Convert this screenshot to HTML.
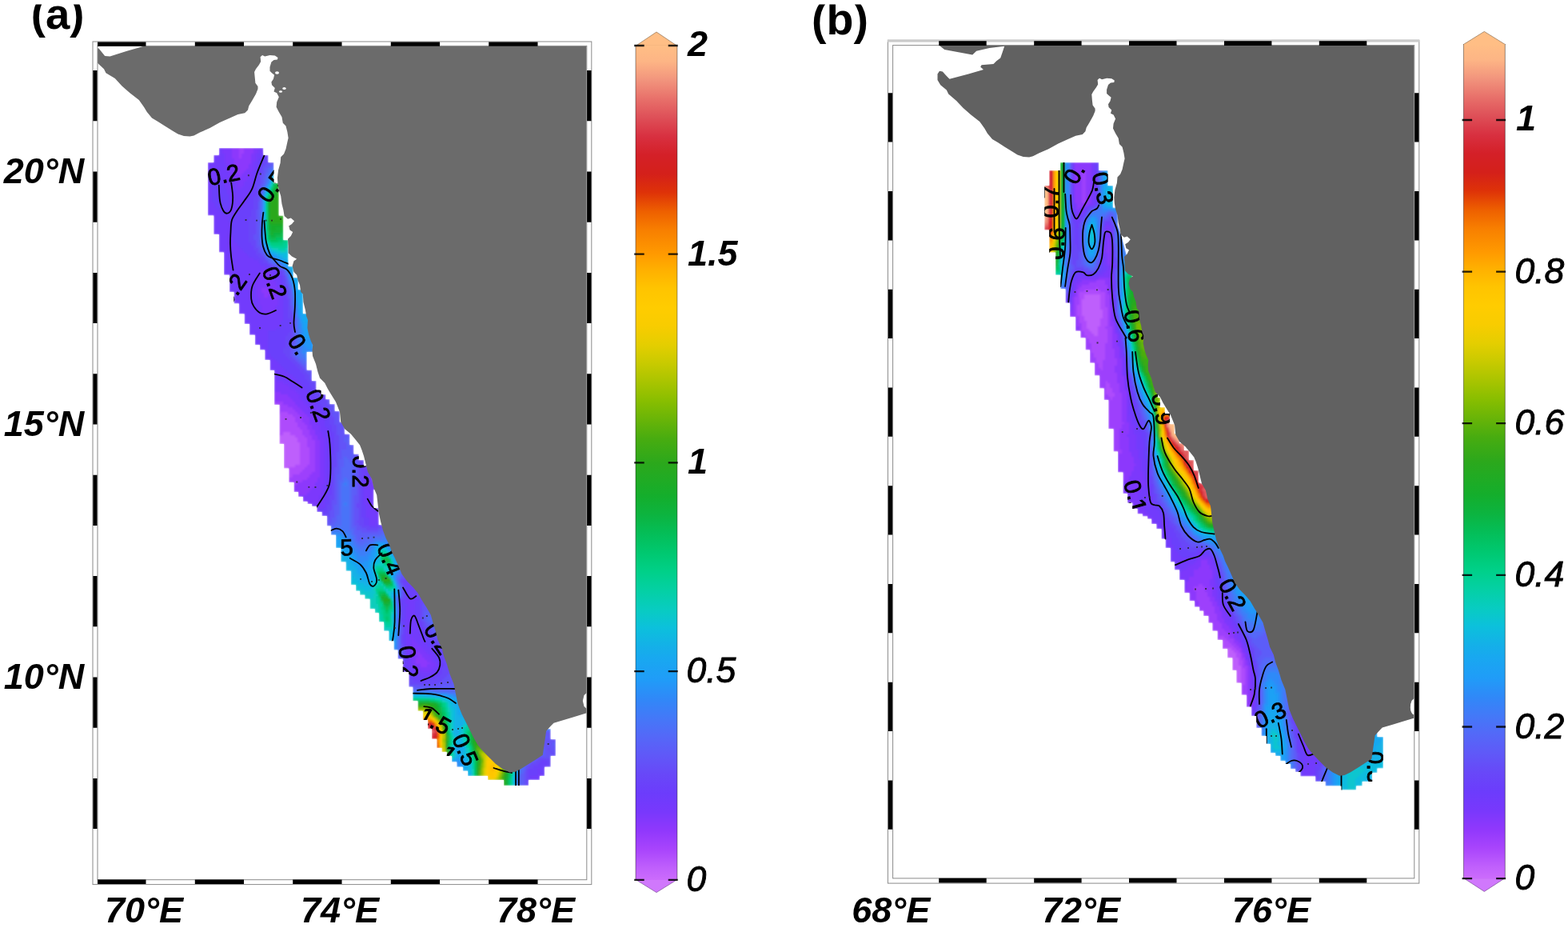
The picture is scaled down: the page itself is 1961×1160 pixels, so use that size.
<!DOCTYPE html>
<html lang="en"><head><meta charset="utf-8"><title>Figure: coastal maps (a) and (b)</title>
<style>
html,body{margin:0;padding:0;background:#fff;}
body{width:1961px;height:1160px;overflow:hidden;}
svg{display:block;}
text{font-family:"Liberation Sans", Arial, Helvetica, sans-serif;fill:#000;}
.bi{font-weight:bold;font-style:italic;font-size:45px;}
.b{font-weight:bold;font-size:55.5px;}
.ba{font-size:54.5px;}
.ci{font-style:italic;font-size:44.5px;stroke:#000;stroke-width:0.9px;}
.cl{font-size:29px;}
</style></head><body>
<svg width="1961" height="1160" viewBox="0 0 1961 1160">
<defs>
<linearGradient id="cbA" gradientUnits="userSpaceOnUse" x1="0" y1="56.9" x2="0" y2="1100"><stop offset="0.0000" stop-color="#FFBE85"/><stop offset="0.0190" stop-color="#FDB585"/><stop offset="0.0410" stop-color="#F2957D"/><stop offset="0.0640" stop-color="#E8706A"/><stop offset="0.0860" stop-color="#DE5058"/><stop offset="0.1090" stop-color="#D83040"/><stop offset="0.1310" stop-color="#D42028"/><stop offset="0.1540" stop-color="#D4201A"/><stop offset="0.1760" stop-color="#DE3208"/><stop offset="0.1990" stop-color="#EE6000"/><stop offset="0.2220" stop-color="#F88000"/><stop offset="0.2500" stop-color="#FF9A00"/><stop offset="0.2690" stop-color="#FFB000"/><stop offset="0.2910" stop-color="#FFC400"/><stop offset="0.3140" stop-color="#FFCC00"/><stop offset="0.3360" stop-color="#F8CC00"/><stop offset="0.3590" stop-color="#E4CE00"/><stop offset="0.3810" stop-color="#C8CA00"/><stop offset="0.4040" stop-color="#A8C400"/><stop offset="0.4260" stop-color="#88BE00"/><stop offset="0.4490" stop-color="#68B408"/><stop offset="0.4710" stop-color="#48AC10"/><stop offset="0.5000" stop-color="#2CA81C"/><stop offset="0.5400" stop-color="#14AE2C"/><stop offset="0.5630" stop-color="#0CB440"/><stop offset="0.5850" stop-color="#04BE58"/><stop offset="0.6080" stop-color="#00C870"/><stop offset="0.6300" stop-color="#00D088"/><stop offset="0.6530" stop-color="#04D0A4"/><stop offset="0.6750" stop-color="#08CCC0"/><stop offset="0.6980" stop-color="#0CC0DC"/><stop offset="0.7200" stop-color="#14B0E8"/><stop offset="0.7340" stop-color="#18A8F0"/><stop offset="0.7600" stop-color="#209CF8"/><stop offset="0.7830" stop-color="#3088F8"/><stop offset="0.8060" stop-color="#4478F8"/><stop offset="0.8280" stop-color="#5468F8"/><stop offset="0.8510" stop-color="#6058F8"/><stop offset="0.8730" stop-color="#6848F8"/><stop offset="0.8960" stop-color="#6C3CFC"/><stop offset="0.9180" stop-color="#7838FC"/><stop offset="0.9410" stop-color="#9038FC"/><stop offset="0.9630" stop-color="#A844FC"/><stop offset="0.9860" stop-color="#C060FC"/><stop offset="1.0000" stop-color="#CC6CFC"/></linearGradient>
<linearGradient id="cbB" gradientUnits="userSpaceOnUse" x1="0" y1="55" x2="0" y2="1098.1"><stop offset="0.0000" stop-color="#FFBE85"/><stop offset="0.0190" stop-color="#FDB585"/><stop offset="0.0410" stop-color="#F2957D"/><stop offset="0.0640" stop-color="#E8706A"/><stop offset="0.0860" stop-color="#DE5058"/><stop offset="0.1090" stop-color="#D83040"/><stop offset="0.1310" stop-color="#D42028"/><stop offset="0.1540" stop-color="#D4201A"/><stop offset="0.1760" stop-color="#DE3208"/><stop offset="0.1990" stop-color="#EE6000"/><stop offset="0.2220" stop-color="#F88000"/><stop offset="0.2500" stop-color="#FF9A00"/><stop offset="0.2690" stop-color="#FFB000"/><stop offset="0.2910" stop-color="#FFC400"/><stop offset="0.3140" stop-color="#FFCC00"/><stop offset="0.3360" stop-color="#F8CC00"/><stop offset="0.3590" stop-color="#E4CE00"/><stop offset="0.3810" stop-color="#C8CA00"/><stop offset="0.4040" stop-color="#A8C400"/><stop offset="0.4260" stop-color="#88BE00"/><stop offset="0.4490" stop-color="#68B408"/><stop offset="0.4710" stop-color="#48AC10"/><stop offset="0.5000" stop-color="#2CA81C"/><stop offset="0.5400" stop-color="#14AE2C"/><stop offset="0.5630" stop-color="#0CB440"/><stop offset="0.5850" stop-color="#04BE58"/><stop offset="0.6080" stop-color="#00C870"/><stop offset="0.6300" stop-color="#00D088"/><stop offset="0.6530" stop-color="#04D0A4"/><stop offset="0.6750" stop-color="#08CCC0"/><stop offset="0.6980" stop-color="#0CC0DC"/><stop offset="0.7200" stop-color="#14B0E8"/><stop offset="0.7340" stop-color="#18A8F0"/><stop offset="0.7600" stop-color="#209CF8"/><stop offset="0.7830" stop-color="#3088F8"/><stop offset="0.8060" stop-color="#4478F8"/><stop offset="0.8280" stop-color="#5468F8"/><stop offset="0.8510" stop-color="#6058F8"/><stop offset="0.8730" stop-color="#6848F8"/><stop offset="0.8960" stop-color="#6C3CFC"/><stop offset="0.9180" stop-color="#7838FC"/><stop offset="0.9410" stop-color="#9038FC"/><stop offset="0.9630" stop-color="#A844FC"/><stop offset="0.9860" stop-color="#C060FC"/><stop offset="1.0000" stop-color="#CC6CFC"/></linearGradient>
<clipPath id="mA"><path d="M273.8 185 L273.8 193.8 L267.2 193.8 L267.2 203 L259.8 203 L259.8 269.4 L267.2 269.4 L267.2 293.1 L273.8 293.1 L273.8 315.6 L280 315.6 L280 343.8 L286.9 343.8 L286.9 365 L292.5 365 L292.5 379.4 L298.8 379.4 L298.8 392.5 L305.6 392.5 L305.6 405 L311.9 405 L311.9 418.8 L318.8 418.8 L318.8 431.2 L325 431.2 L325 437.5 L331.2 437.5 L331.2 450 L337.5 450 L337.5 463 L343 463 L343 506 L349.4 506 L349.4 555 L355 555 L355 585.6 L361.2 585.6 L361.2 603 L367.5 603 L367.5 615 L373 615 L373 621 L378.8 621 L378.8 627 L384.5 627 L384.5 630 L390 630 L390 633 L396.2 633 L396.2 640 L402.5 640 L402.5 645 L408.8 645 L408.8 657.5 L413.8 657.5 L413.8 668.8 L420 668.8 L420 685 L426.2 685 L426.2 702.5 L432.5 702.5 L432.5 713.8 L438.8 713.8 L438.8 731.2 L445 731.2 L445 738.8 L450 738.8 L450 743.8 L456.2 743.8 L456.2 748.8 L462.5 748.8 L462.5 761.2 L468.8 761.2 L468.8 766.2 L473.8 766.2 L473.8 777.5 L480 777.5 L480 788.8 L486.2 788.8 L486.2 801.2 L492.5 801.2 L492.5 812.5 L497.5 812.5 L497.5 823.8 L503.8 823.8 L503.8 840 L511.2 840 L511.2 858.8 L516.2 858.8 L516.2 876.2 L522.5 876.2 L522.5 888.8 L528.8 888.8 L528.8 900 L535 900 L535 911.2 L540 911.2 L540 923.8 L546.2 923.8 L546.2 935 L552.5 935 L552.5 940 L558.8 940 L558.8 945 L565 945 L565 952.5 L571.2 952.5 L571.2 958.8 L578.8 958.8 L578.8 963.8 L585 963.8 L585 970 L610 970 L610 975 L630 975 L630 982 L661.2 982 L661.2 975 L675 975 L675 970 L681.2 970 L681.2 958.8 L688.8 958.8 L688.8 945 L695 945 L695 924 L688.8 924 L688.8 911 L680 911 L650 935 L610 910 L590 870 L575 830 L565 800 L555 775 L540 745 L520 715 L505 690 L492 668 L477.5 656 L473.8 656 L473.8 635 L467.5 635 L467.5 612 L470 612 L465 595 L460 582.5 L455 582.5 L455 575 L448.8 575 L448.8 567.5 L442.5 567.5 L442.5 556 L437.5 556 L437.5 542.5 L431.2 542.5 L431.2 527.5 L425 527.5 L425 513.8 L418.8 513.8 L418.8 505 L412.5 505 L412.5 499 L407.5 499 L407.5 493 L401.5 493 L401.5 487.5 L395.6 487.5 L395.6 476 L390 476 L390 462.5 L383.8 462.5 L383.8 440 L392 440 L392 420 L388 400 L385 392 L379 392 L379 362 L373 362 L373 347 L366.9 347 L366.9 333 L360.6 333 L360.6 300 L354.4 300 L354.4 269.4 L348.8 269.4 L348.8 228.8 L342.5 228.8 L342.5 203 L335.6 203 L335.6 193.8 L329.4 193.8 L329.4 185Z"/></clipPath>
<clipPath id="mB"><path d="M1326 203 L1326 213 L1312.2 213 L1312.2 232 L1306.2 232 L1306.2 287.5 L1312.2 287.5 L1312.2 315.6 L1320 315.6 L1320 343.8 L1326.2 343.8 L1326.2 361.2 L1332.5 361.2 L1332.5 378.8 L1338 378.8 L1338 396.2 L1345 396.2 L1345 413.8 L1351.2 413.8 L1351.2 422.5 L1357.5 422.5 L1357.5 437.5 L1363 437.5 L1363 453.8 L1368.8 453.8 L1368.8 469.4 L1375 469.4 L1375 485.6 L1380.6 485.6 L1380.6 500 L1386.2 500 L1386.2 536.2 L1392.5 536.2 L1392.5 564.4 L1398 564.4 L1398 590.6 L1404.4 590.6 L1404.4 617 L1410 617 L1410 628.8 L1416.2 628.8 L1416.2 636 L1422.5 636 L1422.5 642.5 L1428.8 642.5 L1428.8 645.5 L1435 645.5 L1435 648.8 L1440 648.8 L1440 655 L1446.2 655 L1446.2 661.2 L1452.5 661.2 L1452.5 673.8 L1457.5 673.8 L1457.5 685 L1463.8 685 L1463.8 702.5 L1468.8 702.5 L1468.8 712.5 L1475 712.5 L1475 725 L1481.2 725 L1481.2 741.2 L1487.5 741.2 L1487.5 751.2 L1493.8 751.2 L1493.8 758.8 L1500 758.8 L1500 763.8 L1505 763.8 L1505 770 L1511.2 770 L1511.2 778.8 L1516.2 778.8 L1516.2 788.8 L1522.5 788.8 L1522.5 800 L1528.8 800 L1528.8 811.2 L1535 811.2 L1535 822.5 L1541.2 822.5 L1541.2 838 L1546.2 838 L1546.2 853.8 L1552.5 853.8 L1552.5 868.8 L1558.8 868.8 L1558.8 883.8 L1565 883.8 L1565 895 L1571.2 895 L1571.2 910 L1577.5 910 L1577.5 920 L1583.8 920 L1583.8 930 L1588.8 930 L1588.8 941.2 L1595 941.2 L1595 945 L1601.2 945 L1601.2 951.2 L1607.5 951.2 L1607.5 955 L1613.8 955 L1613.8 961.2 L1620 961.2 L1620 965 L1626.2 965 L1626.2 970.6 L1645 970.6 L1645 977 L1657.5 977 L1657.5 982.5 L1677.5 982.5 L1677.5 987.5 L1696.2 987.5 L1696.2 982.5 L1703.8 982.5 L1703.8 977 L1716.2 977 L1716.2 966 L1722.5 966 L1722.5 960.5 L1730 960.5 L1730 921 L1722.5 921 L1722.5 914 L1718 914 L1690 940 L1650 915 L1630 880 L1618 840 L1605 805 L1590 770 L1570 740 L1550 715 L1535 690 L1528 665 L1522 640 L1518 620 L1508 606 L1499 603 L1499 588 L1493 588 L1493 575 L1487 575 L1487 563 L1481 563 L1481 554 L1475 554 L1475 542 L1469 542 L1469 530 L1463 530 L1463 517 L1457 517 L1457 509 L1451 509 L1451 497 L1448 497 L1448 480 L1440 440 L1430 400 L1420 360 L1412 330 L1404 300 L1398 280 L1398 259.4 L1392 259.4 L1392 232 L1385.6 232 L1385.6 213 L1374.4 213 L1374.4 203Z"/></clipPath>
<clipPath id="fA"><rect x="122" y="57.4" width="611.8" height="1042.3"/></clipPath>
<clipPath id="fB"><rect x="1116.6" y="56.6" width="652.2" height="1041.3"/></clipPath>
<clipPath id="tA"><rect x="0" y="5.4" width="300" height="60"/></clipPath>
<clipPath id="tB"><rect x="1000" y="5.4" width="300" height="60"/></clipPath>
<filter id="bl" x="-5%" y="-5%" width="110%" height="110%"><feGaussianBlur stdDeviation="0.8"/></filter>
</defs>
<rect width="1961" height="1160" fill="#fff"/>
<g id="panel-a">
<g clip-path="url(#mA)"><g filter="url(#bl)"><g clip-path="url(#mA)" shape-rendering="crispEdges">
<path fill="#be5efc" d="M353.7 539.7h9.8v3.8h-9.8zM347.6 542.8h22v3.8h-22zM347.6 546h25.1v3.8h-25.1zM347.6 549.2h25.1v3.8h-25.1zM347.6 552.3h28.2v3.8h-28.2zM353.7 555.5h22v3.8h-22zM353.7 558.6h22v3.8h-22zM353.7 561.8h22v3.8h-22zM353.7 565h22v3.8h-22zM353.7 568.1h22v3.8h-22zM353.7 571.3h22v3.8h-22zM353.7 574.4h22v3.8h-22zM353.7 577.6h22v3.8h-22zM353.7 580.8h15.9v3.8h-15.9zM353.7 583.9h6.7v3.8h-6.7z"/>
<path fill="#ae4bfc" d="M350.6 514.4h9.8v3.8h-9.8zM347.6 517.6h19v3.8h-19zM347.6 520.7h22v3.8h-22zM347.6 523.9h22v3.8h-22zM347.6 527h25.1v3.8h-25.1zM347.6 530.2h25.1v3.8h-25.1zM347.6 533.4h28.2v3.8h-28.2zM347.6 536.5h31.2v3.8h-31.2zM347.6 539.7h6.7v3.8h-6.7zM362.9 539.7h15.9v3.8h-15.9zM369 542.8h12.8v3.8h-12.8zM372.1 546h12.8v3.8h-12.8zM372.1 549.2h12.8v3.8h-12.8zM375.1 552.3h9.8v3.8h-9.8zM375.1 555.5h9.8v3.8h-9.8zM375.1 558.6h12.8v3.8h-12.8zM375.1 561.8h12.8v3.8h-12.8zM375.1 565h12.8v3.8h-12.8zM375.1 568.1h12.8v3.8h-12.8zM375.1 571.3h12.8v3.8h-12.8zM375.1 574.4h12.8v3.8h-12.8zM375.1 577.6h12.8v3.8h-12.8zM369 580.8h15.9v3.8h-15.9zM359.8 583.9h22v3.8h-22zM359.8 587.1h19v3.8h-19zM359.8 590.2h15.9v3.8h-15.9zM359.8 593.4h6.7v3.8h-6.7z"/>
<path fill="#9d3ffc" d="M298.6 182.6h6.7v3.8h-6.7zM298.6 185.8h6.7v3.8h-6.7zM298.6 188.9h6.7v3.8h-6.7zM298.6 192.1h3.7v3.8h-3.7zM298.6 195.2h3.7v3.8h-3.7zM341.4 501.8h12.8v3.8h-12.8zM341.4 504.9h19v3.8h-19zM347.6 508.1h19v3.8h-19zM347.6 511.2h22v3.8h-22zM347.6 514.4h3.7v3.8h-3.7zM359.8 514.4h12.8v3.8h-12.8zM365.9 517.6h9.8v3.8h-9.8zM369 520.7h9.8v3.8h-9.8zM369 523.9h9.8v3.8h-9.8zM372.1 527h9.8v3.8h-9.8zM372.1 530.2h12.8v3.8h-12.8zM375.1 533.4h9.8v3.8h-9.8zM378.2 536.5h9.8v3.8h-9.8zM378.2 539.7h9.8v3.8h-9.8zM381.3 542.8h9.8v3.8h-9.8zM384.3 546h6.7v3.8h-6.7zM384.3 549.2h9.8v3.8h-9.8zM384.3 552.3h9.8v3.8h-9.8zM384.3 555.5h9.8v3.8h-9.8zM387.4 558.6h6.7v3.8h-6.7zM387.4 561.8h6.7v3.8h-6.7zM387.4 565h6.7v3.8h-6.7zM387.4 568.1h6.7v3.8h-6.7zM387.4 571.3h6.7v3.8h-6.7zM387.4 574.4h6.7v3.8h-6.7zM387.4 577.6h6.7v3.8h-6.7zM384.3 580.8h9.8v3.8h-9.8zM381.3 583.9h12.8v3.8h-12.8zM378.2 587.1h15.9v3.8h-15.9zM375.1 590.2h15.9v3.8h-15.9zM365.9 593.4h22v3.8h-22zM359.8 596.6h25.1v3.8h-25.1zM359.8 599.7h19v3.8h-19zM365.9 602.9h6.7v3.8h-6.7z"/>
<path fill="#8c38fc" d="M289.4 182.6h9.8v3.8h-9.8zM304.7 182.6h12.8v3.8h-12.8zM289.4 185.8h9.8v3.8h-9.8zM304.7 185.8h12.8v3.8h-12.8zM289.4 188.9h9.8v3.8h-9.8zM304.7 188.9h12.8v3.8h-12.8zM289.4 192.1h9.8v3.8h-9.8zM301.6 192.1h12.8v3.8h-12.8zM289.4 195.2h9.8v3.8h-9.8zM301.6 195.2h12.8v3.8h-12.8zM292.4 198.4h22v3.8h-22zM292.4 201.6h22v3.8h-22zM292.4 204.7h19v3.8h-19zM292.4 207.9h19v3.8h-19zM295.5 211h12.8v3.8h-12.8zM295.5 214.2h9.8v3.8h-9.8zM298.6 217.4h3.7v3.8h-3.7zM326.1 359.6h9.8v3.8h-9.8zM326.1 362.7h15.9v3.8h-15.9zM329.2 365.9h9.8v3.8h-9.8zM329.2 369h6.7v3.8h-6.7zM341.4 489.1h9.8v3.8h-9.8zM341.4 492.3h19v3.8h-19zM341.4 495.4h22v3.8h-22zM341.4 498.6h25.1v3.8h-25.1zM353.7 501.8h15.9v3.8h-15.9zM359.8 504.9h12.8v3.8h-12.8zM365.9 508.1h9.8v3.8h-9.8zM369 511.2h9.8v3.8h-9.8zM372.1 514.4h9.8v3.8h-9.8zM375.1 517.6h9.8v3.8h-9.8zM378.2 520.7h9.8v3.8h-9.8zM378.2 523.9h9.8v3.8h-9.8zM381.3 527h6.7v3.8h-6.7zM384.3 530.2h6.7v3.8h-6.7zM384.3 533.4h6.7v3.8h-6.7zM387.4 536.5h6.7v3.8h-6.7zM387.4 539.7h6.7v3.8h-6.7zM390.4 542.8h6.7v3.8h-6.7zM390.4 546h6.7v3.8h-6.7zM393.5 549.2h6.7v3.8h-6.7zM393.5 552.3h6.7v3.8h-6.7zM393.5 555.5h6.7v3.8h-6.7zM393.5 558.6h6.7v3.8h-6.7zM393.5 561.8h6.7v3.8h-6.7zM393.5 565h6.7v3.8h-6.7zM393.5 568.1h6.7v3.8h-6.7zM393.5 571.3h6.7v3.8h-6.7zM393.5 574.4h6.7v3.8h-6.7zM393.5 577.6h6.7v3.8h-6.7zM393.5 580.8h6.7v3.8h-6.7zM393.5 583.9h6.7v3.8h-6.7zM393.5 587.1h6.7v3.8h-6.7zM390.4 590.2h9.8v3.8h-9.8zM387.4 593.4h12.8v3.8h-12.8zM384.3 596.6h12.8v3.8h-12.8zM378.2 599.7h19v3.8h-19zM372.1 602.9h22v3.8h-22zM365.9 606h28.2v3.8h-28.2zM365.9 609.2h25.1v3.8h-25.1zM365.9 612.4h22v3.8h-22zM372.1 615.5h12.8v3.8h-12.8zM372.1 618.7h3.7v3.8h-3.7zM519.1 814.6h6.7v3.8h-6.7zM522.1 817.8h6.7v3.8h-6.7zM519.1 820.9h12.8v3.8h-12.8zM519.1 824.1h15.9v3.8h-15.9zM519.1 827.2h19v3.8h-19zM525.2 830.4h9.8v3.8h-9.8z"/>
<path fill="#7c38fc" d="M277.1 182.6h12.8v3.8h-12.8zM316.9 182.6h6.7v3.8h-6.7zM277.1 185.8h12.8v3.8h-12.8zM316.9 185.8h6.7v3.8h-6.7zM277.1 188.9h12.8v3.8h-12.8zM316.9 188.9h6.7v3.8h-6.7zM280.2 192.1h9.8v3.8h-9.8zM313.9 192.1h6.7v3.8h-6.7zM280.2 195.2h9.8v3.8h-9.8zM313.9 195.2h6.7v3.8h-6.7zM280.2 198.4h12.8v3.8h-12.8zM313.9 198.4h6.7v3.8h-6.7zM280.2 201.6h12.8v3.8h-12.8zM313.9 201.6h3.7v3.8h-3.7zM283.3 204.7h9.8v3.8h-9.8zM310.8 204.7h6.7v3.8h-6.7zM283.3 207.9h9.8v3.8h-9.8zM310.8 207.9h6.7v3.8h-6.7zM283.3 211h12.8v3.8h-12.8zM307.8 211h9.8v3.8h-9.8zM286.3 214.2h9.8v3.8h-9.8zM304.7 214.2h9.8v3.8h-9.8zM286.3 217.4h12.8v3.8h-12.8zM301.6 217.4h12.8v3.8h-12.8zM289.4 220.5h22v3.8h-22zM292.4 223.7h15.9v3.8h-15.9zM295.5 226.8h9.8v3.8h-9.8zM295.5 230h9.8v3.8h-9.8zM295.5 233.2h6.7v3.8h-6.7zM326.1 337.4h12.8v3.8h-12.8zM323.1 340.6h15.9v3.8h-15.9zM320 343.8h22v3.8h-22zM320 346.9h22v3.8h-22zM320 350.1h25.1v3.8h-25.1zM316.9 353.2h28.2v3.8h-28.2zM320 356.4h28.2v3.8h-28.2zM320 359.6h6.7v3.8h-6.7zM335.3 359.6h12.8v3.8h-12.8zM320 362.7h6.7v3.8h-6.7zM341.4 362.7h6.7v3.8h-6.7zM320 365.9h9.8v3.8h-9.8zM338.4 365.9h9.8v3.8h-9.8zM320 369h9.8v3.8h-9.8zM335.3 369h12.8v3.8h-12.8zM323.1 372.2h25.1v3.8h-25.1zM323.1 375.4h25.1v3.8h-25.1zM323.1 378.5h25.1v3.8h-25.1zM326.1 381.7h19v3.8h-19zM326.1 384.8h19v3.8h-19zM326.1 388h19v3.8h-19zM332.3 391.2h9.8v3.8h-9.8zM341.4 473.3h3.7v3.8h-3.7zM341.4 476.5h12.8v3.8h-12.8zM341.4 479.6h19v3.8h-19zM341.4 482.8h22v3.8h-22zM341.4 486h28.2v3.8h-28.2zM350.6 489.1h22v3.8h-22zM359.8 492.3h15.9v3.8h-15.9zM362.9 495.4h12.8v3.8h-12.8zM365.9 498.6h12.8v3.8h-12.8zM369 501.8h12.8v3.8h-12.8zM372.1 504.9h12.8v3.8h-12.8zM375.1 508.1h12.8v3.8h-12.8zM378.2 511.2h9.8v3.8h-9.8zM381.3 514.4h9.8v3.8h-9.8zM384.3 517.6h9.8v3.8h-9.8zM387.4 520.7h6.7v3.8h-6.7zM387.4 523.9h9.8v3.8h-9.8zM387.4 527h9.8v3.8h-9.8zM390.4 530.2h9.8v3.8h-9.8zM390.4 533.4h9.8v3.8h-9.8zM393.5 536.5h6.7v3.8h-6.7zM393.5 539.7h9.8v3.8h-9.8zM396.6 542.8h6.7v3.8h-6.7zM396.6 546h9.8v3.8h-9.8zM399.6 549.2h6.7v3.8h-6.7zM399.6 552.3h6.7v3.8h-6.7zM399.6 555.5h6.7v3.8h-6.7zM399.6 558.6h6.7v3.8h-6.7zM399.6 561.8h6.7v3.8h-6.7zM399.6 565h6.7v3.8h-6.7zM399.6 568.1h6.7v3.8h-6.7zM399.6 571.3h6.7v3.8h-6.7zM399.6 574.4h6.7v3.8h-6.7zM399.6 577.6h6.7v3.8h-6.7zM399.6 580.8h6.7v3.8h-6.7zM399.6 583.9h6.7v3.8h-6.7zM399.6 587.1h6.7v3.8h-6.7zM399.6 590.2h6.7v3.8h-6.7zM399.6 593.4h6.7v3.8h-6.7zM396.6 596.6h9.8v3.8h-9.8zM396.6 599.7h9.8v3.8h-9.8zM393.5 602.9h12.8v3.8h-12.8zM393.5 606h9.8v3.8h-9.8zM390.4 609.2h12.8v3.8h-12.8zM387.4 612.4h15.9v3.8h-15.9zM384.3 615.5h19v3.8h-19zM375.1 618.7h25.1v3.8h-25.1zM378.2 621.8h22v3.8h-22zM378.2 625h22v3.8h-22zM381.3 628.2h15.9v3.8h-15.9zM513 795.6h3.7v3.8h-3.7zM513 798.8h6.7v3.8h-6.7zM513 802h9.8v3.8h-9.8zM513 805.1h12.8v3.8h-12.8zM513 808.3h15.9v3.8h-15.9zM513 811.4h19v3.8h-19zM513 814.6h6.7v3.8h-6.7zM525.2 814.6h9.8v3.8h-9.8zM513 817.8h9.8v3.8h-9.8zM528.3 817.8h9.8v3.8h-9.8zM513 820.9h6.7v3.8h-6.7zM531.3 820.9h9.8v3.8h-9.8zM513 824.1h6.7v3.8h-6.7zM534.4 824.1h6.7v3.8h-6.7zM513 827.2h6.7v3.8h-6.7zM537.5 827.2h6.7v3.8h-6.7zM516 830.4h9.8v3.8h-9.8zM534.4 830.4h9.8v3.8h-9.8zM519.1 833.6h22v3.8h-22zM525.2 836.7h12.8v3.8h-12.8z"/>
<path fill="#723afc" d="M271 182.6h6.7v3.8h-6.7zM323.1 182.6h9.8v3.8h-9.8zM271 185.8h6.7v3.8h-6.7zM323.1 185.8h9.8v3.8h-9.8zM271 188.9h6.7v3.8h-6.7zM323.1 188.9h6.7v3.8h-6.7zM264.9 192.1h15.9v3.8h-15.9zM320 192.1h6.7v3.8h-6.7zM264.9 195.2h15.9v3.8h-15.9zM320 195.2h6.7v3.8h-6.7zM264.9 198.4h15.9v3.8h-15.9zM320 198.4h3.7v3.8h-3.7zM258.8 201.6h22v3.8h-22zM316.9 201.6h6.7v3.8h-6.7zM258.8 204.7h25.1v3.8h-25.1zM316.9 204.7h6.7v3.8h-6.7zM258.8 207.9h25.1v3.8h-25.1zM316.9 207.9h6.7v3.8h-6.7zM258.8 211h25.1v3.8h-25.1zM316.9 211h3.7v3.8h-3.7zM258.8 214.2h28.2v3.8h-28.2zM313.9 214.2h6.7v3.8h-6.7zM258.8 217.4h28.2v3.8h-28.2zM313.9 217.4h6.7v3.8h-6.7zM258.8 220.5h31.2v3.8h-31.2zM310.8 220.5h6.7v3.8h-6.7zM258.8 223.7h12.8v3.8h-12.8zM277.1 223.7h15.9v3.8h-15.9zM307.8 223.7h9.8v3.8h-9.8zM258.8 226.8h9.8v3.8h-9.8zM277.1 226.8h19v3.8h-19zM304.7 226.8h12.8v3.8h-12.8zM258.8 230h6.7v3.8h-6.7zM280.2 230h15.9v3.8h-15.9zM304.7 230h9.8v3.8h-9.8zM258.8 233.2h6.7v3.8h-6.7zM280.2 233.2h15.9v3.8h-15.9zM301.6 233.2h12.8v3.8h-12.8zM258.8 236.3h6.7v3.8h-6.7zM283.3 236.3h31.2v3.8h-31.2zM258.8 239.5h6.7v3.8h-6.7zM283.3 239.5h28.2v3.8h-28.2zM258.8 242.6h6.7v3.8h-6.7zM286.3 242.6h25.1v3.8h-25.1zM258.8 245.8h6.7v3.8h-6.7zM286.3 245.8h25.1v3.8h-25.1zM258.8 249h6.7v3.8h-6.7zM286.3 249h22v3.8h-22zM258.8 252.1h9.8v3.8h-9.8zM286.3 252.1h22v3.8h-22zM258.8 255.3h9.8v3.8h-9.8zM286.3 255.3h19v3.8h-19zM258.8 258.4h12.8v3.8h-12.8zM286.3 258.4h15.9v3.8h-15.9zM258.8 261.6h15.9v3.8h-15.9zM283.3 261.6h15.9v3.8h-15.9zM258.8 264.8h19v3.8h-19zM283.3 264.8h12.8v3.8h-12.8zM258.8 267.9h31.2v3.8h-31.2zM264.9 271.1h22v3.8h-22zM264.9 274.2h22v3.8h-22zM264.9 277.4h25.1v3.8h-25.1zM264.9 280.6h25.1v3.8h-25.1zM264.9 283.7h25.1v3.8h-25.1zM264.9 286.9h25.1v3.8h-25.1zM264.9 290h25.1v3.8h-25.1zM271 293.2h22v3.8h-22zM271 296.4h22v3.8h-22zM271 299.5h22v3.8h-22zM271 302.7h25.1v3.8h-25.1zM271 305.8h28.2v3.8h-28.2zM271 309h31.2v3.8h-31.2zM271 312.2h34.3v3.8h-34.3zM271 315.3h37.4v3.8h-37.4zM277.1 318.5h34.3v3.8h-34.3zM277.1 321.6h40.4v3.8h-40.4zM277.1 324.8h46.5v3.8h-46.5zM277.1 328h49.6v3.8h-49.6zM277.1 331.1h55.7v3.8h-55.7zM277.1 334.3h61.9v3.8h-61.9zM277.1 337.4h49.6v3.8h-49.6zM338.4 337.4h6.7v3.8h-6.7zM277.1 340.6h46.5v3.8h-46.5zM338.4 340.6h9.8v3.8h-9.8zM286.3 343.8h34.3v3.8h-34.3zM341.4 343.8h9.8v3.8h-9.8zM286.3 346.9h34.3v3.8h-34.3zM341.4 346.9h9.8v3.8h-9.8zM286.3 350.1h34.3v3.8h-34.3zM344.5 350.1h6.7v3.8h-6.7zM286.3 353.2h31.2v3.8h-31.2zM344.5 353.2h9.8v3.8h-9.8zM286.3 356.4h34.3v3.8h-34.3zM347.6 356.4h6.7v3.8h-6.7zM286.3 359.6h34.3v3.8h-34.3zM347.6 359.6h6.7v3.8h-6.7zM286.3 362.7h34.3v3.8h-34.3zM347.6 362.7h6.7v3.8h-6.7zM289.4 365.9h31.2v3.8h-31.2zM347.6 365.9h6.7v3.8h-6.7zM289.4 369h31.2v3.8h-31.2zM347.6 369h6.7v3.8h-6.7zM289.4 372.2h34.3v3.8h-34.3zM347.6 372.2h6.7v3.8h-6.7zM289.4 375.4h34.3v3.8h-34.3zM347.6 375.4h6.7v3.8h-6.7zM289.4 378.5h34.3v3.8h-34.3zM347.6 378.5h6.7v3.8h-6.7zM295.5 381.7h31.2v3.8h-31.2zM344.5 381.7h9.8v3.8h-9.8zM295.5 384.8h31.2v3.8h-31.2zM344.5 384.8h9.8v3.8h-9.8zM295.5 388h31.2v3.8h-31.2zM344.5 388h9.8v3.8h-9.8zM295.5 391.2h37.4v3.8h-37.4zM341.4 391.2h12.8v3.8h-12.8zM304.7 394.3h49.6v3.8h-49.6zM304.7 397.5h49.6v3.8h-49.6zM304.7 400.6h46.5v3.8h-46.5zM304.7 403.8h46.5v3.8h-46.5zM310.8 407h40.4v3.8h-40.4zM310.8 410.1h34.3v3.8h-34.3zM310.8 413.3h25.1v3.8h-25.1zM310.8 416.4h25.1v3.8h-25.1zM316.9 419.6h19v3.8h-19zM316.9 422.8h19v3.8h-19zM316.9 425.9h19v3.8h-19zM316.9 429.1h19v3.8h-19zM323.1 432.2h12.8v3.8h-12.8zM323.1 435.4h12.8v3.8h-12.8zM329.2 438.6h6.7v3.8h-6.7zM329.2 441.7h9.8v3.8h-9.8zM329.2 444.9h12.8v3.8h-12.8zM329.2 448h15.9v3.8h-15.9zM335.3 451.2h12.8v3.8h-12.8zM335.3 454.4h15.9v3.8h-15.9zM335.3 457.5h19v3.8h-19zM335.3 460.7h22v3.8h-22zM341.4 463.8h19v3.8h-19zM341.4 467h25.1v3.8h-25.1zM341.4 470.2h28.2v3.8h-28.2zM344.5 473.3h28.2v3.8h-28.2zM353.7 476.5h22v3.8h-22zM359.8 479.6h19v3.8h-19zM362.9 482.8h19v3.8h-19zM369 486h15.9v3.8h-15.9zM372.1 489.1h12.8v3.8h-12.8zM375.1 492.3h12.8v3.8h-12.8zM375.1 495.4h15.9v3.8h-15.9zM378.2 498.6h12.8v3.8h-12.8zM381.3 501.8h12.8v3.8h-12.8zM384.3 504.9h12.8v3.8h-12.8zM387.4 508.1h12.8v3.8h-12.8zM387.4 511.2h12.8v3.8h-12.8zM390.4 514.4h12.8v3.8h-12.8zM393.5 517.6h12.8v3.8h-12.8zM393.5 520.7h12.8v3.8h-12.8zM396.6 523.9h9.8v3.8h-9.8zM396.6 527h9.8v3.8h-9.8zM399.6 530.2h6.7v3.8h-6.7zM399.6 533.4h9.8v3.8h-9.8zM399.6 536.5h9.8v3.8h-9.8zM402.7 539.7h6.7v3.8h-6.7zM402.7 542.8h9.8v3.8h-9.8zM405.8 546h6.7v3.8h-6.7zM405.8 549.2h6.7v3.8h-6.7zM405.8 552.3h6.7v3.8h-6.7zM405.8 555.5h6.7v3.8h-6.7zM405.8 558.6h6.7v3.8h-6.7zM405.8 561.8h6.7v3.8h-6.7zM405.8 565h6.7v3.8h-6.7zM405.8 568.1h6.7v3.8h-6.7zM405.8 571.3h6.7v3.8h-6.7zM405.8 574.4h6.7v3.8h-6.7zM405.8 577.6h6.7v3.8h-6.7zM405.8 580.8h6.7v3.8h-6.7zM405.8 583.9h6.7v3.8h-6.7zM405.8 587.1h6.7v3.8h-6.7zM405.8 590.2h6.7v3.8h-6.7zM405.8 593.4h6.7v3.8h-6.7zM405.8 596.6h6.7v3.8h-6.7zM457.8 596.6h9.8v3.8h-9.8zM405.8 599.7h6.7v3.8h-6.7zM454.8 599.7h15.9v3.8h-15.9zM405.8 602.9h6.7v3.8h-6.7zM454.8 602.9h15.9v3.8h-15.9zM402.7 606h9.8v3.8h-9.8zM454.8 606h15.9v3.8h-15.9zM402.7 609.2h6.7v3.8h-6.7zM454.8 609.2h15.9v3.8h-15.9zM402.7 612.4h6.7v3.8h-6.7zM454.8 612.4h15.9v3.8h-15.9zM402.7 615.5h6.7v3.8h-6.7zM454.8 615.5h15.9v3.8h-15.9zM399.6 618.7h9.8v3.8h-9.8zM454.8 618.7h15.9v3.8h-15.9zM399.6 621.8h6.7v3.8h-6.7zM454.8 621.8h15.9v3.8h-15.9zM399.6 625h6.7v3.8h-6.7zM454.8 625h15.9v3.8h-15.9zM396.6 628.2h9.8v3.8h-9.8zM454.8 628.2h15.9v3.8h-15.9zM387.4 631.3h19v3.8h-19zM457.8 631.3h12.8v3.8h-12.8zM393.5 634.5h6.7v3.8h-6.7zM457.8 634.5h19v3.8h-19zM457.8 637.6h19v3.8h-19zM457.8 640.8h19v3.8h-19zM457.8 644h19v3.8h-19zM460.9 647.1h15.9v3.8h-15.9zM460.9 650.3h15.9v3.8h-15.9zM460.9 653.4h9.8v3.8h-9.8zM509.9 745.1h9.8v3.8h-9.8zM506.8 748.2h15.9v3.8h-15.9zM506.8 751.4h12.8v3.8h-12.8zM509.9 754.6h9.8v3.8h-9.8zM506.8 757.7h12.8v3.8h-12.8zM506.8 760.9h12.8v3.8h-12.8zM506.8 764h12.8v3.8h-12.8zM506.8 767.2h12.8v3.8h-12.8zM506.8 770.4h12.8v3.8h-12.8zM506.8 773.5h12.8v3.8h-12.8zM506.8 776.7h15.9v3.8h-15.9zM506.8 779.8h15.9v3.8h-15.9zM506.8 783h19v3.8h-19zM506.8 786.2h19v3.8h-19zM506.8 789.3h19v3.8h-19zM506.8 792.5h22v3.8h-22zM506.8 795.6h6.7v3.8h-6.7zM516 795.6h12.8v3.8h-12.8zM506.8 798.8h6.7v3.8h-6.7zM519.1 798.8h12.8v3.8h-12.8zM506.8 802h6.7v3.8h-6.7zM522.1 802h12.8v3.8h-12.8zM506.8 805.1h6.7v3.8h-6.7zM525.2 805.1h9.8v3.8h-9.8zM506.8 808.3h6.7v3.8h-6.7zM528.3 808.3h9.8v3.8h-9.8zM506.8 811.4h6.7v3.8h-6.7zM531.3 811.4h9.8v3.8h-9.8zM506.8 814.6h6.7v3.8h-6.7zM534.4 814.6h6.7v3.8h-6.7zM509.9 817.8h3.7v3.8h-3.7zM537.5 817.8h6.7v3.8h-6.7zM509.9 820.9h3.7v3.8h-3.7zM540.5 820.9h3.7v3.8h-3.7zM509.9 824.1h3.7v3.8h-3.7zM540.5 824.1h6.7v3.8h-6.7zM506.8 827.2h6.7v3.8h-6.7zM543.6 827.2h6.7v3.8h-6.7zM509.9 830.4h6.7v3.8h-6.7zM543.6 830.4h6.7v3.8h-6.7zM509.9 833.6h9.8v3.8h-9.8zM540.5 833.6h6.7v3.8h-6.7zM513 836.7h12.8v3.8h-12.8zM537.5 836.7h9.8v3.8h-9.8zM519.1 839.9h25.1v3.8h-25.1zM525.2 843h12.8v3.8h-12.8zM672.2 960h3.7v3.8h-3.7zM672.2 963.1h3.7v3.8h-3.7zM672.2 966.3h6.7v3.8h-6.7zM663 969.4h19v3.8h-19z"/>
<path fill="#6b3ffb" d="M329.2 188.9h3.7v3.8h-3.7zM326.1 192.1h12.8v3.8h-12.8zM326.1 195.2h6.7v3.8h-6.7zM323.1 198.4h6.7v3.8h-6.7zM323.1 201.6h6.7v3.8h-6.7zM323.1 204.7h3.7v3.8h-3.7zM323.1 207.9h3.7v3.8h-3.7zM320 211h6.7v3.8h-6.7zM320 214.2h6.7v3.8h-6.7zM320 217.4h3.7v3.8h-3.7zM316.9 220.5h6.7v3.8h-6.7zM271 223.7h6.7v3.8h-6.7zM316.9 223.7h6.7v3.8h-6.7zM267.9 226.8h9.8v3.8h-9.8zM316.9 226.8h3.7v3.8h-3.7zM264.9 230h15.9v3.8h-15.9zM313.9 230h6.7v3.8h-6.7zM264.9 233.2h15.9v3.8h-15.9zM313.9 233.2h6.7v3.8h-6.7zM264.9 236.3h19v3.8h-19zM313.9 236.3h6.7v3.8h-6.7zM264.9 239.5h19v3.8h-19zM310.8 239.5h9.8v3.8h-9.8zM264.9 242.6h22v3.8h-22zM310.8 242.6h9.8v3.8h-9.8zM264.9 245.8h22v3.8h-22zM310.8 245.8h6.7v3.8h-6.7zM264.9 249h22v3.8h-22zM307.8 249h9.8v3.8h-9.8zM267.9 252.1h19v3.8h-19zM307.8 252.1h9.8v3.8h-9.8zM267.9 255.3h19v3.8h-19zM304.7 255.3h12.8v3.8h-12.8zM271 258.4h15.9v3.8h-15.9zM301.6 258.4h15.9v3.8h-15.9zM274.1 261.6h9.8v3.8h-9.8zM298.6 261.6h15.9v3.8h-15.9zM277.1 264.8h6.7v3.8h-6.7zM295.5 264.8h19v3.8h-19zM289.4 267.9h25.1v3.8h-25.1zM286.3 271.1h25.1v3.8h-25.1zM286.3 274.2h25.1v3.8h-25.1zM289.4 277.4h22v3.8h-22zM289.4 280.6h22v3.8h-22zM289.4 283.7h22v3.8h-22zM289.4 286.9h22v3.8h-22zM289.4 290h22v3.8h-22zM292.4 293.2h19v3.8h-19zM292.4 296.4h19v3.8h-19zM292.4 299.5h19v3.8h-19zM295.5 302.7h19v3.8h-19zM298.6 305.8h19v3.8h-19zM301.6 309h15.9v3.8h-15.9zM304.7 312.2h15.9v3.8h-15.9zM307.8 315.3h12.8v3.8h-12.8zM310.8 318.5h12.8v3.8h-12.8zM316.9 321.6h9.8v3.8h-9.8zM323.1 324.8h6.7v3.8h-6.7zM326.1 328h9.8v3.8h-9.8zM332.3 331.1h6.7v3.8h-6.7zM338.4 334.3h6.7v3.8h-6.7zM344.5 337.4h6.7v3.8h-6.7zM347.6 340.6h3.7v3.8h-3.7zM350.6 343.8h3.7v3.8h-3.7zM350.6 346.9h3.7v3.8h-3.7zM350.6 350.1h3.7v3.8h-3.7zM353.7 356.4h3.7v3.8h-3.7zM353.7 359.6h3.7v3.8h-3.7zM353.7 362.7h3.7v3.8h-3.7zM353.7 365.9h3.7v3.8h-3.7zM353.7 369h6.7v3.8h-6.7zM353.7 372.2h6.7v3.8h-6.7zM353.7 375.4h6.7v3.8h-6.7zM353.7 378.5h6.7v3.8h-6.7zM353.7 381.7h6.7v3.8h-6.7zM353.7 384.8h6.7v3.8h-6.7zM353.7 388h6.7v3.8h-6.7zM353.7 391.2h6.7v3.8h-6.7zM353.7 394.3h6.7v3.8h-6.7zM353.7 397.5h9.8v3.8h-9.8zM350.6 400.6h12.8v3.8h-12.8zM350.6 403.8h12.8v3.8h-12.8zM350.6 407h12.8v3.8h-12.8zM344.5 410.1h19v3.8h-19zM335.3 413.3h28.2v3.8h-28.2zM335.3 416.4h25.1v3.8h-25.1zM335.3 419.6h22v3.8h-22zM335.3 422.8h22v3.8h-22zM335.3 425.9h22v3.8h-22zM335.3 429.1h22v3.8h-22zM335.3 432.2h22v3.8h-22zM335.3 435.4h19v3.8h-19zM335.3 438.6h19v3.8h-19zM338.4 441.7h19v3.8h-19zM341.4 444.9h19v3.8h-19zM344.5 448h19v3.8h-19zM347.6 451.2h19v3.8h-19zM350.6 454.4h19v3.8h-19zM353.7 457.5h19v3.8h-19zM356.8 460.7h19v3.8h-19zM359.8 463.8h19v3.8h-19zM365.9 467h15.9v3.8h-15.9zM369 470.2h12.8v3.8h-12.8zM372.1 473.3h12.8v3.8h-12.8zM375.1 476.5h12.8v3.8h-12.8zM378.2 479.6h9.8v3.8h-9.8zM381.3 482.8h9.8v3.8h-9.8zM384.3 486h6.7v3.8h-6.7zM384.3 489.1h9.8v3.8h-9.8zM387.4 492.3h6.7v3.8h-6.7zM390.4 495.4h6.7v3.8h-6.7zM390.4 498.6h9.8v3.8h-9.8zM393.5 501.8h6.7v3.8h-6.7zM396.6 504.9h6.7v3.8h-6.7zM399.6 508.1h6.7v3.8h-6.7zM399.6 511.2h6.7v3.8h-6.7zM402.7 514.4h6.7v3.8h-6.7zM405.8 517.6h3.7v3.8h-3.7zM405.8 520.7h6.7v3.8h-6.7zM405.8 523.9h6.7v3.8h-6.7zM405.8 527h6.7v3.8h-6.7zM405.8 530.2h9.8v3.8h-9.8zM408.8 533.4h6.7v3.8h-6.7zM408.8 536.5h6.7v3.8h-6.7zM408.8 539.7h9.8v3.8h-9.8zM411.9 542.8h6.7v3.8h-6.7zM411.9 546h6.7v3.8h-6.7zM411.9 549.2h6.7v3.8h-6.7zM411.9 552.3h6.7v3.8h-6.7zM411.9 555.5h6.7v3.8h-6.7zM411.9 558.6h6.7v3.8h-6.7zM411.9 561.8h6.7v3.8h-6.7zM411.9 565h6.7v3.8h-6.7zM411.9 568.1h3.7v3.8h-3.7zM411.9 571.3h3.7v3.8h-3.7zM411.9 574.4h3.7v3.8h-3.7zM411.9 577.6h3.7v3.8h-3.7zM411.9 580.8h3.7v3.8h-3.7zM454.8 580.8h6.7v3.8h-6.7zM411.9 583.9h3.7v3.8h-3.7zM451.7 583.9h12.8v3.8h-12.8zM411.9 587.1h3.7v3.8h-3.7zM451.7 587.1h12.8v3.8h-12.8zM411.9 590.2h3.7v3.8h-3.7zM451.7 590.2h15.9v3.8h-15.9zM411.9 593.4h3.7v3.8h-3.7zM451.7 593.4h15.9v3.8h-15.9zM411.9 596.6h3.7v3.8h-3.7zM451.7 596.6h6.7v3.8h-6.7zM411.9 599.7h3.7v3.8h-3.7zM451.7 599.7h3.7v3.8h-3.7zM411.9 602.9h3.7v3.8h-3.7zM451.7 602.9h3.7v3.8h-3.7zM411.9 606h3.7v3.8h-3.7zM451.7 606h3.7v3.8h-3.7zM408.8 609.2h6.7v3.8h-6.7zM451.7 609.2h3.7v3.8h-3.7zM408.8 612.4h6.7v3.8h-6.7zM451.7 612.4h3.7v3.8h-3.7zM408.8 615.5h6.7v3.8h-6.7zM451.7 615.5h3.7v3.8h-3.7zM408.8 618.7h3.7v3.8h-3.7zM451.7 618.7h3.7v3.8h-3.7zM405.8 621.8h6.7v3.8h-6.7zM451.7 621.8h3.7v3.8h-3.7zM405.8 625h6.7v3.8h-6.7zM451.7 625h3.7v3.8h-3.7zM405.8 628.2h6.7v3.8h-6.7zM451.7 628.2h3.7v3.8h-3.7zM405.8 631.3h3.7v3.8h-3.7zM451.7 631.3h6.7v3.8h-6.7zM399.6 634.5h9.8v3.8h-9.8zM451.7 634.5h6.7v3.8h-6.7zM393.5 637.6h15.9v3.8h-15.9zM451.7 637.6h6.7v3.8h-6.7zM399.6 640.8h6.7v3.8h-6.7zM451.7 640.8h6.7v3.8h-6.7zM451.7 644h6.7v3.8h-6.7zM454.8 647.1h6.7v3.8h-6.7zM454.8 650.3h6.7v3.8h-6.7zM454.8 653.4h6.7v3.8h-6.7zM470.1 653.4h9.8v3.8h-9.8zM460.9 656.6h12.8v3.8h-12.8zM503.8 723h25.1v3.8h-25.1zM503.8 726.1h28.2v3.8h-28.2zM503.8 729.3h31.2v3.8h-31.2zM506.8 732.4h28.2v3.8h-28.2zM506.8 735.6h31.2v3.8h-31.2zM506.8 738.8h34.3v3.8h-34.3zM506.8 741.9h15.9v3.8h-15.9zM506.8 745.1h3.7v3.8h-3.7zM519.1 745.1h6.7v3.8h-6.7zM500.7 748.2h6.7v3.8h-6.7zM522.1 748.2h3.7v3.8h-3.7zM500.7 751.4h6.7v3.8h-6.7zM519.1 751.4h6.7v3.8h-6.7zM500.7 754.6h9.8v3.8h-9.8zM519.1 754.6h6.7v3.8h-6.7zM503.8 757.7h3.7v3.8h-3.7zM519.1 757.7h6.7v3.8h-6.7zM503.8 760.9h3.7v3.8h-3.7zM519.1 760.9h6.7v3.8h-6.7zM503.8 764h3.7v3.8h-3.7zM519.1 764h6.7v3.8h-6.7zM503.8 767.2h3.7v3.8h-3.7zM519.1 767.2h6.7v3.8h-6.7zM503.8 770.4h3.7v3.8h-3.7zM519.1 770.4h6.7v3.8h-6.7zM500.7 773.5h6.7v3.8h-6.7zM519.1 773.5h6.7v3.8h-6.7zM503.8 776.7h3.7v3.8h-3.7zM522.1 776.7h6.7v3.8h-6.7zM503.8 779.8h3.7v3.8h-3.7zM522.1 779.8h6.7v3.8h-6.7zM503.8 783h3.7v3.8h-3.7zM525.2 783h6.7v3.8h-6.7zM503.8 786.2h3.7v3.8h-3.7zM525.2 786.2h6.7v3.8h-6.7zM503.8 789.3h3.7v3.8h-3.7zM525.2 789.3h9.8v3.8h-9.8zM503.8 792.5h3.7v3.8h-3.7zM528.3 792.5h6.7v3.8h-6.7zM503.8 795.6h3.7v3.8h-3.7zM528.3 795.6h9.8v3.8h-9.8zM503.8 798.8h3.7v3.8h-3.7zM531.3 798.8h6.7v3.8h-6.7zM503.8 802h3.7v3.8h-3.7zM534.4 802h6.7v3.8h-6.7zM503.8 805.1h3.7v3.8h-3.7zM534.4 805.1h9.8v3.8h-9.8zM503.8 808.3h3.7v3.8h-3.7zM537.5 808.3h6.7v3.8h-6.7zM540.5 811.4h6.7v3.8h-6.7zM540.5 814.6h6.7v3.8h-6.7zM506.8 817.8h3.7v3.8h-3.7zM543.6 817.8h6.7v3.8h-6.7zM506.8 820.9h3.7v3.8h-3.7zM543.6 820.9h9.8v3.8h-9.8zM503.8 824.1h6.7v3.8h-6.7zM546.6 824.1h6.7v3.8h-6.7zM503.8 827.2h3.7v3.8h-3.7zM549.7 827.2h6.7v3.8h-6.7zM500.7 830.4h9.8v3.8h-9.8zM549.7 830.4h6.7v3.8h-6.7zM503.8 833.6h6.7v3.8h-6.7zM546.6 833.6h6.7v3.8h-6.7zM503.8 836.7h9.8v3.8h-9.8zM546.6 836.7h6.7v3.8h-6.7zM509.9 839.9h9.8v3.8h-9.8zM543.6 839.9h9.8v3.8h-9.8zM509.9 843h15.9v3.8h-15.9zM537.5 843h12.8v3.8h-12.8zM509.9 846.2h34.3v3.8h-34.3zM516 849.4h19v3.8h-19zM678.3 947.3h3.7v3.8h-3.7zM675.3 950.5h9.8v3.8h-9.8zM672.2 953.6h12.8v3.8h-12.8zM666.1 956.8h19v3.8h-19zM660 960h12.8v3.8h-12.8zM675.3 960h6.7v3.8h-6.7zM660 963.1h12.8v3.8h-12.8zM675.3 963.1h6.7v3.8h-6.7zM660 966.3h12.8v3.8h-12.8zM678.3 966.3h3.7v3.8h-3.7zM660 969.4h3.7v3.8h-3.7zM660 972.6h15.9v3.8h-15.9zM660 975.8h3.7v3.8h-3.7z"/>
<path fill="#6847f8" d="M332.3 195.2h6.7v3.8h-6.7zM329.2 198.4h9.8v3.8h-9.8zM329.2 201.6h6.7v3.8h-6.7zM326.1 204.7h6.7v3.8h-6.7zM326.1 207.9h3.7v3.8h-3.7zM326.1 211h3.7v3.8h-3.7zM326.1 214.2h3.7v3.8h-3.7zM323.1 217.4h3.7v3.8h-3.7zM323.1 220.5h3.7v3.8h-3.7zM323.1 223.7h3.7v3.8h-3.7zM320 226.8h6.7v3.8h-6.7zM320 230h6.7v3.8h-6.7zM320 233.2h3.7v3.8h-3.7zM320 236.3h3.7v3.8h-3.7zM320 239.5h3.7v3.8h-3.7zM320 242.6h3.7v3.8h-3.7zM316.9 245.8h6.7v3.8h-6.7zM316.9 249h6.7v3.8h-6.7zM316.9 252.1h6.7v3.8h-6.7zM316.9 255.3h6.7v3.8h-6.7zM316.9 258.4h6.7v3.8h-6.7zM313.9 261.6h6.7v3.8h-6.7zM313.9 264.8h6.7v3.8h-6.7zM313.9 267.9h6.7v3.8h-6.7zM310.8 271.1h9.8v3.8h-9.8zM310.8 274.2h9.8v3.8h-9.8zM310.8 277.4h9.8v3.8h-9.8zM310.8 280.6h9.8v3.8h-9.8zM310.8 283.7h9.8v3.8h-9.8zM310.8 286.9h9.8v3.8h-9.8zM310.8 290h9.8v3.8h-9.8zM310.8 293.2h6.7v3.8h-6.7zM310.8 296.4h6.7v3.8h-6.7zM310.8 299.5h9.8v3.8h-9.8zM313.9 302.7h6.7v3.8h-6.7zM316.9 305.8h3.7v3.8h-3.7zM316.9 309h6.7v3.8h-6.7zM320 312.2h3.7v3.8h-3.7zM320 315.3h6.7v3.8h-6.7zM323.1 318.5h6.7v3.8h-6.7zM326.1 321.6h6.7v3.8h-6.7zM329.2 324.8h6.7v3.8h-6.7zM335.3 328h3.7v3.8h-3.7zM338.4 331.1h3.7v3.8h-3.7zM344.5 334.3h3.7v3.8h-3.7zM350.6 337.4h3.7v3.8h-3.7zM350.6 340.6h3.7v3.8h-3.7zM353.7 343.8h3.7v3.8h-3.7zM353.7 346.9h3.7v3.8h-3.7zM353.7 350.1h3.7v3.8h-3.7zM353.7 353.2h3.7v3.8h-3.7zM356.8 356.4h3.7v3.8h-3.7zM356.8 359.6h3.7v3.8h-3.7zM356.8 362.7h3.7v3.8h-3.7zM356.8 365.9h3.7v3.8h-3.7zM359.8 372.2h3.7v3.8h-3.7zM359.8 375.4h3.7v3.8h-3.7zM359.8 378.5h3.7v3.8h-3.7zM359.8 381.7h3.7v3.8h-3.7zM359.8 384.8h3.7v3.8h-3.7zM359.8 388h6.7v3.8h-6.7zM359.8 391.2h6.7v3.8h-6.7zM359.8 394.3h6.7v3.8h-6.7zM362.9 397.5h3.7v3.8h-3.7zM362.9 400.6h3.7v3.8h-3.7zM362.9 403.8h3.7v3.8h-3.7zM362.9 407h3.7v3.8h-3.7zM362.9 410.1h3.7v3.8h-3.7zM362.9 413.3h3.7v3.8h-3.7zM359.8 416.4h6.7v3.8h-6.7zM356.8 419.6h9.8v3.8h-9.8zM356.8 422.8h9.8v3.8h-9.8zM356.8 425.9h6.7v3.8h-6.7zM356.8 429.1h6.7v3.8h-6.7zM356.8 432.2h6.7v3.8h-6.7zM353.7 435.4h9.8v3.8h-9.8zM353.7 438.6h9.8v3.8h-9.8zM356.8 441.7h6.7v3.8h-6.7zM359.8 444.9h6.7v3.8h-6.7zM362.9 448h6.7v3.8h-6.7zM365.9 451.2h6.7v3.8h-6.7zM369 454.4h6.7v3.8h-6.7zM372.1 457.5h6.7v3.8h-6.7zM375.1 460.7h6.7v3.8h-6.7zM378.2 463.8h6.7v3.8h-6.7zM381.3 467h6.7v3.8h-6.7zM381.3 470.2h6.7v3.8h-6.7zM384.3 473.3h6.7v3.8h-6.7zM387.4 476.5h6.7v3.8h-6.7zM387.4 479.6h9.8v3.8h-9.8zM390.4 482.8h6.7v3.8h-6.7zM390.4 486h12.8v3.8h-12.8zM393.5 489.1h9.8v3.8h-9.8zM393.5 492.3h15.9v3.8h-15.9zM396.6 495.4h19v3.8h-19zM399.6 498.6h9.8v3.8h-9.8zM399.6 501.8h9.8v3.8h-9.8zM402.7 504.9h9.8v3.8h-9.8zM405.8 508.1h6.7v3.8h-6.7zM405.8 511.2h6.7v3.8h-6.7zM408.8 514.4h6.7v3.8h-6.7zM408.8 517.6h6.7v3.8h-6.7zM411.9 520.7h6.7v3.8h-6.7zM411.9 523.9h6.7v3.8h-6.7zM411.9 527h6.7v3.8h-6.7zM414.9 530.2h6.7v3.8h-6.7zM414.9 533.4h6.7v3.8h-6.7zM414.9 536.5h6.7v3.8h-6.7zM418 539.7h3.7v3.8h-3.7zM418 542.8h6.7v3.8h-6.7zM418 546h6.7v3.8h-6.7zM418 549.2h6.7v3.8h-6.7zM418 552.3h6.7v3.8h-6.7zM418 555.5h6.7v3.8h-6.7zM418 558.6h6.7v3.8h-6.7zM418 561.8h6.7v3.8h-6.7zM418 565h3.7v3.8h-3.7zM414.9 568.1h6.7v3.8h-6.7zM414.9 571.3h6.7v3.8h-6.7zM414.9 574.4h6.7v3.8h-6.7zM448.6 574.4h9.8v3.8h-9.8zM414.9 577.6h6.7v3.8h-6.7zM448.6 577.6h9.8v3.8h-9.8zM414.9 580.8h6.7v3.8h-6.7zM448.6 580.8h6.7v3.8h-6.7zM414.9 583.9h3.7v3.8h-3.7zM448.6 583.9h3.7v3.8h-3.7zM414.9 587.1h3.7v3.8h-3.7zM448.6 587.1h3.7v3.8h-3.7zM414.9 590.2h3.7v3.8h-3.7zM448.6 590.2h3.7v3.8h-3.7zM414.9 593.4h3.7v3.8h-3.7zM448.6 593.4h3.7v3.8h-3.7zM414.9 596.6h3.7v3.8h-3.7zM448.6 596.6h3.7v3.8h-3.7zM414.9 599.7h3.7v3.8h-3.7zM448.6 599.7h3.7v3.8h-3.7zM414.9 602.9h3.7v3.8h-3.7zM448.6 602.9h3.7v3.8h-3.7zM414.9 606h3.7v3.8h-3.7zM448.6 606h3.7v3.8h-3.7zM414.9 609.2h3.7v3.8h-3.7zM448.6 609.2h3.7v3.8h-3.7zM414.9 612.4h3.7v3.8h-3.7zM448.6 612.4h3.7v3.8h-3.7zM414.9 615.5h3.7v3.8h-3.7zM448.6 615.5h3.7v3.8h-3.7zM411.9 618.7h6.7v3.8h-6.7zM448.6 618.7h3.7v3.8h-3.7zM411.9 621.8h6.7v3.8h-6.7zM448.6 621.8h3.7v3.8h-3.7zM411.9 625h3.7v3.8h-3.7zM448.6 625h3.7v3.8h-3.7zM411.9 628.2h3.7v3.8h-3.7zM445.6 628.2h6.7v3.8h-6.7zM408.8 631.3h6.7v3.8h-6.7zM445.6 631.3h6.7v3.8h-6.7zM408.8 634.5h6.7v3.8h-6.7zM448.6 634.5h3.7v3.8h-3.7zM408.8 637.6h3.7v3.8h-3.7zM448.6 637.6h3.7v3.8h-3.7zM405.8 640.8h6.7v3.8h-6.7zM448.6 640.8h3.7v3.8h-3.7zM399.6 644h12.8v3.8h-12.8zM448.6 644h3.7v3.8h-3.7zM405.8 647.1h3.7v3.8h-3.7zM448.6 647.1h6.7v3.8h-6.7zM445.6 650.3h9.8v3.8h-9.8zM448.6 653.4h6.7v3.8h-6.7zM451.7 656.6h9.8v3.8h-9.8zM473.1 656.6h12.8v3.8h-12.8zM457.8 659.8h15.9v3.8h-15.9zM506.8 719.8h22v3.8h-22zM500.7 723h3.7v3.8h-3.7zM500.7 726.1h3.7v3.8h-3.7zM503.8 732.4h3.7v3.8h-3.7zM503.8 735.6h3.7v3.8h-3.7zM503.8 738.8h3.7v3.8h-3.7zM503.8 741.9h3.7v3.8h-3.7zM522.1 741.9h19v3.8h-19zM503.8 745.1h3.7v3.8h-3.7zM525.2 745.1h19v3.8h-19zM497.6 748.2h3.7v3.8h-3.7zM525.2 748.2h19v3.8h-19zM525.2 751.4h22v3.8h-22zM525.2 754.6h3.7v3.8h-3.7zM500.7 757.7h3.7v3.8h-3.7zM525.2 757.7h3.7v3.8h-3.7zM500.7 760.9h3.7v3.8h-3.7zM525.2 760.9h3.7v3.8h-3.7zM500.7 764h3.7v3.8h-3.7zM525.2 764h3.7v3.8h-3.7zM500.7 767.2h3.7v3.8h-3.7zM525.2 767.2h3.7v3.8h-3.7zM500.7 770.4h3.7v3.8h-3.7zM525.2 770.4h3.7v3.8h-3.7zM525.2 773.5h3.7v3.8h-3.7zM500.7 776.7h3.7v3.8h-3.7zM528.3 776.7h3.7v3.8h-3.7zM500.7 779.8h3.7v3.8h-3.7zM528.3 779.8h3.7v3.8h-3.7zM531.3 783h3.7v3.8h-3.7zM531.3 786.2h6.7v3.8h-6.7zM534.4 789.3h3.7v3.8h-3.7zM500.7 792.5h3.7v3.8h-3.7zM534.4 792.5h6.7v3.8h-6.7zM500.7 795.6h3.7v3.8h-3.7zM537.5 795.6h6.7v3.8h-6.7zM500.7 798.8h3.7v3.8h-3.7zM537.5 798.8h31.2v3.8h-31.2zM500.7 802h3.7v3.8h-3.7zM540.5 802h28.2v3.8h-28.2zM543.6 805.1h25.1v3.8h-25.1zM543.6 808.3h28.2v3.8h-28.2zM503.8 811.4h3.7v3.8h-3.7zM546.6 811.4h25.1v3.8h-25.1zM503.8 814.6h3.7v3.8h-3.7zM546.6 814.6h25.1v3.8h-25.1zM503.8 817.8h3.7v3.8h-3.7zM549.7 817.8h25.1v3.8h-25.1zM503.8 820.9h3.7v3.8h-3.7zM552.8 820.9h22v3.8h-22zM500.7 824.1h3.7v3.8h-3.7zM552.8 824.1h22v3.8h-22zM500.7 827.2h3.7v3.8h-3.7zM555.8 827.2h22v3.8h-22zM555.8 830.4h22v3.8h-22zM500.7 833.6h3.7v3.8h-3.7zM552.8 833.6h28.2v3.8h-28.2zM500.7 836.7h3.7v3.8h-3.7zM552.8 836.7h28.2v3.8h-28.2zM552.8 839.9h9.8v3.8h-9.8zM549.7 843h9.8v3.8h-9.8zM543.6 846.2h12.8v3.8h-12.8zM509.9 849.4h6.7v3.8h-6.7zM534.4 849.4h19v3.8h-19zM509.9 852.5h37.4v3.8h-37.4zM684.5 934.7h3.7v3.8h-3.7zM687.5 937.8h3.7v3.8h-3.7zM690.6 941h3.7v3.8h-3.7zM693.6 944.2h3.7v3.8h-3.7zM672.2 947.3h6.7v3.8h-6.7zM681.4 947.3h9.8v3.8h-9.8zM669.1 950.5h6.7v3.8h-6.7zM684.5 950.5h6.7v3.8h-6.7zM663 953.6h9.8v3.8h-9.8zM684.5 953.6h6.7v3.8h-6.7zM660 956.8h6.7v3.8h-6.7zM684.5 956.8h6.7v3.8h-6.7zM656.9 960h3.7v3.8h-3.7zM656.9 963.1h3.7v3.8h-3.7zM656.9 966.3h3.7v3.8h-3.7zM656.9 969.4h3.7v3.8h-3.7zM656.9 972.6h3.7v3.8h-3.7zM656.9 975.8h3.7v3.8h-3.7zM656.9 978.9h6.7v3.8h-6.7z"/>
<path fill="#6352f8" d="M335.3 201.6h6.7v3.8h-6.7zM332.3 204.7h6.7v3.8h-6.7zM329.2 207.9h6.7v3.8h-6.7zM329.2 211h3.7v3.8h-3.7zM329.2 214.2h3.7v3.8h-3.7zM326.1 217.4h6.7v3.8h-6.7zM326.1 220.5h3.7v3.8h-3.7zM326.1 223.7h3.7v3.8h-3.7zM326.1 226.8h3.7v3.8h-3.7zM323.1 233.2h3.7v3.8h-3.7zM323.1 236.3h3.7v3.8h-3.7zM323.1 239.5h3.7v3.8h-3.7zM323.1 242.6h3.7v3.8h-3.7zM323.1 245.8h3.7v3.8h-3.7zM323.1 249h3.7v3.8h-3.7zM320 261.6h3.7v3.8h-3.7zM320 264.8h3.7v3.8h-3.7zM320 267.9h3.7v3.8h-3.7zM320 271.1h3.7v3.8h-3.7zM320 274.2h3.7v3.8h-3.7zM320 277.4h3.7v3.8h-3.7zM320 280.6h3.7v3.8h-3.7zM320 283.7h3.7v3.8h-3.7zM320 286.9h3.7v3.8h-3.7zM320 290h3.7v3.8h-3.7zM316.9 293.2h6.7v3.8h-6.7zM316.9 296.4h6.7v3.8h-6.7zM320 299.5h3.7v3.8h-3.7zM320 302.7h3.7v3.8h-3.7zM320 305.8h6.7v3.8h-6.7zM323.1 309h3.7v3.8h-3.7zM323.1 312.2h3.7v3.8h-3.7zM326.1 315.3h3.7v3.8h-3.7zM329.2 318.5h3.7v3.8h-3.7zM338.4 328h3.7v3.8h-3.7zM341.4 331.1h6.7v3.8h-6.7zM347.6 334.3h3.7v3.8h-3.7zM353.7 337.4h3.7v3.8h-3.7zM353.7 340.6h3.7v3.8h-3.7zM356.8 346.9h3.7v3.8h-3.7zM356.8 350.1h3.7v3.8h-3.7zM356.8 353.2h3.7v3.8h-3.7zM359.8 359.6h3.7v3.8h-3.7zM359.8 362.7h3.7v3.8h-3.7zM359.8 365.9h3.7v3.8h-3.7zM359.8 369h3.7v3.8h-3.7zM362.9 381.7h3.7v3.8h-3.7zM362.9 384.8h3.7v3.8h-3.7zM365.9 394.3h3.7v3.8h-3.7zM365.9 397.5h3.7v3.8h-3.7zM365.9 400.6h3.7v3.8h-3.7zM365.9 403.8h3.7v3.8h-3.7zM365.9 407h3.7v3.8h-3.7zM365.9 410.1h3.7v3.8h-3.7zM365.9 413.3h3.7v3.8h-3.7zM365.9 416.4h3.7v3.8h-3.7zM365.9 419.6h3.7v3.8h-3.7zM365.9 422.8h3.7v3.8h-3.7zM362.9 425.9h6.7v3.8h-6.7zM362.9 429.1h3.7v3.8h-3.7zM362.9 432.2h3.7v3.8h-3.7zM362.9 435.4h3.7v3.8h-3.7zM362.9 438.6h3.7v3.8h-3.7zM362.9 441.7h3.7v3.8h-3.7zM365.9 444.9h3.7v3.8h-3.7zM369 448h3.7v3.8h-3.7zM372.1 451.2h3.7v3.8h-3.7zM375.1 454.4h3.7v3.8h-3.7zM378.2 457.5h3.7v3.8h-3.7zM381.3 460.7h9.8v3.8h-9.8zM384.3 463.8h6.7v3.8h-6.7zM387.4 467h3.7v3.8h-3.7zM387.4 470.2h3.7v3.8h-3.7zM390.4 473.3h6.7v3.8h-6.7zM393.5 476.5h3.7v3.8h-3.7zM408.8 498.6h6.7v3.8h-6.7zM408.8 501.8h12.8v3.8h-12.8zM411.9 504.9h9.8v3.8h-9.8zM411.9 508.1h9.8v3.8h-9.8zM411.9 511.2h15.9v3.8h-15.9zM414.9 514.4h12.8v3.8h-12.8zM414.9 517.6h12.8v3.8h-12.8zM418 520.7h9.8v3.8h-9.8zM418 523.9h9.8v3.8h-9.8zM418 527h15.9v3.8h-15.9zM421.1 530.2h12.8v3.8h-12.8zM421.1 533.4h12.8v3.8h-12.8zM421.1 536.5h12.8v3.8h-12.8zM421.1 539.7h19v3.8h-19zM424.1 542.8h15.9v3.8h-15.9zM424.1 546h6.7v3.8h-6.7zM424.1 549.2h6.7v3.8h-6.7zM424.1 552.3h9.8v3.8h-9.8zM436.4 552.3h3.7v3.8h-3.7zM424.1 555.5h9.8v3.8h-9.8zM439.4 555.5h3.7v3.8h-3.7zM424.1 558.6h9.8v3.8h-9.8zM439.4 558.6h3.7v3.8h-3.7zM424.1 561.8h3.7v3.8h-3.7zM439.4 561.8h3.7v3.8h-3.7zM421.1 565h6.7v3.8h-6.7zM442.5 565h6.7v3.8h-6.7zM421.1 568.1h6.7v3.8h-6.7zM442.5 568.1h6.7v3.8h-6.7zM421.1 571.3h6.7v3.8h-6.7zM442.5 571.3h6.7v3.8h-6.7zM421.1 574.4h3.7v3.8h-3.7zM442.5 574.4h6.7v3.8h-6.7zM421.1 577.6h3.7v3.8h-3.7zM445.6 577.6h3.7v3.8h-3.7zM421.1 580.8h3.7v3.8h-3.7zM445.6 580.8h3.7v3.8h-3.7zM418 583.9h6.7v3.8h-6.7zM445.6 583.9h3.7v3.8h-3.7zM418 587.1h6.7v3.8h-6.7zM445.6 587.1h3.7v3.8h-3.7zM418 590.2h6.7v3.8h-6.7zM445.6 590.2h3.7v3.8h-3.7zM418 593.4h3.7v3.8h-3.7zM445.6 593.4h3.7v3.8h-3.7zM418 596.6h3.7v3.8h-3.7zM445.6 596.6h3.7v3.8h-3.7zM418 599.7h3.7v3.8h-3.7zM445.6 599.7h3.7v3.8h-3.7zM418 602.9h3.7v3.8h-3.7zM445.6 602.9h3.7v3.8h-3.7zM418 606h3.7v3.8h-3.7zM445.6 606h3.7v3.8h-3.7zM418 609.2h3.7v3.8h-3.7zM445.6 609.2h3.7v3.8h-3.7zM418 612.4h3.7v3.8h-3.7zM445.6 612.4h3.7v3.8h-3.7zM418 615.5h3.7v3.8h-3.7zM445.6 615.5h3.7v3.8h-3.7zM418 618.7h3.7v3.8h-3.7zM442.5 618.7h6.7v3.8h-6.7zM418 621.8h3.7v3.8h-3.7zM442.5 621.8h6.7v3.8h-6.7zM414.9 625h6.7v3.8h-6.7zM442.5 625h6.7v3.8h-6.7zM414.9 628.2h6.7v3.8h-6.7zM442.5 628.2h3.7v3.8h-3.7zM414.9 631.3h3.7v3.8h-3.7zM442.5 631.3h3.7v3.8h-3.7zM414.9 634.5h3.7v3.8h-3.7zM442.5 634.5h6.7v3.8h-6.7zM411.9 637.6h6.7v3.8h-6.7zM442.5 637.6h6.7v3.8h-6.7zM411.9 640.8h6.7v3.8h-6.7zM442.5 640.8h6.7v3.8h-6.7zM411.9 644h6.7v3.8h-6.7zM442.5 644h6.7v3.8h-6.7zM408.8 647.1h6.7v3.8h-6.7zM442.5 647.1h6.7v3.8h-6.7zM405.8 650.3h9.8v3.8h-9.8zM442.5 650.3h3.7v3.8h-3.7zM405.8 653.4h6.7v3.8h-6.7zM442.5 653.4h6.7v3.8h-6.7zM445.6 656.6h6.7v3.8h-6.7zM445.6 659.8h12.8v3.8h-12.8zM473.1 659.8h15.9v3.8h-15.9zM451.7 662.9h22v3.8h-22zM500.7 719.8h6.7v3.8h-6.7zM497.6 723h3.7v3.8h-3.7zM500.7 729.3h3.7v3.8h-3.7zM500.7 745.1h3.7v3.8h-3.7zM497.6 751.4h3.7v3.8h-3.7zM528.3 754.6h19v3.8h-19zM528.3 757.7h22v3.8h-22zM528.3 760.9h6.7v3.8h-6.7zM528.3 764h3.7v3.8h-3.7zM528.3 767.2h3.7v3.8h-3.7zM528.3 770.4h3.7v3.8h-3.7zM528.3 773.5h3.7v3.8h-3.7zM531.3 776.7h3.7v3.8h-3.7zM531.3 779.8h6.7v3.8h-6.7zM500.7 783h3.7v3.8h-3.7zM534.4 783h3.7v3.8h-3.7zM500.7 786.2h3.7v3.8h-3.7zM537.5 786.2h3.7v3.8h-3.7zM500.7 789.3h3.7v3.8h-3.7zM537.5 789.3h28.2v3.8h-28.2zM540.5 792.5h25.1v3.8h-25.1zM543.6 795.6h22v3.8h-22zM500.7 805.1h3.7v3.8h-3.7zM500.7 808.3h3.7v3.8h-3.7zM500.7 817.8h3.7v3.8h-3.7zM500.7 820.9h3.7v3.8h-3.7zM562 839.9h19v3.8h-19zM558.9 843h25.1v3.8h-25.1zM555.8 846.2h28.2v3.8h-28.2zM552.8 849.4h34.3v3.8h-34.3zM546.6 852.5h19v3.8h-19zM509.9 855.7h43.5v3.8h-43.5zM681.4 915.7h9.8v3.8h-9.8zM684.5 918.9h6.7v3.8h-6.7zM678.3 922h19v3.8h-19zM678.3 925.2h19v3.8h-19zM678.3 928.4h12.8v3.8h-12.8zM693.6 928.4h3.7v3.8h-3.7zM678.3 931.5h15.9v3.8h-15.9zM681.4 934.7h3.7v3.8h-3.7zM687.5 934.7h9.8v3.8h-9.8zM681.4 937.8h6.7v3.8h-6.7zM690.6 937.8h6.7v3.8h-6.7zM681.4 941h9.8v3.8h-9.8zM693.6 941h3.7v3.8h-3.7zM672.2 944.2h22v3.8h-22zM669.1 947.3h3.7v3.8h-3.7zM663 950.5h6.7v3.8h-6.7zM660 953.6h3.7v3.8h-3.7zM656.9 956.8h3.7v3.8h-3.7zM653.8 963.1h3.7v3.8h-3.7zM653.8 966.3h3.7v3.8h-3.7zM653.8 969.4h3.7v3.8h-3.7zM653.8 972.6h3.7v3.8h-3.7zM653.8 975.8h3.7v3.8h-3.7zM653.8 978.9h3.7v3.8h-3.7z"/>
<path fill="#5c5df8" d="M341.4 201.6h3.7v3.8h-3.7zM338.4 204.7h6.7v3.8h-6.7zM335.3 207.9h3.7v3.8h-3.7zM332.3 211h3.7v3.8h-3.7zM332.3 214.2h3.7v3.8h-3.7zM329.2 220.5h3.7v3.8h-3.7zM329.2 223.7h3.7v3.8h-3.7zM329.2 226.8h3.7v3.8h-3.7zM326.1 230h3.7v3.8h-3.7zM326.1 233.2h3.7v3.8h-3.7zM326.1 236.3h3.7v3.8h-3.7zM323.1 252.1h3.7v3.8h-3.7zM323.1 255.3h3.7v3.8h-3.7zM323.1 258.4h3.7v3.8h-3.7zM323.1 261.6h3.7v3.8h-3.7zM323.1 264.8h3.7v3.8h-3.7zM323.1 267.9h3.7v3.8h-3.7zM323.1 271.1h3.7v3.8h-3.7zM323.1 274.2h3.7v3.8h-3.7zM323.1 277.4h3.7v3.8h-3.7zM323.1 280.6h3.7v3.8h-3.7zM323.1 283.7h3.7v3.8h-3.7zM323.1 286.9h3.7v3.8h-3.7zM323.1 290h3.7v3.8h-3.7zM323.1 293.2h3.7v3.8h-3.7zM323.1 296.4h3.7v3.8h-3.7zM323.1 299.5h3.7v3.8h-3.7zM323.1 302.7h3.7v3.8h-3.7zM326.1 309h3.7v3.8h-3.7zM326.1 312.2h3.7v3.8h-3.7zM329.2 315.3h3.7v3.8h-3.7zM332.3 321.6h3.7v3.8h-3.7zM335.3 324.8h3.7v3.8h-3.7zM341.4 328h3.7v3.8h-3.7zM350.6 334.3h3.7v3.8h-3.7zM356.8 343.8h3.7v3.8h-3.7zM359.8 353.2h3.7v3.8h-3.7zM359.8 356.4h3.7v3.8h-3.7zM362.9 362.7h3.7v3.8h-3.7zM362.9 365.9h3.7v3.8h-3.7zM362.9 369h3.7v3.8h-3.7zM362.9 372.2h3.7v3.8h-3.7zM362.9 375.4h3.7v3.8h-3.7zM362.9 378.5h3.7v3.8h-3.7zM365.9 391.2h3.7v3.8h-3.7zM365.9 429.1h3.7v3.8h-3.7zM365.9 432.2h3.7v3.8h-3.7zM365.9 435.4h3.7v3.8h-3.7zM365.9 438.6h3.7v3.8h-3.7zM365.9 441.7h3.7v3.8h-3.7zM369 444.9h3.7v3.8h-3.7zM372.1 448h3.7v3.8h-3.7zM375.1 451.2h3.7v3.8h-3.7zM378.2 454.4h6.7v3.8h-6.7zM381.3 457.5h3.7v3.8h-3.7zM430.3 546h9.8v3.8h-9.8zM430.3 549.2h9.8v3.8h-9.8zM433.3 552.3h3.7v3.8h-3.7zM433.3 555.5h6.7v3.8h-6.7zM433.3 558.6h6.7v3.8h-6.7zM427.2 561.8h12.8v3.8h-12.8zM427.2 565h15.9v3.8h-15.9zM427.2 568.1h15.9v3.8h-15.9zM427.2 571.3h3.7v3.8h-3.7zM433.3 571.3h9.8v3.8h-9.8zM424.1 574.4h6.7v3.8h-6.7zM436.4 574.4h6.7v3.8h-6.7zM424.1 577.6h6.7v3.8h-6.7zM439.4 577.6h6.7v3.8h-6.7zM424.1 580.8h6.7v3.8h-6.7zM439.4 580.8h6.7v3.8h-6.7zM424.1 583.9h3.7v3.8h-3.7zM439.4 583.9h6.7v3.8h-6.7zM424.1 587.1h3.7v3.8h-3.7zM439.4 587.1h6.7v3.8h-6.7zM424.1 590.2h3.7v3.8h-3.7zM439.4 590.2h6.7v3.8h-6.7zM421.1 593.4h6.7v3.8h-6.7zM439.4 593.4h6.7v3.8h-6.7zM421.1 596.6h6.7v3.8h-6.7zM442.5 596.6h3.7v3.8h-3.7zM421.1 599.7h3.7v3.8h-3.7zM442.5 599.7h3.7v3.8h-3.7zM421.1 602.9h3.7v3.8h-3.7zM442.5 602.9h3.7v3.8h-3.7zM421.1 606h3.7v3.8h-3.7zM442.5 606h3.7v3.8h-3.7zM421.1 609.2h3.7v3.8h-3.7zM439.4 609.2h6.7v3.8h-6.7zM421.1 612.4h3.7v3.8h-3.7zM439.4 612.4h6.7v3.8h-6.7zM421.1 615.5h3.7v3.8h-3.7zM439.4 615.5h6.7v3.8h-6.7zM421.1 618.7h3.7v3.8h-3.7zM439.4 618.7h3.7v3.8h-3.7zM421.1 621.8h3.7v3.8h-3.7zM439.4 621.8h3.7v3.8h-3.7zM421.1 625h3.7v3.8h-3.7zM439.4 625h3.7v3.8h-3.7zM421.1 628.2h3.7v3.8h-3.7zM439.4 628.2h3.7v3.8h-3.7zM418 631.3h6.7v3.8h-6.7zM439.4 631.3h3.7v3.8h-3.7zM418 634.5h6.7v3.8h-6.7zM439.4 634.5h3.7v3.8h-3.7zM418 637.6h6.7v3.8h-6.7zM439.4 637.6h3.7v3.8h-3.7zM418 640.8h6.7v3.8h-6.7zM439.4 640.8h3.7v3.8h-3.7zM418 644h3.7v3.8h-3.7zM439.4 644h3.7v3.8h-3.7zM414.9 647.1h6.7v3.8h-6.7zM439.4 647.1h3.7v3.8h-3.7zM414.9 650.3h6.7v3.8h-6.7zM439.4 650.3h3.7v3.8h-3.7zM411.9 653.4h6.7v3.8h-6.7zM439.4 653.4h3.7v3.8h-3.7zM405.8 656.6h6.7v3.8h-6.7zM439.4 656.6h6.7v3.8h-6.7zM442.5 659.8h3.7v3.8h-3.7zM442.5 662.9h9.8v3.8h-9.8zM473.1 662.9h19v3.8h-19zM442.5 666.1h34.3v3.8h-34.3zM445.6 669.2h15.9v3.8h-15.9zM445.6 672.4h9.8v3.8h-9.8zM500.7 716.6h25.1v3.8h-25.1zM497.6 726.1h3.7v3.8h-3.7zM500.7 732.4h3.7v3.8h-3.7zM500.7 735.6h3.7v3.8h-3.7zM500.7 738.8h3.7v3.8h-3.7zM500.7 741.9h3.7v3.8h-3.7zM497.6 745.1h3.7v3.8h-3.7zM497.6 754.6h3.7v3.8h-3.7zM497.6 757.7h3.7v3.8h-3.7zM497.6 760.9h3.7v3.8h-3.7zM534.4 760.9h15.9v3.8h-15.9zM497.6 764h3.7v3.8h-3.7zM531.3 764h22v3.8h-22zM497.6 767.2h3.7v3.8h-3.7zM531.3 767.2h6.7v3.8h-6.7zM497.6 770.4h3.7v3.8h-3.7zM531.3 770.4h3.7v3.8h-3.7zM497.6 773.5h3.7v3.8h-3.7zM531.3 773.5h3.7v3.8h-3.7zM497.6 776.7h3.7v3.8h-3.7zM534.4 776.7h3.7v3.8h-3.7zM537.5 779.8h3.7v3.8h-3.7zM537.5 783h25.1v3.8h-25.1zM540.5 786.2h22v3.8h-22zM497.6 789.3h3.7v3.8h-3.7zM500.7 811.4h3.7v3.8h-3.7zM500.7 814.6h3.7v3.8h-3.7zM497.6 817.8h3.7v3.8h-3.7zM494.6 820.9h6.7v3.8h-6.7zM565 852.5h22v3.8h-22zM552.8 855.7h34.3v3.8h-34.3zM513 858.8h77.2v3.8h-77.2zM675.3 912.6h15.9v3.8h-15.9zM669.1 915.7h12.8v3.8h-12.8zM669.1 918.9h15.9v3.8h-15.9zM669.1 922h9.8v3.8h-9.8zM672.2 925.2h6.7v3.8h-6.7zM672.2 928.4h6.7v3.8h-6.7zM690.6 928.4h3.7v3.8h-3.7zM675.3 931.5h3.7v3.8h-3.7zM693.6 931.5h3.7v3.8h-3.7zM675.3 934.7h6.7v3.8h-6.7zM675.3 937.8h6.7v3.8h-6.7zM669.1 941h12.8v3.8h-12.8zM666.1 944.2h6.7v3.8h-6.7zM663 947.3h6.7v3.8h-6.7zM656.9 950.5h6.7v3.8h-6.7zM656.9 953.6h3.7v3.8h-3.7zM653.8 956.8h3.7v3.8h-3.7zM653.8 960h3.7v3.8h-3.7zM650.8 966.3h3.7v3.8h-3.7zM650.8 969.4h3.7v3.8h-3.7zM650.8 972.6h3.7v3.8h-3.7zM650.8 975.8h3.7v3.8h-3.7zM650.8 978.9h3.7v3.8h-3.7z"/>
<path fill="#5468f8" d="M338.4 207.9h6.7v3.8h-6.7zM335.3 211h3.7v3.8h-3.7zM335.3 214.2h3.7v3.8h-3.7zM332.3 217.4h3.7v3.8h-3.7zM332.3 220.5h3.7v3.8h-3.7zM329.2 230h3.7v3.8h-3.7zM326.1 239.5h3.7v3.8h-3.7zM326.1 242.6h3.7v3.8h-3.7zM326.1 245.8h3.7v3.8h-3.7zM326.1 302.7h3.7v3.8h-3.7zM326.1 305.8h3.7v3.8h-3.7zM329.2 312.2h3.7v3.8h-3.7zM332.3 318.5h3.7v3.8h-3.7zM335.3 321.6h3.7v3.8h-3.7zM338.4 324.8h3.7v3.8h-3.7zM344.5 328h3.7v3.8h-3.7zM347.6 331.1h3.7v3.8h-3.7zM353.7 334.3h3.7v3.8h-3.7zM356.8 340.6h3.7v3.8h-3.7zM359.8 350.1h3.7v3.8h-3.7zM362.9 359.6h3.7v3.8h-3.7zM365.9 381.7h3.7v3.8h-3.7zM365.9 384.8h3.7v3.8h-3.7zM365.9 388h3.7v3.8h-3.7zM369 397.5h3.7v3.8h-3.7zM369 400.6h3.7v3.8h-3.7zM369 403.8h3.7v3.8h-3.7zM369 407h3.7v3.8h-3.7zM369 410.1h3.7v3.8h-3.7zM369 413.3h3.7v3.8h-3.7zM369 416.4h3.7v3.8h-3.7zM369 419.6h3.7v3.8h-3.7zM369 422.8h3.7v3.8h-3.7zM369 425.9h3.7v3.8h-3.7zM369 429.1h3.7v3.8h-3.7zM369 432.2h3.7v3.8h-3.7zM369 435.4h3.7v3.8h-3.7zM369 438.6h3.7v3.8h-3.7zM369 441.7h3.7v3.8h-3.7zM372.1 444.9h3.7v3.8h-3.7zM375.1 448h6.7v3.8h-6.7zM378.2 451.2h6.7v3.8h-6.7zM430.3 571.3h3.7v3.8h-3.7zM430.3 574.4h6.7v3.8h-6.7zM430.3 577.6h9.8v3.8h-9.8zM430.3 580.8h9.8v3.8h-9.8zM427.2 583.9h12.8v3.8h-12.8zM427.2 587.1h12.8v3.8h-12.8zM427.2 590.2h12.8v3.8h-12.8zM427.2 593.4h12.8v3.8h-12.8zM427.2 596.6h3.7v3.8h-3.7zM433.3 596.6h9.8v3.8h-9.8zM424.1 599.7h6.7v3.8h-6.7zM436.4 599.7h6.7v3.8h-6.7zM424.1 602.9h3.7v3.8h-3.7zM436.4 602.9h6.7v3.8h-6.7zM424.1 606h3.7v3.8h-3.7zM436.4 606h6.7v3.8h-6.7zM424.1 609.2h3.7v3.8h-3.7zM436.4 609.2h3.7v3.8h-3.7zM424.1 612.4h3.7v3.8h-3.7zM436.4 612.4h3.7v3.8h-3.7zM424.1 615.5h3.7v3.8h-3.7zM436.4 615.5h3.7v3.8h-3.7zM424.1 618.7h3.7v3.8h-3.7zM436.4 618.7h3.7v3.8h-3.7zM424.1 621.8h3.7v3.8h-3.7zM436.4 621.8h3.7v3.8h-3.7zM424.1 625h3.7v3.8h-3.7zM436.4 625h3.7v3.8h-3.7zM424.1 628.2h3.7v3.8h-3.7zM436.4 628.2h3.7v3.8h-3.7zM424.1 631.3h3.7v3.8h-3.7zM436.4 631.3h3.7v3.8h-3.7zM424.1 634.5h3.7v3.8h-3.7zM436.4 634.5h3.7v3.8h-3.7zM424.1 637.6h3.7v3.8h-3.7zM436.4 637.6h3.7v3.8h-3.7zM424.1 640.8h3.7v3.8h-3.7zM436.4 640.8h3.7v3.8h-3.7zM421.1 644h6.7v3.8h-6.7zM436.4 644h3.7v3.8h-3.7zM421.1 647.1h6.7v3.8h-6.7zM436.4 647.1h3.7v3.8h-3.7zM421.1 650.3h6.7v3.8h-6.7zM436.4 650.3h3.7v3.8h-3.7zM418 653.4h9.8v3.8h-9.8zM436.4 653.4h3.7v3.8h-3.7zM411.9 656.6h9.8v3.8h-9.8zM436.4 656.6h3.7v3.8h-3.7zM411.9 659.8h3.7v3.8h-3.7zM436.4 659.8h6.7v3.8h-6.7zM439.4 662.9h3.7v3.8h-3.7zM439.4 666.1h3.7v3.8h-3.7zM476.2 666.1h19v3.8h-19zM442.5 669.2h3.7v3.8h-3.7zM460.9 669.2h15.9v3.8h-15.9zM442.5 672.4h3.7v3.8h-3.7zM454.8 672.4h12.8v3.8h-12.8zM445.6 675.6h15.9v3.8h-15.9zM448.6 678.7h6.7v3.8h-6.7zM500.7 713.5h22v3.8h-22zM497.6 719.8h3.7v3.8h-3.7zM497.6 729.3h3.7v3.8h-3.7zM537.5 767.2h15.9v3.8h-15.9zM534.4 770.4h22v3.8h-22zM534.4 773.5h22v3.8h-22zM537.5 776.7h22v3.8h-22zM497.6 779.8h3.7v3.8h-3.7zM540.5 779.8h19v3.8h-19zM497.6 783h3.7v3.8h-3.7zM497.6 786.2h3.7v3.8h-3.7zM497.6 792.5h3.7v3.8h-3.7zM497.6 795.6h3.7v3.8h-3.7zM497.6 798.8h3.7v3.8h-3.7zM497.6 802h3.7v3.8h-3.7zM497.6 805.1h3.7v3.8h-3.7zM497.6 808.3h3.7v3.8h-3.7zM497.6 811.4h3.7v3.8h-3.7zM497.6 814.6h3.7v3.8h-3.7zM494.6 817.8h3.7v3.8h-3.7zM540.5 862h49.6v3.8h-49.6zM672.2 912.6h3.7v3.8h-3.7zM666.1 915.7h3.7v3.8h-3.7zM663 918.9h6.7v3.8h-6.7zM663 922h6.7v3.8h-6.7zM666.1 925.2h6.7v3.8h-6.7zM669.1 928.4h3.7v3.8h-3.7zM669.1 931.5h6.7v3.8h-6.7zM672.2 934.7h3.7v3.8h-3.7zM669.1 937.8h6.7v3.8h-6.7zM666.1 941h3.7v3.8h-3.7zM663 944.2h3.7v3.8h-3.7zM656.9 947.3h6.7v3.8h-6.7zM653.8 950.5h3.7v3.8h-3.7zM653.8 953.6h3.7v3.8h-3.7zM650.8 960h3.7v3.8h-3.7zM650.8 963.1h3.7v3.8h-3.7zM647.7 969.4h3.7v3.8h-3.7zM647.7 972.6h3.7v3.8h-3.7zM647.7 975.8h3.7v3.8h-3.7zM647.7 978.9h3.7v3.8h-3.7z"/>
<path fill="#4973f8" d="M338.4 211h3.7v3.8h-3.7zM335.3 217.4h3.7v3.8h-3.7zM332.3 223.7h3.7v3.8h-3.7zM332.3 226.8h3.7v3.8h-3.7zM329.2 233.2h3.7v3.8h-3.7zM326.1 249h3.7v3.8h-3.7zM326.1 252.1h3.7v3.8h-3.7zM326.1 255.3h3.7v3.8h-3.7zM326.1 258.4h3.7v3.8h-3.7zM326.1 261.6h3.7v3.8h-3.7zM326.1 264.8h3.7v3.8h-3.7zM326.1 267.9h3.7v3.8h-3.7zM326.1 271.1h3.7v3.8h-3.7zM326.1 274.2h3.7v3.8h-3.7zM326.1 277.4h3.7v3.8h-3.7zM326.1 280.6h3.7v3.8h-3.7zM329.2 309h3.7v3.8h-3.7zM332.3 315.3h3.7v3.8h-3.7zM335.3 318.5h3.7v3.8h-3.7zM338.4 321.6h3.7v3.8h-3.7zM341.4 324.8h3.7v3.8h-3.7zM347.6 328h3.7v3.8h-3.7zM350.6 331.1h3.7v3.8h-3.7zM356.8 337.4h3.7v3.8h-3.7zM359.8 346.9h3.7v3.8h-3.7zM362.9 356.4h3.7v3.8h-3.7zM365.9 369h3.7v3.8h-3.7zM365.9 372.2h3.7v3.8h-3.7zM365.9 375.4h3.7v3.8h-3.7zM365.9 378.5h3.7v3.8h-3.7zM369 391.2h3.7v3.8h-3.7zM369 394.3h3.7v3.8h-3.7zM372.1 410.1h3.7v3.8h-3.7zM372.1 413.3h3.7v3.8h-3.7zM372.1 416.4h3.7v3.8h-3.7zM372.1 419.6h3.7v3.8h-3.7zM372.1 422.8h3.7v3.8h-3.7zM372.1 425.9h3.7v3.8h-3.7zM372.1 429.1h3.7v3.8h-3.7zM372.1 432.2h3.7v3.8h-3.7zM372.1 435.4h3.7v3.8h-3.7zM372.1 438.6h3.7v3.8h-3.7zM372.1 441.7h6.7v3.8h-6.7zM375.1 444.9h6.7v3.8h-6.7zM381.3 448h3.7v3.8h-3.7zM430.3 596.6h3.7v3.8h-3.7zM430.3 599.7h6.7v3.8h-6.7zM427.2 602.9h3.7v3.8h-3.7zM433.3 602.9h3.7v3.8h-3.7zM427.2 606h9.8v3.8h-9.8zM427.2 609.2h9.8v3.8h-9.8zM427.2 612.4h9.8v3.8h-9.8zM427.2 615.5h9.8v3.8h-9.8zM427.2 618.7h9.8v3.8h-9.8zM427.2 621.8h9.8v3.8h-9.8zM427.2 625h9.8v3.8h-9.8zM427.2 628.2h3.7v3.8h-3.7zM433.3 628.2h3.7v3.8h-3.7zM427.2 631.3h9.8v3.8h-9.8zM427.2 634.5h9.8v3.8h-9.8zM427.2 637.6h9.8v3.8h-9.8zM427.2 640.8h9.8v3.8h-9.8zM427.2 644h9.8v3.8h-9.8zM427.2 647.1h9.8v3.8h-9.8zM427.2 650.3h9.8v3.8h-9.8zM427.2 653.4h9.8v3.8h-9.8zM421.1 656.6h15.9v3.8h-15.9zM414.9 659.8h22v3.8h-22zM411.9 662.9h3.7v3.8h-3.7zM433.3 662.9h6.7v3.8h-6.7zM436.4 666.1h3.7v3.8h-3.7zM439.4 669.2h3.7v3.8h-3.7zM476.2 669.2h22v3.8h-22zM439.4 672.4h3.7v3.8h-3.7zM467 672.4h12.8v3.8h-12.8zM442.5 675.6h3.7v3.8h-3.7zM460.9 675.6h6.7v3.8h-6.7zM442.5 678.7h6.7v3.8h-6.7zM454.8 678.7h9.8v3.8h-9.8zM445.6 681.9h15.9v3.8h-15.9zM448.6 685h6.7v3.8h-6.7zM500.7 710.3h22v3.8h-22zM497.6 716.6h3.7v3.8h-3.7zM494.6 719.8h3.7v3.8h-3.7zM494.6 723h3.7v3.8h-3.7zM497.6 732.4h3.7v3.8h-3.7zM494.6 745.1h3.7v3.8h-3.7zM494.6 748.2h3.7v3.8h-3.7zM494.6 751.4h3.7v3.8h-3.7zM494.6 754.6h3.7v3.8h-3.7zM494.6 773.5h3.7v3.8h-3.7zM494.6 814.6h3.7v3.8h-3.7zM513 862h28.2v3.8h-28.2zM558.9 865.2h31.2v3.8h-31.2zM660 922h3.7v3.8h-3.7zM660 925.2h6.7v3.8h-6.7zM663 928.4h6.7v3.8h-6.7zM666.1 931.5h3.7v3.8h-3.7zM666.1 934.7h6.7v3.8h-6.7zM663 937.8h6.7v3.8h-6.7zM660 941h6.7v3.8h-6.7zM656.9 944.2h6.7v3.8h-6.7zM653.8 947.3h3.7v3.8h-3.7zM650.8 950.5h3.7v3.8h-3.7zM650.8 953.6h3.7v3.8h-3.7zM650.8 956.8h3.7v3.8h-3.7zM647.7 966.3h3.7v3.8h-3.7z"/>
<path fill="#3c7ef8" d="M341.4 211h3.7v3.8h-3.7zM338.4 214.2h3.7v3.8h-3.7zM335.3 220.5h3.7v3.8h-3.7zM335.3 223.7h3.7v3.8h-3.7zM332.3 230h3.7v3.8h-3.7zM329.2 236.3h3.7v3.8h-3.7zM326.1 283.7h3.7v3.8h-3.7zM326.1 286.9h3.7v3.8h-3.7zM326.1 290h3.7v3.8h-3.7zM326.1 293.2h3.7v3.8h-3.7zM326.1 296.4h3.7v3.8h-3.7zM326.1 299.5h3.7v3.8h-3.7zM329.2 305.8h3.7v3.8h-3.7zM332.3 312.2h3.7v3.8h-3.7zM341.4 321.6h3.7v3.8h-3.7zM344.5 324.8h3.7v3.8h-3.7zM350.6 328h3.7v3.8h-3.7zM353.7 331.1h3.7v3.8h-3.7zM356.8 334.3h3.7v3.8h-3.7zM359.8 340.6h3.7v3.8h-3.7zM359.8 343.8h3.7v3.8h-3.7zM362.9 353.2h3.7v3.8h-3.7zM365.9 365.9h3.7v3.8h-3.7zM369 381.7h3.7v3.8h-3.7zM369 384.8h3.7v3.8h-3.7zM369 388h3.7v3.8h-3.7zM372.1 397.5h3.7v3.8h-3.7zM372.1 400.6h3.7v3.8h-3.7zM372.1 403.8h3.7v3.8h-3.7zM372.1 407h3.7v3.8h-3.7zM375.1 419.6h3.7v3.8h-3.7zM375.1 422.8h3.7v3.8h-3.7zM375.1 425.9h3.7v3.8h-3.7zM375.1 429.1h3.7v3.8h-3.7zM375.1 432.2h3.7v3.8h-3.7zM375.1 435.4h3.7v3.8h-3.7zM375.1 438.6h3.7v3.8h-3.7zM378.2 441.7h6.7v3.8h-6.7zM381.3 444.9h3.7v3.8h-3.7zM430.3 602.9h3.7v3.8h-3.7zM430.3 628.2h3.7v3.8h-3.7zM414.9 662.9h19v3.8h-19zM411.9 666.1h6.7v3.8h-6.7zM427.2 666.1h9.8v3.8h-9.8zM433.3 669.2h6.7v3.8h-6.7zM436.4 672.4h3.7v3.8h-3.7zM479.3 672.4h19v3.8h-19zM439.4 675.6h3.7v3.8h-3.7zM467 675.6h3.7v3.8h-3.7zM482.3 675.6h19v3.8h-19zM439.4 678.7h3.7v3.8h-3.7zM463.9 678.7h3.7v3.8h-3.7zM442.5 681.9h3.7v3.8h-3.7zM460.9 681.9h3.7v3.8h-3.7zM442.5 685h6.7v3.8h-6.7zM454.8 685h9.8v3.8h-9.8zM445.6 688.2h15.9v3.8h-15.9zM448.6 691.4h9.8v3.8h-9.8zM497.6 710.3h3.7v3.8h-3.7zM497.6 713.5h3.7v3.8h-3.7zM494.6 716.6h3.7v3.8h-3.7zM494.6 726.1h3.7v3.8h-3.7zM497.6 735.6h3.7v3.8h-3.7zM497.6 738.8h3.7v3.8h-3.7zM497.6 741.9h3.7v3.8h-3.7zM494.6 757.7h3.7v3.8h-3.7zM494.6 760.9h3.7v3.8h-3.7zM494.6 764h3.7v3.8h-3.7zM494.6 770.4h3.7v3.8h-3.7zM494.6 776.7h3.7v3.8h-3.7zM494.6 779.8h3.7v3.8h-3.7zM494.6 783h3.7v3.8h-3.7zM494.6 798.8h3.7v3.8h-3.7zM494.6 802h3.7v3.8h-3.7zM494.6 805.1h3.7v3.8h-3.7zM494.6 808.3h3.7v3.8h-3.7zM494.6 811.4h3.7v3.8h-3.7zM543.6 865.2h15.9v3.8h-15.9zM675.3 909.4h15.9v3.8h-15.9zM656.9 925.2h3.7v3.8h-3.7zM660 928.4h3.7v3.8h-3.7zM663 931.5h3.7v3.8h-3.7zM663 934.7h3.7v3.8h-3.7zM660 937.8h3.7v3.8h-3.7zM656.9 941h3.7v3.8h-3.7zM650.8 944.2h6.7v3.8h-6.7zM647.7 947.3h6.7v3.8h-6.7zM647.7 950.5h3.7v3.8h-3.7zM647.7 953.6h3.7v3.8h-3.7zM647.7 956.8h3.7v3.8h-3.7zM647.7 960h3.7v3.8h-3.7zM647.7 963.1h3.7v3.8h-3.7z"/>
<path fill="#2f8af8" d="M335.3 226.8h3.7v3.8h-3.7zM329.2 239.5h3.7v3.8h-3.7zM335.3 315.3h3.7v3.8h-3.7zM338.4 318.5h3.7v3.8h-3.7zM347.6 324.8h3.7v3.8h-3.7zM359.8 337.4h3.7v3.8h-3.7zM362.9 350.1h3.7v3.8h-3.7zM365.9 362.7h3.7v3.8h-3.7zM369 375.4h3.7v3.8h-3.7zM369 378.5h3.7v3.8h-3.7zM372.1 394.3h3.7v3.8h-3.7zM375.1 403.8h3.7v3.8h-3.7zM375.1 407h3.7v3.8h-3.7zM375.1 410.1h3.7v3.8h-3.7zM375.1 413.3h3.7v3.8h-3.7zM375.1 416.4h3.7v3.8h-3.7zM378.2 422.8h3.7v3.8h-3.7zM378.2 425.9h3.7v3.8h-3.7zM378.2 429.1h3.7v3.8h-3.7zM378.2 432.2h6.7v3.8h-6.7zM378.2 435.4h15.9v3.8h-15.9zM378.2 438.6h15.9v3.8h-15.9zM418 666.1h9.8v3.8h-9.8zM427.2 669.2h6.7v3.8h-6.7zM430.3 672.4h6.7v3.8h-6.7zM433.3 675.6h6.7v3.8h-6.7zM470.1 675.6h12.8v3.8h-12.8zM436.4 678.7h3.7v3.8h-3.7zM467 678.7h3.7v3.8h-3.7zM482.3 678.7h19v3.8h-19zM436.4 681.9h6.7v3.8h-6.7zM463.9 681.9h3.7v3.8h-3.7zM485.4 681.9h19v3.8h-19zM439.4 685h3.7v3.8h-3.7zM463.9 685h3.7v3.8h-3.7zM442.5 688.2h3.7v3.8h-3.7zM460.9 688.2h3.7v3.8h-3.7zM442.5 691.4h6.7v3.8h-6.7zM457.8 691.4h6.7v3.8h-6.7zM445.6 694.5h15.9v3.8h-15.9zM445.6 697.7h15.9v3.8h-15.9zM448.6 700.8h6.7v3.8h-6.7zM497.6 707.2h22v3.8h-22zM494.6 729.3h3.7v3.8h-3.7zM494.6 741.9h3.7v3.8h-3.7zM494.6 767.2h3.7v3.8h-3.7zM494.6 786.2h3.7v3.8h-3.7zM494.6 789.3h3.7v3.8h-3.7zM494.6 792.5h3.7v3.8h-3.7zM494.6 795.6h3.7v3.8h-3.7zM491.5 808.3h3.7v3.8h-3.7zM491.5 811.4h3.7v3.8h-3.7zM513 865.2h31.2v3.8h-31.2zM565 868.3h28.2v3.8h-28.2zM653.8 928.4h6.7v3.8h-6.7zM656.9 931.5h6.7v3.8h-6.7zM656.9 934.7h6.7v3.8h-6.7zM653.8 937.8h6.7v3.8h-6.7zM650.8 941h6.7v3.8h-6.7zM647.7 944.2h3.7v3.8h-3.7zM571.1 950.5h3.7v3.8h-3.7zM568.1 953.6h6.7v3.8h-6.7zM568.1 956.8h6.7v3.8h-6.7zM644.6 972.6h3.7v3.8h-3.7zM644.6 975.8h3.7v3.8h-3.7zM644.6 978.9h3.7v3.8h-3.7z"/>
<path fill="#2497f8" d="M341.4 214.2h3.7v3.8h-3.7zM338.4 217.4h3.7v3.8h-3.7zM332.3 233.2h3.7v3.8h-3.7zM329.2 242.6h3.7v3.8h-3.7zM329.2 245.8h3.7v3.8h-3.7zM329.2 302.7h3.7v3.8h-3.7zM332.3 309h3.7v3.8h-3.7zM341.4 318.5h3.7v3.8h-3.7zM344.5 321.6h3.7v3.8h-3.7zM350.6 324.8h3.7v3.8h-3.7zM353.7 328h3.7v3.8h-3.7zM356.8 331.1h3.7v3.8h-3.7zM362.9 343.8h3.7v3.8h-3.7zM362.9 346.9h3.7v3.8h-3.7zM365.9 356.4h3.7v3.8h-3.7zM365.9 359.6h3.7v3.8h-3.7zM369 369h3.7v3.8h-3.7zM369 372.2h3.7v3.8h-3.7zM372.1 384.8h3.7v3.8h-3.7zM372.1 388h3.7v3.8h-3.7zM372.1 391.2h3.7v3.8h-3.7zM375.1 397.5h3.7v3.8h-3.7zM375.1 400.6h3.7v3.8h-3.7zM378.2 410.1h3.7v3.8h-3.7zM378.2 413.3h3.7v3.8h-3.7zM378.2 416.4h3.7v3.8h-3.7zM378.2 419.6h3.7v3.8h-3.7zM381.3 422.8h12.8v3.8h-12.8zM381.3 425.9h12.8v3.8h-12.8zM381.3 429.1h12.8v3.8h-12.8zM384.3 432.2h9.8v3.8h-9.8zM418 669.2h9.8v3.8h-9.8zM418 672.4h3.7v3.8h-3.7zM427.2 672.4h3.7v3.8h-3.7zM430.3 675.6h3.7v3.8h-3.7zM430.3 678.7h6.7v3.8h-6.7zM470.1 678.7h3.7v3.8h-3.7zM479.3 678.7h3.7v3.8h-3.7zM433.3 681.9h3.7v3.8h-3.7zM467 681.9h3.7v3.8h-3.7zM482.3 681.9h3.7v3.8h-3.7zM436.4 685h3.7v3.8h-3.7zM467 685h3.7v3.8h-3.7zM485.4 685h22v3.8h-22zM436.4 688.2h6.7v3.8h-6.7zM463.9 688.2h6.7v3.8h-6.7zM439.4 691.4h3.7v3.8h-3.7zM463.9 691.4h3.7v3.8h-3.7zM442.5 694.5h3.7v3.8h-3.7zM460.9 694.5h6.7v3.8h-6.7zM442.5 697.7h3.7v3.8h-3.7zM460.9 697.7h3.7v3.8h-3.7zM445.6 700.8h3.7v3.8h-3.7zM454.8 700.8h6.7v3.8h-6.7zM448.6 704h12.8v3.8h-12.8zM494.6 704h22v3.8h-22zM451.7 707.2h9.8v3.8h-9.8zM494.6 713.5h3.7v3.8h-3.7zM491.5 716.6h3.7v3.8h-3.7zM491.5 719.8h3.7v3.8h-3.7zM491.5 723h3.7v3.8h-3.7zM491.5 745.1h3.7v3.8h-3.7zM491.5 748.2h3.7v3.8h-3.7zM491.5 802h3.7v3.8h-3.7zM491.5 805.1h3.7v3.8h-3.7zM558.9 868.3h6.7v3.8h-6.7zM650.8 928.4h3.7v3.8h-3.7zM653.8 931.5h3.7v3.8h-3.7zM653.8 934.7h3.7v3.8h-3.7zM650.8 937.8h3.7v3.8h-3.7zM647.7 941h3.7v3.8h-3.7zM644.6 944.2h3.7v3.8h-3.7zM571.1 947.3h3.7v3.8h-3.7zM565 950.5h6.7v3.8h-6.7zM574.2 950.5h3.7v3.8h-3.7zM574.2 953.6h3.7v3.8h-3.7zM574.2 956.8h3.7v3.8h-3.7zM644.6 966.3h3.7v3.8h-3.7zM644.6 969.4h3.7v3.8h-3.7z"/>
<path fill="#1da1f5" d="M338.4 220.5h3.7v3.8h-3.7zM335.3 230h3.7v3.8h-3.7zM329.2 249h3.7v3.8h-3.7zM329.2 252.1h3.7v3.8h-3.7zM329.2 255.3h3.7v3.8h-3.7zM329.2 299.5h3.7v3.8h-3.7zM332.3 305.8h3.7v3.8h-3.7zM335.3 312.2h3.7v3.8h-3.7zM338.4 315.3h3.7v3.8h-3.7zM344.5 318.5h3.7v3.8h-3.7zM347.6 321.6h3.7v3.8h-3.7zM353.7 324.8h3.7v3.8h-3.7zM356.8 328h3.7v3.8h-3.7zM359.8 334.3h3.7v3.8h-3.7zM362.9 340.6h3.7v3.8h-3.7zM365.9 350.1h3.7v3.8h-3.7zM365.9 353.2h3.7v3.8h-3.7zM369 359.6h3.7v3.8h-3.7zM369 362.7h3.7v3.8h-3.7zM369 365.9h3.7v3.8h-3.7zM372.1 378.5h3.7v3.8h-3.7zM372.1 381.7h3.7v3.8h-3.7zM375.1 391.2h3.7v3.8h-3.7zM375.1 394.3h3.7v3.8h-3.7zM378.2 400.6h3.7v3.8h-3.7zM378.2 403.8h12.8v3.8h-12.8zM378.2 407h12.8v3.8h-12.8zM381.3 410.1h12.8v3.8h-12.8zM381.3 413.3h12.8v3.8h-12.8zM381.3 416.4h12.8v3.8h-12.8zM381.3 419.6h12.8v3.8h-12.8zM421.1 672.4h6.7v3.8h-6.7zM418 675.6h12.8v3.8h-12.8zM418 678.7h12.8v3.8h-12.8zM473.1 678.7h6.7v3.8h-6.7zM418 681.9h3.7v3.8h-3.7zM430.3 681.9h3.7v3.8h-3.7zM430.3 685h6.7v3.8h-6.7zM433.3 688.2h3.7v3.8h-3.7zM488.4 688.2h19v3.8h-19zM436.4 691.4h3.7v3.8h-3.7zM467 691.4h3.7v3.8h-3.7zM488.4 691.4h22v3.8h-22zM439.4 694.5h3.7v3.8h-3.7zM467 694.5h3.7v3.8h-3.7zM439.4 697.7h3.7v3.8h-3.7zM463.9 697.7h6.7v3.8h-6.7zM442.5 700.8h3.7v3.8h-3.7zM460.9 700.8h3.7v3.8h-3.7zM494.6 700.8h22v3.8h-22zM445.6 704h3.7v3.8h-3.7zM460.9 704h3.7v3.8h-3.7zM445.6 707.2h6.7v3.8h-6.7zM460.9 707.2h3.7v3.8h-3.7zM494.6 707.2h3.7v3.8h-3.7zM448.6 710.3h15.9v3.8h-15.9zM494.6 710.3h3.7v3.8h-3.7zM451.7 713.5h12.8v3.8h-12.8zM491.5 713.5h3.7v3.8h-3.7zM454.8 716.6h6.7v3.8h-6.7zM494.6 732.4h3.7v3.8h-3.7zM491.5 741.9h3.7v3.8h-3.7zM491.5 751.4h3.7v3.8h-3.7zM491.5 773.5h3.7v3.8h-3.7zM491.5 792.5h3.7v3.8h-3.7zM491.5 795.6h3.7v3.8h-3.7zM491.5 798.8h3.7v3.8h-3.7zM552.8 868.3h6.7v3.8h-6.7zM568.1 871.5h25.1v3.8h-25.1zM644.6 928.4h3.7v3.8h-3.7zM647.7 931.5h6.7v3.8h-6.7zM571.1 934.7h3.7v3.8h-3.7zM650.8 934.7h3.7v3.8h-3.7zM644.6 937.8h6.7v3.8h-6.7zM644.6 941h3.7v3.8h-3.7zM568.1 947.3h3.7v3.8h-3.7zM574.2 947.3h6.7v3.8h-6.7zM644.6 947.3h3.7v3.8h-3.7zM562 950.5h3.7v3.8h-3.7zM577.3 950.5h3.7v3.8h-3.7zM644.6 950.5h3.7v3.8h-3.7zM577.3 953.6h3.7v3.8h-3.7zM577.3 956.8h3.7v3.8h-3.7zM577.3 960h3.7v3.8h-3.7zM577.3 963.1h3.7v3.8h-3.7zM644.6 963.1h3.7v3.8h-3.7z"/>
<path fill="#18a8f0" d="M332.3 236.3h3.7v3.8h-3.7zM329.2 258.4h3.7v3.8h-3.7zM329.2 261.6h3.7v3.8h-3.7zM329.2 264.8h3.7v3.8h-3.7zM329.2 267.9h3.7v3.8h-3.7zM329.2 271.1h3.7v3.8h-3.7zM329.2 274.2h3.7v3.8h-3.7zM329.2 277.4h3.7v3.8h-3.7zM329.2 280.6h3.7v3.8h-3.7zM329.2 283.7h3.7v3.8h-3.7zM329.2 286.9h3.7v3.8h-3.7zM329.2 290h3.7v3.8h-3.7zM329.2 293.2h3.7v3.8h-3.7zM329.2 296.4h3.7v3.8h-3.7zM341.4 315.3h3.7v3.8h-3.7zM347.6 318.5h3.7v3.8h-3.7zM350.6 321.6h3.7v3.8h-3.7zM356.8 324.8h3.7v3.8h-3.7zM359.8 331.1h3.7v3.8h-3.7zM362.9 337.4h6.7v3.8h-6.7zM365.9 340.6h3.7v3.8h-3.7zM365.9 343.8h9.8v3.8h-9.8zM365.9 346.9h9.8v3.8h-9.8zM369 350.1h6.7v3.8h-6.7zM369 353.2h6.7v3.8h-6.7zM369 356.4h6.7v3.8h-6.7zM372.1 359.6h9.8v3.8h-9.8zM372.1 362.7h9.8v3.8h-9.8zM372.1 365.9h9.8v3.8h-9.8zM372.1 369h9.8v3.8h-9.8zM372.1 372.2h9.8v3.8h-9.8zM372.1 375.4h9.8v3.8h-9.8zM375.1 378.5h6.7v3.8h-6.7zM375.1 381.7h6.7v3.8h-6.7zM375.1 384.8h6.7v3.8h-6.7zM375.1 388h6.7v3.8h-6.7zM378.2 391.2h9.8v3.8h-9.8zM378.2 394.3h9.8v3.8h-9.8zM378.2 397.5h12.8v3.8h-12.8zM381.3 400.6h9.8v3.8h-9.8zM421.1 681.9h9.8v3.8h-9.8zM470.1 681.9h3.7v3.8h-3.7zM479.3 681.9h3.7v3.8h-3.7zM424.1 685h6.7v3.8h-6.7zM482.3 685h3.7v3.8h-3.7zM424.1 688.2h9.8v3.8h-9.8zM470.1 688.2h3.7v3.8h-3.7zM485.4 688.2h3.7v3.8h-3.7zM427.2 691.4h9.8v3.8h-9.8zM470.1 691.4h3.7v3.8h-3.7zM433.3 694.5h6.7v3.8h-6.7zM470.1 694.5h3.7v3.8h-3.7zM491.5 694.5h19v3.8h-19zM436.4 697.7h3.7v3.8h-3.7zM491.5 697.7h22v3.8h-22zM436.4 700.8h6.7v3.8h-6.7zM463.9 700.8h3.7v3.8h-3.7zM439.4 704h6.7v3.8h-6.7zM442.5 707.2h3.7v3.8h-3.7zM445.6 710.3h3.7v3.8h-3.7zM445.6 713.5h6.7v3.8h-6.7zM463.9 713.5h3.7v3.8h-3.7zM448.6 716.6h6.7v3.8h-6.7zM460.9 716.6h6.7v3.8h-6.7zM488.4 716.6h3.7v3.8h-3.7zM451.7 719.8h15.9v3.8h-15.9zM488.4 719.8h3.7v3.8h-3.7zM451.7 723h15.9v3.8h-15.9zM494.6 735.6h3.7v3.8h-3.7zM491.5 738.8h6.7v3.8h-6.7zM491.5 754.6h3.7v3.8h-3.7zM491.5 767.2h3.7v3.8h-3.7zM491.5 770.4h3.7v3.8h-3.7zM491.5 776.7h3.7v3.8h-3.7zM491.5 779.8h3.7v3.8h-3.7zM491.5 786.2h3.7v3.8h-3.7zM491.5 789.3h3.7v3.8h-3.7zM488.4 798.8h3.7v3.8h-3.7zM543.6 868.3h9.8v3.8h-9.8zM562 871.5h6.7v3.8h-6.7zM565 874.6h31.2v3.8h-31.2zM568.1 877.8h28.2v3.8h-28.2zM571.1 881h28.2v3.8h-28.2zM571.1 884.1h31.2v3.8h-31.2zM571.1 887.3h31.2v3.8h-31.2zM571.1 890.4h34.3v3.8h-34.3zM574.2 893.6h31.2v3.8h-31.2zM574.2 903.1h3.7v3.8h-3.7zM571.1 912.6h3.7v3.8h-3.7zM629.3 918.9h3.7v3.8h-3.7zM571.1 922h3.7v3.8h-3.7zM638.5 925.2h3.7v3.8h-3.7zM574.2 928.4h3.7v3.8h-3.7zM641.6 928.4h3.7v3.8h-3.7zM568.1 931.5h12.8v3.8h-12.8zM644.6 931.5h3.7v3.8h-3.7zM568.1 934.7h3.7v3.8h-3.7zM574.2 934.7h6.7v3.8h-6.7zM644.6 934.7h6.7v3.8h-6.7zM571.1 937.8h6.7v3.8h-6.7zM641.6 937.8h3.7v3.8h-3.7zM571.1 941h6.7v3.8h-6.7zM641.6 941h3.7v3.8h-3.7zM571.1 944.2h9.8v3.8h-9.8zM641.6 944.2h3.7v3.8h-3.7zM565 947.3h3.7v3.8h-3.7zM580.3 947.3h3.7v3.8h-3.7zM580.3 950.5h3.7v3.8h-3.7zM580.3 953.6h3.7v3.8h-3.7zM644.6 953.6h3.7v3.8h-3.7zM580.3 956.8h3.7v3.8h-3.7zM644.6 956.8h3.7v3.8h-3.7zM580.3 960h3.7v3.8h-3.7zM644.6 960h3.7v3.8h-3.7zM580.3 963.1h3.7v3.8h-3.7zM583.4 966.3h3.7v3.8h-3.7zM583.4 969.4h3.7v3.8h-3.7z"/>
<path fill="#14b1e7" d="M341.4 217.4h3.7v3.8h-3.7zM338.4 223.7h3.7v3.8h-3.7zM335.3 233.2h3.7v3.8h-3.7zM335.3 309h3.7v3.8h-3.7zM338.4 312.2h3.7v3.8h-3.7zM344.5 315.3h3.7v3.8h-3.7zM350.6 318.5h3.7v3.8h-3.7zM353.7 321.6h6.7v3.8h-6.7zM359.8 324.8h3.7v3.8h-3.7zM359.8 328h3.7v3.8h-3.7zM362.9 331.1h6.7v3.8h-6.7zM362.9 334.3h6.7v3.8h-6.7zM473.1 681.9h6.7v3.8h-6.7zM470.1 685h3.7v3.8h-3.7zM424.1 691.4h3.7v3.8h-3.7zM424.1 694.5h9.8v3.8h-9.8zM488.4 694.5h3.7v3.8h-3.7zM427.2 697.7h9.8v3.8h-9.8zM470.1 697.7h3.7v3.8h-3.7zM430.3 700.8h6.7v3.8h-6.7zM467 700.8h3.7v3.8h-3.7zM491.5 700.8h3.7v3.8h-3.7zM433.3 704h6.7v3.8h-6.7zM463.9 704h3.7v3.8h-3.7zM491.5 704h3.7v3.8h-3.7zM433.3 707.2h9.8v3.8h-9.8zM463.9 707.2h3.7v3.8h-3.7zM436.4 710.3h9.8v3.8h-9.8zM463.9 710.3h3.7v3.8h-3.7zM439.4 713.5h6.7v3.8h-6.7zM485.4 713.5h6.7v3.8h-6.7zM439.4 716.6h9.8v3.8h-9.8zM442.5 719.8h9.8v3.8h-9.8zM467 719.8h3.7v3.8h-3.7zM445.6 723h6.7v3.8h-6.7zM467 723h3.7v3.8h-3.7zM448.6 726.1h15.9v3.8h-15.9zM491.5 726.1h3.7v3.8h-3.7zM454.8 729.3h9.8v3.8h-9.8zM488.4 741.9h3.7v3.8h-3.7zM488.4 745.1h3.7v3.8h-3.7zM491.5 757.7h3.7v3.8h-3.7zM491.5 783h3.7v3.8h-3.7zM488.4 792.5h3.7v3.8h-3.7zM488.4 795.6h3.7v3.8h-3.7zM531.3 868.3h12.8v3.8h-12.8zM558.9 871.5h3.7v3.8h-3.7zM562 874.6h3.7v3.8h-3.7zM565 877.8h3.7v3.8h-3.7zM565 881h6.7v3.8h-6.7zM568.1 884.1h3.7v3.8h-3.7zM568.1 887.3h3.7v3.8h-3.7zM568.1 890.4h3.7v3.8h-3.7zM568.1 893.6h6.7v3.8h-6.7zM568.1 896.8h40.4v3.8h-40.4zM568.1 899.9h12.8v3.8h-12.8zM568.1 903.1h6.7v3.8h-6.7zM577.3 903.1h3.7v3.8h-3.7zM568.1 906.2h9.8v3.8h-9.8zM568.1 909.4h6.7v3.8h-6.7zM565 912.6h6.7v3.8h-6.7zM568.1 915.7h6.7v3.8h-6.7zM623.2 915.7h3.7v3.8h-3.7zM568.1 918.9h9.8v3.8h-9.8zM626.3 918.9h3.7v3.8h-3.7zM574.2 922h3.7v3.8h-3.7zM632.4 922h3.7v3.8h-3.7zM571.1 925.2h6.7v3.8h-6.7zM635.5 925.2h3.7v3.8h-3.7zM568.1 928.4h6.7v3.8h-6.7zM577.3 928.4h3.7v3.8h-3.7zM638.5 928.4h3.7v3.8h-3.7zM641.6 931.5h3.7v3.8h-3.7zM565 934.7h3.7v3.8h-3.7zM580.3 934.7h3.7v3.8h-3.7zM641.6 934.7h3.7v3.8h-3.7zM568.1 937.8h3.7v3.8h-3.7zM577.3 937.8h3.7v3.8h-3.7zM638.5 937.8h3.7v3.8h-3.7zM568.1 941h3.7v3.8h-3.7zM577.3 941h3.7v3.8h-3.7zM568.1 944.2h3.7v3.8h-3.7zM580.3 944.2h3.7v3.8h-3.7zM562 947.3h3.7v3.8h-3.7zM641.6 947.3h3.7v3.8h-3.7zM583.4 950.5h3.7v3.8h-3.7zM583.4 953.6h3.7v3.8h-3.7zM583.4 956.8h3.7v3.8h-3.7zM583.4 960h3.7v3.8h-3.7zM583.4 963.1h3.7v3.8h-3.7zM586.5 966.3h3.7v3.8h-3.7zM586.5 969.4h3.7v3.8h-3.7zM641.6 969.4h3.7v3.8h-3.7zM641.6 972.6h3.7v3.8h-3.7zM641.6 975.8h3.7v3.8h-3.7zM641.6 978.9h3.7v3.8h-3.7z"/>
<path fill="#0ebcdf" d="M338.4 226.8h3.7v3.8h-3.7zM332.3 239.5h3.7v3.8h-3.7zM332.3 302.7h3.7v3.8h-3.7zM341.4 312.2h3.7v3.8h-3.7zM347.6 315.3h15.9v3.8h-15.9zM353.7 318.5h9.8v3.8h-9.8zM359.8 321.6h3.7v3.8h-3.7zM473.1 685h3.7v3.8h-3.7zM485.4 691.4h3.7v3.8h-3.7zM424.1 697.7h3.7v3.8h-3.7zM473.1 697.7h3.7v3.8h-3.7zM424.1 700.8h6.7v3.8h-6.7zM470.1 700.8h6.7v3.8h-6.7zM430.3 704h3.7v3.8h-3.7zM467 704h3.7v3.8h-3.7zM430.3 707.2h3.7v3.8h-3.7zM491.5 707.2h3.7v3.8h-3.7zM430.3 710.3h6.7v3.8h-6.7zM482.3 710.3h3.7v3.8h-3.7zM488.4 710.3h6.7v3.8h-6.7zM430.3 713.5h9.8v3.8h-9.8zM467 713.5h3.7v3.8h-3.7zM436.4 716.6h3.7v3.8h-3.7zM467 716.6h3.7v3.8h-3.7zM485.4 716.6h3.7v3.8h-3.7zM436.4 719.8h6.7v3.8h-6.7zM436.4 723h9.8v3.8h-9.8zM436.4 726.1h12.8v3.8h-12.8zM463.9 726.1h9.8v3.8h-9.8zM445.6 729.3h9.8v3.8h-9.8zM463.9 729.3h3.7v3.8h-3.7zM448.6 732.4h19v3.8h-19zM454.8 735.6h9.8v3.8h-9.8zM488.4 738.8h3.7v3.8h-3.7zM491.5 760.9h3.7v3.8h-3.7zM491.5 764h3.7v3.8h-3.7zM488.4 786.2h3.7v3.8h-3.7zM485.4 789.3h6.7v3.8h-6.7zM485.4 792.5h3.7v3.8h-3.7zM485.4 795.6h3.7v3.8h-3.7zM485.4 798.8h3.7v3.8h-3.7zM513 868.3h19v3.8h-19zM552.8 871.5h6.7v3.8h-6.7zM558.9 874.6h3.7v3.8h-3.7zM562 877.8h3.7v3.8h-3.7zM562 881h3.7v3.8h-3.7zM562 884.1h6.7v3.8h-6.7zM565 887.3h3.7v3.8h-3.7zM565 890.4h3.7v3.8h-3.7zM565 893.6h3.7v3.8h-3.7zM565 896.8h3.7v3.8h-3.7zM565 899.9h3.7v3.8h-3.7zM580.3 899.9h28.2v3.8h-28.2zM565 903.1h3.7v3.8h-3.7zM580.3 903.1h31.2v3.8h-31.2zM565 906.2h3.7v3.8h-3.7zM577.3 906.2h3.7v3.8h-3.7zM565 909.4h3.7v3.8h-3.7zM574.2 909.4h3.7v3.8h-3.7zM574.2 912.6h3.7v3.8h-3.7zM617.1 912.6h3.7v3.8h-3.7zM565 915.7h3.7v3.8h-3.7zM574.2 915.7h3.7v3.8h-3.7zM620.1 915.7h3.7v3.8h-3.7zM568.1 922h3.7v3.8h-3.7zM629.3 922h3.7v3.8h-3.7zM568.1 925.2h3.7v3.8h-3.7zM577.3 925.2h3.7v3.8h-3.7zM632.4 925.2h3.7v3.8h-3.7zM635.5 928.4h3.7v3.8h-3.7zM565 931.5h3.7v3.8h-3.7zM580.3 931.5h3.7v3.8h-3.7zM638.5 931.5h3.7v3.8h-3.7zM638.5 934.7h3.7v3.8h-3.7zM580.3 937.8h3.7v3.8h-3.7zM580.3 941h3.7v3.8h-3.7zM638.5 941h3.7v3.8h-3.7zM583.4 944.2h3.7v3.8h-3.7zM638.5 944.2h3.7v3.8h-3.7zM583.4 947.3h3.7v3.8h-3.7zM641.6 950.5h3.7v3.8h-3.7zM586.5 953.6h3.7v3.8h-3.7zM586.5 956.8h3.7v3.8h-3.7zM586.5 960h3.7v3.8h-3.7zM586.5 963.1h3.7v3.8h-3.7zM641.6 966.3h3.7v3.8h-3.7z"/>
<path fill="#0ac5cf" d="M341.4 220.5h3.7v3.8h-3.7zM335.3 305.8h3.7v3.8h-3.7zM338.4 309h3.7v3.8h-3.7zM344.5 312.2h6.7v3.8h-6.7zM356.8 312.2h6.7v3.8h-6.7zM476.2 685h6.7v3.8h-6.7zM482.3 688.2h3.7v3.8h-3.7zM488.4 697.7h3.7v3.8h-3.7zM470.1 704h3.7v3.8h-3.7zM476.2 704h3.7v3.8h-3.7zM479.3 707.2h3.7v3.8h-3.7zM467 710.3h3.7v3.8h-3.7zM485.4 710.3h3.7v3.8h-3.7zM470.1 719.8h3.7v3.8h-3.7zM470.1 723h3.7v3.8h-3.7zM436.4 729.3h9.8v3.8h-9.8zM491.5 729.3h3.7v3.8h-3.7zM442.5 732.4h6.7v3.8h-6.7zM442.5 735.6h12.8v3.8h-12.8zM463.9 735.6h3.7v3.8h-3.7zM482.3 735.6h3.7v3.8h-3.7zM491.5 735.6h3.7v3.8h-3.7zM448.6 738.8h22v3.8h-22zM485.4 738.8h3.7v3.8h-3.7zM454.8 741.9h12.8v3.8h-12.8zM485.4 741.9h3.7v3.8h-3.7zM460.9 745.1h6.7v3.8h-6.7zM488.4 767.2h3.7v3.8h-3.7zM488.4 770.4h3.7v3.8h-3.7zM488.4 783h3.7v3.8h-3.7zM479.3 786.2h9.8v3.8h-9.8zM549.7 871.5h3.7v3.8h-3.7zM555.8 874.6h3.7v3.8h-3.7zM558.9 877.8h3.7v3.8h-3.7zM558.9 881h3.7v3.8h-3.7zM562 887.3h3.7v3.8h-3.7zM562 890.4h3.7v3.8h-3.7zM562 893.6h3.7v3.8h-3.7zM562 896.8h3.7v3.8h-3.7zM601.8 906.2h9.8v3.8h-9.8zM577.3 909.4h3.7v3.8h-3.7zM611 909.4h6.7v3.8h-6.7zM577.3 912.6h3.7v3.8h-3.7zM614 912.6h3.7v3.8h-3.7zM577.3 915.7h3.7v3.8h-3.7zM617.1 915.7h3.7v3.8h-3.7zM565 918.9h3.7v3.8h-3.7zM577.3 918.9h3.7v3.8h-3.7zM623.2 918.9h3.7v3.8h-3.7zM577.3 922h3.7v3.8h-3.7zM626.3 922h3.7v3.8h-3.7zM629.3 925.2h3.7v3.8h-3.7zM565 928.4h3.7v3.8h-3.7zM580.3 928.4h3.7v3.8h-3.7zM632.4 928.4h3.7v3.8h-3.7zM635.5 931.5h3.7v3.8h-3.7zM635.5 934.7h3.7v3.8h-3.7zM565 937.8h3.7v3.8h-3.7zM583.4 937.8h3.7v3.8h-3.7zM635.5 937.8h3.7v3.8h-3.7zM583.4 941h3.7v3.8h-3.7zM565 944.2h3.7v3.8h-3.7zM586.5 947.3h3.7v3.8h-3.7zM586.5 950.5h3.7v3.8h-3.7zM641.6 953.6h3.7v3.8h-3.7zM641.6 963.1h3.7v3.8h-3.7z"/>
<path fill="#07cdbc" d="M338.4 230h3.7v3.8h-3.7zM335.3 236.3h3.7v3.8h-3.7zM332.3 242.6h3.7v3.8h-3.7zM332.3 299.5h3.7v3.8h-3.7zM341.4 309h6.7v3.8h-6.7zM356.8 309h6.7v3.8h-6.7zM350.6 312.2h6.7v3.8h-6.7zM473.1 688.2h3.7v3.8h-3.7zM473.1 691.4h3.7v3.8h-3.7zM473.1 694.5h3.7v3.8h-3.7zM476.2 700.8h3.7v3.8h-3.7zM473.1 704h3.7v3.8h-3.7zM467 707.2h3.7v3.8h-3.7zM482.3 707.2h3.7v3.8h-3.7zM488.4 707.2h3.7v3.8h-3.7zM479.3 710.3h3.7v3.8h-3.7zM482.3 713.5h3.7v3.8h-3.7zM470.1 716.6h3.7v3.8h-3.7zM488.4 723h3.7v3.8h-3.7zM473.1 726.1h3.7v3.8h-3.7zM467 729.3h6.7v3.8h-6.7zM476.2 729.3h3.7v3.8h-3.7zM467 732.4h3.7v3.8h-3.7zM479.3 732.4h3.7v3.8h-3.7zM467 735.6h3.7v3.8h-3.7zM488.4 735.6h3.7v3.8h-3.7zM482.3 738.8h3.7v3.8h-3.7zM448.6 741.9h6.7v3.8h-6.7zM467 741.9h6.7v3.8h-6.7zM454.8 745.1h6.7v3.8h-6.7zM467 745.1h3.7v3.8h-3.7zM454.8 748.2h15.9v3.8h-15.9zM488.4 748.2h3.7v3.8h-3.7zM460.9 751.4h9.8v3.8h-9.8zM460.9 754.6h12.8v3.8h-12.8zM460.9 757.7h12.8v3.8h-12.8zM460.9 760.9h12.8v3.8h-12.8zM467 764h6.7v3.8h-6.7zM488.4 764h3.7v3.8h-3.7zM473.1 773.5h3.7v3.8h-3.7zM488.4 773.5h3.7v3.8h-3.7zM473.1 776.7h6.7v3.8h-6.7zM488.4 776.7h3.7v3.8h-3.7zM479.3 779.8h3.7v3.8h-3.7zM488.4 779.8h3.7v3.8h-3.7zM479.3 783h9.8v3.8h-9.8zM543.6 871.5h6.7v3.8h-6.7zM552.8 874.6h3.7v3.8h-3.7zM558.9 884.1h3.7v3.8h-3.7zM558.9 887.3h3.7v3.8h-3.7zM562 899.9h3.7v3.8h-3.7zM562 903.1h3.7v3.8h-3.7zM562 906.2h3.7v3.8h-3.7zM580.3 906.2h3.7v3.8h-3.7zM592.6 906.2h9.8v3.8h-9.8zM562 909.4h3.7v3.8h-3.7zM607.9 909.4h3.7v3.8h-3.7zM562 912.6h3.7v3.8h-3.7zM611 912.6h3.7v3.8h-3.7zM614 915.7h3.7v3.8h-3.7zM620.1 918.9h3.7v3.8h-3.7zM565 922h3.7v3.8h-3.7zM580.3 922h3.7v3.8h-3.7zM623.2 922h3.7v3.8h-3.7zM565 925.2h3.7v3.8h-3.7zM580.3 925.2h3.7v3.8h-3.7zM626.3 925.2h3.7v3.8h-3.7zM629.3 928.4h3.7v3.8h-3.7zM562 931.5h3.7v3.8h-3.7zM632.4 931.5h3.7v3.8h-3.7zM583.4 934.7h3.7v3.8h-3.7zM632.4 934.7h3.7v3.8h-3.7zM565 941h3.7v3.8h-3.7zM635.5 941h3.7v3.8h-3.7zM586.5 944.2h3.7v3.8h-3.7zM638.5 947.3h3.7v3.8h-3.7zM641.6 956.8h3.7v3.8h-3.7zM589.5 960h3.7v3.8h-3.7zM641.6 960h3.7v3.8h-3.7zM589.5 963.1h3.7v3.8h-3.7zM589.5 966.3h3.7v3.8h-3.7zM589.5 969.4h3.7v3.8h-3.7z"/>
<path fill="#05cfa8" d="M341.4 223.7h3.7v3.8h-3.7zM335.3 302.7h3.7v3.8h-3.7zM338.4 305.8h3.7v3.8h-3.7zM356.8 305.8h6.7v3.8h-6.7zM347.6 309h9.8v3.8h-9.8zM476.2 688.2h6.7v3.8h-6.7zM485.4 694.5h3.7v3.8h-3.7zM488.4 700.8h3.7v3.8h-3.7zM479.3 704h3.7v3.8h-3.7zM470.1 707.2h9.8v3.8h-9.8zM485.4 707.2h3.7v3.8h-3.7zM473.1 723h3.7v3.8h-3.7zM473.1 729.3h3.7v3.8h-3.7zM470.1 732.4h3.7v3.8h-3.7zM491.5 732.4h3.7v3.8h-3.7zM479.3 735.6h3.7v3.8h-3.7zM485.4 735.6h3.7v3.8h-3.7zM470.1 745.1h3.7v3.8h-3.7zM470.1 748.2h3.7v3.8h-3.7zM470.1 751.4h3.7v3.8h-3.7zM473.1 757.7h3.7v3.8h-3.7zM473.1 760.9h3.7v3.8h-3.7zM488.4 760.9h3.7v3.8h-3.7zM473.1 764h3.7v3.8h-3.7zM473.1 767.2h6.7v3.8h-6.7zM473.1 770.4h6.7v3.8h-6.7zM476.2 773.5h3.7v3.8h-3.7zM479.3 776.7h3.7v3.8h-3.7zM482.3 779.8h6.7v3.8h-6.7zM537.5 871.5h6.7v3.8h-6.7zM555.8 877.8h3.7v3.8h-3.7zM555.8 881h3.7v3.8h-3.7zM558.9 890.4h3.7v3.8h-3.7zM558.9 893.6h3.7v3.8h-3.7zM558.9 896.8h3.7v3.8h-3.7zM583.4 906.2h9.8v3.8h-9.8zM580.3 909.4h3.7v3.8h-3.7zM601.8 909.4h6.7v3.8h-6.7zM580.3 912.6h3.7v3.8h-3.7zM607.9 912.6h3.7v3.8h-3.7zM562 915.7h3.7v3.8h-3.7zM580.3 915.7h3.7v3.8h-3.7zM611 915.7h3.7v3.8h-3.7zM580.3 918.9h3.7v3.8h-3.7zM617.1 918.9h3.7v3.8h-3.7zM620.1 922h3.7v3.8h-3.7zM623.2 925.2h3.7v3.8h-3.7zM626.3 928.4h3.7v3.8h-3.7zM583.4 931.5h3.7v3.8h-3.7zM629.3 931.5h3.7v3.8h-3.7zM562 934.7h3.7v3.8h-3.7zM632.4 937.8h3.7v3.8h-3.7zM586.5 941h3.7v3.8h-3.7zM635.5 944.2h3.7v3.8h-3.7zM589.5 950.5h3.7v3.8h-3.7zM638.5 950.5h3.7v3.8h-3.7zM589.5 953.6h3.7v3.8h-3.7zM589.5 956.8h3.7v3.8h-3.7zM638.5 969.4h3.7v3.8h-3.7zM638.5 972.6h3.7v3.8h-3.7zM638.5 975.8h3.7v3.8h-3.7zM638.5 978.9h3.7v3.8h-3.7z"/>
<path fill="#02d095" d="M338.4 233.2h3.7v3.8h-3.7zM335.3 239.5h3.7v3.8h-3.7zM332.3 245.8h3.7v3.8h-3.7zM332.3 286.9h3.7v3.8h-3.7zM332.3 290h3.7v3.8h-3.7zM332.3 293.2h3.7v3.8h-3.7zM332.3 296.4h3.7v3.8h-3.7zM353.7 302.7h9.8v3.8h-9.8zM341.4 305.8h15.9v3.8h-15.9zM476.2 691.4h3.7v3.8h-3.7zM482.3 691.4h3.7v3.8h-3.7zM488.4 704h3.7v3.8h-3.7zM470.1 710.3h3.7v3.8h-3.7zM476.2 726.1h3.7v3.8h-3.7zM473.1 732.4h6.7v3.8h-6.7zM488.4 732.4h3.7v3.8h-3.7zM470.1 738.8h3.7v3.8h-3.7zM485.4 745.1h3.7v3.8h-3.7zM473.1 748.2h3.7v3.8h-3.7zM473.1 751.4h3.7v3.8h-3.7zM488.4 751.4h3.7v3.8h-3.7zM473.1 754.6h6.7v3.8h-6.7zM476.2 760.9h3.7v3.8h-3.7zM476.2 764h3.7v3.8h-3.7zM479.3 773.5h3.7v3.8h-3.7zM482.3 776.7h6.7v3.8h-6.7zM513 871.5h25.1v3.8h-25.1zM549.7 874.6h3.7v3.8h-3.7zM555.8 884.1h3.7v3.8h-3.7zM555.8 887.3h3.7v3.8h-3.7zM558.9 899.9h3.7v3.8h-3.7zM558.9 903.1h3.7v3.8h-3.7zM583.4 909.4h3.7v3.8h-3.7zM595.6 909.4h6.7v3.8h-6.7zM604.8 912.6h3.7v3.8h-3.7zM607.9 915.7h3.7v3.8h-3.7zM562 918.9h3.7v3.8h-3.7zM614 918.9h3.7v3.8h-3.7zM562 922h3.7v3.8h-3.7zM617.1 922h3.7v3.8h-3.7zM562 925.2h3.7v3.8h-3.7zM583.4 925.2h3.7v3.8h-3.7zM620.1 925.2h3.7v3.8h-3.7zM562 928.4h3.7v3.8h-3.7zM583.4 928.4h3.7v3.8h-3.7zM623.2 928.4h3.7v3.8h-3.7zM626.3 931.5h3.7v3.8h-3.7zM629.3 934.7h3.7v3.8h-3.7zM586.5 937.8h3.7v3.8h-3.7zM629.3 937.8h3.7v3.8h-3.7zM632.4 941h3.7v3.8h-3.7zM562 944.2h3.7v3.8h-3.7zM589.5 947.3h3.7v3.8h-3.7zM638.5 966.3h3.7v3.8h-3.7z"/>
<path fill="#00ce83" d="M332.3 249h3.7v3.8h-3.7zM332.3 252.1h3.7v3.8h-3.7zM332.3 255.3h3.7v3.8h-3.7zM332.3 258.4h3.7v3.8h-3.7zM332.3 261.6h3.7v3.8h-3.7zM332.3 264.8h3.7v3.8h-3.7zM332.3 267.9h3.7v3.8h-3.7zM332.3 271.1h3.7v3.8h-3.7zM332.3 274.2h3.7v3.8h-3.7zM332.3 277.4h3.7v3.8h-3.7zM332.3 280.6h3.7v3.8h-3.7zM332.3 283.7h3.7v3.8h-3.7zM335.3 299.5h3.7v3.8h-3.7zM353.7 299.5h9.8v3.8h-9.8zM338.4 302.7h15.9v3.8h-15.9zM479.3 691.4h3.7v3.8h-3.7zM482.3 704h6.7v3.8h-6.7zM473.1 710.3h6.7v3.8h-6.7zM470.1 713.5h3.7v3.8h-3.7zM485.4 719.8h3.7v3.8h-3.7zM479.3 729.3h3.7v3.8h-3.7zM482.3 732.4h6.7v3.8h-6.7zM470.1 735.6h9.8v3.8h-9.8zM473.1 745.1h3.7v3.8h-3.7zM476.2 751.4h3.7v3.8h-3.7zM488.4 754.6h3.7v3.8h-3.7zM476.2 757.7h3.7v3.8h-3.7zM488.4 757.7h3.7v3.8h-3.7zM479.3 760.9h3.7v3.8h-3.7zM485.4 760.9h3.7v3.8h-3.7zM479.3 764h3.7v3.8h-3.7zM485.4 764h3.7v3.8h-3.7zM479.3 767.2h9.8v3.8h-9.8zM479.3 770.4h3.7v3.8h-3.7zM485.4 770.4h3.7v3.8h-3.7zM485.4 773.5h3.7v3.8h-3.7zM546.6 874.6h3.7v3.8h-3.7zM552.8 877.8h3.7v3.8h-3.7zM552.8 881h3.7v3.8h-3.7zM555.8 890.4h3.7v3.8h-3.7zM555.8 893.6h3.7v3.8h-3.7zM558.9 906.2h3.7v3.8h-3.7zM558.9 909.4h3.7v3.8h-3.7zM592.6 909.4h3.7v3.8h-3.7zM583.4 912.6h3.7v3.8h-3.7zM601.8 912.6h3.7v3.8h-3.7zM604.8 915.7h3.7v3.8h-3.7zM611 918.9h3.7v3.8h-3.7zM583.4 922h3.7v3.8h-3.7zM614 922h3.7v3.8h-3.7zM617.1 925.2h3.7v3.8h-3.7zM620.1 928.4h3.7v3.8h-3.7zM586.5 931.5h3.7v3.8h-3.7zM623.2 931.5h3.7v3.8h-3.7zM586.5 934.7h3.7v3.8h-3.7zM626.3 934.7h3.7v3.8h-3.7zM562 937.8h3.7v3.8h-3.7zM562 941h3.7v3.8h-3.7zM589.5 944.2h3.7v3.8h-3.7zM632.4 944.2h3.7v3.8h-3.7zM635.5 947.3h3.7v3.8h-3.7zM638.5 953.6h3.7v3.8h-3.7zM638.5 963.1h3.7v3.8h-3.7z"/>
<path fill="#00c872" d="M341.4 226.8h3.7v3.8h-3.7zM338.4 236.3h3.7v3.8h-3.7zM335.3 242.6h3.7v3.8h-3.7zM353.7 296.4h3.7v3.8h-3.7zM347.6 299.5h6.7v3.8h-6.7zM476.2 694.5h3.7v3.8h-3.7zM476.2 697.7h3.7v3.8h-3.7zM479.3 700.8h3.7v3.8h-3.7zM482.3 716.6h3.7v3.8h-3.7zM473.1 719.8h3.7v3.8h-3.7zM488.4 726.1h3.7v3.8h-3.7zM482.3 741.9h3.7v3.8h-3.7zM479.3 757.7h3.7v3.8h-3.7zM485.4 757.7h3.7v3.8h-3.7zM482.3 764h3.7v3.8h-3.7zM482.3 770.4h3.7v3.8h-3.7zM482.3 773.5h3.7v3.8h-3.7zM543.6 874.6h3.7v3.8h-3.7zM552.8 884.1h3.7v3.8h-3.7zM552.8 887.3h3.7v3.8h-3.7zM555.8 896.8h3.7v3.8h-3.7zM586.5 909.4h6.7v3.8h-6.7zM558.9 912.6h3.7v3.8h-3.7zM598.7 912.6h3.7v3.8h-3.7zM583.4 915.7h3.7v3.8h-3.7zM601.8 915.7h3.7v3.8h-3.7zM583.4 918.9h3.7v3.8h-3.7zM607.9 918.9h3.7v3.8h-3.7zM611 922h3.7v3.8h-3.7zM614 925.2h3.7v3.8h-3.7zM617.1 928.4h3.7v3.8h-3.7zM620.1 931.5h3.7v3.8h-3.7zM623.2 934.7h3.7v3.8h-3.7zM626.3 937.8h3.7v3.8h-3.7zM589.5 941h3.7v3.8h-3.7zM629.3 941h3.7v3.8h-3.7zM558.9 944.2h3.7v3.8h-3.7zM635.5 950.5h3.7v3.8h-3.7zM638.5 956.8h3.7v3.8h-3.7zM638.5 960h3.7v3.8h-3.7zM635.5 972.6h3.7v3.8h-3.7zM635.5 975.8h3.7v3.8h-3.7zM635.5 978.9h3.7v3.8h-3.7z"/>
<path fill="#02c261" d="M341.4 230h3.7v3.8h-3.7zM335.3 293.2h3.7v3.8h-3.7zM353.7 293.2h3.7v3.8h-3.7zM335.3 296.4h3.7v3.8h-3.7zM344.5 296.4h9.8v3.8h-9.8zM338.4 299.5h9.8v3.8h-9.8zM479.3 694.5h6.7v3.8h-6.7zM485.4 697.7h3.7v3.8h-3.7zM482.3 700.8h6.7v3.8h-6.7zM473.1 713.5h9.8v3.8h-9.8zM485.4 729.3h6.7v3.8h-6.7zM473.1 738.8h9.8v3.8h-9.8zM473.1 741.9h3.7v3.8h-3.7zM482.3 760.9h3.7v3.8h-3.7zM537.5 874.6h6.7v3.8h-6.7zM549.7 877.8h3.7v3.8h-3.7zM549.7 881h3.7v3.8h-3.7zM552.8 890.4h3.7v3.8h-3.7zM552.8 893.6h3.7v3.8h-3.7zM555.8 899.9h3.7v3.8h-3.7zM595.6 912.6h3.7v3.8h-3.7zM558.9 915.7h3.7v3.8h-3.7zM598.7 915.7h3.7v3.8h-3.7zM604.8 918.9h3.7v3.8h-3.7zM607.9 922h3.7v3.8h-3.7zM611 925.2h3.7v3.8h-3.7zM558.9 928.4h3.7v3.8h-3.7zM586.5 928.4h3.7v3.8h-3.7zM614 928.4h3.7v3.8h-3.7zM558.9 931.5h3.7v3.8h-3.7zM617.1 931.5h3.7v3.8h-3.7zM589.5 937.8h3.7v3.8h-3.7zM555.8 944.2h3.7v3.8h-3.7zM592.6 947.3h3.7v3.8h-3.7zM592.6 950.5h3.7v3.8h-3.7zM592.6 953.6h3.7v3.8h-3.7zM592.6 956.8h3.7v3.8h-3.7zM592.6 960h3.7v3.8h-3.7zM592.6 963.1h3.7v3.8h-3.7zM592.6 966.3h3.7v3.8h-3.7zM635.5 966.3h3.7v3.8h-3.7zM592.6 969.4h3.7v3.8h-3.7zM635.5 969.4h3.7v3.8h-3.7z"/>
<path fill="#07bb50" d="M341.4 233.2h3.7v3.8h-3.7zM338.4 239.5h3.7v3.8h-3.7zM335.3 286.9h3.7v3.8h-3.7zM335.3 290h3.7v3.8h-3.7zM350.6 290h6.7v3.8h-6.7zM344.5 293.2h9.8v3.8h-9.8zM338.4 296.4h6.7v3.8h-6.7zM479.3 697.7h3.7v3.8h-3.7zM482.3 729.3h3.7v3.8h-3.7zM476.2 741.9h3.7v3.8h-3.7zM476.2 748.2h3.7v3.8h-3.7zM479.3 754.6h3.7v3.8h-3.7zM485.4 754.6h3.7v3.8h-3.7zM482.3 757.7h3.7v3.8h-3.7zM513 874.6h25.1v3.8h-25.1zM546.6 877.8h3.7v3.8h-3.7zM549.7 884.1h3.7v3.8h-3.7zM549.7 887.3h3.7v3.8h-3.7zM552.8 896.8h3.7v3.8h-3.7zM555.8 903.1h3.7v3.8h-3.7zM586.5 912.6h3.7v3.8h-3.7zM592.6 912.6h3.7v3.8h-3.7zM586.5 915.7h3.7v3.8h-3.7zM595.6 915.7h3.7v3.8h-3.7zM558.9 918.9h3.7v3.8h-3.7zM586.5 918.9h3.7v3.8h-3.7zM601.8 918.9h3.7v3.8h-3.7zM558.9 922h3.7v3.8h-3.7zM586.5 922h3.7v3.8h-3.7zM604.8 922h3.7v3.8h-3.7zM558.9 925.2h3.7v3.8h-3.7zM586.5 925.2h3.7v3.8h-3.7zM607.9 925.2h3.7v3.8h-3.7zM611 928.4h3.7v3.8h-3.7zM558.9 934.7h3.7v3.8h-3.7zM589.5 934.7h3.7v3.8h-3.7zM620.1 934.7h3.7v3.8h-3.7zM623.2 937.8h3.7v3.8h-3.7zM626.3 941h3.7v3.8h-3.7zM592.6 944.2h3.7v3.8h-3.7zM629.3 944.2h3.7v3.8h-3.7zM632.4 947.3h3.7v3.8h-3.7zM635.5 953.6h3.7v3.8h-3.7zM635.5 963.1h3.7v3.8h-3.7z"/>
<path fill="#0cb440" d="M341.4 236.3h3.7v3.8h-3.7zM335.3 245.8h3.7v3.8h-3.7zM335.3 280.6h3.7v3.8h-3.7zM335.3 283.7h3.7v3.8h-3.7zM350.6 286.9h6.7v3.8h-6.7zM341.4 290h9.8v3.8h-9.8zM338.4 293.2h6.7v3.8h-6.7zM482.3 697.7h3.7v3.8h-3.7zM473.1 716.6h9.8v3.8h-9.8zM479.3 741.9h3.7v3.8h-3.7zM485.4 751.4h3.7v3.8h-3.7zM482.3 754.6h3.7v3.8h-3.7zM546.6 881h3.7v3.8h-3.7zM549.7 890.4h3.7v3.8h-3.7zM555.8 906.2h3.7v3.8h-3.7zM589.5 912.6h3.7v3.8h-3.7zM592.6 915.7h3.7v3.8h-3.7zM598.7 918.9h3.7v3.8h-3.7zM601.8 922h3.7v3.8h-3.7zM604.8 925.2h3.7v3.8h-3.7zM607.9 928.4h3.7v3.8h-3.7zM589.5 931.5h3.7v3.8h-3.7zM614 931.5h3.7v3.8h-3.7zM617.1 934.7h3.7v3.8h-3.7zM620.1 937.8h3.7v3.8h-3.7zM558.9 941h3.7v3.8h-3.7zM592.6 941h3.7v3.8h-3.7zM632.4 950.5h3.7v3.8h-3.7zM635.5 956.8h3.7v3.8h-3.7zM635.5 960h3.7v3.8h-3.7zM632.4 972.6h3.7v3.8h-3.7zM632.4 975.8h3.7v3.8h-3.7zM632.4 978.9h3.7v3.8h-3.7z"/>
<path fill="#12b032" d="M344.5 226.8h3.7v3.8h-3.7zM341.4 239.5h3.7v3.8h-3.7zM338.4 242.6h3.7v3.8h-3.7zM335.3 277.4h3.7v3.8h-3.7zM344.5 283.7h12.8v3.8h-12.8zM338.4 286.9h12.8v3.8h-12.8zM338.4 290h3.7v3.8h-3.7zM476.2 723h3.7v3.8h-3.7zM482.3 726.1h6.7v3.8h-6.7zM476.2 745.1h9.8v3.8h-9.8zM479.3 751.4h6.7v3.8h-6.7zM543.6 877.8h3.7v3.8h-3.7zM546.6 884.1h3.7v3.8h-3.7zM546.6 887.3h3.7v3.8h-3.7zM549.7 893.6h3.7v3.8h-3.7zM552.8 899.9h3.7v3.8h-3.7zM555.8 909.4h3.7v3.8h-3.7zM589.5 915.7h3.7v3.8h-3.7zM589.5 918.9h3.7v3.8h-3.7zM595.6 918.9h3.7v3.8h-3.7zM589.5 922h3.7v3.8h-3.7zM598.7 922h3.7v3.8h-3.7zM601.8 925.2h3.7v3.8h-3.7zM589.5 928.4h3.7v3.8h-3.7zM611 931.5h3.7v3.8h-3.7zM614 934.7h3.7v3.8h-3.7zM558.9 937.8h3.7v3.8h-3.7zM592.6 937.8h3.7v3.8h-3.7zM623.2 941h3.7v3.8h-3.7zM626.3 944.2h3.7v3.8h-3.7zM629.3 947.3h3.7v3.8h-3.7zM632.4 953.6h3.7v3.8h-3.7zM632.4 966.3h3.7v3.8h-3.7zM632.4 969.4h3.7v3.8h-3.7z"/>
<path fill="#19ad29" d="M344.5 230h3.7v3.8h-3.7zM344.5 233.2h3.7v3.8h-3.7zM341.4 242.6h3.7v3.8h-3.7zM335.3 249h3.7v3.8h-3.7zM335.3 252.1h3.7v3.8h-3.7zM335.3 255.3h3.7v3.8h-3.7zM335.3 258.4h3.7v3.8h-3.7zM335.3 261.6h3.7v3.8h-3.7zM335.3 264.8h3.7v3.8h-3.7zM335.3 267.9h3.7v3.8h-3.7zM335.3 271.1h3.7v3.8h-3.7zM335.3 274.2h3.7v3.8h-3.7zM338.4 280.6h19v3.8h-19zM338.4 283.7h6.7v3.8h-6.7zM476.2 719.8h9.8v3.8h-9.8zM479.3 726.1h3.7v3.8h-3.7zM485.4 748.2h3.7v3.8h-3.7zM519.1 877.8h6.7v3.8h-6.7zM540.5 877.8h3.7v3.8h-3.7zM543.6 881h3.7v3.8h-3.7zM543.6 884.1h3.7v3.8h-3.7zM546.6 890.4h3.7v3.8h-3.7zM549.7 896.8h3.7v3.8h-3.7zM555.8 912.6h3.7v3.8h-3.7zM592.6 918.9h3.7v3.8h-3.7zM592.6 922h6.7v3.8h-6.7zM589.5 925.2h3.7v3.8h-3.7zM598.7 925.2h3.7v3.8h-3.7zM604.8 928.4h3.7v3.8h-3.7zM607.9 931.5h3.7v3.8h-3.7zM611 934.7h3.7v3.8h-3.7zM617.1 937.8h3.7v3.8h-3.7zM595.6 947.3h3.7v3.8h-3.7zM595.6 950.5h3.7v3.8h-3.7zM595.6 953.6h3.7v3.8h-3.7zM595.6 956.8h3.7v3.8h-3.7zM632.4 963.1h3.7v3.8h-3.7z"/>
<path fill="#23aa22" d="M347.6 226.8h3.7v3.8h-3.7zM344.5 236.3h3.7v3.8h-3.7zM344.5 239.5h3.7v3.8h-3.7zM344.5 242.6h3.7v3.8h-3.7zM338.4 245.8h6.7v3.8h-6.7zM338.4 277.4h19v3.8h-19zM485.4 723h3.7v3.8h-3.7zM479.3 748.2h6.7v3.8h-6.7zM525.2 877.8h15.9v3.8h-15.9zM540.5 881h3.7v3.8h-3.7zM543.6 887.3h3.7v3.8h-3.7zM546.6 893.6h3.7v3.8h-3.7zM552.8 903.1h3.7v3.8h-3.7zM555.8 915.7h3.7v3.8h-3.7zM592.6 925.2h6.7v3.8h-6.7zM601.8 928.4h3.7v3.8h-3.7zM604.8 931.5h3.7v3.8h-3.7zM592.6 934.7h3.7v3.8h-3.7zM595.6 941h3.7v3.8h-3.7zM620.1 941h3.7v3.8h-3.7zM595.6 944.2h3.7v3.8h-3.7zM623.2 944.2h3.7v3.8h-3.7zM629.3 950.5h3.7v3.8h-3.7zM632.4 956.8h3.7v3.8h-3.7zM595.6 960h3.7v3.8h-3.7zM632.4 960h3.7v3.8h-3.7zM595.6 963.1h3.7v3.8h-3.7zM595.6 966.3h3.7v3.8h-3.7zM595.6 969.4h3.7v3.8h-3.7zM629.3 969.4h3.7v3.8h-3.7zM629.3 972.6h3.7v3.8h-3.7zM629.3 975.8h3.7v3.8h-3.7zM629.3 978.9h3.7v3.8h-3.7z"/>
<path fill="#2ca81c" d="M347.6 230h3.7v3.8h-3.7zM347.6 233.2h3.7v3.8h-3.7zM347.6 236.3h3.7v3.8h-3.7zM347.6 239.5h3.7v3.8h-3.7zM347.6 242.6h3.7v3.8h-3.7zM344.5 245.8h6.7v3.8h-6.7zM338.4 249h12.8v3.8h-12.8zM338.4 252.1h12.8v3.8h-12.8zM338.4 255.3h12.8v3.8h-12.8zM338.4 258.4h12.8v3.8h-12.8zM338.4 261.6h12.8v3.8h-12.8zM338.4 264.8h12.8v3.8h-12.8zM338.4 267.9h19v3.8h-19zM338.4 271.1h19v3.8h-19zM338.4 274.2h19v3.8h-19zM479.3 723h6.7v3.8h-6.7zM537.5 881h3.7v3.8h-3.7zM540.5 884.1h3.7v3.8h-3.7zM543.6 890.4h3.7v3.8h-3.7zM555.8 925.2h3.7v3.8h-3.7zM555.8 928.4h3.7v3.8h-3.7zM592.6 928.4h9.8v3.8h-9.8zM555.8 931.5h3.7v3.8h-3.7zM592.6 931.5h3.7v3.8h-3.7zM601.8 931.5h3.7v3.8h-3.7zM607.9 934.7h3.7v3.8h-3.7zM614 937.8h3.7v3.8h-3.7zM555.8 941h3.7v3.8h-3.7zM626.3 947.3h3.7v3.8h-3.7zM629.3 953.6h3.7v3.8h-3.7zM629.3 966.3h3.7v3.8h-3.7z"/>
<path fill="#3baa16" d="M519.1 881h9.8v3.8h-9.8zM534.4 881h3.7v3.8h-3.7zM537.5 884.1h3.7v3.8h-3.7zM540.5 887.3h3.7v3.8h-3.7zM549.7 899.9h3.7v3.8h-3.7zM552.8 906.2h3.7v3.8h-3.7zM555.8 918.9h3.7v3.8h-3.7zM555.8 922h3.7v3.8h-3.7zM598.7 931.5h3.7v3.8h-3.7zM555.8 934.7h3.7v3.8h-3.7zM604.8 934.7h3.7v3.8h-3.7zM595.6 937.8h3.7v3.8h-3.7zM611 937.8h3.7v3.8h-3.7zM617.1 941h3.7v3.8h-3.7zM598.7 947.3h3.7v3.8h-3.7zM598.7 950.5h3.7v3.8h-3.7zM598.7 953.6h3.7v3.8h-3.7zM629.3 963.1h3.7v3.8h-3.7z"/>
<path fill="#4bad0f" d="M528.3 881h6.7v3.8h-6.7zM543.6 893.6h3.7v3.8h-3.7zM546.6 896.8h3.7v3.8h-3.7zM552.8 909.4h3.7v3.8h-3.7zM595.6 931.5h3.7v3.8h-3.7zM601.8 934.7h3.7v3.8h-3.7zM555.8 937.8h3.7v3.8h-3.7zM598.7 944.2h3.7v3.8h-3.7zM620.1 944.2h3.7v3.8h-3.7zM626.3 950.5h3.7v3.8h-3.7zM598.7 956.8h3.7v3.8h-3.7zM629.3 956.8h3.7v3.8h-3.7zM598.7 960h3.7v3.8h-3.7zM629.3 960h3.7v3.8h-3.7zM626.3 969.4h3.7v3.8h-3.7zM626.3 972.6h3.7v3.8h-3.7z"/>
<path fill="#62b20a" d="M534.4 884.1h3.7v3.8h-3.7zM537.5 887.3h3.7v3.8h-3.7zM540.5 890.4h3.7v3.8h-3.7zM595.6 934.7h6.7v3.8h-6.7zM607.9 937.8h3.7v3.8h-3.7zM614 941h3.7v3.8h-3.7zM623.2 947.3h3.7v3.8h-3.7zM626.3 953.6h3.7v3.8h-3.7zM598.7 963.1h3.7v3.8h-3.7zM598.7 966.3h3.7v3.8h-3.7zM626.3 966.3h3.7v3.8h-3.7zM598.7 969.4h3.7v3.8h-3.7z"/>
<path fill="#78b904" d="M519.1 884.1h15.9v3.8h-15.9zM598.7 941h3.7v3.8h-3.7zM617.1 944.2h3.7v3.8h-3.7zM601.8 947.3h3.7v3.8h-3.7zM601.8 950.5h3.7v3.8h-3.7zM626.3 963.1h3.7v3.8h-3.7zM623.2 972.6h3.7v3.8h-3.7z"/>
<path fill="#8ebf00" d="M540.5 893.6h3.7v3.8h-3.7zM549.7 903.1h3.7v3.8h-3.7zM552.8 912.6h3.7v3.8h-3.7zM598.7 937.8h9.8v3.8h-9.8zM611 941h3.7v3.8h-3.7zM620.1 947.3h3.7v3.8h-3.7zM623.2 950.5h3.7v3.8h-3.7zM601.8 953.6h3.7v3.8h-3.7zM601.8 956.8h3.7v3.8h-3.7zM626.3 956.8h3.7v3.8h-3.7zM626.3 960h3.7v3.8h-3.7zM623.2 969.4h3.7v3.8h-3.7z"/>
<path fill="#a5c300" d="M534.4 887.3h3.7v3.8h-3.7zM537.5 890.4h3.7v3.8h-3.7zM543.6 896.8h3.7v3.8h-3.7zM546.6 899.9h3.7v3.8h-3.7zM552.8 922h3.7v3.8h-3.7zM552.8 925.2h3.7v3.8h-3.7zM601.8 944.2h3.7v3.8h-3.7zM614 944.2h3.7v3.8h-3.7zM623.2 953.6h3.7v3.8h-3.7zM601.8 960h3.7v3.8h-3.7zM601.8 963.1h3.7v3.8h-3.7zM601.8 966.3h3.7v3.8h-3.7zM623.2 966.3h3.7v3.8h-3.7zM620.1 972.6h3.7v3.8h-3.7z"/>
<path fill="#bbc700" d="M519.1 887.3h15.9v3.8h-15.9zM549.7 906.2h3.7v3.8h-3.7zM552.8 915.7h3.7v3.8h-3.7zM552.8 918.9h3.7v3.8h-3.7zM552.8 928.4h3.7v3.8h-3.7zM552.8 931.5h3.7v3.8h-3.7zM552.8 937.8h3.7v3.8h-3.7zM601.8 941h9.8v3.8h-9.8zM623.2 963.1h3.7v3.8h-3.7zM601.8 969.4h3.7v3.8h-3.7z"/>
<path fill="#d0cb00" d="M552.8 934.7h3.7v3.8h-3.7zM604.8 944.2h3.7v3.8h-3.7zM604.8 947.3h3.7v3.8h-3.7zM617.1 947.3h3.7v3.8h-3.7zM604.8 950.5h3.7v3.8h-3.7zM620.1 950.5h3.7v3.8h-3.7zM604.8 953.6h3.7v3.8h-3.7zM604.8 956.8h3.7v3.8h-3.7zM623.2 956.8h3.7v3.8h-3.7zM623.2 960h3.7v3.8h-3.7zM620.1 969.4h3.7v3.8h-3.7zM617.1 972.6h3.7v3.8h-3.7z"/>
<path fill="#e4ce00" d="M528.3 890.4h9.8v3.8h-9.8zM537.5 893.6h3.7v3.8h-3.7zM549.7 909.4h3.7v3.8h-3.7zM549.7 937.8h3.7v3.8h-3.7zM607.9 944.2h6.7v3.8h-6.7zM620.1 953.6h3.7v3.8h-3.7zM604.8 960h3.7v3.8h-3.7zM604.8 963.1h3.7v3.8h-3.7zM604.8 966.3h3.7v3.8h-3.7zM620.1 966.3h3.7v3.8h-3.7zM604.8 969.4h3.7v3.8h-3.7zM607.9 972.6h6.7v3.8h-6.7z"/>
<path fill="#f1cd00" d="M540.5 896.8h3.7v3.8h-3.7zM543.6 899.9h3.7v3.8h-3.7zM546.6 903.1h3.7v3.8h-3.7zM607.9 947.3h3.7v3.8h-3.7zM617.1 950.5h3.7v3.8h-3.7zM620.1 963.1h3.7v3.8h-3.7zM614 972.6h3.7v3.8h-3.7z"/>
<path fill="#fbcc00" d="M614 947.3h3.7v3.8h-3.7zM607.9 950.5h3.7v3.8h-3.7zM607.9 953.6h3.7v3.8h-3.7zM617.1 953.6h3.7v3.8h-3.7zM607.9 956.8h3.7v3.8h-3.7zM620.1 956.8h3.7v3.8h-3.7zM607.9 960h3.7v3.8h-3.7zM620.1 960h3.7v3.8h-3.7zM617.1 969.4h3.7v3.8h-3.7z"/>
<path fill="#ffcb00" d="M528.3 893.6h9.8v3.8h-9.8zM549.7 918.9h3.7v3.8h-3.7zM549.7 925.2h3.7v3.8h-3.7zM549.7 928.4h3.7v3.8h-3.7zM611 947.3h3.7v3.8h-3.7zM611 950.5h6.7v3.8h-6.7zM611 953.6h3.7v3.8h-3.7zM617.1 956.8h3.7v3.8h-3.7zM607.9 963.1h3.7v3.8h-3.7zM617.1 963.1h3.7v3.8h-3.7zM607.9 966.3h3.7v3.8h-3.7zM617.1 966.3h3.7v3.8h-3.7zM607.9 969.4h6.7v3.8h-6.7z"/>
<path fill="#ffc600" d="M546.6 906.2h3.7v3.8h-3.7zM549.7 912.6h3.7v3.8h-3.7zM549.7 915.7h3.7v3.8h-3.7zM549.7 922h3.7v3.8h-3.7zM614 953.6h3.7v3.8h-3.7zM611 956.8h3.7v3.8h-3.7zM611 960h3.7v3.8h-3.7zM617.1 960h3.7v3.8h-3.7zM611 963.1h6.7v3.8h-6.7zM611 966.3h6.7v3.8h-6.7zM614 969.4h3.7v3.8h-3.7z"/>
<path fill="#ffbb00" d="M537.5 896.8h3.7v3.8h-3.7zM549.7 931.5h3.7v3.8h-3.7zM549.7 934.7h3.7v3.8h-3.7zM614 956.8h3.7v3.8h-3.7zM614 960h3.7v3.8h-3.7z"/>
<path fill="#ffac00" d="M540.5 899.9h3.7v3.8h-3.7zM543.6 903.1h3.7v3.8h-3.7zM546.6 909.4h3.7v3.8h-3.7z"/>
<path fill="#ff9a00" d="M528.3 896.8h9.8v3.8h-9.8z"/>
<path fill="#fb8b00" d="M546.6 922h3.7v3.8h-3.7zM546.6 925.2h3.7v3.8h-3.7zM546.6 934.7h3.7v3.8h-3.7z"/>
<path fill="#f77b00" d="M543.6 906.2h3.7v3.8h-3.7zM546.6 912.6h3.7v3.8h-3.7zM546.6 928.4h3.7v3.8h-3.7zM543.6 934.7h3.7v3.8h-3.7z"/>
<path fill="#f06600" d="M534.4 899.9h6.7v3.8h-6.7zM546.6 915.7h3.7v3.8h-3.7zM546.6 918.9h3.7v3.8h-3.7zM546.6 931.5h3.7v3.8h-3.7z"/>
<path fill="#e64904" d="M540.5 903.1h3.7v3.8h-3.7z"/>
<path fill="#dc2f0b" d="M543.6 909.4h3.7v3.8h-3.7zM543.6 922h3.7v3.8h-3.7zM543.6 925.2h3.7v3.8h-3.7z"/>
<path fill="#d52218" d="M543.6 918.9h3.7v3.8h-3.7zM543.6 928.4h3.7v3.8h-3.7zM543.6 931.5h3.7v3.8h-3.7z"/>
<path fill="#d42022" d="M534.4 903.1h6.7v3.8h-6.7z"/>
<path fill="#d5242f" d="M534.4 906.2h9.8v3.8h-9.8zM543.6 915.7h3.7v3.8h-3.7zM540.5 918.9h3.7v3.8h-3.7zM540.5 922h3.7v3.8h-3.7z"/>
<path fill="#d83040" d="M540.5 909.4h3.7v3.8h-3.7zM543.6 912.6h3.7v3.8h-3.7zM540.5 915.7h3.7v3.8h-3.7zM537.5 918.9h3.7v3.8h-3.7zM537.5 922h3.7v3.8h-3.7z"/>
<path fill="#dc4550" d="M534.4 909.4h6.7v3.8h-6.7zM537.5 915.7h3.7v3.8h-3.7z"/>
<path fill="#e25b5e" d="M537.5 912.6h6.7v3.8h-6.7z"/>
</g></g>
<g fill="none" stroke="#000" stroke-width="1.8" stroke-linecap="round" stroke-linejoin="round">
<path d="M330.4 194.6C328.9 198.1 324.3 208.8 321.7 215.8C319.1 222.8 317.8 230.7 315 236.7C312.2 242.7 308.1 247.3 305 251.7C301.9 256.1 299.2 259.4 296.7 263.3C294.2 267.2 291.4 270.6 290 275C288.6 279.4 288.8 285 288.5 290C288.2 295 287.9 300 288 305C288.1 310 288.4 314.6 289 320C289.6 325.4 291.2 334.7 291.6 337.6"/>
<path d="M273.8 231.7C274 234.9 274.1 245.5 275 250.8C275.9 256.1 277.7 260.7 279.2 263.3C280.7 265.9 282.5 267 284.2 266.7C285.9 266.4 288 265 289.2 261.7C290.4 258.4 291.2 252.3 291.2 246.7C291.2 241.1 289.5 231.4 289.2 228.3"/>
<path d="M329.4 265.6C329.1 268 328.1 275.1 327.8 280C327.5 284.9 327.3 290.3 327.5 295C327.7 299.7 328 304 329 308C330 312 331.9 316.3 333.8 318.8C335.6 321.2 337.5 321.5 340 322.5C342.5 323.5 345 323.6 348.8 325C352.5 326.4 360.2 329.7 362.5 330.6"/>
<path d="M330.5 276C330.7 278.3 331.1 285.5 331.5 290C331.9 294.5 332 298.4 333 303C334 307.6 335.8 313.8 337.5 317.5C339.2 321.2 340.9 322.5 343 325C345.1 327.5 347.2 330.5 350 332.6C352.8 334.7 356.9 335 359.5 337.6C362.1 340.2 364.2 343.9 365.8 348.3C367.4 352.7 368.4 358.2 368.9 364C369.4 369.8 369.1 376.3 368.9 382.9C368.7 389.5 367.5 398.4 367.5 403.8C367.5 409.1 368.8 413.1 369 415"/>
<path d="M324.9 341.4C323.3 344.1 317.3 352.3 315.5 357.7C313.7 363.1 313.9 369.3 314.2 373.5C314.5 377.7 315.5 380 317.3 382.9C319.1 385.8 322.1 389.4 324.9 391C327.7 392.6 330.9 392.8 334.3 392.3C337.7 391.8 343.2 388.7 345 388"/>
<path d="M343 467.5C345.2 468.1 352.2 469.4 356 471C359.8 472.6 362.4 474.8 366 477C369.6 479.2 375.7 483.2 377.6 484.5"/>
<path d="M410.3 539C410.7 541.7 412 547.3 412.5 555C413 562.7 413.6 576.6 413.5 585C413.4 593.4 413.2 599.8 412 605.3C410.8 610.8 408.9 613.2 406.3 617.9C403.7 622.6 397.9 631.1 396.2 633.8"/>
<path d="M459.7 623.6C460.6 625.1 462.9 630 465 632.5C467.1 635 471.2 637.7 472.5 638.8"/>
<path d="M413.8 663.2C415 662.8 418.4 660.6 420.8 660.7C423.2 660.8 426.3 662 428.3 663.8C430.3 665.6 432 670.1 432.7 671.4"/>
<path d="M437.7 697.8C439.8 699 446.9 702.3 450.3 705.3C453.7 708.3 455.9 711.9 457.9 716C459.9 720.1 460.9 727.2 462.5 730C464.1 732.8 466 733.3 467.5 732.5C469 731.7 471.3 728.8 471.2 725C471.2 721.2 467.6 713.8 467.3 709.7C467 705.6 467.5 703.3 469.2 700.3C470.9 697.3 476 693 477.4 691.5"/>
<path d="M457.9 688.4C458.7 687.2 460.5 682.6 462.9 681.4C465.3 680.2 470.7 681.4 472.3 681.4"/>
<path d="M493.3 736.3C493.4 743.2 493.9 767.2 493.6 777.5C493.3 787.8 492 793.8 491.4 798C490.8 802.2 490.2 802.2 490 803"/>
<path d="M498.3 737.6C498.6 741.8 500.2 753.3 500.2 762.7C500.2 772.1 498.6 789 498.3 794.2"/>
<path d="M504 734.4C505.5 736.7 510.1 746.5 512.8 748.3C515.5 750.1 519 745.6 520.3 745.1"/>
<path d="M512.8 791.7C513 789 513.1 779 514 775.3C514.9 771.6 516.8 768.7 518.4 769.7C520 770.8 521.6 776.9 523.5 781.6C525.4 786.3 528.4 794.6 529.7 798C531 801.4 531.2 801.3 531.5 802"/>
<path d="M540.3 810.7C541.8 812.6 547.4 818.5 549.1 822C550.8 825.5 550.7 828.4 550.3 831.4C549.9 834.4 548.7 837.8 546.6 840.3C544.5 842.8 541.2 844.7 537.8 846.5C534.4 848.3 528.3 850.2 526.4 851"/>
<path d="M522 862.9C524.8 862.6 531.2 861.3 539 861C546.8 860.7 563.7 861 568.6 861"/>
<path d="M517 866.7C520.7 866.8 533.2 866.8 539 867.3C544.8 867.8 547.9 868.8 551.6 869.8C555.3 870.8 557.9 871.5 561 873C564.1 874.5 568.5 878 570 879"/>
<path d="M530.2 883.2C531.9 883.5 537.1 883.5 540.2 885.1C543.3 886.7 547.5 891.4 549 892.7"/>
<path d="M645 962.5 L645 983"/>
<path d="M648.8 962.5 L648.8 983"/>
<path d="M617.5 960C619.6 960.6 626.2 962.8 630 963.8C633.8 964.8 638.3 965.6 640 966"/>
</g>
<text class="cl" stroke="#000" stroke-width="0.9" font-size="31" transform="translate(262.1 232.3) rotate(-11.6)">0.2</text>
<text class="cl" stroke="#000" stroke-width="0.9" font-size="31" transform="translate(336.2 255.4) rotate(-54)">0.5</text>
<text class="cl" stroke="#000" stroke-width="0.9" font-size="31" transform="translate(286.9 384.1) rotate(-55)">0.2</text>
<text class="cl" stroke="#000" stroke-width="0.9" font-size="31" transform="translate(327.2 337.7) rotate(70)">0.2</text>
<text class="cl" stroke="#000" stroke-width="0.9" font-size="31" transform="translate(358.8 425.6) rotate(58)">0.</text>
<text class="cl" stroke="#000" stroke-width="0.9" font-size="31" transform="translate(381.8 490.9) rotate(70)">0.2</text>
<text class="cl" stroke="#000" stroke-width="0.9" font-size="31" transform="translate(441.1 569.2) rotate(90)">0.2</text>
<text class="cl" stroke="#000" stroke-width="0.9" font-size="31" transform="translate(401.9 696) rotate(-3)">0.5</text>
<text class="cl" stroke="#000" stroke-width="0.9" font-size="31" transform="translate(470.8 683.9) rotate(68)">0.4</text>
<text class="cl" stroke="#000" stroke-width="0.9" font-size="31" transform="translate(529 786.8) rotate(57)">0.2</text>
<text class="cl" stroke="#000" stroke-width="0.9" font-size="31" transform="translate(498.6 808.5) rotate(83)">0.2</text>
<text class="cl" stroke="#000" stroke-width="0.9" font-size="31" transform="translate(521.7 900.1) rotate(29)">1.5</text>
<text class="cl" stroke="#000" stroke-width="0.9" font-size="31" transform="translate(564.7 922.4) rotate(67)">0.5</text>
<text class="cl" stroke="#000" stroke-width="0.9" font-size="31" transform="translate(548.3 945) rotate(40)">1</text>
<path d="M309.9 218.3h1.9v1.9h-1.9zM324.9 216.6h1.9v1.9h-1.9zM306.6 274.1h1.9v1.9h-1.9zM320.1 274.7h1.9v1.9h-1.9zM331.6 274.7h1.9v1.9h-1.9zM339.1 274.7h1.9v1.9h-1.9zM350.1 272.9h1.9v1.9h-1.9zM311 342.1h1.9v1.9h-1.9zM337.1 343.1h1.9v1.9h-1.9zM324.1 409.1h1.9v1.9h-1.9zM349.7 406.1h1.9v1.9h-1.9zM362.1 402.9h1.9v1.9h-1.9zM356.6 522.9h1.9v1.9h-1.9zM375.1 521.1h1.9v1.9h-1.9zM387.9 515.1h1.9v1.9h-1.9zM370.4 601.6h1.9v1.9h-1.9zM385.4 607.9h1.9v1.9h-1.9zM393.5 608.1h1.9v1.9h-1.9zM408.5 606.1h1.9v1.9h-1.9zM452.1 672.1h1.9v1.9h-1.9zM459.7 671.6h1.9v1.9h-1.9zM466.6 670.7h1.9v1.9h-1.9zM450.1 722.9h1.9v1.9h-1.9zM464.1 726.1h1.9v1.9h-1.9zM472.9 724.1h1.9v1.9h-1.9zM481.6 722.1h1.9v1.9h-1.9zM492.9 784.1h1.9v1.9h-1.9zM504.1 781.6h1.9v1.9h-1.9zM527.9 771.6h1.9v1.9h-1.9zM532.9 769.1h1.9v1.9h-1.9zM530.1 855.1h1.9v1.9h-1.9zM536.1 855.1h1.9v1.9h-1.9zM543.1 855.1h1.9v1.9h-1.9zM551.1 853.1h1.9v1.9h-1.9zM559.1 852.1h1.9v1.9h-1.9zM565.1 911.1h1.9v1.9h-1.9zM572.1 910.1h1.9v1.9h-1.9zM577.1 909.1h1.9v1.9h-1.9zM684.7 929.1h1.9v1.9h-1.9z" fill="#222" fill-opacity="0.8"/>
</g>
<g clip-path="url(#fA)"><path d="M733.8 57.2 L181 57.2 L173.8 59.4 L158.8 63.8 L137.5 70.6 L131.2 70 L123.5 60.5 L122 60.5 L122 78.8 L130 86.2 L132.5 91.2 L143.8 98.1 L152.5 107.5 L162.5 116.2 L173.8 125 L180 133.8 L183.8 140 L190 147.5 L197.5 151.9 L206.2 157.5 L216.2 163.8 L222.5 167.5 L230 170 L237.5 170.6 L242.5 169.4 L250 165.6 L262.5 160 L275 153.1 L287.5 147.5 L297.5 143.1 L306.2 141.2 L310 137.5 L311.2 132.5 L315 126.2 L320 117.5 L322.5 111.2 L322.5 108.1 L319.4 103.8 L318.8 97.5 L318.1 90 L320 86.2 L323.8 81.2 L326.2 76.9 L325.6 71.2 L328.1 69 L331.2 70.6 L337.5 69 L343.8 69.6 L347.5 71.9 L346.9 74.4 L342.5 75 L339.4 77.5 L337.5 83.8 L337.5 88.8 L340 91.2 L343.1 93.8 L341.9 98.8 L339.4 102.5 L340 106.2 L343.8 110 L342.5 114.4 L346.2 116.2 L348.8 121.2 L346.2 127.5 L345.6 133.8 L348.8 140 L352.5 146.2 L353.8 153.8 L357.5 157.5 L359.4 165 L360.6 172.5 L359.4 177.5 L357.5 186.2 L355 192.5 L351.2 196.2 L350.6 203.8 L348.1 212.5 L346.9 222.5 L347.5 230 L348.8 237.5 L351.2 245 L352.5 255 L354.4 262.5 L355.6 270 L360 273.8 L363.8 272.5 L368.1 276.2 L365 280 L361.2 282.5 L362.5 287.5 L366.2 290 L363.8 295 L360 298.8 L360.6 307.5 L360.6 316.2 L365 320.6 L371.2 323.8 L367.5 326.2 L365.6 332.5 L367.5 340 L371.2 343.8 L372.5 350 L375 356.2 L376.2 365 L378.8 367.5 L379.4 377.5 L381.9 387.5 L383.1 395 L385 400 L384.4 410 L386.2 418.8 L388.8 426.2 L391.2 431.2 L390.5 438 L391 445 L395 455 L397.5 465 L400 472.5 L406.2 478.8 L410 486.2 L413.8 492.5 L420 502.5 L425 515 L426.2 527.5 L431.2 536.2 L438.8 542.5 L445 550 L450 556.2 L452.5 562.5 L455 570 L457.5 580 L460 590 L465 598.8 L467.5 610 L471.2 618.8 L472.5 630 L473.8 641.2 L476.2 652.5 L478.8 662.5 L482.5 672.5 L487.5 682.5 L490 690 L493.8 697.5 L498.8 708.8 L502.5 717.5 L508.8 726.2 L516.2 733.8 L522.5 741.2 L527.5 750 L533.8 760 L538.8 768.8 L541.2 777.5 L545 790 L547.5 800 L552.5 810 L555 820 L558.8 830 L562.5 842.5 L567.5 855 L570 867.5 L572.5 880 L577.5 892.5 L582.5 902.5 L587.5 912.5 L592.5 922.5 L597.5 931.2 L603.8 938.8 L611.2 946.2 L620 955 L628.8 961.2 L637.5 965.6 L643.8 965 L651.2 961.2 L661.2 955 L671.2 948.8 L678.8 943.8 L680 935 L681.9 922.5 L683.1 913.8 L688.8 907.5 L692.5 903.8 L705 900 L717.5 896.2 L733.8 891.2 L733.8 886 L730.5 883 L728.8 876 L730.5 869 L733.8 866Z" fill="#6b6b6b"/>
<ellipse cx="346.5" cy="91" rx="2.5" ry="1.8" fill="#fff"/>
<ellipse cx="355.5" cy="110.5" rx="2.2" ry="1.5" fill="#fff"/>
<ellipse cx="351" cy="114.5" rx="2" ry="1.3" fill="#fff"/>
</g>
<path fill="#fff" fill-rule="evenodd" d="M116 52H739.8V1105.6H116Z M122 57.4H733.8V1099.7H122Z"/>
<rect x="116" y="52" width="623.8" height="1053.6" fill="none" stroke="#8a8a8a" stroke-width="1"/>
<rect x="122" y="57.4" width="611.8" height="1042.3" fill="none" stroke="#8a8a8a" stroke-width="1"/>
<path fill="#000" d="M122 52.6H182.5V57.8H122ZM122 1099.5H182.5V1105H122ZM243.8 52.6H305V57.8H243.8ZM243.8 1099.5H305V1105H243.8ZM366.2 52.6H427.5V57.8H366.2ZM366.2 1099.5H427.5V1105H366.2ZM488.8 52.6H550V57.8H488.8ZM488.8 1099.5H550V1105H488.8ZM611.2 52.6H672.5V57.8H611.2ZM611.2 1099.5H672.5V1105H611.2ZM116.4 88.1H121.5V151.3H116.4ZM734.1 88.1H739.5V151.3H734.1ZM116.4 214.5H121.5V277.7H116.4ZM734.1 214.5H739.5V277.7H734.1ZM116.4 340.9H121.5V404.1H116.4ZM734.1 340.9H739.5V404.1H734.1ZM116.4 467.3H121.5V530.5H116.4ZM734.1 467.3H739.5V530.5H734.1ZM116.4 593.7H121.5V656.9H116.4ZM734.1 593.7H739.5V656.9H734.1ZM116.4 720.1H121.5V783.3H116.4ZM734.1 720.1H739.5V783.3H734.1ZM116.4 846.5H121.5V909.7H116.4ZM734.1 846.5H739.5V909.7H734.1ZM116.4 972.9H121.5V1036.1H116.4ZM734.1 972.9H739.5V1036.1H734.1Z"/>
<text x="105.3" y="228.8" text-anchor="end" class="bi">20°N</text>
<text x="105.3" y="544.8" text-anchor="end" class="bi">15°N</text>
<text x="105.3" y="860.8" text-anchor="end" class="bi">10°N</text>
<text x="180" y="1153.3" text-anchor="middle" class="bi">70°E</text>
<text x="425" y="1153.3" text-anchor="middle" class="bi">74°E</text>
<text x="670" y="1153.3" text-anchor="middle" class="bi">78°E</text>
<path d="M795 57.4L821 40L846.9 57.4Z" fill="#FFBE85" stroke="#7a5a3a" stroke-width="0.6"/>
<path d="M795 1099.5L821 1115.6L846.9 1099.5Z" fill="#D078FC" stroke="#6a3a8a" stroke-width="0.6"/>
<rect x="795" y="56.9" width="51.9" height="1043.1" fill="url(#cbA)"/>
<path d="M795 56.9V1100M846.9 56.9V1100" stroke="#000" stroke-opacity="0.45" stroke-width="0.9" fill="none"/>
<path d="M793.2 1099.8h12.5M847.7 1099.8h-12M793.2 839.1h12.5M847.7 839.1h-12M793.2 578.4h12.5M847.7 578.4h-12M793.2 317.7h12.5M847.7 317.7h-12M793.2 57h12.5M847.7 57h-12" stroke="#000" stroke-opacity="0.85" stroke-width="2.3" fill="none"/>
<text x="858.5" y="1113.8" class="ci">0</text>
<text x="858.5" y="853.1" class="ci">0.5</text>
<text x="860" y="592.4" class="bi">1</text>
<text x="860" y="331.7" class="bi">1.5</text>
<text x="860" y="70" class="bi">2</text>
<text x="38.8" y="35.7" class="b ba" clip-path="url(#tA)">(a)</text>
</g>
<g id="panel-b">
<g clip-path="url(#mB)"><g filter="url(#bl)"><g clip-path="url(#mB)" shape-rendering="crispEdges">
<path fill="#be5efc" d="M1355.3 367.6h21.4v3.7h-21.4zM1355.3 370.6h21.4v3.7h-21.4zM1352.3 373.7h24.4v3.7h-24.4zM1352.3 376.8h24.4v3.7h-24.4zM1352.3 379.8h24.4v3.7h-24.4zM1352.3 382.9h24.4v3.7h-24.4zM1352.3 386h27.4v3.7h-27.4zM1352.3 389h27.4v3.7h-27.4zM1352.3 392.1h27.4v3.7h-27.4zM1355.3 395.2h24.4v3.7h-24.4zM1355.3 398.3h21.4v3.7h-21.4zM1358.2 401.3h18.4v3.7h-18.4zM1358.2 404.4h18.4v3.7h-18.4zM1358.2 407.5h15.5v3.7h-15.5zM1361.2 410.5h12.5v3.7h-12.5zM1364.2 413.6h9.5v3.7h-9.5zM1367.2 416.7h6.5v3.7h-6.5zM1530.7 809.4h9.5v3.7h-9.5zM1533.6 812.5h9.5v3.7h-9.5zM1533.6 815.6h12.5v3.7h-12.5zM1533.6 818.6h12.5v3.7h-12.5zM1533.6 821.7h15.5v3.7h-15.5zM1539.6 824.8h9.5v3.7h-9.5zM1539.6 827.8h9.5v3.7h-9.5zM1539.6 830.9h12.5v3.7h-12.5zM1539.6 834h12.5v3.7h-12.5zM1539.6 837h12.5v3.7h-12.5zM1545.5 840.1h6.5v3.7h-6.5zM1545.5 843.2h6.5v3.7h-6.5zM1545.5 846.3h6.5v3.7h-6.5zM1545.5 849.3h6.5v3.7h-6.5zM1545.5 852.4h3.6v3.7h-3.6z"/>
<path fill="#ae4bfc" d="M1370.1 358.4h3.6v3.7h-3.6zM1355.3 361.4h21.4v3.7h-21.4zM1349.3 364.5h33.3v3.7h-33.3zM1349.3 367.6h6.5v3.7h-6.5zM1376.1 367.6h6.5v3.7h-6.5zM1349.3 370.6h6.5v3.7h-6.5zM1376.1 370.6h6.5v3.7h-6.5zM1349.3 373.7h3.6v3.7h-3.6zM1376.1 373.7h6.5v3.7h-6.5zM1349.3 376.8h3.6v3.7h-3.6zM1376.1 376.8h6.5v3.7h-6.5zM1346.4 379.8h6.5v3.7h-6.5zM1376.1 379.8h6.5v3.7h-6.5zM1346.4 382.9h6.5v3.7h-6.5zM1376.1 382.9h9.5v3.7h-9.5zM1346.4 386h6.5v3.7h-6.5zM1379.1 386h6.5v3.7h-6.5zM1346.4 389h6.5v3.7h-6.5zM1379.1 389h6.5v3.7h-6.5zM1346.4 392.1h6.5v3.7h-6.5zM1379.1 392.1h6.5v3.7h-6.5zM1349.3 395.2h6.5v3.7h-6.5zM1379.1 395.2h6.5v3.7h-6.5zM1349.3 398.3h6.5v3.7h-6.5zM1376.1 398.3h9.5v3.7h-9.5zM1349.3 401.3h9.5v3.7h-9.5zM1376.1 401.3h9.5v3.7h-9.5zM1352.3 404.4h6.5v3.7h-6.5zM1376.1 404.4h9.5v3.7h-9.5zM1352.3 407.5h6.5v3.7h-6.5zM1373.1 407.5h9.5v3.7h-9.5zM1352.3 410.5h9.5v3.7h-9.5zM1373.1 410.5h12.5v3.7h-12.5zM1355.3 413.6h9.5v3.7h-9.5zM1373.1 413.6h12.5v3.7h-12.5zM1355.3 416.7h12.5v3.7h-12.5zM1373.1 416.7h12.5v3.7h-12.5zM1358.2 419.7h27.4v3.7h-27.4zM1361.2 422.8h24.4v3.7h-24.4zM1361.2 425.9h24.4v3.7h-24.4zM1364.2 428.9h18.4v3.7h-18.4zM1364.2 432h18.4v3.7h-18.4zM1364.2 435.1h18.4v3.7h-18.4zM1364.2 438.1h18.4v3.7h-18.4zM1367.2 441.2h15.5v3.7h-15.5zM1367.2 444.3h15.5v3.7h-15.5zM1370.1 447.3h12.5v3.7h-12.5zM1370.1 450.4h9.5v3.7h-9.5zM1373.1 453.5h6.5v3.7h-6.5zM1373.1 456.6h6.5v3.7h-6.5zM1376.1 459.6h3.6v3.7h-3.6zM1382 475h3.6v3.7h-3.6zM1382 478h6.5v3.7h-6.5zM1382 481.1h6.5v3.7h-6.5zM1382 484.2h9.5v3.7h-9.5zM1382 487.2h9.5v3.7h-9.5zM1382 490.3h12.5v3.7h-12.5zM1385 493.4h9.5v3.7h-9.5zM1388 496.4h3.6v3.7h-3.6zM1524.7 794.1h6.5v3.7h-6.5zM1521.7 797.2h12.5v3.7h-12.5zM1527.7 800.2h9.5v3.7h-9.5zM1527.7 803.3h12.5v3.7h-12.5zM1527.7 806.4h15.5v3.7h-15.5zM1527.7 809.4h3.6v3.7h-3.6zM1539.6 809.4h6.5v3.7h-6.5zM1542.5 812.5h6.5v3.7h-6.5zM1545.5 815.6h6.5v3.7h-6.5zM1545.5 818.6h6.5v3.7h-6.5zM1548.5 821.7h3.6v3.7h-3.6zM1548.5 824.8h6.5v3.7h-6.5zM1548.5 827.8h6.5v3.7h-6.5zM1551.5 830.9h3.6v3.7h-3.6zM1551.5 834h6.5v3.7h-6.5zM1551.5 837h6.5v3.7h-6.5zM1551.5 840.1h6.5v3.7h-6.5zM1551.5 843.2h6.5v3.7h-6.5zM1551.5 846.3h6.5v3.7h-6.5zM1551.5 849.3h6.5v3.7h-6.5zM1548.5 852.4h9.5v3.7h-9.5zM1551.5 855.5h3.6v3.7h-3.6zM1551.5 858.5h3.6v3.7h-3.6zM1551.5 861.6h3.6v3.7h-3.6zM1551.5 864.7h3.6v3.7h-3.6z"/>
<path fill="#9d3ffc" d="M1352.3 211.1h3.6v3.7h-3.6zM1352.3 214.1h6.5v3.7h-6.5zM1352.3 217.2h6.5v3.7h-6.5zM1352.3 220.3h6.5v3.7h-6.5zM1352.3 223.3h6.5v3.7h-6.5zM1352.3 226.4h6.5v3.7h-6.5zM1352.3 229.5h6.5v3.7h-6.5zM1352.3 232.6h6.5v3.7h-6.5zM1352.3 235.6h6.5v3.7h-6.5zM1352.3 238.7h6.5v3.7h-6.5zM1352.3 241.8h6.5v3.7h-6.5zM1352.3 244.8h6.5v3.7h-6.5zM1352.3 247.9h6.5v3.7h-6.5zM1352.3 251h6.5v3.7h-6.5zM1370.1 349.2h12.5v3.7h-12.5zM1361.2 352.2h21.4v3.7h-21.4zM1352.3 355.3h33.3v3.7h-33.3zM1349.3 358.4h21.4v3.7h-21.4zM1373.1 358.4h12.5v3.7h-12.5zM1346.4 361.4h9.5v3.7h-9.5zM1376.1 361.4h9.5v3.7h-9.5zM1346.4 364.5h3.6v3.7h-3.6zM1382 364.5h3.6v3.7h-3.6zM1346.4 367.6h3.6v3.7h-3.6zM1382 367.6h6.5v3.7h-6.5zM1343.4 370.6h6.5v3.7h-6.5zM1382 370.6h6.5v3.7h-6.5zM1343.4 373.7h6.5v3.7h-6.5zM1382 373.7h6.5v3.7h-6.5zM1343.4 376.8h6.5v3.7h-6.5zM1382 376.8h6.5v3.7h-6.5zM1343.4 379.8h3.6v3.7h-3.6zM1382 379.8h6.5v3.7h-6.5zM1343.4 382.9h3.6v3.7h-3.6zM1385 382.9h3.6v3.7h-3.6zM1343.4 386h3.6v3.7h-3.6zM1385 386h3.6v3.7h-3.6zM1343.4 389h3.6v3.7h-3.6zM1385 389h3.6v3.7h-3.6zM1343.4 392.1h3.6v3.7h-3.6zM1385 392.1h3.6v3.7h-3.6zM1343.4 395.2h6.5v3.7h-6.5zM1385 395.2h3.6v3.7h-3.6zM1346.4 398.3h3.6v3.7h-3.6zM1385 398.3h3.6v3.7h-3.6zM1346.4 401.3h3.6v3.7h-3.6zM1385 401.3h3.6v3.7h-3.6zM1346.4 404.4h6.5v3.7h-6.5zM1385 404.4h3.6v3.7h-3.6zM1349.3 407.5h3.6v3.7h-3.6zM1382 407.5h9.5v3.7h-9.5zM1349.3 410.5h3.6v3.7h-3.6zM1385 410.5h6.5v3.7h-6.5zM1349.3 413.6h6.5v3.7h-6.5zM1385 413.6h6.5v3.7h-6.5zM1349.3 416.7h6.5v3.7h-6.5zM1385 416.7h6.5v3.7h-6.5zM1349.3 419.7h9.5v3.7h-9.5zM1385 419.7h6.5v3.7h-6.5zM1355.3 422.8h6.5v3.7h-6.5zM1385 422.8h6.5v3.7h-6.5zM1355.3 425.9h6.5v3.7h-6.5zM1385 425.9h6.5v3.7h-6.5zM1355.3 428.9h9.5v3.7h-9.5zM1382 428.9h9.5v3.7h-9.5zM1355.3 432h9.5v3.7h-9.5zM1382 432h9.5v3.7h-9.5zM1355.3 435.1h9.5v3.7h-9.5zM1382 435.1h12.5v3.7h-12.5zM1361.2 438.1h3.6v3.7h-3.6zM1382 438.1h12.5v3.7h-12.5zM1361.2 441.2h6.5v3.7h-6.5zM1382 441.2h12.5v3.7h-12.5zM1361.2 444.3h6.5v3.7h-6.5zM1382 444.3h12.5v3.7h-12.5zM1361.2 447.3h9.5v3.7h-9.5zM1382 447.3h15.5v3.7h-15.5zM1361.2 450.4h9.5v3.7h-9.5zM1379.1 450.4h18.4v3.7h-18.4zM1361.2 453.5h12.5v3.7h-12.5zM1379.1 453.5h18.4v3.7h-18.4zM1367.2 456.6h6.5v3.7h-6.5zM1379.1 456.6h15.5v3.7h-15.5zM1367.2 459.6h9.5v3.7h-9.5zM1379.1 459.6h15.5v3.7h-15.5zM1367.2 462.7h27.4v3.7h-27.4zM1367.2 465.8h30.3v3.7h-30.3zM1367.2 468.8h30.3v3.7h-30.3zM1373.1 471.9h24.4v3.7h-24.4zM1373.1 475h9.5v3.7h-9.5zM1385 475h12.5v3.7h-12.5zM1373.1 478h9.5v3.7h-9.5zM1388 478h12.5v3.7h-12.5zM1373.1 481.1h9.5v3.7h-9.5zM1388 481.1h12.5v3.7h-12.5zM1373.1 484.2h9.5v3.7h-9.5zM1390.9 484.2h9.5v3.7h-9.5zM1379.1 487.2h3.6v3.7h-3.6zM1390.9 487.2h9.5v3.7h-9.5zM1379.1 490.3h3.6v3.7h-3.6zM1393.9 490.3h9.5v3.7h-9.5zM1379.1 493.4h6.5v3.7h-6.5zM1393.9 493.4h9.5v3.7h-9.5zM1379.1 496.4h9.5v3.7h-9.5zM1390.9 496.4h12.5v3.7h-12.5zM1379.1 499.5h24.4v3.7h-24.4zM1385 502.6h18.4v3.7h-18.4zM1385 505.6h18.4v3.7h-18.4zM1385 508.7h18.4v3.7h-18.4zM1385 511.8h18.4v3.7h-18.4zM1385 514.9h18.4v3.7h-18.4zM1385 517.9h18.4v3.7h-18.4zM1385 521h18.4v3.7h-18.4zM1385 524.1h18.4v3.7h-18.4zM1385 527.1h21.4v3.7h-21.4zM1385 530.2h18.4v3.7h-18.4zM1385 533.3h18.4v3.7h-18.4zM1390.9 536.3h9.5v3.7h-9.5zM1390.9 539.4h9.5v3.7h-9.5zM1390.9 542.5h9.5v3.7h-9.5zM1390.9 545.5h9.5v3.7h-9.5zM1390.9 548.6h9.5v3.7h-9.5zM1390.9 551.7h9.5v3.7h-9.5zM1390.9 554.7h9.5v3.7h-9.5zM1390.9 557.8h9.5v3.7h-9.5zM1390.9 560.9h12.5v3.7h-12.5zM1390.9 564h12.5v3.7h-12.5zM1498 729.6h6.5v3.7h-6.5zM1492 732.7h15.5v3.7h-15.5zM1492 735.8h15.5v3.7h-15.5zM1495 738.9h15.5v3.7h-15.5zM1495 741.9h15.5v3.7h-15.5zM1495 745h18.4v3.7h-18.4zM1495 748.1h18.4v3.7h-18.4zM1498 751.1h18.4v3.7h-18.4zM1498 754.2h18.4v3.7h-18.4zM1498 757.3h21.4v3.7h-21.4zM1500.9 760.3h18.4v3.7h-18.4zM1500.9 763.4h18.4v3.7h-18.4zM1503.9 766.5h18.4v3.7h-18.4zM1503.9 769.5h18.4v3.7h-18.4zM1509.8 772.6h12.5v3.7h-12.5zM1509.8 775.7h15.5v3.7h-15.5zM1515.8 778.7h12.5v3.7h-12.5zM1515.8 781.8h12.5v3.7h-12.5zM1515.8 784.9h15.5v3.7h-15.5zM1515.8 788h18.4v3.7h-18.4zM1521.7 791h15.5v3.7h-15.5zM1521.7 794.1h3.6v3.7h-3.6zM1530.7 794.1h6.5v3.7h-6.5zM1533.6 797.2h9.5v3.7h-9.5zM1536.6 800.2h6.5v3.7h-6.5zM1539.6 803.3h6.5v3.7h-6.5zM1542.5 806.4h6.5v3.7h-6.5zM1545.5 809.4h6.5v3.7h-6.5zM1548.5 812.5h3.6v3.7h-3.6zM1551.5 815.6h3.6v3.7h-3.6zM1551.5 818.6h3.6v3.7h-3.6zM1551.5 821.7h6.5v3.7h-6.5zM1554.4 824.8h3.6v3.7h-3.6zM1554.4 827.8h3.6v3.7h-3.6zM1554.4 830.9h6.5v3.7h-6.5zM1557.4 834h3.6v3.7h-3.6zM1557.4 837h3.6v3.7h-3.6zM1557.4 840.1h3.6v3.7h-3.6zM1557.4 843.2h3.6v3.7h-3.6zM1557.4 846.3h3.6v3.7h-3.6zM1557.4 849.3h3.6v3.7h-3.6zM1557.4 852.4h3.6v3.7h-3.6zM1554.4 855.5h6.5v3.7h-6.5zM1554.4 858.5h6.5v3.7h-6.5zM1554.4 861.6h6.5v3.7h-6.5zM1554.4 864.7h6.5v3.7h-6.5zM1551.5 867.7h9.5v3.7h-9.5zM1557.4 870.8h3.6v3.7h-3.6zM1557.4 873.9h3.6v3.7h-3.6zM1557.4 876.9h3.6v3.7h-3.6zM1557.4 880h3.6v3.7h-3.6z"/>
<path fill="#8c38fc" d="M1343.4 201.9h21.4v3.7h-21.4zM1343.4 204.9h21.4v3.7h-21.4zM1343.4 208h21.4v3.7h-21.4zM1343.4 211.1h9.5v3.7h-9.5zM1355.3 211.1h9.5v3.7h-9.5zM1343.4 214.1h9.5v3.7h-9.5zM1358.2 214.1h6.5v3.7h-6.5zM1343.4 217.2h9.5v3.7h-9.5zM1358.2 217.2h6.5v3.7h-6.5zM1343.4 220.3h9.5v3.7h-9.5zM1358.2 220.3h6.5v3.7h-6.5zM1343.4 223.3h9.5v3.7h-9.5zM1358.2 223.3h6.5v3.7h-6.5zM1343.4 226.4h9.5v3.7h-9.5zM1358.2 226.4h6.5v3.7h-6.5zM1343.4 229.5h9.5v3.7h-9.5zM1358.2 229.5h6.5v3.7h-6.5zM1343.4 232.6h9.5v3.7h-9.5zM1358.2 232.6h6.5v3.7h-6.5zM1343.4 235.6h9.5v3.7h-9.5zM1358.2 235.6h6.5v3.7h-6.5zM1343.4 238.7h9.5v3.7h-9.5zM1358.2 238.7h6.5v3.7h-6.5zM1343.4 241.8h9.5v3.7h-9.5zM1358.2 241.8h6.5v3.7h-6.5zM1343.4 244.8h9.5v3.7h-9.5zM1358.2 244.8h6.5v3.7h-6.5zM1343.4 247.9h9.5v3.7h-9.5zM1358.2 247.9h6.5v3.7h-6.5zM1343.4 251h9.5v3.7h-9.5zM1358.2 251h6.5v3.7h-6.5zM1346.4 254h15.5v3.7h-15.5zM1346.4 257.1h9.5v3.7h-9.5zM1346.4 260.2h3.6v3.7h-3.6zM1385 297h3.6v3.7h-3.6zM1385 300.1h3.6v3.7h-3.6zM1385 303.1h3.6v3.7h-3.6zM1385 306.2h3.6v3.7h-3.6zM1385 309.3h3.6v3.7h-3.6zM1382 312.3h6.5v3.7h-6.5zM1385 315.4h3.6v3.7h-3.6zM1385 318.5h3.6v3.7h-3.6zM1385 321.5h3.6v3.7h-3.6zM1385 324.6h3.6v3.7h-3.6zM1385 327.7h3.6v3.7h-3.6zM1373.1 346.1h15.5v3.7h-15.5zM1352.3 349.2h18.4v3.7h-18.4zM1382 349.2h6.5v3.7h-6.5zM1349.3 352.2h12.5v3.7h-12.5zM1382 352.2h6.5v3.7h-6.5zM1346.4 355.3h6.5v3.7h-6.5zM1385 355.3h3.6v3.7h-3.6zM1346.4 358.4h3.6v3.7h-3.6zM1385 358.4h3.6v3.7h-3.6zM1343.4 361.4h3.6v3.7h-3.6zM1385 361.4h3.6v3.7h-3.6zM1343.4 364.5h3.6v3.7h-3.6zM1385 364.5h6.5v3.7h-6.5zM1343.4 367.6h3.6v3.7h-3.6zM1388 367.6h3.6v3.7h-3.6zM1340.4 370.6h3.6v3.7h-3.6zM1388 370.6h3.6v3.7h-3.6zM1340.4 373.7h3.6v3.7h-3.6zM1340.4 376.8h3.6v3.7h-3.6zM1340.4 379.8h3.6v3.7h-3.6zM1388 379.8h3.6v3.7h-3.6zM1340.4 382.9h3.6v3.7h-3.6zM1388 382.9h3.6v3.7h-3.6zM1340.4 386h3.6v3.7h-3.6zM1388 386h3.6v3.7h-3.6zM1337.4 389h6.5v3.7h-6.5zM1388 389h3.6v3.7h-3.6zM1337.4 392.1h6.5v3.7h-6.5zM1388 392.1h3.6v3.7h-3.6zM1337.4 395.2h6.5v3.7h-6.5zM1388 395.2h3.6v3.7h-3.6zM1343.4 398.3h3.6v3.7h-3.6zM1388 398.3h3.6v3.7h-3.6zM1343.4 401.3h3.6v3.7h-3.6zM1388 401.3h6.5v3.7h-6.5zM1343.4 404.4h3.6v3.7h-3.6zM1388 404.4h6.5v3.7h-6.5zM1343.4 407.5h6.5v3.7h-6.5zM1390.9 407.5h3.6v3.7h-3.6zM1343.4 410.5h6.5v3.7h-6.5zM1390.9 410.5h3.6v3.7h-3.6zM1343.4 413.6h6.5v3.7h-6.5zM1390.9 413.6h3.6v3.7h-3.6zM1390.9 416.7h6.5v3.7h-6.5zM1390.9 419.7h6.5v3.7h-6.5zM1390.9 422.8h6.5v3.7h-6.5zM1390.9 425.9h6.5v3.7h-6.5zM1390.9 428.9h6.5v3.7h-6.5zM1390.9 432h9.5v3.7h-9.5zM1393.9 435.1h6.5v3.7h-6.5zM1393.9 438.1h6.5v3.7h-6.5zM1393.9 441.2h6.5v3.7h-6.5zM1393.9 444.3h6.5v3.7h-6.5zM1396.9 447.3h6.5v3.7h-6.5zM1396.9 450.4h6.5v3.7h-6.5zM1396.9 453.5h6.5v3.7h-6.5zM1393.9 456.6h9.5v3.7h-9.5zM1393.9 459.6h9.5v3.7h-9.5zM1393.9 462.7h9.5v3.7h-9.5zM1396.9 465.8h6.5v3.7h-6.5zM1396.9 468.8h9.5v3.7h-9.5zM1396.9 471.9h9.5v3.7h-9.5zM1396.9 475h9.5v3.7h-9.5zM1399.9 478h6.5v3.7h-6.5zM1399.9 481.1h6.5v3.7h-6.5zM1399.9 484.2h6.5v3.7h-6.5zM1399.9 487.2h9.5v3.7h-9.5zM1402.8 490.3h6.5v3.7h-6.5zM1402.8 493.4h6.5v3.7h-6.5zM1402.8 496.4h6.5v3.7h-6.5zM1402.8 499.5h6.5v3.7h-6.5zM1402.8 502.6h6.5v3.7h-6.5zM1402.8 505.6h6.5v3.7h-6.5zM1402.8 508.7h6.5v3.7h-6.5zM1402.8 511.8h6.5v3.7h-6.5zM1402.8 514.9h6.5v3.7h-6.5zM1402.8 517.9h6.5v3.7h-6.5zM1402.8 521h6.5v3.7h-6.5zM1402.8 524.1h6.5v3.7h-6.5zM1405.8 527.1h6.5v3.7h-6.5zM1402.8 530.2h9.5v3.7h-9.5zM1402.8 533.3h9.5v3.7h-9.5zM1399.9 536.3h12.5v3.7h-12.5zM1399.9 539.4h12.5v3.7h-12.5zM1399.9 542.5h9.5v3.7h-9.5zM1399.9 545.5h12.5v3.7h-12.5zM1399.9 548.6h12.5v3.7h-12.5zM1399.9 551.7h12.5v3.7h-12.5zM1399.9 554.7h12.5v3.7h-12.5zM1399.9 557.8h12.5v3.7h-12.5zM1402.8 560.9h9.5v3.7h-9.5zM1402.8 564h12.5v3.7h-12.5zM1396.9 567h18.4v3.7h-18.4zM1396.9 570.1h21.4v3.7h-21.4zM1396.9 573.2h21.4v3.7h-21.4zM1396.9 576.2h21.4v3.7h-21.4zM1396.9 579.3h24.4v3.7h-24.4zM1396.9 582.4h21.4v3.7h-21.4zM1396.9 585.4h21.4v3.7h-21.4zM1396.9 588.5h18.4v3.7h-18.4zM1402.8 591.6h12.5v3.7h-12.5zM1402.8 594.6h9.5v3.7h-9.5zM1402.8 597.7h9.5v3.7h-9.5zM1500.9 699h9.5v3.7h-9.5zM1500.9 702h9.5v3.7h-9.5zM1500.9 705.1h12.5v3.7h-12.5zM1498 708.2h15.5v3.7h-15.5zM1492 711.2h24.4v3.7h-24.4zM1492 714.3h24.4v3.7h-24.4zM1492 717.4h24.4v3.7h-24.4zM1486.1 720.4h30.3v3.7h-30.3zM1486.1 723.5h27.4v3.7h-27.4zM1483.1 726.6h30.3v3.7h-30.3zM1483.1 729.6h15.5v3.7h-15.5zM1503.9 729.6h9.5v3.7h-9.5zM1483.1 732.7h9.5v3.7h-9.5zM1506.9 732.7h9.5v3.7h-9.5zM1480.1 735.8h12.5v3.7h-12.5zM1506.9 735.8h9.5v3.7h-9.5zM1480.1 738.9h15.5v3.7h-15.5zM1509.8 738.9h6.5v3.7h-6.5zM1486.1 741.9h9.5v3.7h-9.5zM1509.8 741.9h6.5v3.7h-6.5zM1486.1 745h9.5v3.7h-9.5zM1512.8 745h6.5v3.7h-6.5zM1486.1 748.1h9.5v3.7h-9.5zM1512.8 748.1h6.5v3.7h-6.5zM1492 751.1h6.5v3.7h-6.5zM1515.8 751.1h6.5v3.7h-6.5zM1492 754.2h6.5v3.7h-6.5zM1515.8 754.2h6.5v3.7h-6.5zM1492 757.3h6.5v3.7h-6.5zM1518.8 757.3h6.5v3.7h-6.5zM1498 760.3h3.6v3.7h-3.6zM1518.8 760.3h6.5v3.7h-6.5zM1498 763.4h3.6v3.7h-3.6zM1518.8 763.4h9.5v3.7h-9.5zM1521.7 766.5h6.5v3.7h-6.5zM1521.7 769.5h6.5v3.7h-6.5zM1521.7 772.6h9.5v3.7h-9.5zM1524.7 775.7h6.5v3.7h-6.5zM1527.7 778.7h6.5v3.7h-6.5zM1527.7 781.8h9.5v3.7h-9.5zM1530.7 784.9h9.5v3.7h-9.5zM1533.6 788h6.5v3.7h-6.5zM1536.6 791h6.5v3.7h-6.5zM1536.6 794.1h6.5v3.7h-6.5zM1542.5 797.2h3.6v3.7h-3.6zM1542.5 800.2h6.5v3.7h-6.5zM1545.5 803.3h6.5v3.7h-6.5zM1548.5 806.4h3.6v3.7h-3.6zM1551.5 809.4h3.6v3.7h-3.6zM1551.5 812.5h3.6v3.7h-3.6zM1554.4 815.6h3.6v3.7h-3.6zM1554.4 818.6h3.6v3.7h-3.6zM1557.4 824.8h3.6v3.7h-3.6zM1557.4 827.8h3.6v3.7h-3.6zM1560.4 830.9h3.6v3.7h-3.6zM1560.4 834h3.6v3.7h-3.6zM1560.4 837h3.6v3.7h-3.6zM1560.4 840.1h3.6v3.7h-3.6zM1560.4 843.2h3.6v3.7h-3.6zM1560.4 846.3h3.6v3.7h-3.6zM1560.4 849.3h3.6v3.7h-3.6zM1560.4 852.4h3.6v3.7h-3.6zM1560.4 855.5h3.6v3.7h-3.6zM1560.4 858.5h3.6v3.7h-3.6zM1560.4 861.6h3.6v3.7h-3.6zM1560.4 864.7h6.5v3.7h-6.5zM1560.4 867.7h6.5v3.7h-6.5zM1560.4 870.8h6.5v3.7h-6.5zM1560.4 873.9h6.5v3.7h-6.5zM1560.4 876.9h6.5v3.7h-6.5zM1560.4 880h3.6v3.7h-3.6zM1557.4 883.1h6.5v3.7h-6.5z"/>
<path fill="#7c38fc" d="M1364.2 201.9h3.6v3.7h-3.6zM1364.2 204.9h3.6v3.7h-3.6zM1364.2 208h3.6v3.7h-3.6zM1364.2 211.1h3.6v3.7h-3.6zM1364.2 214.1h3.6v3.7h-3.6zM1364.2 217.2h3.6v3.7h-3.6zM1364.2 220.3h3.6v3.7h-3.6zM1364.2 223.3h3.6v3.7h-3.6zM1364.2 226.4h3.6v3.7h-3.6zM1364.2 229.5h3.6v3.7h-3.6zM1364.2 232.6h3.6v3.7h-3.6zM1364.2 235.6h3.6v3.7h-3.6zM1364.2 238.7h3.6v3.7h-3.6zM1364.2 241.8h3.6v3.7h-3.6zM1364.2 244.8h3.6v3.7h-3.6zM1364.2 247.9h3.6v3.7h-3.6zM1364.2 251h3.6v3.7h-3.6zM1343.4 254h3.6v3.7h-3.6zM1361.2 254h6.5v3.7h-6.5zM1343.4 257.1h3.6v3.7h-3.6zM1355.3 257.1h3.6v3.7h-3.6zM1343.4 260.2h3.6v3.7h-3.6zM1349.3 260.2h6.5v3.7h-6.5zM1346.4 263.2h9.5v3.7h-9.5zM1346.4 266.3h3.6v3.7h-3.6zM1346.4 269.4h3.6v3.7h-3.6zM1382 281.6h6.5v3.7h-6.5zM1382 284.7h6.5v3.7h-6.5zM1382 287.8h6.5v3.7h-6.5zM1382 290.9h6.5v3.7h-6.5zM1382 293.9h6.5v3.7h-6.5zM1382 297h3.6v3.7h-3.6zM1382 300.1h3.6v3.7h-3.6zM1382 303.1h3.6v3.7h-3.6zM1379.1 306.2h6.5v3.7h-6.5zM1388 306.2h3.6v3.7h-3.6zM1379.1 309.3h6.5v3.7h-6.5zM1388 309.3h3.6v3.7h-3.6zM1379.1 312.3h3.6v3.7h-3.6zM1388 312.3h3.6v3.7h-3.6zM1379.1 315.4h6.5v3.7h-6.5zM1388 315.4h3.6v3.7h-3.6zM1382 318.5h3.6v3.7h-3.6zM1388 318.5h3.6v3.7h-3.6zM1382 321.5h3.6v3.7h-3.6zM1388 321.5h3.6v3.7h-3.6zM1382 324.6h3.6v3.7h-3.6zM1388 324.6h3.6v3.7h-3.6zM1382 327.7h3.6v3.7h-3.6zM1388 327.7h3.6v3.7h-3.6zM1385 330.7h6.5v3.7h-6.5zM1385 333.8h6.5v3.7h-6.5zM1382 336.9h9.5v3.7h-9.5zM1379.1 340h12.5v3.7h-12.5zM1373.1 343h18.4v3.7h-18.4zM1349.3 346.1h24.4v3.7h-24.4zM1388 346.1h3.6v3.7h-3.6zM1346.4 349.2h6.5v3.7h-6.5zM1388 349.2h3.6v3.7h-3.6zM1343.4 352.2h6.5v3.7h-6.5zM1388 352.2h3.6v3.7h-3.6zM1343.4 355.3h3.6v3.7h-3.6zM1388 355.3h3.6v3.7h-3.6zM1343.4 358.4h3.6v3.7h-3.6zM1388 358.4h3.6v3.7h-3.6zM1388 361.4h3.6v3.7h-3.6zM1340.4 364.5h3.6v3.7h-3.6zM1340.4 367.6h3.6v3.7h-3.6zM1388 373.7h3.6v3.7h-3.6zM1388 376.8h3.6v3.7h-3.6zM1337.4 379.8h3.6v3.7h-3.6zM1337.4 382.9h3.6v3.7h-3.6zM1337.4 386h3.6v3.7h-3.6zM1390.9 392.1h3.6v3.7h-3.6zM1390.9 395.2h3.6v3.7h-3.6zM1390.9 398.3h3.6v3.7h-3.6zM1393.9 407.5h3.6v3.7h-3.6zM1393.9 410.5h3.6v3.7h-3.6zM1393.9 413.6h3.6v3.7h-3.6zM1396.9 416.7h3.6v3.7h-3.6zM1396.9 419.7h3.6v3.7h-3.6zM1396.9 422.8h3.6v3.7h-3.6zM1396.9 425.9h3.6v3.7h-3.6zM1396.9 428.9h3.6v3.7h-3.6zM1399.9 435.1h3.6v3.7h-3.6zM1399.9 438.1h3.6v3.7h-3.6zM1399.9 441.2h3.6v3.7h-3.6zM1399.9 444.3h6.5v3.7h-6.5zM1402.8 447.3h3.6v3.7h-3.6zM1402.8 450.4h3.6v3.7h-3.6zM1402.8 453.5h3.6v3.7h-3.6zM1402.8 456.6h3.6v3.7h-3.6zM1402.8 459.6h3.6v3.7h-3.6zM1402.8 462.7h3.6v3.7h-3.6zM1402.8 465.8h3.6v3.7h-3.6zM1405.8 468.8h3.6v3.7h-3.6zM1405.8 471.9h3.6v3.7h-3.6zM1405.8 475h3.6v3.7h-3.6zM1405.8 478h3.6v3.7h-3.6zM1405.8 481.1h3.6v3.7h-3.6zM1405.8 484.2h6.5v3.7h-6.5zM1408.8 487.2h3.6v3.7h-3.6zM1408.8 490.3h3.6v3.7h-3.6zM1408.8 493.4h3.6v3.7h-3.6zM1408.8 496.4h3.6v3.7h-3.6zM1408.8 499.5h3.6v3.7h-3.6zM1408.8 502.6h6.5v3.7h-6.5zM1408.8 505.6h3.6v3.7h-3.6zM1408.8 508.7h3.6v3.7h-3.6zM1408.8 511.8h3.6v3.7h-3.6zM1408.8 514.9h3.6v3.7h-3.6zM1408.8 517.9h6.5v3.7h-6.5zM1408.8 521h6.5v3.7h-6.5zM1408.8 524.1h6.5v3.7h-6.5zM1411.8 527.1h3.6v3.7h-3.6zM1411.8 530.2h6.5v3.7h-6.5zM1411.8 533.3h6.5v3.7h-6.5zM1411.8 536.3h6.5v3.7h-6.5zM1411.8 539.4h6.5v3.7h-6.5zM1408.8 542.5h12.5v3.7h-12.5zM1411.8 545.5h9.5v3.7h-9.5zM1411.8 548.6h9.5v3.7h-9.5zM1411.8 551.7h9.5v3.7h-9.5zM1411.8 554.7h9.5v3.7h-9.5zM1411.8 557.8h9.5v3.7h-9.5zM1411.8 560.9h12.5v3.7h-12.5zM1414.7 564h9.5v3.7h-9.5zM1414.7 567h9.5v3.7h-9.5zM1417.7 570.1h6.5v3.7h-6.5zM1417.7 573.2h9.5v3.7h-9.5zM1417.7 576.2h9.5v3.7h-9.5zM1420.7 579.3h6.5v3.7h-6.5zM1417.7 582.4h9.5v3.7h-9.5zM1417.7 585.4h9.5v3.7h-9.5zM1414.7 588.5h15.5v3.7h-15.5zM1414.7 591.6h15.5v3.7h-15.5zM1411.8 594.6h18.4v3.7h-18.4zM1411.8 597.7h18.4v3.7h-18.4zM1402.8 600.8h30.3v3.7h-30.3zM1402.8 603.8h30.3v3.7h-30.3zM1402.8 606.9h27.4v3.7h-27.4zM1402.8 610h24.4v3.7h-24.4zM1402.8 613h24.4v3.7h-24.4zM1402.8 616.1h21.4v3.7h-21.4zM1408.8 619.2h15.5v3.7h-15.5zM1408.8 622.3h15.5v3.7h-15.5zM1408.8 625.3h18.4v3.7h-18.4zM1408.8 628.4h18.4v3.7h-18.4zM1414.7 631.5h15.5v3.7h-15.5zM1414.7 634.5h15.5v3.7h-15.5zM1420.7 637.6h12.5v3.7h-12.5zM1420.7 640.7h15.5v3.7h-15.5zM1426.6 643.7h12.5v3.7h-12.5zM1432.6 646.8h9.5v3.7h-9.5zM1438.5 649.9h6.5v3.7h-6.5zM1438.5 652.9h9.5v3.7h-9.5zM1444.4 656h6.5v3.7h-6.5zM1444.4 659.1h3.6v3.7h-3.6zM1500.9 692.8h3.6v3.7h-3.6zM1498 695.9h15.5v3.7h-15.5zM1495 699h6.5v3.7h-6.5zM1509.8 699h6.5v3.7h-6.5zM1492 702h9.5v3.7h-9.5zM1509.8 702h6.5v3.7h-6.5zM1486.1 705.1h15.5v3.7h-15.5zM1512.8 705.1h6.5v3.7h-6.5zM1483.1 708.2h15.5v3.7h-15.5zM1512.8 708.2h6.5v3.7h-6.5zM1477.1 711.2h15.5v3.7h-15.5zM1515.8 711.2h3.6v3.7h-3.6zM1474.2 714.3h18.4v3.7h-18.4zM1515.8 714.3h6.5v3.7h-6.5zM1474.2 717.4h18.4v3.7h-18.4zM1515.8 717.4h3.6v3.7h-3.6zM1474.2 720.4h12.5v3.7h-12.5zM1515.8 720.4h3.6v3.7h-3.6zM1474.2 723.5h12.5v3.7h-12.5zM1512.8 723.5h6.5v3.7h-6.5zM1480.1 726.6h3.6v3.7h-3.6zM1512.8 726.6h6.5v3.7h-6.5zM1480.1 729.6h3.6v3.7h-3.6zM1512.8 729.6h6.5v3.7h-6.5zM1480.1 732.7h3.6v3.7h-3.6zM1515.8 732.7h3.6v3.7h-3.6zM1515.8 735.8h6.5v3.7h-6.5zM1515.8 738.9h6.5v3.7h-6.5zM1515.8 741.9h6.5v3.7h-6.5zM1518.8 745h3.6v3.7h-3.6zM1518.8 748.1h6.5v3.7h-6.5zM1521.7 751.1h3.6v3.7h-3.6zM1521.7 754.2h6.5v3.7h-6.5zM1524.7 757.3h3.6v3.7h-3.6zM1524.7 760.3h6.5v3.7h-6.5zM1527.7 763.4h6.5v3.7h-6.5zM1527.7 766.5h6.5v3.7h-6.5zM1527.7 769.5h9.5v3.7h-9.5zM1530.7 772.6h6.5v3.7h-6.5zM1530.7 775.7h9.5v3.7h-9.5zM1533.6 778.7h6.5v3.7h-6.5zM1536.6 781.8h6.5v3.7h-6.5zM1539.6 784.9h6.5v3.7h-6.5zM1539.6 788h6.5v3.7h-6.5zM1542.5 791h6.5v3.7h-6.5zM1542.5 794.1h6.5v3.7h-6.5zM1545.5 797.2h6.5v3.7h-6.5zM1548.5 800.2h3.6v3.7h-3.6zM1551.5 803.3h3.6v3.7h-3.6zM1551.5 806.4h3.6v3.7h-3.6zM1554.4 809.4h3.6v3.7h-3.6zM1554.4 812.5h3.6v3.7h-3.6zM1557.4 815.6h3.6v3.7h-3.6zM1557.4 818.6h3.6v3.7h-3.6zM1557.4 821.7h3.6v3.7h-3.6zM1560.4 824.8h3.6v3.7h-3.6zM1560.4 827.8h3.6v3.7h-3.6zM1563.3 834h3.6v3.7h-3.6zM1563.3 837h3.6v3.7h-3.6zM1563.3 840.1h3.6v3.7h-3.6zM1563.3 843.2h3.6v3.7h-3.6zM1563.3 846.3h3.6v3.7h-3.6zM1563.3 849.3h3.6v3.7h-3.6zM1563.3 852.4h3.6v3.7h-3.6zM1563.3 855.5h3.6v3.7h-3.6zM1563.3 858.5h3.6v3.7h-3.6zM1563.3 861.6h3.6v3.7h-3.6zM1566.3 864.7h3.6v3.7h-3.6zM1566.3 867.7h3.6v3.7h-3.6zM1566.3 870.8h3.6v3.7h-3.6zM1566.3 873.9h3.6v3.7h-3.6zM1566.3 876.9h3.6v3.7h-3.6zM1563.3 880h6.5v3.7h-6.5zM1563.3 883.1h3.6v3.7h-3.6zM1563.3 886.1h3.6v3.7h-3.6zM1563.3 889.2h3.6v3.7h-3.6z"/>
<path fill="#723afc" d="M1340.4 201.9h3.6v3.7h-3.6zM1367.2 201.9h3.6v3.7h-3.6zM1340.4 204.9h3.6v3.7h-3.6zM1367.2 204.9h3.6v3.7h-3.6zM1340.4 208h3.6v3.7h-3.6zM1367.2 208h3.6v3.7h-3.6zM1340.4 211.1h3.6v3.7h-3.6zM1367.2 211.1h3.6v3.7h-3.6zM1340.4 214.1h3.6v3.7h-3.6zM1367.2 214.1h6.5v3.7h-6.5zM1340.4 217.2h3.6v3.7h-3.6zM1367.2 217.2h6.5v3.7h-6.5zM1340.4 220.3h3.6v3.7h-3.6zM1367.2 220.3h6.5v3.7h-6.5zM1340.4 223.3h3.6v3.7h-3.6zM1367.2 223.3h6.5v3.7h-6.5zM1340.4 226.4h3.6v3.7h-3.6zM1367.2 226.4h6.5v3.7h-6.5zM1340.4 229.5h3.6v3.7h-3.6zM1367.2 229.5h6.5v3.7h-6.5zM1340.4 232.6h3.6v3.7h-3.6zM1367.2 232.6h6.5v3.7h-6.5zM1340.4 235.6h3.6v3.7h-3.6zM1367.2 235.6h6.5v3.7h-6.5zM1340.4 238.7h3.6v3.7h-3.6zM1367.2 238.7h6.5v3.7h-6.5zM1340.4 241.8h3.6v3.7h-3.6zM1367.2 241.8h6.5v3.7h-6.5zM1340.4 244.8h3.6v3.7h-3.6zM1367.2 244.8h6.5v3.7h-6.5zM1340.4 247.9h3.6v3.7h-3.6zM1367.2 247.9h6.5v3.7h-6.5zM1340.4 251h3.6v3.7h-3.6zM1367.2 251h6.5v3.7h-6.5zM1340.4 254h3.6v3.7h-3.6zM1367.2 254h3.6v3.7h-3.6zM1340.4 257.1h3.6v3.7h-3.6zM1358.2 257.1h3.6v3.7h-3.6zM1355.3 260.2h3.6v3.7h-3.6zM1343.4 263.2h3.6v3.7h-3.6zM1355.3 263.2h3.6v3.7h-3.6zM1343.4 266.3h3.6v3.7h-3.6zM1349.3 266.3h6.5v3.7h-6.5zM1343.4 269.4h3.6v3.7h-3.6zM1349.3 269.4h3.6v3.7h-3.6zM1343.4 272.4h6.5v3.7h-6.5zM1346.4 275.5h3.6v3.7h-3.6zM1346.4 278.6h3.6v3.7h-3.6zM1382 278.6h6.5v3.7h-6.5zM1346.4 281.6h3.6v3.7h-3.6zM1388 281.6h3.6v3.7h-3.6zM1379.1 284.7h3.6v3.7h-3.6zM1388 284.7h3.6v3.7h-3.6zM1379.1 287.8h3.6v3.7h-3.6zM1388 287.8h3.6v3.7h-3.6zM1379.1 290.9h3.6v3.7h-3.6zM1388 290.9h3.6v3.7h-3.6zM1379.1 293.9h3.6v3.7h-3.6zM1388 293.9h3.6v3.7h-3.6zM1379.1 297h3.6v3.7h-3.6zM1388 297h3.6v3.7h-3.6zM1379.1 300.1h3.6v3.7h-3.6zM1388 300.1h3.6v3.7h-3.6zM1379.1 303.1h3.6v3.7h-3.6zM1388 303.1h3.6v3.7h-3.6zM1379.1 318.5h3.6v3.7h-3.6zM1379.1 321.5h3.6v3.7h-3.6zM1379.1 324.6h3.6v3.7h-3.6zM1379.1 327.7h3.6v3.7h-3.6zM1390.9 327.7h3.6v3.7h-3.6zM1379.1 330.7h6.5v3.7h-6.5zM1390.9 330.7h3.6v3.7h-3.6zM1379.1 333.8h6.5v3.7h-6.5zM1376.1 336.9h6.5v3.7h-6.5zM1346.4 340h12.5v3.7h-12.5zM1373.1 340h6.5v3.7h-6.5zM1346.4 343h27.4v3.7h-27.4zM1390.9 343h3.6v3.7h-3.6zM1343.4 346.1h6.5v3.7h-6.5zM1390.9 346.1h3.6v3.7h-3.6zM1340.4 349.2h6.5v3.7h-6.5zM1390.9 349.2h3.6v3.7h-3.6zM1340.4 352.2h3.6v3.7h-3.6zM1390.9 352.2h3.6v3.7h-3.6zM1340.4 355.3h3.6v3.7h-3.6zM1390.9 355.3h3.6v3.7h-3.6zM1340.4 358.4h3.6v3.7h-3.6zM1390.9 358.4h3.6v3.7h-3.6zM1340.4 361.4h3.6v3.7h-3.6zM1390.9 361.4h3.6v3.7h-3.6zM1390.9 364.5h3.6v3.7h-3.6zM1337.4 367.6h3.6v3.7h-3.6zM1390.9 367.6h3.6v3.7h-3.6zM1337.4 370.6h3.6v3.7h-3.6zM1390.9 370.6h3.6v3.7h-3.6zM1337.4 373.7h3.6v3.7h-3.6zM1390.9 373.7h3.6v3.7h-3.6zM1331.5 376.8h9.5v3.7h-9.5zM1390.9 376.8h3.6v3.7h-3.6zM1390.9 379.8h3.6v3.7h-3.6zM1390.9 382.9h3.6v3.7h-3.6zM1390.9 386h3.6v3.7h-3.6zM1390.9 389h3.6v3.7h-3.6zM1393.9 398.3h3.6v3.7h-3.6zM1393.9 401.3h3.6v3.7h-3.6zM1393.9 404.4h3.6v3.7h-3.6zM1396.9 413.6h3.6v3.7h-3.6zM1399.9 422.8h3.6v3.7h-3.6zM1399.9 425.9h3.6v3.7h-3.6zM1399.9 428.9h3.6v3.7h-3.6zM1399.9 432h3.6v3.7h-3.6zM1402.8 435.1h3.6v3.7h-3.6zM1402.8 438.1h3.6v3.7h-3.6zM1402.8 441.2h3.6v3.7h-3.6zM1405.8 450.4h3.6v3.7h-3.6zM1405.8 453.5h3.6v3.7h-3.6zM1405.8 456.6h3.6v3.7h-3.6zM1405.8 459.6h3.6v3.7h-3.6zM1405.8 462.7h3.6v3.7h-3.6zM1405.8 465.8h3.6v3.7h-3.6zM1408.8 468.8h3.6v3.7h-3.6zM1408.8 471.9h3.6v3.7h-3.6zM1408.8 475h3.6v3.7h-3.6zM1408.8 478h3.6v3.7h-3.6zM1408.8 481.1h3.6v3.7h-3.6zM1411.8 484.2h3.6v3.7h-3.6zM1411.8 487.2h3.6v3.7h-3.6zM1411.8 490.3h3.6v3.7h-3.6zM1411.8 493.4h3.6v3.7h-3.6zM1411.8 496.4h3.6v3.7h-3.6zM1411.8 499.5h6.5v3.7h-6.5zM1414.7 502.6h3.6v3.7h-3.6zM1411.8 505.6h6.5v3.7h-6.5zM1411.8 508.7h6.5v3.7h-6.5zM1411.8 511.8h6.5v3.7h-6.5zM1411.8 514.9h6.5v3.7h-6.5zM1414.7 517.9h3.6v3.7h-3.6zM1414.7 521h3.6v3.7h-3.6zM1414.7 524.1h6.5v3.7h-6.5zM1414.7 527.1h6.5v3.7h-6.5zM1417.7 530.2h3.6v3.7h-3.6zM1417.7 533.3h6.5v3.7h-6.5zM1417.7 536.3h6.5v3.7h-6.5zM1417.7 539.4h9.5v3.7h-9.5zM1420.7 542.5h6.5v3.7h-6.5zM1420.7 545.5h6.5v3.7h-6.5zM1420.7 548.6h9.5v3.7h-9.5zM1420.7 551.7h9.5v3.7h-9.5zM1420.7 554.7h9.5v3.7h-9.5zM1420.7 557.8h9.5v3.7h-9.5zM1423.6 560.9h6.5v3.7h-6.5zM1423.6 564h6.5v3.7h-6.5zM1423.6 567h6.5v3.7h-6.5zM1423.6 570.1h6.5v3.7h-6.5zM1426.6 573.2h6.5v3.7h-6.5zM1426.6 576.2h6.5v3.7h-6.5zM1426.6 579.3h6.5v3.7h-6.5zM1426.6 582.4h6.5v3.7h-6.5zM1426.6 585.4h6.5v3.7h-6.5zM1429.6 588.5h3.6v3.7h-3.6zM1429.6 591.6h3.6v3.7h-3.6zM1429.6 594.6h6.5v3.7h-6.5zM1429.6 597.7h6.5v3.7h-6.5zM1432.6 600.8h3.6v3.7h-3.6zM1432.6 603.8h3.6v3.7h-3.6zM1429.6 606.9h9.5v3.7h-9.5zM1426.6 610h12.5v3.7h-12.5zM1426.6 613h12.5v3.7h-12.5zM1423.6 616.1h15.5v3.7h-15.5zM1423.6 619.2h18.4v3.7h-18.4zM1423.6 622.3h18.4v3.7h-18.4zM1426.6 625.3h15.5v3.7h-15.5zM1426.6 628.4h18.4v3.7h-18.4zM1429.6 631.5h15.5v3.7h-15.5zM1429.6 634.5h18.4v3.7h-18.4zM1432.6 637.6h18.4v3.7h-18.4zM1435.5 640.7h15.5v3.7h-15.5zM1438.5 643.7h15.5v3.7h-15.5zM1441.5 646.8h12.5v3.7h-12.5zM1444.4 649.9h12.5v3.7h-12.5zM1447.4 652.9h12.5v3.7h-12.5zM1450.4 656h9.5v3.7h-9.5zM1447.4 659.1h15.5v3.7h-15.5zM1450.4 662.1h12.5v3.7h-12.5zM1450.4 665.2h12.5v3.7h-12.5zM1450.4 668.3h12.5v3.7h-12.5zM1450.4 671.3h15.5v3.7h-15.5zM1456.3 674.4h9.5v3.7h-9.5zM1456.3 677.5h9.5v3.7h-9.5zM1456.3 680.6h12.5v3.7h-12.5zM1456.3 683.6h12.5v3.7h-12.5zM1462.3 686.7h9.5v3.7h-9.5zM1462.3 689.8h12.5v3.7h-12.5zM1498 689.8h6.5v3.7h-6.5zM1462.3 692.8h15.5v3.7h-15.5zM1495 692.8h6.5v3.7h-6.5zM1503.9 692.8h9.5v3.7h-9.5zM1462.3 695.9h36.3v3.7h-36.3zM1512.8 695.9h3.6v3.7h-3.6zM1462.3 699h33.3v3.7h-33.3zM1515.8 699h3.6v3.7h-3.6zM1462.3 702h30.3v3.7h-30.3zM1515.8 702h3.6v3.7h-3.6zM1468.2 705.1h18.4v3.7h-18.4zM1468.2 708.2h15.5v3.7h-15.5zM1518.8 708.2h3.6v3.7h-3.6zM1468.2 711.2h9.5v3.7h-9.5zM1518.8 711.2h3.6v3.7h-3.6zM1518.8 717.4h3.6v3.7h-3.6zM1518.8 720.4h3.6v3.7h-3.6zM1518.8 723.5h3.6v3.7h-3.6zM1518.8 726.6h3.6v3.7h-3.6zM1518.8 729.6h6.5v3.7h-6.5zM1518.8 732.7h6.5v3.7h-6.5zM1521.7 735.8h3.6v3.7h-3.6zM1521.7 738.9h3.6v3.7h-3.6zM1521.7 741.9h6.5v3.7h-6.5zM1521.7 745h6.5v3.7h-6.5zM1524.7 748.1h3.6v3.7h-3.6zM1524.7 751.1h6.5v3.7h-6.5zM1527.7 754.2h3.6v3.7h-3.6zM1527.7 757.3h6.5v3.7h-6.5zM1530.7 760.3h6.5v3.7h-6.5zM1533.6 763.4h3.6v3.7h-3.6zM1533.6 766.5h6.5v3.7h-6.5zM1536.6 769.5h3.6v3.7h-3.6zM1536.6 772.6h6.5v3.7h-6.5zM1539.6 775.7h3.6v3.7h-3.6zM1539.6 778.7h6.5v3.7h-6.5zM1542.5 781.8h3.6v3.7h-3.6zM1545.5 784.9h3.6v3.7h-3.6zM1545.5 788h3.6v3.7h-3.6zM1548.5 791h3.6v3.7h-3.6zM1548.5 794.1h3.6v3.7h-3.6zM1551.5 797.2h3.6v3.7h-3.6zM1551.5 800.2h3.6v3.7h-3.6zM1554.4 803.3h3.6v3.7h-3.6zM1554.4 806.4h6.5v3.7h-6.5zM1557.4 809.4h3.6v3.7h-3.6zM1557.4 812.5h6.5v3.7h-6.5zM1560.4 815.6h3.6v3.7h-3.6zM1560.4 818.6h3.6v3.7h-3.6zM1560.4 821.7h3.6v3.7h-3.6zM1563.3 824.8h3.6v3.7h-3.6zM1563.3 827.8h3.6v3.7h-3.6zM1563.3 830.9h3.6v3.7h-3.6zM1566.3 834h3.6v3.7h-3.6zM1566.3 837h3.6v3.7h-3.6zM1566.3 840.1h3.6v3.7h-3.6zM1566.3 843.2h3.6v3.7h-3.6zM1566.3 846.3h3.6v3.7h-3.6zM1566.3 849.3h3.6v3.7h-3.6zM1566.3 852.4h3.6v3.7h-3.6zM1566.3 855.5h3.6v3.7h-3.6zM1566.3 858.5h3.6v3.7h-3.6zM1566.3 861.6h3.6v3.7h-3.6zM1566.3 883.1h3.6v3.7h-3.6zM1566.3 886.1h3.6v3.7h-3.6zM1566.3 889.2h3.6v3.7h-3.6zM1563.3 892.3h3.6v3.7h-3.6zM1625.8 919.9h3.6v3.7h-3.6zM1625.8 923h6.5v3.7h-6.5zM1628.7 926h6.5v3.7h-6.5zM1628.7 929.1h9.5v3.7h-9.5zM1628.7 932.2h12.5v3.7h-12.5zM1628.7 935.2h12.5v3.7h-12.5zM1631.7 938.3h9.5v3.7h-9.5zM1631.7 941.4h12.5v3.7h-12.5zM1631.7 944.4h15.5v3.7h-15.5zM1628.7 947.5h18.4v3.7h-18.4zM1631.7 950.6h15.5v3.7h-15.5zM1631.7 953.7h15.5v3.7h-15.5zM1631.7 956.7h12.5v3.7h-12.5zM1628.7 959.8h15.5v3.7h-15.5zM1628.7 962.9h15.5v3.7h-15.5zM1628.7 965.9h15.5v3.7h-15.5zM1628.7 969h12.5v3.7h-12.5z"/>
<path fill="#6b3ffb" d="M1370.1 201.9h3.6v3.7h-3.6zM1370.1 204.9h3.6v3.7h-3.6zM1370.1 208h3.6v3.7h-3.6zM1370.1 211.1h3.6v3.7h-3.6zM1370.1 254h3.6v3.7h-3.6zM1361.2 257.1h6.5v3.7h-6.5zM1340.4 260.2h3.6v3.7h-3.6zM1358.2 260.2h3.6v3.7h-3.6zM1340.4 263.2h3.6v3.7h-3.6zM1340.4 266.3h3.6v3.7h-3.6zM1355.3 266.3h3.6v3.7h-3.6zM1340.4 269.4h3.6v3.7h-3.6zM1352.3 269.4h3.6v3.7h-3.6zM1340.4 272.4h3.6v3.7h-3.6zM1349.3 272.4h3.6v3.7h-3.6zM1340.4 275.5h6.5v3.7h-6.5zM1349.3 275.5h3.6v3.7h-3.6zM1382 275.5h6.5v3.7h-6.5zM1343.4 278.6h3.6v3.7h-3.6zM1379.1 278.6h3.6v3.7h-3.6zM1388 278.6h3.6v3.7h-3.6zM1343.4 281.6h3.6v3.7h-3.6zM1379.1 281.6h3.6v3.7h-3.6zM1343.4 284.7h6.5v3.7h-6.5zM1343.4 287.8h6.5v3.7h-6.5zM1343.4 290.9h6.5v3.7h-6.5zM1343.4 293.9h6.5v3.7h-6.5zM1343.4 297h6.5v3.7h-6.5zM1343.4 300.1h6.5v3.7h-6.5zM1343.4 303.1h6.5v3.7h-6.5zM1346.4 306.2h3.6v3.7h-3.6zM1346.4 309.3h3.6v3.7h-3.6zM1390.9 309.3h3.6v3.7h-3.6zM1390.9 312.3h3.6v3.7h-3.6zM1376.1 315.4h3.6v3.7h-3.6zM1390.9 315.4h3.6v3.7h-3.6zM1376.1 318.5h3.6v3.7h-3.6zM1390.9 318.5h3.6v3.7h-3.6zM1376.1 321.5h3.6v3.7h-3.6zM1390.9 321.5h3.6v3.7h-3.6zM1376.1 324.6h3.6v3.7h-3.6zM1390.9 324.6h3.6v3.7h-3.6zM1376.1 327.7h3.6v3.7h-3.6zM1376.1 330.7h3.6v3.7h-3.6zM1393.9 330.7h3.6v3.7h-3.6zM1376.1 333.8h3.6v3.7h-3.6zM1390.9 333.8h3.6v3.7h-3.6zM1343.4 336.9h15.5v3.7h-15.5zM1373.1 336.9h3.6v3.7h-3.6zM1390.9 336.9h3.6v3.7h-3.6zM1343.4 340h3.6v3.7h-3.6zM1358.2 340h9.5v3.7h-9.5zM1370.1 340h3.6v3.7h-3.6zM1390.9 340h3.6v3.7h-3.6zM1340.4 343h6.5v3.7h-6.5zM1340.4 346.1h3.6v3.7h-3.6zM1337.4 361.4h3.6v3.7h-3.6zM1337.4 364.5h3.6v3.7h-3.6zM1334.5 367.6h3.6v3.7h-3.6zM1331.5 370.6h6.5v3.7h-6.5zM1331.5 373.7h6.5v3.7h-6.5zM1393.9 392.1h3.6v3.7h-3.6zM1393.9 395.2h3.6v3.7h-3.6zM1396.9 407.5h3.6v3.7h-3.6zM1396.9 410.5h3.6v3.7h-3.6zM1399.9 416.7h3.6v3.7h-3.6zM1399.9 419.7h3.6v3.7h-3.6zM1402.8 432h3.6v3.7h-3.6zM1405.8 444.3h3.6v3.7h-3.6zM1405.8 447.3h3.6v3.7h-3.6zM1408.8 462.7h3.6v3.7h-3.6zM1408.8 465.8h3.6v3.7h-3.6zM1411.8 468.8h3.6v3.7h-3.6zM1411.8 471.9h3.6v3.7h-3.6zM1411.8 475h3.6v3.7h-3.6zM1411.8 478h3.6v3.7h-3.6zM1411.8 481.1h3.6v3.7h-3.6zM1414.7 487.2h3.6v3.7h-3.6zM1414.7 490.3h3.6v3.7h-3.6zM1414.7 493.4h3.6v3.7h-3.6zM1414.7 496.4h3.6v3.7h-3.6zM1417.7 499.5h3.6v3.7h-3.6zM1417.7 502.6h3.6v3.7h-3.6zM1417.7 505.6h3.6v3.7h-3.6zM1417.7 508.7h3.6v3.7h-3.6zM1417.7 511.8h3.6v3.7h-3.6zM1417.7 514.9h3.6v3.7h-3.6zM1417.7 517.9h3.6v3.7h-3.6zM1417.7 521h6.5v3.7h-6.5zM1420.7 524.1h3.6v3.7h-3.6zM1420.7 527.1h6.5v3.7h-6.5zM1420.7 530.2h6.5v3.7h-6.5zM1423.6 533.3h6.5v3.7h-6.5zM1423.6 536.3h6.5v3.7h-6.5zM1426.6 539.4h6.5v3.7h-6.5zM1426.6 542.5h6.5v3.7h-6.5zM1426.6 545.5h6.5v3.7h-6.5zM1429.6 548.6h3.6v3.7h-3.6zM1429.6 551.7h3.6v3.7h-3.6zM1429.6 554.7h3.6v3.7h-3.6zM1429.6 557.8h6.5v3.7h-6.5zM1429.6 560.9h6.5v3.7h-6.5zM1429.6 564h3.6v3.7h-3.6zM1429.6 567h6.5v3.7h-6.5zM1429.6 570.1h6.5v3.7h-6.5zM1432.6 573.2h3.6v3.7h-3.6zM1432.6 576.2h3.6v3.7h-3.6zM1432.6 579.3h3.6v3.7h-3.6zM1432.6 582.4h3.6v3.7h-3.6zM1432.6 585.4h3.6v3.7h-3.6zM1432.6 588.5h3.6v3.7h-3.6zM1432.6 591.6h6.5v3.7h-6.5zM1435.5 594.6h3.6v3.7h-3.6zM1435.5 597.7h3.6v3.7h-3.6zM1435.5 600.8h3.6v3.7h-3.6zM1435.5 603.8h6.5v3.7h-6.5zM1438.5 606.9h3.6v3.7h-3.6zM1438.5 610h3.6v3.7h-3.6zM1438.5 613h3.6v3.7h-3.6zM1438.5 616.1h6.5v3.7h-6.5zM1441.5 619.2h3.6v3.7h-3.6zM1441.5 622.3h3.6v3.7h-3.6zM1441.5 625.3h6.5v3.7h-6.5zM1444.4 628.4h3.6v3.7h-3.6zM1444.4 631.5h6.5v3.7h-6.5zM1447.4 634.5h6.5v3.7h-6.5zM1450.4 637.6h3.6v3.7h-3.6zM1450.4 640.7h6.5v3.7h-6.5zM1453.4 643.7h3.6v3.7h-3.6zM1453.4 646.8h6.5v3.7h-6.5zM1456.3 649.9h6.5v3.7h-6.5zM1459.3 652.9h3.6v3.7h-3.6zM1459.3 656h6.5v3.7h-6.5zM1462.3 659.1h6.5v3.7h-6.5zM1462.3 662.1h6.5v3.7h-6.5zM1462.3 665.2h9.5v3.7h-9.5zM1462.3 668.3h9.5v3.7h-9.5zM1465.3 671.3h9.5v3.7h-9.5zM1465.3 674.4h9.5v3.7h-9.5zM1465.3 677.5h12.5v3.7h-12.5zM1468.2 680.6h9.5v3.7h-9.5zM1468.2 683.6h12.5v3.7h-12.5zM1471.2 686.7h15.5v3.7h-15.5zM1495 686.7h9.5v3.7h-9.5zM1474.2 689.8h24.4v3.7h-24.4zM1503.9 689.8h9.5v3.7h-9.5zM1477.1 692.8h18.4v3.7h-18.4zM1512.8 692.8h3.6v3.7h-3.6zM1515.8 695.9h3.6v3.7h-3.6zM1518.8 702h3.6v3.7h-3.6zM1518.8 705.1h3.6v3.7h-3.6zM1521.7 711.2h3.6v3.7h-3.6zM1521.7 714.3h3.6v3.7h-3.6zM1521.7 717.4h3.6v3.7h-3.6zM1521.7 720.4h3.6v3.7h-3.6zM1521.7 723.5h3.6v3.7h-3.6zM1521.7 726.6h3.6v3.7h-3.6zM1524.7 729.6h3.6v3.7h-3.6zM1524.7 732.7h3.6v3.7h-3.6zM1524.7 735.8h3.6v3.7h-3.6zM1524.7 738.9h3.6v3.7h-3.6zM1527.7 741.9h3.6v3.7h-3.6zM1527.7 745h3.6v3.7h-3.6zM1527.7 748.1h3.6v3.7h-3.6zM1530.7 751.1h3.6v3.7h-3.6zM1530.7 754.2h3.6v3.7h-3.6zM1533.6 757.3h3.6v3.7h-3.6zM1536.6 760.3h3.6v3.7h-3.6zM1536.6 763.4h3.6v3.7h-3.6zM1539.6 766.5h3.6v3.7h-3.6zM1539.6 769.5h3.6v3.7h-3.6zM1542.5 775.7h3.6v3.7h-3.6zM1545.5 778.7h3.6v3.7h-3.6zM1545.5 781.8h3.6v3.7h-3.6zM1548.5 784.9h3.6v3.7h-3.6zM1548.5 788h3.6v3.7h-3.6zM1551.5 791h3.6v3.7h-3.6zM1551.5 794.1h3.6v3.7h-3.6zM1554.4 797.2h3.6v3.7h-3.6zM1554.4 800.2h6.5v3.7h-6.5zM1557.4 803.3h3.6v3.7h-3.6zM1560.4 806.4h3.6v3.7h-3.6zM1560.4 809.4h3.6v3.7h-3.6zM1563.3 812.5h3.6v3.7h-3.6zM1563.3 815.6h3.6v3.7h-3.6zM1563.3 818.6h3.6v3.7h-3.6zM1563.3 821.7h3.6v3.7h-3.6zM1566.3 824.8h3.6v3.7h-3.6zM1566.3 827.8h3.6v3.7h-3.6zM1566.3 830.9h3.6v3.7h-3.6zM1569.3 840.1h3.6v3.7h-3.6zM1569.3 843.2h3.6v3.7h-3.6zM1569.3 846.3h3.6v3.7h-3.6zM1569.3 849.3h3.6v3.7h-3.6zM1569.3 852.4h3.6v3.7h-3.6zM1569.3 855.5h3.6v3.7h-3.6zM1569.3 858.5h3.6v3.7h-3.6zM1569.3 861.6h3.6v3.7h-3.6zM1569.3 864.7h3.6v3.7h-3.6zM1569.3 867.7h3.6v3.7h-3.6zM1569.3 870.8h3.6v3.7h-3.6zM1569.3 873.9h3.6v3.7h-3.6zM1569.3 876.9h3.6v3.7h-3.6zM1569.3 880h3.6v3.7h-3.6zM1569.3 883.1h3.6v3.7h-3.6zM1566.3 892.3h3.6v3.7h-3.6zM1619.8 904.6h3.6v3.7h-3.6zM1619.8 907.6h6.5v3.7h-6.5zM1619.8 910.7h9.5v3.7h-9.5zM1619.8 913.8h12.5v3.7h-12.5zM1619.8 916.8h15.5v3.7h-15.5zM1619.8 919.9h6.5v3.7h-6.5zM1628.7 919.9h6.5v3.7h-6.5zM1622.8 923h3.6v3.7h-3.6zM1631.7 923h6.5v3.7h-6.5zM1622.8 926h6.5v3.7h-6.5zM1634.7 926h6.5v3.7h-6.5zM1622.8 929.1h6.5v3.7h-6.5zM1637.7 929.1h6.5v3.7h-6.5zM1622.8 932.2h6.5v3.7h-6.5zM1640.6 932.2h6.5v3.7h-6.5zM1622.8 935.2h6.5v3.7h-6.5zM1640.6 935.2h6.5v3.7h-6.5zM1622.8 938.3h9.5v3.7h-9.5zM1640.6 938.3h6.5v3.7h-6.5zM1625.8 941.4h6.5v3.7h-6.5zM1643.6 941.4h3.6v3.7h-3.6zM1625.8 944.4h6.5v3.7h-6.5zM1646.6 944.4h3.6v3.7h-3.6zM1625.8 947.5h3.6v3.7h-3.6zM1646.6 947.5h3.6v3.7h-3.6zM1625.8 950.6h6.5v3.7h-6.5zM1646.6 950.6h6.5v3.7h-6.5zM1628.7 953.7h3.6v3.7h-3.6zM1646.6 953.7h6.5v3.7h-6.5zM1628.7 956.7h3.6v3.7h-3.6zM1643.6 956.7h6.5v3.7h-6.5zM1625.8 959.8h3.6v3.7h-3.6zM1643.6 959.8h6.5v3.7h-6.5zM1625.8 962.9h3.6v3.7h-3.6zM1643.6 962.9h3.6v3.7h-3.6zM1625.8 965.9h3.6v3.7h-3.6zM1643.6 965.9h3.6v3.7h-3.6zM1625.8 969h3.6v3.7h-3.6zM1640.6 969h6.5v3.7h-6.5zM1643.6 972.1h3.6v3.7h-3.6z"/>
<path fill="#6847f8" d="M1373.1 201.9h3.6v3.7h-3.6zM1373.1 204.9h3.6v3.7h-3.6zM1373.1 208h3.6v3.7h-3.6zM1367.2 257.1h3.6v3.7h-3.6zM1361.2 260.2h3.6v3.7h-3.6zM1358.2 263.2h3.6v3.7h-3.6zM1355.3 269.4h3.6v3.7h-3.6zM1352.3 272.4h3.6v3.7h-3.6zM1385 272.4h3.6v3.7h-3.6zM1379.1 275.5h3.6v3.7h-3.6zM1388 275.5h3.6v3.7h-3.6zM1340.4 278.6h3.6v3.7h-3.6zM1349.3 278.6h3.6v3.7h-3.6zM1340.4 281.6h3.6v3.7h-3.6zM1349.3 281.6h3.6v3.7h-3.6zM1390.9 281.6h3.6v3.7h-3.6zM1340.4 284.7h3.6v3.7h-3.6zM1349.3 284.7h3.6v3.7h-3.6zM1390.9 284.7h3.6v3.7h-3.6zM1340.4 287.8h3.6v3.7h-3.6zM1349.3 287.8h3.6v3.7h-3.6zM1390.9 287.8h3.6v3.7h-3.6zM1340.4 290.9h3.6v3.7h-3.6zM1349.3 290.9h3.6v3.7h-3.6zM1390.9 290.9h3.6v3.7h-3.6zM1340.4 293.9h3.6v3.7h-3.6zM1349.3 293.9h3.6v3.7h-3.6zM1376.1 293.9h3.6v3.7h-3.6zM1390.9 293.9h3.6v3.7h-3.6zM1340.4 297h3.6v3.7h-3.6zM1349.3 297h3.6v3.7h-3.6zM1376.1 297h3.6v3.7h-3.6zM1390.9 297h3.6v3.7h-3.6zM1340.4 300.1h3.6v3.7h-3.6zM1349.3 300.1h3.6v3.7h-3.6zM1376.1 300.1h3.6v3.7h-3.6zM1390.9 300.1h3.6v3.7h-3.6zM1340.4 303.1h3.6v3.7h-3.6zM1349.3 303.1h3.6v3.7h-3.6zM1376.1 303.1h3.6v3.7h-3.6zM1390.9 303.1h3.6v3.7h-3.6zM1340.4 306.2h6.5v3.7h-6.5zM1349.3 306.2h3.6v3.7h-3.6zM1376.1 306.2h3.6v3.7h-3.6zM1390.9 306.2h3.6v3.7h-3.6zM1340.4 309.3h6.5v3.7h-6.5zM1349.3 309.3h3.6v3.7h-3.6zM1376.1 309.3h3.6v3.7h-3.6zM1337.4 312.3h15.5v3.7h-15.5zM1376.1 312.3h3.6v3.7h-3.6zM1340.4 315.4h9.5v3.7h-9.5zM1340.4 318.5h9.5v3.7h-9.5zM1340.4 321.5h9.5v3.7h-9.5zM1393.9 321.5h3.6v3.7h-3.6zM1340.4 324.6h6.5v3.7h-6.5zM1393.9 324.6h3.6v3.7h-3.6zM1340.4 327.7h6.5v3.7h-6.5zM1373.1 327.7h3.6v3.7h-3.6zM1393.9 327.7h3.6v3.7h-3.6zM1343.4 330.7h3.6v3.7h-3.6zM1373.1 330.7h3.6v3.7h-3.6zM1343.4 333.8h12.5v3.7h-12.5zM1373.1 333.8h3.6v3.7h-3.6zM1393.9 333.8h3.6v3.7h-3.6zM1340.4 336.9h3.6v3.7h-3.6zM1358.2 336.9h6.5v3.7h-6.5zM1370.1 336.9h3.6v3.7h-3.6zM1340.4 340h3.6v3.7h-3.6zM1367.2 340h3.6v3.7h-3.6zM1337.4 343h3.6v3.7h-3.6zM1337.4 346.1h3.6v3.7h-3.6zM1337.4 349.2h3.6v3.7h-3.6zM1393.9 349.2h3.6v3.7h-3.6zM1337.4 352.2h3.6v3.7h-3.6zM1393.9 352.2h3.6v3.7h-3.6zM1337.4 355.3h3.6v3.7h-3.6zM1393.9 355.3h3.6v3.7h-3.6zM1337.4 358.4h3.6v3.7h-3.6zM1393.9 358.4h3.6v3.7h-3.6zM1393.9 361.4h3.6v3.7h-3.6zM1334.5 364.5h3.6v3.7h-3.6zM1331.5 367.6h3.6v3.7h-3.6zM1393.9 367.6h3.6v3.7h-3.6zM1393.9 370.6h3.6v3.7h-3.6zM1393.9 373.7h3.6v3.7h-3.6zM1393.9 376.8h3.6v3.7h-3.6zM1393.9 379.8h3.6v3.7h-3.6zM1393.9 382.9h3.6v3.7h-3.6zM1393.9 386h3.6v3.7h-3.6zM1393.9 389h3.6v3.7h-3.6zM1396.9 401.3h3.6v3.7h-3.6zM1396.9 404.4h3.6v3.7h-3.6zM1399.9 413.6h3.6v3.7h-3.6zM1402.8 425.9h3.6v3.7h-3.6zM1402.8 428.9h3.6v3.7h-3.6zM1405.8 441.2h3.6v3.7h-3.6zM1408.8 459.6h3.6v3.7h-3.6zM1414.7 481.1h3.6v3.7h-3.6zM1414.7 484.2h3.6v3.7h-3.6zM1417.7 490.3h3.6v3.7h-3.6zM1417.7 493.4h3.6v3.7h-3.6zM1417.7 496.4h3.6v3.7h-3.6zM1420.7 502.6h3.6v3.7h-3.6zM1420.7 505.6h3.6v3.7h-3.6zM1420.7 508.7h3.6v3.7h-3.6zM1420.7 511.8h3.6v3.7h-3.6zM1420.7 514.9h6.5v3.7h-6.5zM1420.7 517.9h6.5v3.7h-6.5zM1423.6 521h3.6v3.7h-3.6zM1423.6 524.1h6.5v3.7h-6.5zM1426.6 527.1h3.6v3.7h-3.6zM1426.6 530.2h3.6v3.7h-3.6zM1429.6 533.3h3.6v3.7h-3.6zM1429.6 536.3h3.6v3.7h-3.6zM1432.6 539.4h3.6v3.7h-3.6zM1432.6 542.5h3.6v3.7h-3.6zM1432.6 545.5h3.6v3.7h-3.6zM1432.6 548.6h3.6v3.7h-3.6zM1432.6 551.7h3.6v3.7h-3.6zM1432.6 554.7h3.6v3.7h-3.6zM1432.6 564h3.6v3.7h-3.6zM1435.5 573.2h3.6v3.7h-3.6zM1435.5 576.2h3.6v3.7h-3.6zM1435.5 579.3h3.6v3.7h-3.6zM1435.5 582.4h3.6v3.7h-3.6zM1435.5 585.4h3.6v3.7h-3.6zM1435.5 588.5h3.6v3.7h-3.6zM1438.5 594.6h3.6v3.7h-3.6zM1438.5 597.7h3.6v3.7h-3.6zM1438.5 600.8h3.6v3.7h-3.6zM1441.5 603.8h3.6v3.7h-3.6zM1441.5 606.9h3.6v3.7h-3.6zM1441.5 610h3.6v3.7h-3.6zM1441.5 613h3.6v3.7h-3.6zM1444.4 616.1h3.6v3.7h-3.6zM1444.4 619.2h3.6v3.7h-3.6zM1444.4 622.3h3.6v3.7h-3.6zM1447.4 625.3h3.6v3.7h-3.6zM1447.4 628.4h6.5v3.7h-6.5zM1450.4 631.5h3.6v3.7h-3.6zM1453.4 634.5h3.6v3.7h-3.6zM1453.4 637.6h3.6v3.7h-3.6zM1456.3 640.7h3.6v3.7h-3.6zM1456.3 643.7h3.6v3.7h-3.6zM1459.3 646.8h3.6v3.7h-3.6zM1462.3 649.9h3.6v3.7h-3.6zM1462.3 652.9h6.5v3.7h-6.5zM1465.3 656h6.5v3.7h-6.5zM1468.2 659.1h3.6v3.7h-3.6zM1468.2 662.1h6.5v3.7h-6.5zM1471.2 665.2h6.5v3.7h-6.5zM1471.2 668.3h6.5v3.7h-6.5zM1474.2 671.3h6.5v3.7h-6.5zM1474.2 674.4h9.5v3.7h-9.5zM1477.1 677.5h9.5v3.7h-9.5zM1477.1 680.6h12.5v3.7h-12.5zM1480.1 683.6h24.4v3.7h-24.4zM1486.1 686.7h9.5v3.7h-9.5zM1503.9 686.7h9.5v3.7h-9.5zM1512.8 689.8h3.6v3.7h-3.6zM1515.8 692.8h3.6v3.7h-3.6zM1518.8 699h3.6v3.7h-3.6zM1521.7 705.1h3.6v3.7h-3.6zM1521.7 708.2h3.6v3.7h-3.6zM1524.7 714.3h3.6v3.7h-3.6zM1524.7 717.4h3.6v3.7h-3.6zM1524.7 720.4h3.6v3.7h-3.6zM1524.7 723.5h3.6v3.7h-3.6zM1524.7 726.6h3.6v3.7h-3.6zM1527.7 732.7h3.6v3.7h-3.6zM1527.7 735.8h3.6v3.7h-3.6zM1527.7 738.9h3.6v3.7h-3.6zM1530.7 741.9h3.6v3.7h-3.6zM1530.7 745h3.6v3.7h-3.6zM1530.7 748.1h3.6v3.7h-3.6zM1533.6 751.1h3.6v3.7h-3.6zM1533.6 754.2h3.6v3.7h-3.6zM1536.6 757.3h3.6v3.7h-3.6zM1539.6 763.4h3.6v3.7h-3.6zM1542.5 769.5h3.6v3.7h-3.6zM1542.5 772.6h3.6v3.7h-3.6zM1545.5 775.7h3.6v3.7h-3.6zM1548.5 781.8h3.6v3.7h-3.6zM1551.5 784.9h3.6v3.7h-3.6zM1551.5 788h3.6v3.7h-3.6zM1554.4 791h3.6v3.7h-3.6zM1554.4 794.1h6.5v3.7h-6.5zM1557.4 797.2h3.6v3.7h-3.6zM1560.4 800.2h3.6v3.7h-3.6zM1560.4 803.3h3.6v3.7h-3.6zM1563.3 806.4h3.6v3.7h-3.6zM1563.3 809.4h6.5v3.7h-6.5zM1566.3 812.5h3.6v3.7h-3.6zM1566.3 815.6h3.6v3.7h-3.6zM1566.3 818.6h3.6v3.7h-3.6zM1566.3 821.7h3.6v3.7h-3.6zM1569.3 824.8h3.6v3.7h-3.6zM1569.3 827.8h3.6v3.7h-3.6zM1569.3 830.9h3.6v3.7h-3.6zM1569.3 834h3.6v3.7h-3.6zM1569.3 837h3.6v3.7h-3.6zM1572.3 855.5h3.6v3.7h-3.6zM1572.3 861.6h3.6v3.7h-3.6zM1572.3 864.7h3.6v3.7h-3.6zM1572.3 867.7h3.6v3.7h-3.6zM1572.3 870.8h3.6v3.7h-3.6zM1572.3 873.9h3.6v3.7h-3.6zM1572.3 876.9h3.6v3.7h-3.6zM1572.3 880h3.6v3.7h-3.6zM1569.3 886.1h3.6v3.7h-3.6zM1569.3 889.2h3.6v3.7h-3.6zM1569.3 892.3h3.6v3.7h-3.6zM1569.3 895.3h3.6v3.7h-3.6zM1613.9 895.3h27.4v3.7h-27.4zM1569.3 898.4h3.6v3.7h-3.6zM1613.9 898.4h30.3v3.7h-30.3zM1569.3 901.5h3.6v3.7h-3.6zM1613.9 901.5h33.3v3.7h-33.3zM1616.9 904.6h3.6v3.7h-3.6zM1622.8 904.6h24.4v3.7h-24.4zM1616.9 907.6h3.6v3.7h-3.6zM1625.8 907.6h21.4v3.7h-21.4zM1616.9 910.7h3.6v3.7h-3.6zM1628.7 910.7h15.5v3.7h-15.5zM1616.9 913.8h3.6v3.7h-3.6zM1631.7 913.8h12.5v3.7h-12.5zM1616.9 916.8h3.6v3.7h-3.6zM1634.7 916.8h9.5v3.7h-9.5zM1616.9 919.9h3.6v3.7h-3.6zM1634.7 919.9h9.5v3.7h-9.5zM1619.8 923h3.6v3.7h-3.6zM1637.7 923h9.5v3.7h-9.5zM1619.8 926h3.6v3.7h-3.6zM1640.6 926h9.5v3.7h-9.5zM1619.8 929.1h3.6v3.7h-3.6zM1643.6 929.1h6.5v3.7h-6.5zM1619.8 932.2h3.6v3.7h-3.6zM1646.6 932.2h6.5v3.7h-6.5zM1619.8 935.2h3.6v3.7h-3.6zM1646.6 935.2h6.5v3.7h-6.5zM1619.8 938.3h3.6v3.7h-3.6zM1646.6 938.3h3.6v3.7h-3.6zM1622.8 941.4h3.6v3.7h-3.6zM1646.6 941.4h3.6v3.7h-3.6zM1622.8 944.4h3.6v3.7h-3.6zM1649.5 944.4h3.6v3.7h-3.6zM1622.8 947.5h3.6v3.7h-3.6zM1649.5 947.5h3.6v3.7h-3.6zM1622.8 950.6h3.6v3.7h-3.6zM1652.5 950.6h3.6v3.7h-3.6zM1625.8 953.7h3.6v3.7h-3.6zM1652.5 953.7h3.6v3.7h-3.6zM1625.8 956.7h3.6v3.7h-3.6zM1649.5 956.7h3.6v3.7h-3.6zM1649.5 959.8h3.6v3.7h-3.6zM1622.8 962.9h3.6v3.7h-3.6zM1646.6 962.9h3.6v3.7h-3.6zM1646.6 965.9h3.6v3.7h-3.6zM1646.6 969h3.6v3.7h-3.6zM1646.6 972.1h3.6v3.7h-3.6zM1643.6 975.1h3.6v3.7h-3.6z"/>
<path fill="#6352f8" d="M1337.4 201.9h3.6v3.7h-3.6zM1337.4 204.9h3.6v3.7h-3.6zM1337.4 208h3.6v3.7h-3.6zM1337.4 211.1h3.6v3.7h-3.6zM1373.1 211.1h3.6v3.7h-3.6zM1337.4 214.1h3.6v3.7h-3.6zM1337.4 217.2h3.6v3.7h-3.6zM1337.4 220.3h3.6v3.7h-3.6zM1337.4 223.3h3.6v3.7h-3.6zM1337.4 226.4h3.6v3.7h-3.6zM1337.4 229.5h3.6v3.7h-3.6zM1337.4 232.6h3.6v3.7h-3.6zM1337.4 235.6h3.6v3.7h-3.6zM1337.4 238.7h3.6v3.7h-3.6zM1337.4 241.8h3.6v3.7h-3.6zM1337.4 244.8h3.6v3.7h-3.6zM1337.4 247.9h3.6v3.7h-3.6zM1337.4 251h3.6v3.7h-3.6zM1337.4 254h3.6v3.7h-3.6zM1337.4 257.1h3.6v3.7h-3.6zM1370.1 257.1h3.6v3.7h-3.6zM1337.4 260.2h3.6v3.7h-3.6zM1364.2 260.2h3.6v3.7h-3.6zM1337.4 263.2h3.6v3.7h-3.6zM1337.4 266.3h3.6v3.7h-3.6zM1358.2 266.3h3.6v3.7h-3.6zM1337.4 269.4h3.6v3.7h-3.6zM1385 269.4h6.5v3.7h-6.5zM1337.4 272.4h3.6v3.7h-3.6zM1355.3 272.4h3.6v3.7h-3.6zM1379.1 272.4h6.5v3.7h-6.5zM1388 272.4h3.6v3.7h-3.6zM1337.4 275.5h3.6v3.7h-3.6zM1352.3 275.5h3.6v3.7h-3.6zM1390.9 275.5h3.6v3.7h-3.6zM1337.4 278.6h3.6v3.7h-3.6zM1390.9 278.6h3.6v3.7h-3.6zM1337.4 281.6h3.6v3.7h-3.6zM1376.1 281.6h3.6v3.7h-3.6zM1337.4 284.7h3.6v3.7h-3.6zM1376.1 284.7h3.6v3.7h-3.6zM1337.4 287.8h3.6v3.7h-3.6zM1376.1 287.8h3.6v3.7h-3.6zM1337.4 290.9h3.6v3.7h-3.6zM1376.1 290.9h3.6v3.7h-3.6zM1337.4 293.9h3.6v3.7h-3.6zM1337.4 297h3.6v3.7h-3.6zM1337.4 300.1h3.6v3.7h-3.6zM1337.4 303.1h3.6v3.7h-3.6zM1337.4 306.2h3.6v3.7h-3.6zM1337.4 309.3h3.6v3.7h-3.6zM1393.9 312.3h3.6v3.7h-3.6zM1337.4 315.4h3.6v3.7h-3.6zM1349.3 315.4h3.6v3.7h-3.6zM1373.1 315.4h3.6v3.7h-3.6zM1393.9 315.4h3.6v3.7h-3.6zM1337.4 318.5h3.6v3.7h-3.6zM1349.3 318.5h3.6v3.7h-3.6zM1373.1 318.5h3.6v3.7h-3.6zM1393.9 318.5h3.6v3.7h-3.6zM1337.4 321.5h3.6v3.7h-3.6zM1349.3 321.5h3.6v3.7h-3.6zM1373.1 321.5h3.6v3.7h-3.6zM1337.4 324.6h3.6v3.7h-3.6zM1346.4 324.6h6.5v3.7h-6.5zM1373.1 324.6h3.6v3.7h-3.6zM1337.4 327.7h3.6v3.7h-3.6zM1346.4 327.7h6.5v3.7h-6.5zM1340.4 330.7h3.6v3.7h-3.6zM1346.4 330.7h9.5v3.7h-9.5zM1340.4 333.8h3.6v3.7h-3.6zM1355.3 333.8h6.5v3.7h-6.5zM1370.1 333.8h3.6v3.7h-3.6zM1337.4 336.9h3.6v3.7h-3.6zM1364.2 336.9h6.5v3.7h-6.5zM1393.9 336.9h3.6v3.7h-3.6zM1337.4 340h3.6v3.7h-3.6zM1393.9 340h3.6v3.7h-3.6zM1393.9 343h3.6v3.7h-3.6zM1393.9 346.1h3.6v3.7h-3.6zM1334.5 358.4h3.6v3.7h-3.6zM1334.5 361.4h3.6v3.7h-3.6zM1331.5 364.5h3.6v3.7h-3.6zM1393.9 364.5h3.6v3.7h-3.6zM1396.9 395.2h3.6v3.7h-3.6zM1396.9 398.3h3.6v3.7h-3.6zM1399.9 410.5h3.6v3.7h-3.6zM1402.8 419.7h3.6v3.7h-3.6zM1402.8 422.8h3.6v3.7h-3.6zM1405.8 438.1h3.6v3.7h-3.6zM1408.8 453.5h3.6v3.7h-3.6zM1408.8 456.6h3.6v3.7h-3.6zM1411.8 465.8h3.6v3.7h-3.6zM1414.7 475h3.6v3.7h-3.6zM1414.7 478h3.6v3.7h-3.6zM1417.7 487.2h3.6v3.7h-3.6zM1420.7 496.4h3.6v3.7h-3.6zM1420.7 499.5h3.6v3.7h-3.6zM1423.6 505.6h3.6v3.7h-3.6zM1423.6 508.7h3.6v3.7h-3.6zM1423.6 511.8h3.6v3.7h-3.6zM1426.6 517.9h3.6v3.7h-3.6zM1426.6 521h3.6v3.7h-3.6zM1429.6 524.1h3.6v3.7h-3.6zM1429.6 527.1h3.6v3.7h-3.6zM1429.6 530.2h3.6v3.7h-3.6zM1432.6 533.3h3.6v3.7h-3.6zM1432.6 536.3h3.6v3.7h-3.6zM1435.5 539.4h3.6v3.7h-3.6zM1435.5 542.5h3.6v3.7h-3.6zM1435.5 557.8h3.6v3.7h-3.6zM1435.5 560.9h3.6v3.7h-3.6zM1435.5 564h3.6v3.7h-3.6zM1435.5 567h3.6v3.7h-3.6zM1435.5 570.1h3.6v3.7h-3.6zM1438.5 579.3h3.6v3.7h-3.6zM1438.5 582.4h3.6v3.7h-3.6zM1438.5 585.4h3.6v3.7h-3.6zM1438.5 588.5h3.6v3.7h-3.6zM1438.5 591.6h3.6v3.7h-3.6zM1441.5 597.7h3.6v3.7h-3.6zM1441.5 600.8h3.6v3.7h-3.6zM1444.4 606.9h3.6v3.7h-3.6zM1444.4 610h3.6v3.7h-3.6zM1444.4 613h3.6v3.7h-3.6zM1447.4 616.1h3.6v3.7h-3.6zM1447.4 619.2h3.6v3.7h-3.6zM1447.4 622.3h6.5v3.7h-6.5zM1450.4 625.3h3.6v3.7h-3.6zM1453.4 628.4h3.6v3.7h-3.6zM1453.4 631.5h3.6v3.7h-3.6zM1456.3 634.5h3.6v3.7h-3.6zM1456.3 637.6h3.6v3.7h-3.6zM1459.3 640.7h3.6v3.7h-3.6zM1459.3 643.7h6.5v3.7h-6.5zM1462.3 646.8h6.5v3.7h-6.5zM1465.3 649.9h3.6v3.7h-3.6zM1468.2 652.9h3.6v3.7h-3.6zM1471.2 656h3.6v3.7h-3.6zM1471.2 659.1h6.5v3.7h-6.5zM1474.2 662.1h3.6v3.7h-3.6zM1477.1 665.2h3.6v3.7h-3.6zM1477.1 668.3h6.5v3.7h-6.5zM1480.1 671.3h6.5v3.7h-6.5zM1483.1 674.4h6.5v3.7h-6.5zM1486.1 677.5h9.5v3.7h-9.5zM1489 680.6h15.5v3.7h-15.5zM1503.9 683.6h9.5v3.7h-9.5zM1512.8 686.7h3.6v3.7h-3.6zM1518.8 695.9h3.6v3.7h-3.6zM1521.7 699h3.6v3.7h-3.6zM1521.7 702h3.6v3.7h-3.6zM1524.7 708.2h3.6v3.7h-3.6zM1524.7 711.2h3.6v3.7h-3.6zM1527.7 717.4h3.6v3.7h-3.6zM1527.7 720.4h3.6v3.7h-3.6zM1527.7 723.5h3.6v3.7h-3.6zM1527.7 726.6h3.6v3.7h-3.6zM1527.7 729.6h3.6v3.7h-3.6zM1530.7 735.8h3.6v3.7h-3.6zM1530.7 738.9h3.6v3.7h-3.6zM1533.6 745h3.6v3.7h-3.6zM1533.6 748.1h3.6v3.7h-3.6zM1536.6 754.2h3.6v3.7h-3.6zM1539.6 757.3h3.6v3.7h-3.6zM1539.6 760.3h3.6v3.7h-3.6zM1542.5 763.4h3.6v3.7h-3.6zM1542.5 766.5h3.6v3.7h-3.6zM1545.5 769.5h3.6v3.7h-3.6zM1545.5 772.6h3.6v3.7h-3.6zM1548.5 775.7h3.6v3.7h-3.6zM1548.5 778.7h3.6v3.7h-3.6zM1551.5 781.8h3.6v3.7h-3.6zM1554.4 784.9h3.6v3.7h-3.6zM1554.4 788h3.6v3.7h-3.6zM1557.4 791h3.6v3.7h-3.6zM1560.4 794.1h3.6v3.7h-3.6zM1560.4 797.2h6.5v3.7h-6.5zM1563.3 800.2h3.6v3.7h-3.6zM1563.3 803.3h6.5v3.7h-6.5zM1566.3 806.4h6.5v3.7h-6.5zM1569.3 809.4h6.5v3.7h-6.5zM1569.3 812.5h9.5v3.7h-9.5zM1569.3 815.6h9.5v3.7h-9.5zM1569.3 818.6h6.5v3.7h-6.5zM1569.3 821.7h3.6v3.7h-3.6zM1572.3 827.8h3.6v3.7h-3.6zM1572.3 830.9h3.6v3.7h-3.6zM1572.3 834h3.6v3.7h-3.6zM1572.3 837h3.6v3.7h-3.6zM1572.3 840.1h3.6v3.7h-3.6zM1572.3 843.2h3.6v3.7h-3.6zM1572.3 846.3h3.6v3.7h-3.6zM1572.3 849.3h3.6v3.7h-3.6zM1572.3 852.4h3.6v3.7h-3.6zM1572.3 858.5h3.6v3.7h-3.6zM1572.3 883.1h3.6v3.7h-3.6zM1572.3 886.1h3.6v3.7h-3.6zM1572.3 889.2h3.6v3.7h-3.6zM1610.9 889.2h27.4v3.7h-27.4zM1572.3 892.3h3.6v3.7h-3.6zM1610.9 892.3h30.3v3.7h-30.3zM1572.3 895.3h3.6v3.7h-3.6zM1610.9 895.3h3.6v3.7h-3.6zM1572.3 898.4h3.6v3.7h-3.6zM1610.9 898.4h3.6v3.7h-3.6zM1569.3 904.6h3.6v3.7h-3.6zM1613.9 904.6h3.6v3.7h-3.6zM1569.3 907.6h3.6v3.7h-3.6zM1613.9 907.6h3.6v3.7h-3.6zM1646.6 907.6h3.6v3.7h-3.6zM1613.9 910.7h3.6v3.7h-3.6zM1643.6 910.7h6.5v3.7h-6.5zM1613.9 913.8h3.6v3.7h-3.6zM1643.6 913.8h9.5v3.7h-9.5zM1643.6 916.8h9.5v3.7h-9.5zM1643.6 919.9h9.5v3.7h-9.5zM1616.9 923h3.6v3.7h-3.6zM1646.6 923h6.5v3.7h-6.5zM1616.9 926h3.6v3.7h-3.6zM1649.5 926h6.5v3.7h-6.5zM1616.9 929.1h3.6v3.7h-3.6zM1649.5 929.1h9.5v3.7h-9.5zM1616.9 932.2h3.6v3.7h-3.6zM1652.5 932.2h6.5v3.7h-6.5zM1616.9 935.2h3.6v3.7h-3.6zM1652.5 935.2h6.5v3.7h-6.5zM1649.5 938.3h6.5v3.7h-6.5zM1619.8 941.4h3.6v3.7h-3.6zM1649.5 941.4h6.5v3.7h-6.5zM1619.8 944.4h3.6v3.7h-3.6zM1652.5 944.4h3.6v3.7h-3.6zM1619.8 947.5h3.6v3.7h-3.6zM1652.5 947.5h3.6v3.7h-3.6zM1619.8 950.6h3.6v3.7h-3.6zM1655.5 950.6h3.6v3.7h-3.6zM1622.8 953.7h3.6v3.7h-3.6zM1622.8 956.7h3.6v3.7h-3.6zM1652.5 956.7h3.6v3.7h-3.6zM1622.8 959.8h3.6v3.7h-3.6zM1619.8 962.9h3.6v3.7h-3.6zM1649.5 962.9h3.6v3.7h-3.6zM1649.5 965.9h3.6v3.7h-3.6zM1649.5 969h3.6v3.7h-3.6zM1649.5 972.1h3.6v3.7h-3.6zM1646.6 975.1h3.6v3.7h-3.6z"/>
<path fill="#5c5df8" d="M1376.1 211.1h3.6v3.7h-3.6zM1373.1 214.1h3.6v3.7h-3.6zM1373.1 217.2h3.6v3.7h-3.6zM1373.1 220.3h3.6v3.7h-3.6zM1373.1 223.3h3.6v3.7h-3.6zM1373.1 226.4h3.6v3.7h-3.6zM1373.1 229.5h3.6v3.7h-3.6zM1373.1 232.6h3.6v3.7h-3.6zM1373.1 235.6h3.6v3.7h-3.6zM1373.1 238.7h3.6v3.7h-3.6zM1373.1 241.8h3.6v3.7h-3.6zM1373.1 244.8h3.6v3.7h-3.6zM1373.1 247.9h3.6v3.7h-3.6zM1373.1 251h3.6v3.7h-3.6zM1373.1 254h3.6v3.7h-3.6zM1367.2 260.2h3.6v3.7h-3.6zM1361.2 263.2h3.6v3.7h-3.6zM1385 266.3h6.5v3.7h-6.5zM1358.2 269.4h3.6v3.7h-3.6zM1382 269.4h3.6v3.7h-3.6zM1390.9 272.4h3.6v3.7h-3.6zM1355.3 275.5h3.6v3.7h-3.6zM1376.1 275.5h3.6v3.7h-3.6zM1352.3 278.6h3.6v3.7h-3.6zM1376.1 278.6h3.6v3.7h-3.6zM1352.3 281.6h3.6v3.7h-3.6zM1352.3 284.7h3.6v3.7h-3.6zM1352.3 287.8h3.6v3.7h-3.6zM1352.3 290.9h3.6v3.7h-3.6zM1352.3 293.9h3.6v3.7h-3.6zM1352.3 297h3.6v3.7h-3.6zM1352.3 300.1h3.6v3.7h-3.6zM1352.3 303.1h3.6v3.7h-3.6zM1373.1 303.1h3.6v3.7h-3.6zM1393.9 303.1h3.6v3.7h-3.6zM1352.3 306.2h3.6v3.7h-3.6zM1373.1 306.2h3.6v3.7h-3.6zM1393.9 306.2h3.6v3.7h-3.6zM1352.3 309.3h3.6v3.7h-3.6zM1373.1 309.3h3.6v3.7h-3.6zM1393.9 309.3h3.6v3.7h-3.6zM1352.3 312.3h3.6v3.7h-3.6zM1373.1 312.3h3.6v3.7h-3.6zM1352.3 315.4h3.6v3.7h-3.6zM1352.3 318.5h3.6v3.7h-3.6zM1352.3 321.5h3.6v3.7h-3.6zM1352.3 324.6h3.6v3.7h-3.6zM1370.1 324.6h3.6v3.7h-3.6zM1396.9 324.6h3.6v3.7h-3.6zM1352.3 327.7h3.6v3.7h-3.6zM1370.1 327.7h3.6v3.7h-3.6zM1396.9 327.7h3.6v3.7h-3.6zM1337.4 330.7h3.6v3.7h-3.6zM1355.3 330.7h3.6v3.7h-3.6zM1370.1 330.7h3.6v3.7h-3.6zM1396.9 330.7h3.6v3.7h-3.6zM1337.4 333.8h3.6v3.7h-3.6zM1361.2 333.8h3.6v3.7h-3.6zM1367.2 333.8h3.6v3.7h-3.6zM1396.9 333.8h3.6v3.7h-3.6zM1334.5 346.1h3.6v3.7h-3.6zM1334.5 349.2h3.6v3.7h-3.6zM1334.5 352.2h3.6v3.7h-3.6zM1334.5 355.3h3.6v3.7h-3.6zM1396.9 358.4h3.6v3.7h-3.6zM1331.5 361.4h3.6v3.7h-3.6zM1396.9 392.1h3.6v3.7h-3.6zM1399.9 404.4h3.6v3.7h-3.6zM1399.9 407.5h3.6v3.7h-3.6zM1402.8 416.7h3.6v3.7h-3.6zM1405.8 432h3.6v3.7h-3.6zM1405.8 435.1h3.6v3.7h-3.6zM1408.8 447.3h3.6v3.7h-3.6zM1408.8 450.4h3.6v3.7h-3.6zM1414.7 471.9h3.6v3.7h-3.6zM1417.7 481.1h3.6v3.7h-3.6zM1417.7 484.2h3.6v3.7h-3.6zM1420.7 493.4h3.6v3.7h-3.6zM1423.6 502.6h3.6v3.7h-3.6zM1426.6 511.8h3.6v3.7h-3.6zM1426.6 514.9h3.6v3.7h-3.6zM1429.6 521h3.6v3.7h-3.6zM1432.6 527.1h3.6v3.7h-3.6zM1432.6 530.2h3.6v3.7h-3.6zM1435.5 545.5h3.6v3.7h-3.6zM1435.5 548.6h3.6v3.7h-3.6zM1435.5 551.7h3.6v3.7h-3.6zM1435.5 554.7h3.6v3.7h-3.6zM1438.5 567h3.6v3.7h-3.6zM1438.5 570.1h3.6v3.7h-3.6zM1438.5 573.2h3.6v3.7h-3.6zM1438.5 576.2h3.6v3.7h-3.6zM1441.5 588.5h3.6v3.7h-3.6zM1441.5 591.6h3.6v3.7h-3.6zM1441.5 594.6h3.6v3.7h-3.6zM1444.4 600.8h3.6v3.7h-3.6zM1444.4 603.8h3.6v3.7h-3.6zM1447.4 610h3.6v3.7h-3.6zM1447.4 613h3.6v3.7h-3.6zM1450.4 616.1h3.6v3.7h-3.6zM1450.4 619.2h3.6v3.7h-3.6zM1453.4 622.3h3.6v3.7h-3.6zM1453.4 625.3h3.6v3.7h-3.6zM1456.3 628.4h3.6v3.7h-3.6zM1456.3 631.5h3.6v3.7h-3.6zM1459.3 634.5h3.6v3.7h-3.6zM1459.3 637.6h3.6v3.7h-3.6zM1462.3 640.7h3.6v3.7h-3.6zM1465.3 643.7h3.6v3.7h-3.6zM1468.2 646.8h3.6v3.7h-3.6zM1468.2 649.9h3.6v3.7h-3.6zM1471.2 652.9h3.6v3.7h-3.6zM1474.2 656h3.6v3.7h-3.6zM1477.1 659.1h3.6v3.7h-3.6zM1477.1 662.1h6.5v3.7h-6.5zM1480.1 665.2h6.5v3.7h-6.5zM1483.1 668.3h6.5v3.7h-6.5zM1486.1 671.3h3.6v3.7h-3.6zM1489 674.4h6.5v3.7h-6.5zM1495 677.5h6.5v3.7h-6.5zM1503.9 680.6h6.5v3.7h-6.5zM1515.8 689.8h3.6v3.7h-3.6zM1518.8 692.8h3.6v3.7h-3.6zM1521.7 695.9h3.6v3.7h-3.6zM1524.7 702h3.6v3.7h-3.6zM1524.7 705.1h3.6v3.7h-3.6zM1527.7 711.2h3.6v3.7h-3.6zM1527.7 714.3h3.6v3.7h-3.6zM1530.7 723.5h3.6v3.7h-3.6zM1530.7 726.6h3.6v3.7h-3.6zM1530.7 729.6h3.6v3.7h-3.6zM1530.7 732.7h3.6v3.7h-3.6zM1533.6 738.9h3.6v3.7h-3.6zM1533.6 741.9h3.6v3.7h-3.6zM1536.6 748.1h3.6v3.7h-3.6zM1536.6 751.1h3.6v3.7h-3.6zM1542.5 760.3h3.6v3.7h-3.6zM1545.5 766.5h3.6v3.7h-3.6zM1548.5 769.5h3.6v3.7h-3.6zM1548.5 772.6h3.6v3.7h-3.6zM1551.5 775.7h3.6v3.7h-3.6zM1551.5 778.7h6.5v3.7h-6.5zM1554.4 781.8h3.6v3.7h-3.6zM1557.4 784.9h3.6v3.7h-3.6zM1557.4 788h6.5v3.7h-6.5zM1581.2 788h21.4v3.7h-21.4zM1560.4 791h3.6v3.7h-3.6zM1578.2 791h24.4v3.7h-24.4zM1563.3 794.1h3.6v3.7h-3.6zM1572.3 794.1h30.3v3.7h-30.3zM1566.3 797.2h39.2v3.7h-39.2zM1566.3 800.2h39.2v3.7h-39.2zM1569.3 803.3h39.2v3.7h-39.2zM1572.3 806.4h36.3v3.7h-36.3zM1575.2 809.4h33.3v3.7h-33.3zM1578.2 812.5h33.3v3.7h-33.3zM1578.2 815.6h33.3v3.7h-33.3zM1575.2 818.6h39.2v3.7h-39.2zM1572.3 821.7h9.5v3.7h-9.5zM1572.3 824.8h6.5v3.7h-6.5zM1575.2 827.8h3.6v3.7h-3.6zM1575.2 834h3.6v3.7h-3.6zM1575.2 837h3.6v3.7h-3.6zM1575.2 840.1h3.6v3.7h-3.6zM1575.2 843.2h3.6v3.7h-3.6zM1575.2 858.5h3.6v3.7h-3.6zM1575.2 861.6h3.6v3.7h-3.6zM1575.2 864.7h3.6v3.7h-3.6zM1575.2 867.7h3.6v3.7h-3.6zM1575.2 870.8h3.6v3.7h-3.6zM1575.2 873.9h3.6v3.7h-3.6zM1575.2 876.9h3.6v3.7h-3.6zM1575.2 880h3.6v3.7h-3.6zM1610.9 883.1h24.4v3.7h-24.4zM1607.9 886.1h30.3v3.7h-30.3zM1607.9 889.2h3.6v3.7h-3.6zM1607.9 892.3h3.6v3.7h-3.6zM1572.3 901.5h3.6v3.7h-3.6zM1610.9 901.5h3.6v3.7h-3.6zM1572.3 904.6h3.6v3.7h-3.6zM1610.9 904.6h3.6v3.7h-3.6zM1572.3 907.6h3.6v3.7h-3.6zM1610.9 907.6h3.6v3.7h-3.6zM1652.5 913.8h3.6v3.7h-3.6zM1613.9 916.8h3.6v3.7h-3.6zM1652.5 916.8h6.5v3.7h-6.5zM1613.9 919.9h3.6v3.7h-3.6zM1652.5 919.9h9.5v3.7h-9.5zM1613.9 923h3.6v3.7h-3.6zM1652.5 923h9.5v3.7h-9.5zM1613.9 926h3.6v3.7h-3.6zM1655.5 926h6.5v3.7h-6.5zM1613.9 929.1h3.6v3.7h-3.6zM1658.5 929.1h6.5v3.7h-6.5zM1658.5 932.2h6.5v3.7h-6.5zM1658.5 935.2h3.6v3.7h-3.6zM1616.9 938.3h3.6v3.7h-3.6zM1655.5 938.3h3.6v3.7h-3.6zM1616.9 941.4h3.6v3.7h-3.6zM1655.5 941.4h3.6v3.7h-3.6zM1616.9 944.4h3.6v3.7h-3.6zM1655.5 944.4h3.6v3.7h-3.6zM1616.9 947.5h3.6v3.7h-3.6zM1655.5 947.5h3.6v3.7h-3.6zM1658.5 950.6h3.6v3.7h-3.6zM1619.8 953.7h3.6v3.7h-3.6zM1655.5 953.7h3.6v3.7h-3.6zM1619.8 956.7h3.6v3.7h-3.6zM1655.5 956.7h3.6v3.7h-3.6zM1619.8 959.8h3.6v3.7h-3.6zM1652.5 959.8h3.6v3.7h-3.6zM1616.9 962.9h3.6v3.7h-3.6zM1652.5 962.9h3.6v3.7h-3.6zM1652.5 965.9h3.6v3.7h-3.6zM1652.5 969h3.6v3.7h-3.6zM1649.5 975.1h3.6v3.7h-3.6z"/>
<path fill="#5468f8" d="M1379.1 211.1h3.6v3.7h-3.6zM1373.1 257.1h3.6v3.7h-3.6zM1370.1 260.2h3.6v3.7h-3.6zM1364.2 263.2h3.6v3.7h-3.6zM1385 263.2h6.5v3.7h-6.5zM1361.2 266.3h3.6v3.7h-3.6zM1382 266.3h3.6v3.7h-3.6zM1390.9 266.3h3.6v3.7h-3.6zM1379.1 269.4h3.6v3.7h-3.6zM1390.9 269.4h3.6v3.7h-3.6zM1376.1 272.4h3.6v3.7h-3.6zM1355.3 278.6h3.6v3.7h-3.6zM1393.9 278.6h3.6v3.7h-3.6zM1393.9 281.6h3.6v3.7h-3.6zM1373.1 284.7h3.6v3.7h-3.6zM1393.9 284.7h3.6v3.7h-3.6zM1373.1 287.8h3.6v3.7h-3.6zM1393.9 287.8h3.6v3.7h-3.6zM1373.1 290.9h3.6v3.7h-3.6zM1393.9 290.9h3.6v3.7h-3.6zM1373.1 293.9h3.6v3.7h-3.6zM1393.9 293.9h3.6v3.7h-3.6zM1373.1 297h3.6v3.7h-3.6zM1393.9 297h3.6v3.7h-3.6zM1373.1 300.1h3.6v3.7h-3.6zM1393.9 300.1h3.6v3.7h-3.6zM1396.9 306.2h3.6v3.7h-3.6zM1334.5 309.3h3.6v3.7h-3.6zM1396.9 309.3h3.6v3.7h-3.6zM1334.5 312.3h3.6v3.7h-3.6zM1396.9 312.3h3.6v3.7h-3.6zM1334.5 315.4h3.6v3.7h-3.6zM1396.9 315.4h3.6v3.7h-3.6zM1334.5 318.5h3.6v3.7h-3.6zM1370.1 318.5h3.6v3.7h-3.6zM1396.9 318.5h3.6v3.7h-3.6zM1334.5 321.5h3.6v3.7h-3.6zM1355.3 321.5h3.6v3.7h-3.6zM1370.1 321.5h3.6v3.7h-3.6zM1396.9 321.5h3.6v3.7h-3.6zM1334.5 324.6h3.6v3.7h-3.6zM1355.3 324.6h3.6v3.7h-3.6zM1334.5 327.7h3.6v3.7h-3.6zM1355.3 327.7h3.6v3.7h-3.6zM1367.2 327.7h3.6v3.7h-3.6zM1334.5 330.7h3.6v3.7h-3.6zM1358.2 330.7h3.6v3.7h-3.6zM1367.2 330.7h3.6v3.7h-3.6zM1334.5 333.8h3.6v3.7h-3.6zM1364.2 333.8h3.6v3.7h-3.6zM1334.5 336.9h3.6v3.7h-3.6zM1396.9 336.9h3.6v3.7h-3.6zM1334.5 340h3.6v3.7h-3.6zM1396.9 340h3.6v3.7h-3.6zM1334.5 343h3.6v3.7h-3.6zM1396.9 343h3.6v3.7h-3.6zM1396.9 346.1h3.6v3.7h-3.6zM1396.9 349.2h3.6v3.7h-3.6zM1396.9 352.2h3.6v3.7h-3.6zM1331.5 355.3h3.6v3.7h-3.6zM1396.9 355.3h3.6v3.7h-3.6zM1331.5 358.4h3.6v3.7h-3.6zM1396.9 361.4h3.6v3.7h-3.6zM1396.9 364.5h3.6v3.7h-3.6zM1396.9 367.6h3.6v3.7h-3.6zM1396.9 370.6h3.6v3.7h-3.6zM1396.9 373.7h3.6v3.7h-3.6zM1396.9 376.8h3.6v3.7h-3.6zM1396.9 379.8h3.6v3.7h-3.6zM1396.9 382.9h3.6v3.7h-3.6zM1396.9 386h3.6v3.7h-3.6zM1396.9 389h3.6v3.7h-3.6zM1399.9 401.3h3.6v3.7h-3.6zM1402.8 413.6h3.6v3.7h-3.6zM1405.8 428.9h3.6v3.7h-3.6zM1408.8 444.3h3.6v3.7h-3.6zM1411.8 462.7h3.6v3.7h-3.6zM1414.7 468.8h3.6v3.7h-3.6zM1417.7 478h3.6v3.7h-3.6zM1420.7 490.3h3.6v3.7h-3.6zM1423.6 496.4h3.6v3.7h-3.6zM1423.6 499.5h3.6v3.7h-3.6zM1426.6 505.6h3.6v3.7h-3.6zM1426.6 508.7h3.6v3.7h-3.6zM1429.6 514.9h3.6v3.7h-3.6zM1429.6 517.9h3.6v3.7h-3.6zM1432.6 524.1h3.6v3.7h-3.6zM1435.5 536.3h3.6v3.7h-3.6zM1438.5 542.5h3.6v3.7h-3.6zM1438.5 545.5h3.6v3.7h-3.6zM1438.5 557.8h3.6v3.7h-3.6zM1438.5 560.9h3.6v3.7h-3.6zM1438.5 564h3.6v3.7h-3.6zM1441.5 585.4h3.6v3.7h-3.6zM1444.4 594.6h3.6v3.7h-3.6zM1444.4 597.7h3.6v3.7h-3.6zM1447.4 603.8h3.6v3.7h-3.6zM1447.4 606.9h3.6v3.7h-3.6zM1450.4 610h3.6v3.7h-3.6zM1450.4 613h3.6v3.7h-3.6zM1453.4 616.1h3.6v3.7h-3.6zM1453.4 619.2h3.6v3.7h-3.6zM1456.3 625.3h3.6v3.7h-3.6zM1459.3 631.5h3.6v3.7h-3.6zM1462.3 634.5h3.6v3.7h-3.6zM1462.3 637.6h3.6v3.7h-3.6zM1465.3 640.7h3.6v3.7h-3.6zM1468.2 643.7h3.6v3.7h-3.6zM1471.2 646.8h3.6v3.7h-3.6zM1471.2 649.9h3.6v3.7h-3.6zM1474.2 652.9h3.6v3.7h-3.6zM1477.1 656h3.6v3.7h-3.6zM1480.1 659.1h3.6v3.7h-3.6zM1483.1 662.1h3.6v3.7h-3.6zM1486.1 665.2h3.6v3.7h-3.6zM1489 668.3h3.6v3.7h-3.6zM1489 671.3h6.5v3.7h-6.5zM1495 674.4h3.6v3.7h-3.6zM1500.9 677.5h6.5v3.7h-6.5zM1509.8 680.6h3.6v3.7h-3.6zM1512.8 683.6h3.6v3.7h-3.6zM1515.8 686.7h3.6v3.7h-3.6zM1518.8 689.8h3.6v3.7h-3.6zM1521.7 692.8h3.6v3.7h-3.6zM1524.7 699h3.6v3.7h-3.6zM1527.7 705.1h3.6v3.7h-3.6zM1527.7 708.2h3.6v3.7h-3.6zM1530.7 714.3h3.6v3.7h-3.6zM1530.7 717.4h3.6v3.7h-3.6zM1530.7 720.4h3.6v3.7h-3.6zM1533.6 726.6h3.6v3.7h-3.6zM1533.6 729.6h3.6v3.7h-3.6zM1533.6 732.7h3.6v3.7h-3.6zM1533.6 735.8h3.6v3.7h-3.6zM1536.6 738.9h3.6v3.7h-3.6zM1536.6 741.9h3.6v3.7h-3.6zM1536.6 745h3.6v3.7h-3.6zM1539.6 751.1h3.6v3.7h-3.6zM1539.6 754.2h3.6v3.7h-3.6zM1542.5 757.3h3.6v3.7h-3.6zM1545.5 760.3h3.6v3.7h-3.6zM1545.5 763.4h3.6v3.7h-3.6zM1548.5 766.5h3.6v3.7h-3.6zM1551.5 769.5h3.6v3.7h-3.6zM1551.5 772.6h3.6v3.7h-3.6zM1554.4 775.7h3.6v3.7h-3.6zM1557.4 778.7h3.6v3.7h-3.6zM1557.4 781.8h3.6v3.7h-3.6zM1578.2 781.8h21.4v3.7h-21.4zM1560.4 784.9h3.6v3.7h-3.6zM1578.2 784.9h21.4v3.7h-21.4zM1563.3 788h18.4v3.7h-18.4zM1563.3 791h15.5v3.7h-15.5zM1566.3 794.1h6.5v3.7h-6.5zM1581.2 821.7h33.3v3.7h-33.3zM1578.2 824.8h36.3v3.7h-36.3zM1578.2 827.8h6.5v3.7h-6.5zM1575.2 830.9h6.5v3.7h-6.5zM1578.2 834h3.6v3.7h-3.6zM1575.2 846.3h3.6v3.7h-3.6zM1575.2 849.3h3.6v3.7h-3.6zM1575.2 852.4h3.6v3.7h-3.6zM1575.2 855.5h3.6v3.7h-3.6zM1607.9 873.9h24.4v3.7h-24.4zM1607.9 876.9h24.4v3.7h-24.4zM1607.9 880h27.4v3.7h-27.4zM1575.2 883.1h3.6v3.7h-3.6zM1607.9 883.1h3.6v3.7h-3.6zM1575.2 886.1h3.6v3.7h-3.6zM1575.2 889.2h3.6v3.7h-3.6zM1575.2 892.3h3.6v3.7h-3.6zM1575.2 895.3h3.6v3.7h-3.6zM1607.9 895.3h3.6v3.7h-3.6zM1575.2 898.4h3.6v3.7h-3.6zM1607.9 898.4h3.6v3.7h-3.6zM1575.2 901.5h3.6v3.7h-3.6zM1607.9 901.5h3.6v3.7h-3.6zM1575.2 904.6h3.6v3.7h-3.6zM1610.9 910.7h3.6v3.7h-3.6zM1610.9 913.8h3.6v3.7h-3.6zM1610.9 916.8h3.6v3.7h-3.6zM1610.9 919.9h3.6v3.7h-3.6zM1661.4 919.9h3.6v3.7h-3.6zM1661.4 923h9.5v3.7h-9.5zM1661.4 926h9.5v3.7h-9.5zM1664.4 929.1h6.5v3.7h-6.5zM1613.9 932.2h3.6v3.7h-3.6zM1664.4 932.2h6.5v3.7h-6.5zM1613.9 935.2h3.6v3.7h-3.6zM1661.4 935.2h6.5v3.7h-6.5zM1613.9 938.3h3.6v3.7h-3.6zM1658.5 938.3h6.5v3.7h-6.5zM1613.9 941.4h3.6v3.7h-3.6zM1658.5 941.4h3.6v3.7h-3.6zM1613.9 944.4h3.6v3.7h-3.6zM1658.5 944.4h3.6v3.7h-3.6zM1613.9 947.5h3.6v3.7h-3.6zM1658.5 947.5h3.6v3.7h-3.6zM1616.9 950.6h3.6v3.7h-3.6zM1661.4 950.6h3.6v3.7h-3.6zM1616.9 953.7h3.6v3.7h-3.6zM1658.5 953.7h3.6v3.7h-3.6zM1616.9 956.7h3.6v3.7h-3.6zM1658.5 956.7h3.6v3.7h-3.6zM1616.9 959.8h3.6v3.7h-3.6zM1655.5 959.8h3.6v3.7h-3.6zM1655.5 962.9h3.6v3.7h-3.6zM1655.5 965.9h3.6v3.7h-3.6zM1655.5 969h3.6v3.7h-3.6zM1652.5 972.1h6.5v3.7h-6.5zM1652.5 975.1h3.6v3.7h-3.6z"/>
<path fill="#4973f8" d="M1382 211.1h6.5v3.7h-6.5zM1373.1 260.2h3.6v3.7h-3.6zM1367.2 263.2h3.6v3.7h-3.6zM1382 263.2h3.6v3.7h-3.6zM1390.9 263.2h3.6v3.7h-3.6zM1376.1 266.3h6.5v3.7h-6.5zM1393.9 266.3h3.6v3.7h-3.6zM1373.1 269.4h6.5v3.7h-6.5zM1393.9 269.4h3.6v3.7h-3.6zM1358.2 272.4h3.6v3.7h-3.6zM1373.1 272.4h3.6v3.7h-3.6zM1393.9 272.4h3.6v3.7h-3.6zM1373.1 275.5h3.6v3.7h-3.6zM1393.9 275.5h3.6v3.7h-3.6zM1373.1 278.6h3.6v3.7h-3.6zM1396.9 278.6h3.6v3.7h-3.6zM1355.3 281.6h3.6v3.7h-3.6zM1373.1 281.6h3.6v3.7h-3.6zM1396.9 281.6h3.6v3.7h-3.6zM1355.3 284.7h3.6v3.7h-3.6zM1396.9 284.7h3.6v3.7h-3.6zM1396.9 287.8h3.6v3.7h-3.6zM1396.9 290.9h3.6v3.7h-3.6zM1396.9 293.9h3.6v3.7h-3.6zM1396.9 297h3.6v3.7h-3.6zM1396.9 300.1h3.6v3.7h-3.6zM1334.5 303.1h3.6v3.7h-3.6zM1396.9 303.1h3.6v3.7h-3.6zM1334.5 306.2h3.6v3.7h-3.6zM1355.3 306.2h3.6v3.7h-3.6zM1355.3 309.3h3.6v3.7h-3.6zM1355.3 312.3h3.6v3.7h-3.6zM1370.1 312.3h3.6v3.7h-3.6zM1355.3 315.4h3.6v3.7h-3.6zM1370.1 315.4h3.6v3.7h-3.6zM1355.3 318.5h3.6v3.7h-3.6zM1358.2 324.6h3.6v3.7h-3.6zM1367.2 324.6h3.6v3.7h-3.6zM1331.5 327.7h3.6v3.7h-3.6zM1358.2 327.7h3.6v3.7h-3.6zM1361.2 330.7h6.5v3.7h-6.5zM1331.5 346.1h3.6v3.7h-3.6zM1331.5 349.2h3.6v3.7h-3.6zM1331.5 352.2h3.6v3.7h-3.6zM1325.5 358.4h6.5v3.7h-6.5zM1399.9 395.2h3.6v3.7h-3.6zM1399.9 398.3h3.6v3.7h-3.6zM1402.8 410.5h3.6v3.7h-3.6zM1405.8 419.7h3.6v3.7h-3.6zM1405.8 422.8h3.6v3.7h-3.6zM1405.8 425.9h3.6v3.7h-3.6zM1408.8 438.1h3.6v3.7h-3.6zM1408.8 441.2h3.6v3.7h-3.6zM1411.8 456.6h3.6v3.7h-3.6zM1411.8 459.6h3.6v3.7h-3.6zM1414.7 465.8h3.6v3.7h-3.6zM1417.7 475h3.6v3.7h-3.6zM1420.7 484.2h3.6v3.7h-3.6zM1420.7 487.2h3.6v3.7h-3.6zM1423.6 493.4h3.6v3.7h-3.6zM1426.6 502.6h3.6v3.7h-3.6zM1429.6 508.7h3.6v3.7h-3.6zM1429.6 511.8h3.6v3.7h-3.6zM1432.6 517.9h3.6v3.7h-3.6zM1432.6 521h3.6v3.7h-3.6zM1435.5 527.1h3.6v3.7h-3.6zM1435.5 530.2h3.6v3.7h-3.6zM1435.5 533.3h3.6v3.7h-3.6zM1438.5 548.6h3.6v3.7h-3.6zM1438.5 554.7h3.6v3.7h-3.6zM1441.5 573.2h3.6v3.7h-3.6zM1441.5 576.2h3.6v3.7h-3.6zM1441.5 579.3h3.6v3.7h-3.6zM1441.5 582.4h3.6v3.7h-3.6zM1444.4 588.5h3.6v3.7h-3.6zM1444.4 591.6h3.6v3.7h-3.6zM1447.4 597.7h3.6v3.7h-3.6zM1447.4 600.8h3.6v3.7h-3.6zM1450.4 606.9h3.6v3.7h-3.6zM1453.4 613h3.6v3.7h-3.6zM1456.3 619.2h3.6v3.7h-3.6zM1456.3 622.3h3.6v3.7h-3.6zM1459.3 625.3h3.6v3.7h-3.6zM1459.3 628.4h3.6v3.7h-3.6zM1462.3 631.5h3.6v3.7h-3.6zM1465.3 637.6h3.6v3.7h-3.6zM1468.2 640.7h3.6v3.7h-3.6zM1471.2 643.7h3.6v3.7h-3.6zM1474.2 649.9h3.6v3.7h-3.6zM1477.1 652.9h3.6v3.7h-3.6zM1480.1 656h3.6v3.7h-3.6zM1483.1 659.1h3.6v3.7h-3.6zM1486.1 662.1h3.6v3.7h-3.6zM1489 665.2h3.6v3.7h-3.6zM1492 668.3h3.6v3.7h-3.6zM1495 671.3h3.6v3.7h-3.6zM1498 674.4h6.5v3.7h-6.5zM1506.9 677.5h3.6v3.7h-3.6zM1512.8 680.6h3.6v3.7h-3.6zM1515.8 683.6h3.6v3.7h-3.6zM1518.8 686.7h3.6v3.7h-3.6zM1521.7 689.8h3.6v3.7h-3.6zM1524.7 695.9h3.6v3.7h-3.6zM1527.7 699h3.6v3.7h-3.6zM1527.7 702h3.6v3.7h-3.6zM1530.7 708.2h3.6v3.7h-3.6zM1530.7 711.2h3.6v3.7h-3.6zM1533.6 717.4h3.6v3.7h-3.6zM1533.6 720.4h3.6v3.7h-3.6zM1533.6 723.5h3.6v3.7h-3.6zM1536.6 732.7h3.6v3.7h-3.6zM1536.6 735.8h3.6v3.7h-3.6zM1539.6 741.9h3.6v3.7h-3.6zM1539.6 745h3.6v3.7h-3.6zM1539.6 748.1h3.6v3.7h-3.6zM1542.5 754.2h3.6v3.7h-3.6zM1545.5 757.3h3.6v3.7h-3.6zM1548.5 760.3h3.6v3.7h-3.6zM1548.5 763.4h3.6v3.7h-3.6zM1551.5 766.5h3.6v3.7h-3.6zM1554.4 769.5h3.6v3.7h-3.6zM1554.4 772.6h3.6v3.7h-3.6zM1557.4 775.7h3.6v3.7h-3.6zM1578.2 775.7h18.4v3.7h-18.4zM1560.4 778.7h6.5v3.7h-6.5zM1575.2 778.7h21.4v3.7h-21.4zM1560.4 781.8h18.4v3.7h-18.4zM1563.3 784.9h15.5v3.7h-15.5zM1584.2 827.8h33.3v3.7h-33.3zM1581.2 830.9h36.3v3.7h-36.3zM1581.2 834h6.5v3.7h-6.5zM1578.2 837h3.6v3.7h-3.6zM1578.2 840.1h3.6v3.7h-3.6zM1578.2 843.2h3.6v3.7h-3.6zM1578.2 846.3h3.6v3.7h-3.6zM1578.2 849.3h3.6v3.7h-3.6zM1578.2 861.6h3.6v3.7h-3.6zM1607.9 861.6h18.4v3.7h-18.4zM1578.2 864.7h3.6v3.7h-3.6zM1605 864.7h24.4v3.7h-24.4zM1578.2 867.7h3.6v3.7h-3.6zM1605 867.7h24.4v3.7h-24.4zM1578.2 870.8h3.6v3.7h-3.6zM1605 870.8h24.4v3.7h-24.4zM1578.2 873.9h3.6v3.7h-3.6zM1605 873.9h3.6v3.7h-3.6zM1578.2 876.9h3.6v3.7h-3.6zM1605 876.9h3.6v3.7h-3.6zM1605 880h3.6v3.7h-3.6zM1605 883.1h3.6v3.7h-3.6zM1605 886.1h3.6v3.7h-3.6zM1605 889.2h3.6v3.7h-3.6zM1605 892.3h3.6v3.7h-3.6zM1607.9 904.6h3.6v3.7h-3.6zM1575.2 907.6h3.6v3.7h-3.6zM1607.9 907.6h3.6v3.7h-3.6zM1575.2 910.7h3.6v3.7h-3.6zM1607.9 910.7h3.6v3.7h-3.6zM1575.2 913.8h3.6v3.7h-3.6zM1610.9 923h3.6v3.7h-3.6zM1610.9 926h3.6v3.7h-3.6zM1670.4 926h3.6v3.7h-3.6zM1610.9 929.1h3.6v3.7h-3.6zM1670.4 929.1h6.5v3.7h-6.5zM1610.9 932.2h3.6v3.7h-3.6zM1670.4 932.2h6.5v3.7h-6.5zM1610.9 935.2h3.6v3.7h-3.6zM1667.4 935.2h6.5v3.7h-6.5zM1610.9 938.3h3.6v3.7h-3.6zM1664.4 938.3h3.6v3.7h-3.6zM1610.9 941.4h3.6v3.7h-3.6zM1661.4 941.4h6.5v3.7h-6.5zM1610.9 944.4h3.6v3.7h-3.6zM1661.4 944.4h3.6v3.7h-3.6zM1610.9 947.5h3.6v3.7h-3.6zM1661.4 947.5h3.6v3.7h-3.6zM1613.9 950.6h3.6v3.7h-3.6zM1664.4 950.6h3.6v3.7h-3.6zM1661.4 953.7h3.6v3.7h-3.6zM1661.4 956.7h3.6v3.7h-3.6zM1658.5 959.8h3.6v3.7h-3.6zM1658.5 962.9h3.6v3.7h-3.6zM1658.5 965.9h3.6v3.7h-3.6zM1658.5 969h3.6v3.7h-3.6zM1658.5 972.1h3.6v3.7h-3.6zM1655.5 975.1h6.5v3.7h-6.5zM1655.5 978.2h3.6v3.7h-3.6z"/>
<path fill="#3c7ef8" d="M1376.1 214.1h3.6v3.7h-3.6zM1376.1 217.2h3.6v3.7h-3.6zM1376.1 220.3h3.6v3.7h-3.6zM1376.1 223.3h3.6v3.7h-3.6zM1376.1 226.4h3.6v3.7h-3.6zM1376.1 257.1h3.6v3.7h-3.6zM1376.1 260.2h3.6v3.7h-3.6zM1385 260.2h3.6v3.7h-3.6zM1370.1 263.2h12.5v3.7h-12.5zM1393.9 263.2h6.5v3.7h-6.5zM1364.2 266.3h12.5v3.7h-12.5zM1396.9 266.3h3.6v3.7h-3.6zM1361.2 269.4h3.6v3.7h-3.6zM1370.1 269.4h3.6v3.7h-3.6zM1396.9 269.4h3.6v3.7h-3.6zM1334.5 272.4h3.6v3.7h-3.6zM1396.9 272.4h3.6v3.7h-3.6zM1334.5 275.5h3.6v3.7h-3.6zM1358.2 275.5h3.6v3.7h-3.6zM1396.9 275.5h3.6v3.7h-3.6zM1334.5 278.6h3.6v3.7h-3.6zM1334.5 281.6h3.6v3.7h-3.6zM1334.5 284.7h3.6v3.7h-3.6zM1399.9 284.7h3.6v3.7h-3.6zM1334.5 287.8h3.6v3.7h-3.6zM1355.3 287.8h3.6v3.7h-3.6zM1399.9 287.8h3.6v3.7h-3.6zM1334.5 290.9h3.6v3.7h-3.6zM1355.3 290.9h3.6v3.7h-3.6zM1399.9 290.9h3.6v3.7h-3.6zM1334.5 293.9h3.6v3.7h-3.6zM1355.3 293.9h3.6v3.7h-3.6zM1399.9 293.9h6.5v3.7h-6.5zM1334.5 297h3.6v3.7h-3.6zM1355.3 297h3.6v3.7h-3.6zM1399.9 297h6.5v3.7h-6.5zM1334.5 300.1h3.6v3.7h-3.6zM1355.3 300.1h3.6v3.7h-3.6zM1399.9 300.1h6.5v3.7h-6.5zM1355.3 303.1h3.6v3.7h-3.6zM1370.1 303.1h3.6v3.7h-3.6zM1399.9 303.1h6.5v3.7h-6.5zM1370.1 306.2h3.6v3.7h-3.6zM1399.9 306.2h9.5v3.7h-9.5zM1370.1 309.3h3.6v3.7h-3.6zM1399.9 309.3h9.5v3.7h-9.5zM1399.9 312.3h9.5v3.7h-9.5zM1331.5 315.4h3.6v3.7h-3.6zM1399.9 315.4h12.5v3.7h-12.5zM1331.5 318.5h3.6v3.7h-3.6zM1358.2 318.5h3.6v3.7h-3.6zM1399.9 318.5h6.5v3.7h-6.5zM1331.5 321.5h3.6v3.7h-3.6zM1358.2 321.5h3.6v3.7h-3.6zM1367.2 321.5h3.6v3.7h-3.6zM1399.9 321.5h3.6v3.7h-3.6zM1331.5 324.6h3.6v3.7h-3.6zM1364.2 324.6h3.6v3.7h-3.6zM1399.9 324.6h3.6v3.7h-3.6zM1361.2 327.7h6.5v3.7h-6.5zM1399.9 327.7h3.6v3.7h-3.6zM1331.5 330.7h3.6v3.7h-3.6zM1399.9 330.7h3.6v3.7h-3.6zM1331.5 333.8h3.6v3.7h-3.6zM1399.9 333.8h3.6v3.7h-3.6zM1331.5 336.9h3.6v3.7h-3.6zM1331.5 340h3.6v3.7h-3.6zM1331.5 343h3.6v3.7h-3.6zM1325.5 355.3h6.5v3.7h-6.5zM1399.9 389h3.6v3.7h-3.6zM1399.9 392.1h3.6v3.7h-3.6zM1402.8 404.4h3.6v3.7h-3.6zM1402.8 407.5h3.6v3.7h-3.6zM1405.8 416.7h3.6v3.7h-3.6zM1408.8 435.1h3.6v3.7h-3.6zM1411.8 447.3h3.6v3.7h-3.6zM1411.8 450.4h3.6v3.7h-3.6zM1411.8 453.5h3.6v3.7h-3.6zM1417.7 471.9h3.6v3.7h-3.6zM1420.7 481.1h3.6v3.7h-3.6zM1423.6 490.3h3.6v3.7h-3.6zM1426.6 499.5h3.6v3.7h-3.6zM1429.6 505.6h3.6v3.7h-3.6zM1432.6 514.9h3.6v3.7h-3.6zM1435.5 524.1h3.6v3.7h-3.6zM1438.5 539.4h3.6v3.7h-3.6zM1438.5 551.7h3.6v3.7h-3.6zM1441.5 564h3.6v3.7h-3.6zM1441.5 567h3.6v3.7h-3.6zM1441.5 570.1h3.6v3.7h-3.6zM1444.4 585.4h3.6v3.7h-3.6zM1447.4 594.6h3.6v3.7h-3.6zM1450.4 603.8h3.6v3.7h-3.6zM1453.4 610h3.6v3.7h-3.6zM1456.3 616.1h3.6v3.7h-3.6zM1459.3 622.3h3.6v3.7h-3.6zM1462.3 628.4h3.6v3.7h-3.6zM1465.3 634.5h3.6v3.7h-3.6zM1468.2 637.6h3.6v3.7h-3.6zM1471.2 640.7h3.6v3.7h-3.6zM1474.2 646.8h3.6v3.7h-3.6zM1477.1 649.9h3.6v3.7h-3.6zM1480.1 652.9h3.6v3.7h-3.6zM1483.1 656h3.6v3.7h-3.6zM1486.1 659.1h3.6v3.7h-3.6zM1489 662.1h3.6v3.7h-3.6zM1495 668.3h3.6v3.7h-3.6zM1498 671.3h3.6v3.7h-3.6zM1503.9 674.4h3.6v3.7h-3.6zM1509.8 677.5h3.6v3.7h-3.6zM1515.8 680.6h3.6v3.7h-3.6zM1518.8 683.6h3.6v3.7h-3.6zM1521.7 686.7h3.6v3.7h-3.6zM1524.7 689.8h3.6v3.7h-3.6zM1524.7 692.8h15.5v3.7h-15.5zM1527.7 695.9h15.5v3.7h-15.5zM1530.7 699h12.5v3.7h-12.5zM1530.7 702h15.5v3.7h-15.5zM1530.7 705.1h18.4v3.7h-18.4zM1533.6 708.2h15.5v3.7h-15.5zM1533.6 711.2h18.4v3.7h-18.4zM1533.6 714.3h21.4v3.7h-21.4zM1536.6 717.4h21.4v3.7h-21.4zM1536.6 720.4h3.6v3.7h-3.6zM1536.6 723.5h3.6v3.7h-3.6zM1536.6 726.6h3.6v3.7h-3.6zM1536.6 729.6h3.6v3.7h-3.6zM1539.6 735.8h3.6v3.7h-3.6zM1539.6 738.9h3.6v3.7h-3.6zM1542.5 741.9h3.6v3.7h-3.6zM1542.5 745h3.6v3.7h-3.6zM1542.5 748.1h6.5v3.7h-6.5zM1542.5 751.1h6.5v3.7h-6.5zM1545.5 754.2h3.6v3.7h-3.6zM1548.5 757.3h3.6v3.7h-3.6zM1551.5 760.3h3.6v3.7h-3.6zM1551.5 763.4h6.5v3.7h-6.5zM1554.4 766.5h6.5v3.7h-6.5zM1557.4 769.5h3.6v3.7h-3.6zM1575.2 769.5h18.4v3.7h-18.4zM1557.4 772.6h6.5v3.7h-6.5zM1572.3 772.6h21.4v3.7h-21.4zM1560.4 775.7h9.5v3.7h-9.5zM1572.3 775.7h6.5v3.7h-6.5zM1566.3 778.7h9.5v3.7h-9.5zM1587.1 834h33.3v3.7h-33.3zM1581.2 837h39.2v3.7h-39.2zM1581.2 840.1h6.5v3.7h-6.5zM1596 840.1h24.4v3.7h-24.4zM1581.2 843.2h3.6v3.7h-3.6zM1599 843.2h24.4v3.7h-24.4zM1581.2 846.3h3.6v3.7h-3.6zM1599 846.3h24.4v3.7h-24.4zM1581.2 849.3h3.6v3.7h-3.6zM1599 849.3h24.4v3.7h-24.4zM1578.2 852.4h3.6v3.7h-3.6zM1599 852.4h24.4v3.7h-24.4zM1578.2 855.5h3.6v3.7h-3.6zM1602 855.5h24.4v3.7h-24.4zM1578.2 858.5h3.6v3.7h-3.6zM1602 858.5h24.4v3.7h-24.4zM1602 861.6h6.5v3.7h-6.5zM1602 864.7h3.6v3.7h-3.6zM1602 867.7h3.6v3.7h-3.6zM1602 870.8h3.6v3.7h-3.6zM1602 873.9h3.6v3.7h-3.6zM1602 876.9h3.6v3.7h-3.6zM1578.2 880h3.6v3.7h-3.6zM1602 880h3.6v3.7h-3.6zM1578.2 883.1h3.6v3.7h-3.6zM1602 883.1h3.6v3.7h-3.6zM1578.2 886.1h3.6v3.7h-3.6zM1602 886.1h3.6v3.7h-3.6zM1578.2 889.2h3.6v3.7h-3.6zM1602 889.2h3.6v3.7h-3.6zM1578.2 892.3h3.6v3.7h-3.6zM1578.2 895.3h3.6v3.7h-3.6zM1605 895.3h3.6v3.7h-3.6zM1578.2 898.4h3.6v3.7h-3.6zM1605 898.4h3.6v3.7h-3.6zM1578.2 901.5h3.6v3.7h-3.6zM1605 901.5h3.6v3.7h-3.6zM1578.2 904.6h3.6v3.7h-3.6zM1605 904.6h3.6v3.7h-3.6zM1578.2 907.6h3.6v3.7h-3.6zM1578.2 910.7h3.6v3.7h-3.6zM1714.9 910.7h3.6v3.7h-3.6zM1607.9 913.8h3.6v3.7h-3.6zM1575.2 916.8h3.6v3.7h-3.6zM1607.9 916.8h3.6v3.7h-3.6zM1607.9 919.9h3.6v3.7h-3.6zM1607.9 923h3.6v3.7h-3.6zM1676.3 929.1h3.6v3.7h-3.6zM1676.3 932.2h9.5v3.7h-9.5zM1673.3 935.2h9.5v3.7h-9.5zM1667.4 938.3h6.5v3.7h-6.5zM1667.4 941.4h3.6v3.7h-3.6zM1664.4 944.4h6.5v3.7h-6.5zM1664.4 947.5h3.6v3.7h-3.6zM1610.9 950.6h3.6v3.7h-3.6zM1613.9 953.7h3.6v3.7h-3.6zM1664.4 953.7h3.6v3.7h-3.6zM1610.9 956.7h6.5v3.7h-6.5zM1610.9 959.8h6.5v3.7h-6.5zM1661.4 959.8h3.6v3.7h-3.6zM1661.4 962.9h3.6v3.7h-3.6zM1661.4 965.9h3.6v3.7h-3.6zM1661.4 969h3.6v3.7h-3.6zM1661.4 972.1h3.6v3.7h-3.6zM1661.4 975.1h3.6v3.7h-3.6zM1658.5 978.2h6.5v3.7h-6.5zM1655.5 981.3h6.5v3.7h-6.5z"/>
<path fill="#2f8af8" d="M1331.5 201.9h6.5v3.7h-6.5zM1331.5 204.9h6.5v3.7h-6.5zM1331.5 208h6.5v3.7h-6.5zM1331.5 211.1h6.5v3.7h-6.5zM1331.5 214.1h6.5v3.7h-6.5zM1331.5 217.2h6.5v3.7h-6.5zM1331.5 220.3h6.5v3.7h-6.5zM1331.5 223.3h6.5v3.7h-6.5zM1331.5 226.4h6.5v3.7h-6.5zM1331.5 229.5h6.5v3.7h-6.5zM1376.1 229.5h3.6v3.7h-3.6zM1331.5 232.6h6.5v3.7h-6.5zM1376.1 232.6h3.6v3.7h-3.6zM1331.5 235.6h6.5v3.7h-6.5zM1376.1 235.6h3.6v3.7h-3.6zM1331.5 238.7h6.5v3.7h-6.5zM1376.1 238.7h3.6v3.7h-3.6zM1331.5 241.8h6.5v3.7h-6.5zM1376.1 241.8h3.6v3.7h-3.6zM1331.5 244.8h6.5v3.7h-6.5zM1376.1 244.8h3.6v3.7h-3.6zM1331.5 247.9h6.5v3.7h-6.5zM1376.1 247.9h3.6v3.7h-3.6zM1331.5 251h6.5v3.7h-6.5zM1376.1 251h3.6v3.7h-3.6zM1331.5 254h6.5v3.7h-6.5zM1376.1 254h3.6v3.7h-3.6zM1331.5 257.1h6.5v3.7h-6.5zM1331.5 260.2h6.5v3.7h-6.5zM1379.1 260.2h6.5v3.7h-6.5zM1388 260.2h6.5v3.7h-6.5zM1334.5 263.2h3.6v3.7h-3.6zM1334.5 266.3h3.6v3.7h-3.6zM1334.5 269.4h3.6v3.7h-3.6zM1364.2 269.4h6.5v3.7h-6.5zM1361.2 272.4h3.6v3.7h-3.6zM1370.1 272.4h3.6v3.7h-3.6zM1370.1 275.5h3.6v3.7h-3.6zM1358.2 278.6h3.6v3.7h-3.6zM1370.1 278.6h3.6v3.7h-3.6zM1370.1 281.6h3.6v3.7h-3.6zM1370.1 284.7h3.6v3.7h-3.6zM1370.1 287.8h3.6v3.7h-3.6zM1370.1 290.9h3.6v3.7h-3.6zM1370.1 293.9h3.6v3.7h-3.6zM1370.1 297h3.6v3.7h-3.6zM1370.1 300.1h3.6v3.7h-3.6zM1331.5 303.1h3.6v3.7h-3.6zM1331.5 306.2h3.6v3.7h-3.6zM1331.5 309.3h3.6v3.7h-3.6zM1358.2 309.3h3.6v3.7h-3.6zM1331.5 312.3h3.6v3.7h-3.6zM1358.2 312.3h3.6v3.7h-3.6zM1358.2 315.4h3.6v3.7h-3.6zM1367.2 318.5h3.6v3.7h-3.6zM1405.8 318.5h6.5v3.7h-6.5zM1361.2 321.5h6.5v3.7h-6.5zM1402.8 321.5h9.5v3.7h-9.5zM1361.2 324.6h3.6v3.7h-3.6zM1402.8 324.6h3.6v3.7h-3.6zM1399.9 336.9h3.6v3.7h-3.6zM1399.9 340h3.6v3.7h-3.6zM1399.9 343h3.6v3.7h-3.6zM1328.5 349.2h3.6v3.7h-3.6zM1325.5 352.2h6.5v3.7h-6.5zM1399.9 352.2h3.6v3.7h-3.6zM1399.9 355.3h3.6v3.7h-3.6zM1399.9 358.4h3.6v3.7h-3.6zM1399.9 361.4h3.6v3.7h-3.6zM1399.9 364.5h3.6v3.7h-3.6zM1399.9 367.6h3.6v3.7h-3.6zM1399.9 370.6h3.6v3.7h-3.6zM1399.9 373.7h3.6v3.7h-3.6zM1399.9 376.8h3.6v3.7h-3.6zM1399.9 379.8h3.6v3.7h-3.6zM1399.9 382.9h3.6v3.7h-3.6zM1399.9 386h3.6v3.7h-3.6zM1402.8 401.3h3.6v3.7h-3.6zM1405.8 413.6h3.6v3.7h-3.6zM1408.8 432h3.6v3.7h-3.6zM1411.8 444.3h3.6v3.7h-3.6zM1414.7 462.7h3.6v3.7h-3.6zM1417.7 468.8h3.6v3.7h-3.6zM1420.7 478h3.6v3.7h-3.6zM1423.6 487.2h3.6v3.7h-3.6zM1426.6 493.4h3.6v3.7h-3.6zM1426.6 496.4h3.6v3.7h-3.6zM1429.6 502.6h3.6v3.7h-3.6zM1432.6 511.8h3.6v3.7h-3.6zM1435.5 517.9h3.6v3.7h-3.6zM1435.5 521h3.6v3.7h-3.6zM1438.5 536.3h3.6v3.7h-3.6zM1441.5 560.9h3.6v3.7h-3.6zM1444.4 582.4h3.6v3.7h-3.6zM1447.4 591.6h3.6v3.7h-3.6zM1450.4 600.8h3.6v3.7h-3.6zM1453.4 606.9h3.6v3.7h-3.6zM1456.3 613h3.6v3.7h-3.6zM1459.3 619.2h3.6v3.7h-3.6zM1462.3 625.3h3.6v3.7h-3.6zM1465.3 631.5h3.6v3.7h-3.6zM1468.2 634.5h3.6v3.7h-3.6zM1471.2 637.6h3.6v3.7h-3.6zM1474.2 643.7h3.6v3.7h-3.6zM1477.1 646.8h3.6v3.7h-3.6zM1480.1 649.9h3.6v3.7h-3.6zM1483.1 652.9h3.6v3.7h-3.6zM1486.1 656h3.6v3.7h-3.6zM1492 665.2h3.6v3.7h-3.6zM1498 668.3h3.6v3.7h-3.6zM1500.9 671.3h3.6v3.7h-3.6zM1506.9 674.4h6.5v3.7h-6.5zM1512.8 677.5h6.5v3.7h-6.5zM1518.8 680.6h15.5v3.7h-15.5zM1521.7 683.6h15.5v3.7h-15.5zM1524.7 686.7h12.5v3.7h-12.5zM1527.7 689.8h12.5v3.7h-12.5zM1539.6 720.4h18.4v3.7h-18.4zM1539.6 723.5h21.4v3.7h-21.4zM1539.6 726.6h3.6v3.7h-3.6zM1539.6 729.6h3.6v3.7h-3.6zM1539.6 732.7h3.6v3.7h-3.6zM1542.5 735.8h3.6v3.7h-3.6zM1542.5 738.9h3.6v3.7h-3.6zM1545.5 741.9h3.6v3.7h-3.6zM1545.5 745h3.6v3.7h-3.6zM1548.5 748.1h3.6v3.7h-3.6zM1548.5 751.1h3.6v3.7h-3.6zM1548.5 754.2h6.5v3.7h-6.5zM1551.5 757.3h6.5v3.7h-6.5zM1554.4 760.3h6.5v3.7h-6.5zM1557.4 763.4h6.5v3.7h-6.5zM1572.3 763.4h18.4v3.7h-18.4zM1560.4 766.5h30.3v3.7h-30.3zM1560.4 769.5h15.5v3.7h-15.5zM1563.3 772.6h9.5v3.7h-9.5zM1569.3 775.7h3.6v3.7h-3.6zM1587.1 840.1h9.5v3.7h-9.5zM1584.2 843.2h15.5v3.7h-15.5zM1584.2 846.3h15.5v3.7h-15.5zM1584.2 849.3h3.6v3.7h-3.6zM1590.1 849.3h9.5v3.7h-9.5zM1581.2 852.4h3.6v3.7h-3.6zM1593.1 852.4h6.5v3.7h-6.5zM1581.2 855.5h3.6v3.7h-3.6zM1596 855.5h6.5v3.7h-6.5zM1581.2 858.5h3.6v3.7h-3.6zM1596 858.5h6.5v3.7h-6.5zM1581.2 861.6h3.6v3.7h-3.6zM1596 861.6h6.5v3.7h-6.5zM1581.2 864.7h3.6v3.7h-3.6zM1599 864.7h3.6v3.7h-3.6zM1581.2 867.7h3.6v3.7h-3.6zM1599 867.7h3.6v3.7h-3.6zM1581.2 870.8h3.6v3.7h-3.6zM1599 870.8h3.6v3.7h-3.6zM1581.2 873.9h3.6v3.7h-3.6zM1599 873.9h3.6v3.7h-3.6zM1581.2 876.9h3.6v3.7h-3.6zM1599 876.9h3.6v3.7h-3.6zM1599 880h3.6v3.7h-3.6zM1599 883.1h3.6v3.7h-3.6zM1599 886.1h3.6v3.7h-3.6zM1602 892.3h3.6v3.7h-3.6zM1602 895.3h3.6v3.7h-3.6zM1605 907.6h3.6v3.7h-3.6zM1605 910.7h3.6v3.7h-3.6zM1717.9 910.7h6.5v3.7h-6.5zM1578.2 913.8h3.6v3.7h-3.6zM1605 913.8h3.6v3.7h-3.6zM1712 913.8h3.6v3.7h-3.6zM1578.2 916.8h3.6v3.7h-3.6zM1581.2 926h3.6v3.7h-3.6zM1607.9 926h3.6v3.7h-3.6zM1581.2 929.1h3.6v3.7h-3.6zM1607.9 929.1h3.6v3.7h-3.6zM1607.9 932.2h3.6v3.7h-3.6zM1607.9 935.2h3.6v3.7h-3.6zM1682.2 935.2h9.5v3.7h-9.5zM1607.9 938.3h3.6v3.7h-3.6zM1673.3 938.3h9.5v3.7h-9.5zM1607.9 941.4h3.6v3.7h-3.6zM1670.4 941.4h6.5v3.7h-6.5zM1607.9 944.4h3.6v3.7h-3.6zM1670.4 944.4h3.6v3.7h-3.6zM1607.9 947.5h3.6v3.7h-3.6zM1667.4 947.5h3.6v3.7h-3.6zM1607.9 950.6h3.6v3.7h-3.6zM1667.4 950.6h3.6v3.7h-3.6zM1605 953.7h9.5v3.7h-9.5zM1667.4 953.7h3.6v3.7h-3.6zM1664.4 956.7h3.6v3.7h-3.6zM1664.4 959.8h3.6v3.7h-3.6zM1664.4 962.9h3.6v3.7h-3.6zM1664.4 965.9h3.6v3.7h-3.6zM1664.4 969h3.6v3.7h-3.6zM1664.4 972.1h3.6v3.7h-3.6zM1664.4 975.1h3.6v3.7h-3.6zM1664.4 978.2h3.6v3.7h-3.6zM1661.4 981.3h6.5v3.7h-6.5z"/>
<path fill="#2497f8" d="M1379.1 257.1h6.5v3.7h-6.5zM1393.9 260.2h6.5v3.7h-6.5zM1331.5 263.2h3.6v3.7h-3.6zM1331.5 266.3h3.6v3.7h-3.6zM1331.5 269.4h3.6v3.7h-3.6zM1331.5 272.4h3.6v3.7h-3.6zM1367.2 272.4h3.6v3.7h-3.6zM1331.5 275.5h3.6v3.7h-3.6zM1361.2 275.5h3.6v3.7h-3.6zM1331.5 278.6h3.6v3.7h-3.6zM1331.5 281.6h3.6v3.7h-3.6zM1358.2 281.6h3.6v3.7h-3.6zM1331.5 284.7h3.6v3.7h-3.6zM1358.2 284.7h3.6v3.7h-3.6zM1331.5 287.8h3.6v3.7h-3.6zM1358.2 287.8h3.6v3.7h-3.6zM1331.5 290.9h3.6v3.7h-3.6zM1358.2 290.9h3.6v3.7h-3.6zM1331.5 293.9h3.6v3.7h-3.6zM1358.2 293.9h3.6v3.7h-3.6zM1331.5 297h3.6v3.7h-3.6zM1358.2 297h3.6v3.7h-3.6zM1331.5 300.1h3.6v3.7h-3.6zM1358.2 300.1h3.6v3.7h-3.6zM1358.2 303.1h3.6v3.7h-3.6zM1358.2 306.2h3.6v3.7h-3.6zM1367.2 312.3h3.6v3.7h-3.6zM1367.2 315.4h3.6v3.7h-3.6zM1361.2 318.5h6.5v3.7h-6.5zM1328.5 324.6h3.6v3.7h-3.6zM1405.8 324.6h6.5v3.7h-6.5zM1328.5 327.7h3.6v3.7h-3.6zM1402.8 327.7h3.6v3.7h-3.6zM1402.8 330.7h3.6v3.7h-3.6zM1328.5 346.1h3.6v3.7h-3.6zM1399.9 346.1h3.6v3.7h-3.6zM1399.9 349.2h3.6v3.7h-3.6zM1402.8 398.3h3.6v3.7h-3.6zM1405.8 410.5h3.6v3.7h-3.6zM1408.8 425.9h3.6v3.7h-3.6zM1408.8 428.9h3.6v3.7h-3.6zM1411.8 441.2h3.6v3.7h-3.6zM1414.7 456.6h3.6v3.7h-3.6zM1414.7 459.6h3.6v3.7h-3.6zM1417.7 465.8h3.6v3.7h-3.6zM1420.7 471.9h3.6v3.7h-3.6zM1420.7 475h3.6v3.7h-3.6zM1423.6 481.1h3.6v3.7h-3.6zM1423.6 484.2h3.6v3.7h-3.6zM1426.6 490.3h3.6v3.7h-3.6zM1429.6 499.5h3.6v3.7h-3.6zM1432.6 505.6h3.6v3.7h-3.6zM1432.6 508.7h3.6v3.7h-3.6zM1435.5 514.9h3.6v3.7h-3.6zM1438.5 527.1h3.6v3.7h-3.6zM1438.5 530.2h3.6v3.7h-3.6zM1438.5 533.3h3.6v3.7h-3.6zM1441.5 545.5h3.6v3.7h-3.6zM1441.5 548.6h3.6v3.7h-3.6zM1441.5 557.8h3.6v3.7h-3.6zM1444.4 570.1h3.6v3.7h-3.6zM1444.4 573.2h3.6v3.7h-3.6zM1444.4 576.2h3.6v3.7h-3.6zM1444.4 579.3h3.6v3.7h-3.6zM1447.4 588.5h3.6v3.7h-3.6zM1450.4 597.7h3.6v3.7h-3.6zM1453.4 603.8h3.6v3.7h-3.6zM1456.3 610h3.6v3.7h-3.6zM1459.3 616.1h3.6v3.7h-3.6zM1462.3 622.3h3.6v3.7h-3.6zM1465.3 628.4h3.6v3.7h-3.6zM1468.2 631.5h3.6v3.7h-3.6zM1474.2 640.7h3.6v3.7h-3.6zM1477.1 643.7h3.6v3.7h-3.6zM1480.1 646.8h3.6v3.7h-3.6zM1483.1 649.9h3.6v3.7h-3.6zM1489 659.1h3.6v3.7h-3.6zM1492 662.1h3.6v3.7h-3.6zM1495 665.2h3.6v3.7h-3.6zM1500.9 668.3h3.6v3.7h-3.6zM1503.9 671.3h6.5v3.7h-6.5zM1512.8 674.4h21.4v3.7h-21.4zM1518.8 677.5h15.5v3.7h-15.5zM1542.5 726.6h21.4v3.7h-21.4zM1542.5 729.6h24.4v3.7h-24.4zM1542.5 732.7h3.6v3.7h-3.6zM1545.5 735.8h3.6v3.7h-3.6zM1545.5 738.9h6.5v3.7h-6.5zM1548.5 741.9h3.6v3.7h-3.6zM1548.5 745h6.5v3.7h-6.5zM1551.5 748.1h6.5v3.7h-6.5zM1551.5 751.1h9.5v3.7h-9.5zM1554.4 754.2h9.5v3.7h-9.5zM1557.4 757.3h27.4v3.7h-27.4zM1560.4 760.3h27.4v3.7h-27.4zM1563.3 763.4h9.5v3.7h-9.5zM1587.1 849.3h3.6v3.7h-3.6zM1584.2 852.4h9.5v3.7h-9.5zM1584.2 855.5h3.6v3.7h-3.6zM1590.1 855.5h6.5v3.7h-6.5zM1584.2 858.5h3.6v3.7h-3.6zM1593.1 858.5h3.6v3.7h-3.6zM1584.2 861.6h3.6v3.7h-3.6zM1593.1 861.6h3.6v3.7h-3.6zM1584.2 864.7h3.6v3.7h-3.6zM1593.1 864.7h6.5v3.7h-6.5zM1584.2 867.7h3.6v3.7h-3.6zM1596 867.7h3.6v3.7h-3.6zM1584.2 870.8h3.6v3.7h-3.6zM1596 870.8h3.6v3.7h-3.6zM1584.2 873.9h3.6v3.7h-3.6zM1596 873.9h3.6v3.7h-3.6zM1584.2 876.9h3.6v3.7h-3.6zM1596 876.9h3.6v3.7h-3.6zM1581.2 880h6.5v3.7h-6.5zM1596 880h3.6v3.7h-3.6zM1581.2 883.1h3.6v3.7h-3.6zM1596 883.1h3.6v3.7h-3.6zM1581.2 886.1h3.6v3.7h-3.6zM1596 886.1h3.6v3.7h-3.6zM1581.2 889.2h3.6v3.7h-3.6zM1599 889.2h3.6v3.7h-3.6zM1581.2 892.3h3.6v3.7h-3.6zM1599 892.3h3.6v3.7h-3.6zM1581.2 895.3h3.6v3.7h-3.6zM1599 895.3h3.6v3.7h-3.6zM1581.2 898.4h3.6v3.7h-3.6zM1602 898.4h3.6v3.7h-3.6zM1581.2 901.5h3.6v3.7h-3.6zM1602 901.5h3.6v3.7h-3.6zM1581.2 904.6h3.6v3.7h-3.6zM1602 904.6h3.6v3.7h-3.6zM1581.2 907.6h3.6v3.7h-3.6zM1602 907.6h3.6v3.7h-3.6zM1581.2 910.7h3.6v3.7h-3.6zM1602 910.7h3.6v3.7h-3.6zM1581.2 913.8h3.6v3.7h-3.6zM1714.9 913.8h9.5v3.7h-9.5zM1581.2 916.8h3.6v3.7h-3.6zM1605 916.8h3.6v3.7h-3.6zM1709 916.8h3.6v3.7h-3.6zM1581.2 919.9h3.6v3.7h-3.6zM1605 919.9h3.6v3.7h-3.6zM1581.2 923h3.6v3.7h-3.6zM1605 923h3.6v3.7h-3.6zM1703.1 923h3.6v3.7h-3.6zM1605 926h3.6v3.7h-3.6zM1700.1 926h6.5v3.7h-6.5zM1697.1 929.1h6.5v3.7h-6.5zM1694.1 932.2h9.5v3.7h-9.5zM1587.1 935.2h3.6v3.7h-3.6zM1605 935.2h3.6v3.7h-3.6zM1691.2 935.2h9.5v3.7h-9.5zM1587.1 938.3h3.6v3.7h-3.6zM1605 938.3h3.6v3.7h-3.6zM1682.2 938.3h12.5v3.7h-12.5zM1605 941.4h3.6v3.7h-3.6zM1676.3 941.4h9.5v3.7h-9.5zM1593.1 944.4h3.6v3.7h-3.6zM1605 944.4h3.6v3.7h-3.6zM1673.3 944.4h3.6v3.7h-3.6zM1599 947.5h3.6v3.7h-3.6zM1605 947.5h3.6v3.7h-3.6zM1670.4 947.5h3.6v3.7h-3.6zM1599 950.6h9.5v3.7h-9.5zM1670.4 950.6h3.6v3.7h-3.6zM1670.4 953.7h3.6v3.7h-3.6zM1667.4 956.7h3.6v3.7h-3.6zM1667.4 959.8h3.6v3.7h-3.6zM1667.4 962.9h3.6v3.7h-3.6zM1667.4 965.9h3.6v3.7h-3.6zM1667.4 969h3.6v3.7h-3.6zM1667.4 972.1h3.6v3.7h-3.6zM1667.4 975.1h3.6v3.7h-3.6zM1667.4 978.2h3.6v3.7h-3.6zM1667.4 981.3h3.6v3.7h-3.6z"/>
<path fill="#1da1f5" d="M1379.1 214.1h3.6v3.7h-3.6zM1379.1 217.2h3.6v3.7h-3.6zM1379.1 220.3h3.6v3.7h-3.6zM1379.1 223.3h3.6v3.7h-3.6zM1379.1 226.4h3.6v3.7h-3.6zM1379.1 229.5h3.6v3.7h-3.6zM1379.1 232.6h3.6v3.7h-3.6zM1379.1 235.6h3.6v3.7h-3.6zM1379.1 238.7h3.6v3.7h-3.6zM1379.1 241.8h3.6v3.7h-3.6zM1379.1 244.8h3.6v3.7h-3.6zM1379.1 247.9h3.6v3.7h-3.6zM1379.1 251h3.6v3.7h-3.6zM1379.1 254h3.6v3.7h-3.6zM1385 257.1h9.5v3.7h-9.5zM1364.2 272.4h3.6v3.7h-3.6zM1367.2 275.5h3.6v3.7h-3.6zM1361.2 278.6h3.6v3.7h-3.6zM1367.2 303.1h3.6v3.7h-3.6zM1367.2 306.2h3.6v3.7h-3.6zM1367.2 309.3h3.6v3.7h-3.6zM1361.2 312.3h3.6v3.7h-3.6zM1361.2 315.4h6.5v3.7h-6.5zM1328.5 318.5h3.6v3.7h-3.6zM1328.5 321.5h3.6v3.7h-3.6zM1405.8 327.7h9.5v3.7h-9.5zM1328.5 330.7h3.6v3.7h-3.6zM1405.8 330.7h9.5v3.7h-9.5zM1328.5 333.8h3.6v3.7h-3.6zM1402.8 333.8h3.6v3.7h-3.6zM1328.5 336.9h3.6v3.7h-3.6zM1328.5 340h3.6v3.7h-3.6zM1328.5 343h3.6v3.7h-3.6zM1325.5 349.2h3.6v3.7h-3.6zM1402.8 392.1h3.6v3.7h-3.6zM1402.8 395.2h3.6v3.7h-3.6zM1405.8 407.5h3.6v3.7h-3.6zM1408.8 419.7h3.6v3.7h-3.6zM1408.8 422.8h3.6v3.7h-3.6zM1411.8 438.1h3.6v3.7h-3.6zM1414.7 450.4h3.6v3.7h-3.6zM1414.7 453.5h3.6v3.7h-3.6zM1417.7 462.7h3.6v3.7h-3.6zM1420.7 468.8h3.6v3.7h-3.6zM1423.6 478h3.6v3.7h-3.6zM1426.6 487.2h3.6v3.7h-3.6zM1429.6 496.4h3.6v3.7h-3.6zM1432.6 502.6h3.6v3.7h-3.6zM1435.5 511.8h3.6v3.7h-3.6zM1441.5 542.5h3.6v3.7h-3.6zM1441.5 551.7h3.6v3.7h-3.6zM1441.5 554.7h3.6v3.7h-3.6zM1444.4 567h3.6v3.7h-3.6zM1447.4 585.4h3.6v3.7h-3.6zM1450.4 594.6h3.6v3.7h-3.6zM1453.4 600.8h3.6v3.7h-3.6zM1456.3 606.9h3.6v3.7h-3.6zM1459.3 613h3.6v3.7h-3.6zM1462.3 619.2h3.6v3.7h-3.6zM1465.3 625.3h3.6v3.7h-3.6zM1468.2 628.4h3.6v3.7h-3.6zM1471.2 634.5h3.6v3.7h-3.6zM1474.2 637.6h3.6v3.7h-3.6zM1486.1 652.9h3.6v3.7h-3.6zM1489 656h3.6v3.7h-3.6zM1492 659.1h3.6v3.7h-3.6zM1495 662.1h3.6v3.7h-3.6zM1498 665.2h3.6v3.7h-3.6zM1503.9 668.3h6.5v3.7h-6.5zM1518.8 668.3h12.5v3.7h-12.5zM1509.8 671.3h21.4v3.7h-21.4zM1545.5 732.7h24.4v3.7h-24.4zM1548.5 735.8h24.4v3.7h-24.4zM1551.5 738.9h21.4v3.7h-21.4zM1551.5 741.9h24.4v3.7h-24.4zM1554.4 745h24.4v3.7h-24.4zM1557.4 748.1h21.4v3.7h-21.4zM1560.4 751.1h21.4v3.7h-21.4zM1563.3 754.2h21.4v3.7h-21.4zM1587.1 855.5h3.6v3.7h-3.6zM1587.1 858.5h6.5v3.7h-6.5zM1587.1 861.6h6.5v3.7h-6.5zM1587.1 864.7h6.5v3.7h-6.5zM1587.1 867.7h9.5v3.7h-9.5zM1587.1 870.8h9.5v3.7h-9.5zM1587.1 873.9h9.5v3.7h-9.5zM1587.1 876.9h9.5v3.7h-9.5zM1587.1 880h9.5v3.7h-9.5zM1584.2 883.1h6.5v3.7h-6.5zM1593.1 883.1h3.6v3.7h-3.6zM1584.2 886.1h6.5v3.7h-6.5zM1593.1 886.1h3.6v3.7h-3.6zM1584.2 889.2h3.6v3.7h-3.6zM1596 889.2h3.6v3.7h-3.6zM1584.2 892.3h3.6v3.7h-3.6zM1596 892.3h3.6v3.7h-3.6zM1584.2 895.3h3.6v3.7h-3.6zM1596 895.3h3.6v3.7h-3.6zM1584.2 898.4h3.6v3.7h-3.6zM1599 898.4h3.6v3.7h-3.6zM1599 901.5h3.6v3.7h-3.6zM1599 904.6h3.6v3.7h-3.6zM1599 907.6h3.6v3.7h-3.6zM1602 913.8h3.6v3.7h-3.6zM1602 916.8h3.6v3.7h-3.6zM1712 916.8h12.5v3.7h-12.5zM1706 919.9h12.5v3.7h-12.5zM1706 923h9.5v3.7h-9.5zM1584.2 926h3.6v3.7h-3.6zM1706 926h9.5v3.7h-9.5zM1584.2 929.1h3.6v3.7h-3.6zM1605 929.1h3.6v3.7h-3.6zM1703.1 929.1h9.5v3.7h-9.5zM1605 932.2h3.6v3.7h-3.6zM1703.1 932.2h9.5v3.7h-9.5zM1700.1 935.2h12.5v3.7h-12.5zM1590.1 938.3h3.6v3.7h-3.6zM1694.1 938.3h12.5v3.7h-12.5zM1593.1 941.4h3.6v3.7h-3.6zM1685.2 941.4h15.5v3.7h-15.5zM1596 944.4h9.5v3.7h-9.5zM1676.3 944.4h12.5v3.7h-12.5zM1602 947.5h3.6v3.7h-3.6zM1673.3 947.5h3.6v3.7h-3.6zM1673.3 950.6h3.6v3.7h-3.6zM1673.3 953.7h3.6v3.7h-3.6zM1670.4 956.7h3.6v3.7h-3.6zM1670.4 959.8h3.6v3.7h-3.6zM1670.4 962.9h3.6v3.7h-3.6zM1670.4 965.9h3.6v3.7h-3.6zM1670.4 969h3.6v3.7h-3.6zM1670.4 972.1h3.6v3.7h-3.6zM1670.4 975.1h3.6v3.7h-3.6zM1670.4 978.2h3.6v3.7h-3.6zM1670.4 981.3h3.6v3.7h-3.6z"/>
<path fill="#18a8f0" d="M1382 214.1h6.5v3.7h-6.5zM1382 217.2h6.5v3.7h-6.5zM1382 220.3h6.5v3.7h-6.5zM1382 223.3h6.5v3.7h-6.5zM1382 226.4h6.5v3.7h-6.5zM1382 229.5h12.5v3.7h-12.5zM1382 232.6h3.6v3.7h-3.6zM1382 254h3.6v3.7h-3.6zM1393.9 257.1h6.5v3.7h-6.5zM1364.2 275.5h3.6v3.7h-3.6zM1367.2 278.6h3.6v3.7h-3.6zM1367.2 281.6h3.6v3.7h-3.6zM1367.2 284.7h3.6v3.7h-3.6zM1367.2 287.8h3.6v3.7h-3.6zM1367.2 290.9h3.6v3.7h-3.6zM1367.2 293.9h3.6v3.7h-3.6zM1367.2 297h3.6v3.7h-3.6zM1367.2 300.1h3.6v3.7h-3.6zM1361.2 303.1h3.6v3.7h-3.6zM1361.2 306.2h3.6v3.7h-3.6zM1361.2 309.3h6.5v3.7h-6.5zM1328.5 312.3h3.6v3.7h-3.6zM1364.2 312.3h3.6v3.7h-3.6zM1328.5 315.4h3.6v3.7h-3.6zM1402.8 336.9h3.6v3.7h-3.6zM1325.5 346.1h3.6v3.7h-3.6zM1402.8 364.5h3.6v3.7h-3.6zM1402.8 367.6h3.6v3.7h-3.6zM1402.8 389h3.6v3.7h-3.6zM1405.8 404.4h3.6v3.7h-3.6zM1408.8 416.7h3.6v3.7h-3.6zM1411.8 435.1h3.6v3.7h-3.6zM1414.7 447.3h3.6v3.7h-3.6zM1420.7 465.8h3.6v3.7h-3.6zM1423.6 475h3.6v3.7h-3.6zM1426.6 484.2h3.6v3.7h-3.6zM1429.6 493.4h3.6v3.7h-3.6zM1432.6 499.5h3.6v3.7h-3.6zM1435.5 508.7h3.6v3.7h-3.6zM1438.5 517.9h3.6v3.7h-3.6zM1438.5 521h3.6v3.7h-3.6zM1438.5 524.1h3.6v3.7h-3.6zM1444.4 564h3.6v3.7h-3.6zM1447.4 582.4h3.6v3.7h-3.6zM1450.4 591.6h3.6v3.7h-3.6zM1453.4 597.7h3.6v3.7h-3.6zM1456.3 603.8h3.6v3.7h-3.6zM1459.3 610h3.6v3.7h-3.6zM1462.3 616.1h3.6v3.7h-3.6zM1465.3 622.3h3.6v3.7h-3.6zM1471.2 631.5h3.6v3.7h-3.6zM1474.2 634.5h3.6v3.7h-3.6zM1477.1 640.7h3.6v3.7h-3.6zM1480.1 643.7h3.6v3.7h-3.6zM1483.1 646.8h3.6v3.7h-3.6zM1486.1 649.9h3.6v3.7h-3.6zM1489 652.9h3.6v3.7h-3.6zM1492 656h3.6v3.7h-3.6zM1500.9 665.2h3.6v3.7h-3.6zM1509.8 668.3h9.5v3.7h-9.5zM1590.1 883.1h3.6v3.7h-3.6zM1590.1 886.1h3.6v3.7h-3.6zM1587.1 889.2h9.5v3.7h-9.5zM1587.1 892.3h9.5v3.7h-9.5zM1587.1 895.3h9.5v3.7h-9.5zM1587.1 898.4h3.6v3.7h-3.6zM1593.1 898.4h6.5v3.7h-6.5zM1584.2 901.5h6.5v3.7h-6.5zM1596 901.5h3.6v3.7h-3.6zM1584.2 904.6h3.6v3.7h-3.6zM1596 904.6h3.6v3.7h-3.6zM1584.2 907.6h3.6v3.7h-3.6zM1596 907.6h3.6v3.7h-3.6zM1584.2 910.7h3.6v3.7h-3.6zM1599 910.7h3.6v3.7h-3.6zM1584.2 913.8h3.6v3.7h-3.6zM1599 913.8h3.6v3.7h-3.6zM1584.2 916.8h3.6v3.7h-3.6zM1584.2 919.9h3.6v3.7h-3.6zM1602 919.9h3.6v3.7h-3.6zM1717.9 919.9h15.5v3.7h-15.5zM1584.2 923h3.6v3.7h-3.6zM1602 923h3.6v3.7h-3.6zM1714.9 923h18.4v3.7h-18.4zM1602 926h3.6v3.7h-3.6zM1714.9 926h12.5v3.7h-12.5zM1602 929.1h3.6v3.7h-3.6zM1712 929.1h12.5v3.7h-12.5zM1587.1 932.2h3.6v3.7h-3.6zM1602 932.2h3.6v3.7h-3.6zM1712 932.2h9.5v3.7h-9.5zM1602 935.2h3.6v3.7h-3.6zM1712 935.2h9.5v3.7h-9.5zM1602 938.3h3.6v3.7h-3.6zM1706 938.3h12.5v3.7h-12.5zM1596 941.4h9.5v3.7h-9.5zM1700.1 941.4h15.5v3.7h-15.5zM1688.2 944.4h21.4v3.7h-21.4zM1676.3 947.5h15.5v3.7h-15.5zM1676.3 950.6h6.5v3.7h-6.5zM1676.3 953.7h3.6v3.7h-3.6zM1673.3 956.7h3.6v3.7h-3.6zM1673.3 959.8h3.6v3.7h-3.6zM1673.3 962.9h3.6v3.7h-3.6zM1673.3 965.9h3.6v3.7h-3.6zM1673.3 969h3.6v3.7h-3.6zM1673.3 972.1h3.6v3.7h-3.6zM1673.3 975.1h3.6v3.7h-3.6zM1673.3 978.2h3.6v3.7h-3.6zM1673.3 981.3h3.6v3.7h-3.6z"/>
<path fill="#14b1e7" d="M1385 232.6h6.5v3.7h-6.5zM1382 235.6h3.6v3.7h-3.6zM1382 238.7h3.6v3.7h-3.6zM1382 241.8h3.6v3.7h-3.6zM1382 244.8h3.6v3.7h-3.6zM1382 247.9h3.6v3.7h-3.6zM1382 251h3.6v3.7h-3.6zM1385 254h6.5v3.7h-6.5zM1364.2 278.6h3.6v3.7h-3.6zM1361.2 281.6h3.6v3.7h-3.6zM1361.2 284.7h3.6v3.7h-3.6zM1361.2 287.8h3.6v3.7h-3.6zM1361.2 290.9h3.6v3.7h-3.6zM1361.2 293.9h3.6v3.7h-3.6zM1361.2 297h3.6v3.7h-3.6zM1361.2 300.1h3.6v3.7h-3.6zM1364.2 303.1h3.6v3.7h-3.6zM1364.2 306.2h3.6v3.7h-3.6zM1325.5 327.7h3.6v3.7h-3.6zM1405.8 333.8h3.6v3.7h-3.6zM1402.8 340h3.6v3.7h-3.6zM1402.8 349.2h3.6v3.7h-3.6zM1402.8 352.2h3.6v3.7h-3.6zM1402.8 355.3h3.6v3.7h-3.6zM1402.8 358.4h3.6v3.7h-3.6zM1402.8 361.4h3.6v3.7h-3.6zM1402.8 370.6h3.6v3.7h-3.6zM1402.8 373.7h3.6v3.7h-3.6zM1402.8 376.8h3.6v3.7h-3.6zM1402.8 379.8h3.6v3.7h-3.6zM1402.8 382.9h3.6v3.7h-3.6zM1402.8 386h3.6v3.7h-3.6zM1405.8 401.3h3.6v3.7h-3.6zM1408.8 413.6h3.6v3.7h-3.6zM1411.8 428.9h3.6v3.7h-3.6zM1411.8 432h3.6v3.7h-3.6zM1414.7 444.3h3.6v3.7h-3.6zM1417.7 456.6h3.6v3.7h-3.6zM1417.7 459.6h3.6v3.7h-3.6zM1423.6 471.9h3.6v3.7h-3.6zM1426.6 481.1h3.6v3.7h-3.6zM1429.6 490.3h3.6v3.7h-3.6zM1432.6 496.4h3.6v3.7h-3.6zM1435.5 502.6h3.6v3.7h-3.6zM1435.5 505.6h3.6v3.7h-3.6zM1441.5 539.4h3.6v3.7h-3.6zM1444.4 560.9h3.6v3.7h-3.6zM1447.4 573.2h3.6v3.7h-3.6zM1447.4 576.2h3.6v3.7h-3.6zM1447.4 579.3h3.6v3.7h-3.6zM1450.4 588.5h3.6v3.7h-3.6zM1453.4 594.6h3.6v3.7h-3.6zM1456.3 600.8h3.6v3.7h-3.6zM1459.3 606.9h3.6v3.7h-3.6zM1462.3 613h3.6v3.7h-3.6zM1465.3 619.2h3.6v3.7h-3.6zM1468.2 625.3h3.6v3.7h-3.6zM1471.2 628.4h3.6v3.7h-3.6zM1477.1 637.6h3.6v3.7h-3.6zM1480.1 640.7h3.6v3.7h-3.6zM1495 659.1h3.6v3.7h-3.6zM1498 662.1h3.6v3.7h-3.6zM1503.9 665.2h3.6v3.7h-3.6zM1590.1 898.4h3.6v3.7h-3.6zM1590.1 901.5h6.5v3.7h-6.5zM1587.1 904.6h9.5v3.7h-9.5zM1587.1 907.6h9.5v3.7h-9.5zM1587.1 910.7h3.6v3.7h-3.6zM1596 910.7h3.6v3.7h-3.6zM1587.1 913.8h3.6v3.7h-3.6zM1599 916.8h3.6v3.7h-3.6zM1587.1 919.9h3.6v3.7h-3.6zM1599 919.9h3.6v3.7h-3.6zM1587.1 923h3.6v3.7h-3.6zM1599 923h3.6v3.7h-3.6zM1587.1 926h3.6v3.7h-3.6zM1599 926h3.6v3.7h-3.6zM1726.8 926h6.5v3.7h-6.5zM1587.1 929.1h3.6v3.7h-3.6zM1599 929.1h3.6v3.7h-3.6zM1723.9 929.1h9.5v3.7h-9.5zM1720.9 932.2h12.5v3.7h-12.5zM1590.1 935.2h3.6v3.7h-3.6zM1720.9 935.2h12.5v3.7h-12.5zM1593.1 938.3h9.5v3.7h-9.5zM1717.9 938.3h15.5v3.7h-15.5zM1714.9 941.4h18.4v3.7h-18.4zM1709 944.4h24.4v3.7h-24.4zM1691.2 947.5h39.2v3.7h-39.2zM1682.2 950.6h39.2v3.7h-39.2zM1679.3 953.7h15.5v3.7h-15.5zM1717.9 953.7h3.6v3.7h-3.6zM1676.3 956.7h6.5v3.7h-6.5zM1676.3 959.8h3.6v3.7h-3.6zM1676.3 962.9h3.6v3.7h-3.6zM1717.9 962.9h6.5v3.7h-6.5zM1676.3 965.9h3.6v3.7h-3.6zM1714.9 965.9h3.6v3.7h-3.6zM1676.3 969h3.6v3.7h-3.6zM1709 969h9.5v3.7h-9.5zM1676.3 972.1h3.6v3.7h-3.6zM1706 972.1h12.5v3.7h-12.5zM1676.3 975.1h3.6v3.7h-3.6zM1706 975.1h12.5v3.7h-12.5zM1676.3 978.2h3.6v3.7h-3.6z"/>
<path fill="#0ebcdf" d="M1390.9 232.6h3.6v3.7h-3.6zM1385 235.6h9.5v3.7h-9.5zM1385 238.7h9.5v3.7h-9.5zM1385 241.8h9.5v3.7h-9.5zM1385 244.8h9.5v3.7h-9.5zM1385 247.9h9.5v3.7h-9.5zM1385 251h9.5v3.7h-9.5zM1390.9 254h3.6v3.7h-3.6zM1364.2 300.1h3.6v3.7h-3.6zM1328.5 309.3h3.6v3.7h-3.6zM1325.5 321.5h3.6v3.7h-3.6zM1325.5 324.6h3.6v3.7h-3.6zM1325.5 330.7h3.6v3.7h-3.6zM1408.8 333.8h6.5v3.7h-6.5zM1325.5 343h3.6v3.7h-3.6zM1402.8 343h3.6v3.7h-3.6zM1402.8 346.1h3.6v3.7h-3.6zM1405.8 398.3h3.6v3.7h-3.6zM1408.8 410.5h3.6v3.7h-3.6zM1411.8 425.9h3.6v3.7h-3.6zM1414.7 441.2h3.6v3.7h-3.6zM1417.7 453.5h3.6v3.7h-3.6zM1423.6 468.8h3.6v3.7h-3.6zM1426.6 478h3.6v3.7h-3.6zM1429.6 487.2h3.6v3.7h-3.6zM1432.6 493.4h3.6v3.7h-3.6zM1438.5 514.9h3.6v3.7h-3.6zM1441.5 536.3h3.6v3.7h-3.6zM1447.4 570.1h3.6v3.7h-3.6zM1450.4 585.4h3.6v3.7h-3.6zM1453.4 591.6h3.6v3.7h-3.6zM1462.3 610h3.6v3.7h-3.6zM1465.3 616.1h3.6v3.7h-3.6zM1468.2 622.3h3.6v3.7h-3.6zM1474.2 631.5h3.6v3.7h-3.6zM1483.1 643.7h3.6v3.7h-3.6zM1486.1 646.8h3.6v3.7h-3.6zM1489 649.9h3.6v3.7h-3.6zM1492 652.9h3.6v3.7h-3.6zM1500.9 662.1h3.6v3.7h-3.6zM1506.9 665.2h6.5v3.7h-6.5zM1518.8 665.2h12.5v3.7h-12.5zM1590.1 910.7h6.5v3.7h-6.5zM1593.1 913.8h6.5v3.7h-6.5zM1587.1 916.8h3.6v3.7h-3.6zM1596 916.8h3.6v3.7h-3.6zM1590.1 923h3.6v3.7h-3.6zM1590.1 926h3.6v3.7h-3.6zM1596 926h3.6v3.7h-3.6zM1590.1 929.1h3.6v3.7h-3.6zM1596 929.1h3.6v3.7h-3.6zM1590.1 932.2h3.6v3.7h-3.6zM1599 932.2h3.6v3.7h-3.6zM1593.1 935.2h9.5v3.7h-9.5zM1729.8 947.5h3.6v3.7h-3.6zM1720.9 950.6h12.5v3.7h-12.5zM1694.1 953.7h24.4v3.7h-24.4zM1720.9 953.7h12.5v3.7h-12.5zM1682.2 956.7h51.1v3.7h-51.1zM1679.3 959.8h12.5v3.7h-12.5zM1706 959.8h27.4v3.7h-27.4zM1679.3 962.9h9.5v3.7h-9.5zM1703.1 962.9h15.5v3.7h-15.5zM1679.3 965.9h6.5v3.7h-6.5zM1700.1 965.9h15.5v3.7h-15.5zM1679.3 969h6.5v3.7h-6.5zM1697.1 969h12.5v3.7h-12.5zM1679.3 972.1h6.5v3.7h-6.5zM1694.1 972.1h12.5v3.7h-12.5zM1679.3 975.1h6.5v3.7h-6.5zM1694.1 975.1h12.5v3.7h-12.5zM1679.3 978.2h6.5v3.7h-6.5zM1694.1 978.2h12.5v3.7h-12.5zM1676.3 981.3h9.5v3.7h-9.5zM1694.1 981.3h12.5v3.7h-12.5zM1676.3 984.3h9.5v3.7h-9.5zM1694.1 984.3h3.6v3.7h-3.6z"/>
<path fill="#0ac5cf" d="M1364.2 281.6h3.6v3.7h-3.6zM1364.2 284.7h3.6v3.7h-3.6zM1364.2 287.8h3.6v3.7h-3.6zM1364.2 290.9h3.6v3.7h-3.6zM1364.2 293.9h3.6v3.7h-3.6zM1364.2 297h3.6v3.7h-3.6zM1328.5 306.2h3.6v3.7h-3.6zM1325.5 315.4h3.6v3.7h-3.6zM1325.5 318.5h3.6v3.7h-3.6zM1325.5 333.8h3.6v3.7h-3.6zM1325.5 336.9h3.6v3.7h-3.6zM1405.8 336.9h3.6v3.7h-3.6zM1325.5 340h3.6v3.7h-3.6zM1316.6 343h9.5v3.7h-9.5zM1405.8 395.2h3.6v3.7h-3.6zM1411.8 419.7h3.6v3.7h-3.6zM1411.8 422.8h3.6v3.7h-3.6zM1414.7 438.1h3.6v3.7h-3.6zM1420.7 462.7h3.6v3.7h-3.6zM1426.6 475h3.6v3.7h-3.6zM1429.6 484.2h3.6v3.7h-3.6zM1435.5 499.5h3.6v3.7h-3.6zM1438.5 511.8h3.6v3.7h-3.6zM1441.5 530.2h3.6v3.7h-3.6zM1441.5 533.3h3.6v3.7h-3.6zM1444.4 551.7h3.6v3.7h-3.6zM1444.4 554.7h3.6v3.7h-3.6zM1444.4 557.8h3.6v3.7h-3.6zM1447.4 567h3.6v3.7h-3.6zM1456.3 597.7h3.6v3.7h-3.6zM1459.3 603.8h3.6v3.7h-3.6zM1471.2 625.3h3.6v3.7h-3.6zM1477.1 634.5h3.6v3.7h-3.6zM1480.1 637.6h3.6v3.7h-3.6zM1483.1 640.7h3.6v3.7h-3.6zM1495 656h3.6v3.7h-3.6zM1498 659.1h3.6v3.7h-3.6zM1503.9 662.1h3.6v3.7h-3.6zM1512.8 665.2h6.5v3.7h-6.5zM1590.1 913.8h3.6v3.7h-3.6zM1590.1 916.8h3.6v3.7h-3.6zM1590.1 919.9h9.5v3.7h-9.5zM1593.1 923h6.5v3.7h-6.5zM1593.1 926h3.6v3.7h-3.6zM1593.1 929.1h3.6v3.7h-3.6zM1593.1 932.2h6.5v3.7h-6.5zM1691.2 959.8h15.5v3.7h-15.5zM1688.2 962.9h15.5v3.7h-15.5zM1685.2 965.9h15.5v3.7h-15.5zM1685.2 969h12.5v3.7h-12.5zM1685.2 972.1h9.5v3.7h-9.5zM1685.2 975.1h9.5v3.7h-9.5zM1685.2 978.2h9.5v3.7h-9.5zM1685.2 981.3h9.5v3.7h-9.5zM1685.2 984.3h9.5v3.7h-9.5z"/>
<path fill="#07cdbc" d="M1325.5 312.3h3.6v3.7h-3.6zM1408.8 336.9h6.5v3.7h-6.5zM1405.8 340h3.6v3.7h-3.6zM1405.8 392.1h3.6v3.7h-3.6zM1408.8 407.5h3.6v3.7h-3.6zM1411.8 416.7h3.6v3.7h-3.6zM1414.7 435.1h3.6v3.7h-3.6zM1417.7 450.4h3.6v3.7h-3.6zM1420.7 459.6h3.6v3.7h-3.6zM1423.6 465.8h3.6v3.7h-3.6zM1426.6 471.9h3.6v3.7h-3.6zM1429.6 481.1h3.6v3.7h-3.6zM1432.6 490.3h3.6v3.7h-3.6zM1435.5 496.4h3.6v3.7h-3.6zM1438.5 508.7h3.6v3.7h-3.6zM1441.5 527.1h3.6v3.7h-3.6zM1444.4 545.5h3.6v3.7h-3.6zM1444.4 548.6h3.6v3.7h-3.6zM1447.4 564h3.6v3.7h-3.6zM1450.4 573.2h3.6v3.7h-3.6zM1450.4 576.2h3.6v3.7h-3.6zM1450.4 579.3h3.6v3.7h-3.6zM1450.4 582.4h3.6v3.7h-3.6zM1453.4 588.5h3.6v3.7h-3.6zM1456.3 594.6h3.6v3.7h-3.6zM1459.3 600.8h3.6v3.7h-3.6zM1462.3 606.9h3.6v3.7h-3.6zM1465.3 613h3.6v3.7h-3.6zM1468.2 619.2h3.6v3.7h-3.6zM1471.2 622.3h3.6v3.7h-3.6zM1474.2 628.4h3.6v3.7h-3.6zM1477.1 631.5h3.6v3.7h-3.6zM1486.1 643.7h3.6v3.7h-3.6zM1489 646.8h3.6v3.7h-3.6zM1492 649.9h3.6v3.7h-3.6zM1495 652.9h3.6v3.7h-3.6zM1500.9 659.1h3.6v3.7h-3.6zM1506.9 662.1h3.6v3.7h-3.6zM1593.1 916.8h3.6v3.7h-3.6z"/>
<path fill="#05cfa8" d="M1328.5 303.1h3.6v3.7h-3.6zM1325.5 309.3h3.6v3.7h-3.6zM1316.6 340h9.5v3.7h-9.5zM1405.8 343h3.6v3.7h-3.6zM1405.8 352.2h3.6v3.7h-3.6zM1405.8 355.3h3.6v3.7h-3.6zM1405.8 358.4h3.6v3.7h-3.6zM1405.8 367.6h3.6v3.7h-3.6zM1405.8 370.6h3.6v3.7h-3.6zM1405.8 373.7h3.6v3.7h-3.6zM1405.8 376.8h3.6v3.7h-3.6zM1408.8 404.4h3.6v3.7h-3.6zM1414.7 432h3.6v3.7h-3.6zM1417.7 447.3h3.6v3.7h-3.6zM1429.6 478h3.6v3.7h-3.6zM1432.6 487.2h3.6v3.7h-3.6zM1438.5 502.6h3.6v3.7h-3.6zM1438.5 505.6h3.6v3.7h-3.6zM1441.5 517.9h3.6v3.7h-3.6zM1441.5 521h3.6v3.7h-3.6zM1441.5 524.1h3.6v3.7h-3.6zM1453.4 585.4h3.6v3.7h-3.6zM1465.3 610h3.6v3.7h-3.6zM1468.2 616.1h3.6v3.7h-3.6zM1474.2 625.3h3.6v3.7h-3.6zM1480.1 634.5h3.6v3.7h-3.6zM1483.1 637.6h3.6v3.7h-3.6zM1486.1 640.7h3.6v3.7h-3.6zM1489 643.7h3.6v3.7h-3.6zM1498 656h3.6v3.7h-3.6zM1509.8 662.1h3.6v3.7h-3.6z"/>
<path fill="#02d095" d="M1328.5 300.1h3.6v3.7h-3.6zM1325.5 306.2h3.6v3.7h-3.6zM1408.8 340h9.5v3.7h-9.5zM1405.8 346.1h3.6v3.7h-3.6zM1405.8 349.2h3.6v3.7h-3.6zM1405.8 361.4h3.6v3.7h-3.6zM1405.8 364.5h3.6v3.7h-3.6zM1405.8 379.8h3.6v3.7h-3.6zM1405.8 382.9h3.6v3.7h-3.6zM1405.8 386h3.6v3.7h-3.6zM1405.8 389h3.6v3.7h-3.6zM1408.8 401.3h3.6v3.7h-3.6zM1411.8 413.6h3.6v3.7h-3.6zM1414.7 428.9h3.6v3.7h-3.6zM1417.7 444.3h3.6v3.7h-3.6zM1420.7 456.6h3.6v3.7h-3.6zM1426.6 468.8h3.6v3.7h-3.6zM1432.6 484.2h3.6v3.7h-3.6zM1435.5 493.4h3.6v3.7h-3.6zM1438.5 499.5h3.6v3.7h-3.6zM1444.4 542.5h3.6v3.7h-3.6zM1447.4 560.9h3.6v3.7h-3.6zM1450.4 570.1h3.6v3.7h-3.6zM1456.3 591.6h3.6v3.7h-3.6zM1459.3 597.7h3.6v3.7h-3.6zM1462.3 603.8h3.6v3.7h-3.6zM1468.2 613h3.6v3.7h-3.6zM1471.2 619.2h3.6v3.7h-3.6zM1477.1 628.4h3.6v3.7h-3.6zM1480.1 631.5h3.6v3.7h-3.6zM1492 646.8h3.6v3.7h-3.6zM1495 649.9h3.6v3.7h-3.6zM1498 652.9h3.6v3.7h-3.6zM1503.9 659.1h3.6v3.7h-3.6zM1512.8 662.1h18.4v3.7h-18.4z"/>
<path fill="#00ce83" d="M1322.6 327.7h3.6v3.7h-3.6zM1322.6 330.7h3.6v3.7h-3.6zM1316.6 336.9h9.5v3.7h-9.5zM1408.8 398.3h3.6v3.7h-3.6zM1414.7 425.9h3.6v3.7h-3.6zM1417.7 441.2h3.6v3.7h-3.6zM1420.7 453.5h3.6v3.7h-3.6zM1423.6 462.7h3.6v3.7h-3.6zM1429.6 475h3.6v3.7h-3.6zM1435.5 490.3h3.6v3.7h-3.6zM1441.5 514.9h3.6v3.7h-3.6zM1444.4 539.4h3.6v3.7h-3.6zM1450.4 567h3.6v3.7h-3.6zM1453.4 582.4h3.6v3.7h-3.6zM1456.3 588.5h3.6v3.7h-3.6zM1459.3 594.6h3.6v3.7h-3.6zM1462.3 600.8h3.6v3.7h-3.6zM1465.3 606.9h3.6v3.7h-3.6zM1471.2 616.1h3.6v3.7h-3.6zM1474.2 622.3h3.6v3.7h-3.6zM1477.1 625.3h3.6v3.7h-3.6zM1483.1 634.5h3.6v3.7h-3.6zM1486.1 637.6h3.6v3.7h-3.6zM1489 640.7h3.6v3.7h-3.6zM1492 643.7h3.6v3.7h-3.6zM1500.9 656h3.6v3.7h-3.6zM1506.9 659.1h3.6v3.7h-3.6z"/>
<path fill="#00c872" d="M1328.5 297h3.6v3.7h-3.6zM1325.5 303.1h3.6v3.7h-3.6zM1322.6 324.6h3.6v3.7h-3.6zM1322.6 333.8h3.6v3.7h-3.6zM1408.8 343h9.5v3.7h-9.5zM1411.8 410.5h3.6v3.7h-3.6zM1414.7 419.7h3.6v3.7h-3.6zM1414.7 422.8h3.6v3.7h-3.6zM1417.7 438.1h3.6v3.7h-3.6zM1420.7 450.4h3.6v3.7h-3.6zM1423.6 459.6h3.6v3.7h-3.6zM1426.6 465.8h3.6v3.7h-3.6zM1429.6 471.9h3.6v3.7h-3.6zM1432.6 481.1h3.6v3.7h-3.6zM1441.5 511.8h3.6v3.7h-3.6zM1444.4 536.3h3.6v3.7h-3.6zM1447.4 554.7h3.6v3.7h-3.6zM1447.4 557.8h3.6v3.7h-3.6zM1453.4 573.2h3.6v3.7h-3.6zM1453.4 576.2h3.6v3.7h-3.6zM1453.4 579.3h3.6v3.7h-3.6zM1456.3 585.4h3.6v3.7h-3.6zM1468.2 610h3.6v3.7h-3.6zM1474.2 619.2h3.6v3.7h-3.6zM1480.1 628.4h3.6v3.7h-3.6zM1483.1 631.5h3.6v3.7h-3.6zM1495 646.8h3.6v3.7h-3.6zM1498 649.9h3.6v3.7h-3.6zM1500.9 652.9h3.6v3.7h-3.6zM1503.9 656h3.6v3.7h-3.6zM1509.8 659.1h3.6v3.7h-3.6z"/>
<path fill="#02c261" d="M1328.5 290.9h3.6v3.7h-3.6zM1328.5 293.9h3.6v3.7h-3.6zM1325.5 300.1h3.6v3.7h-3.6zM1322.6 321.5h3.6v3.7h-3.6zM1316.6 333.8h6.5v3.7h-6.5zM1408.8 346.1h3.6v3.7h-3.6zM1408.8 349.2h3.6v3.7h-3.6zM1408.8 352.2h3.6v3.7h-3.6zM1408.8 355.3h3.6v3.7h-3.6zM1408.8 358.4h3.6v3.7h-3.6zM1408.8 361.4h3.6v3.7h-3.6zM1408.8 364.5h3.6v3.7h-3.6zM1408.8 376.8h3.6v3.7h-3.6zM1408.8 379.8h3.6v3.7h-3.6zM1408.8 382.9h3.6v3.7h-3.6zM1408.8 392.1h3.6v3.7h-3.6zM1408.8 395.2h3.6v3.7h-3.6zM1411.8 407.5h3.6v3.7h-3.6zM1414.7 416.7h3.6v3.7h-3.6zM1417.7 432h3.6v3.7h-3.6zM1417.7 435.1h3.6v3.7h-3.6zM1420.7 447.3h3.6v3.7h-3.6zM1429.6 468.8h3.6v3.7h-3.6zM1432.6 478h3.6v3.7h-3.6zM1435.5 487.2h3.6v3.7h-3.6zM1438.5 496.4h3.6v3.7h-3.6zM1441.5 505.6h3.6v3.7h-3.6zM1441.5 508.7h3.6v3.7h-3.6zM1444.4 533.3h3.6v3.7h-3.6zM1447.4 548.6h3.6v3.7h-3.6zM1447.4 551.7h3.6v3.7h-3.6zM1450.4 564h3.6v3.7h-3.6zM1459.3 591.6h3.6v3.7h-3.6zM1462.3 597.7h3.6v3.7h-3.6zM1465.3 603.8h3.6v3.7h-3.6zM1468.2 606.9h3.6v3.7h-3.6zM1471.2 613h3.6v3.7h-3.6zM1477.1 622.3h3.6v3.7h-3.6zM1480.1 625.3h3.6v3.7h-3.6zM1486.1 634.5h3.6v3.7h-3.6zM1489 637.6h3.6v3.7h-3.6zM1492 640.7h3.6v3.7h-3.6zM1495 643.7h3.6v3.7h-3.6zM1512.8 659.1h15.5v3.7h-15.5z"/>
<path fill="#07bb50" d="M1328.5 284.7h3.6v3.7h-3.6zM1328.5 287.8h3.6v3.7h-3.6zM1325.5 297h3.6v3.7h-3.6zM1322.6 318.5h3.6v3.7h-3.6zM1411.8 346.1h6.5v3.7h-6.5zM1408.8 367.6h3.6v3.7h-3.6zM1408.8 370.6h3.6v3.7h-3.6zM1408.8 373.7h3.6v3.7h-3.6zM1408.8 386h3.6v3.7h-3.6zM1408.8 389h3.6v3.7h-3.6zM1411.8 404.4h3.6v3.7h-3.6zM1417.7 428.9h3.6v3.7h-3.6zM1420.7 444.3h3.6v3.7h-3.6zM1423.6 456.6h3.6v3.7h-3.6zM1432.6 475h3.6v3.7h-3.6zM1435.5 484.2h3.6v3.7h-3.6zM1438.5 493.4h3.6v3.7h-3.6zM1441.5 502.6h3.6v3.7h-3.6zM1444.4 527.1h3.6v3.7h-3.6zM1444.4 530.2h3.6v3.7h-3.6zM1453.4 570.1h3.6v3.7h-3.6zM1456.3 582.4h3.6v3.7h-3.6zM1459.3 588.5h3.6v3.7h-3.6zM1462.3 594.6h3.6v3.7h-3.6zM1465.3 600.8h3.6v3.7h-3.6zM1471.2 610h3.6v3.7h-3.6zM1474.2 616.1h3.6v3.7h-3.6zM1483.1 628.4h3.6v3.7h-3.6zM1486.1 631.5h3.6v3.7h-3.6zM1498 646.8h3.6v3.7h-3.6zM1500.9 649.9h3.6v3.7h-3.6zM1503.9 652.9h3.6v3.7h-3.6zM1506.9 656h3.6v3.7h-3.6z"/>
<path fill="#0cb440" d="M1328.5 260.2h3.6v3.7h-3.6zM1328.5 263.2h3.6v3.7h-3.6zM1328.5 266.3h3.6v3.7h-3.6zM1328.5 269.4h3.6v3.7h-3.6zM1328.5 272.4h3.6v3.7h-3.6zM1328.5 275.5h3.6v3.7h-3.6zM1325.5 278.6h6.5v3.7h-6.5zM1325.5 281.6h6.5v3.7h-6.5zM1325.5 284.7h3.6v3.7h-3.6zM1325.5 287.8h3.6v3.7h-3.6zM1325.5 290.9h3.6v3.7h-3.6zM1325.5 293.9h3.6v3.7h-3.6zM1322.6 315.4h3.6v3.7h-3.6zM1316.6 330.7h6.5v3.7h-6.5zM1411.8 352.2h3.6v3.7h-3.6zM1411.8 355.3h3.6v3.7h-3.6zM1411.8 358.4h3.6v3.7h-3.6zM1411.8 398.3h3.6v3.7h-3.6zM1411.8 401.3h3.6v3.7h-3.6zM1414.7 413.6h3.6v3.7h-3.6zM1417.7 425.9h3.6v3.7h-3.6zM1420.7 441.2h3.6v3.7h-3.6zM1423.6 453.5h3.6v3.7h-3.6zM1426.6 462.7h3.6v3.7h-3.6zM1444.4 521h3.6v3.7h-3.6zM1444.4 524.1h3.6v3.7h-3.6zM1447.4 545.5h3.6v3.7h-3.6zM1450.4 560.9h3.6v3.7h-3.6zM1456.3 576.2h3.6v3.7h-3.6zM1456.3 579.3h3.6v3.7h-3.6zM1468.2 603.8h3.6v3.7h-3.6zM1474.2 613h3.6v3.7h-3.6zM1477.1 619.2h3.6v3.7h-3.6zM1480.1 622.3h3.6v3.7h-3.6zM1483.1 625.3h3.6v3.7h-3.6zM1489 634.5h3.6v3.7h-3.6zM1492 637.6h3.6v3.7h-3.6zM1495 640.7h3.6v3.7h-3.6zM1498 643.7h3.6v3.7h-3.6z"/>
<path fill="#12b032" d="M1325.5 201.9h6.5v3.7h-6.5zM1325.5 204.9h6.5v3.7h-6.5zM1325.5 208h6.5v3.7h-6.5zM1325.5 211.1h6.5v3.7h-6.5zM1325.5 214.1h6.5v3.7h-6.5zM1325.5 217.2h6.5v3.7h-6.5zM1325.5 220.3h6.5v3.7h-6.5zM1325.5 223.3h6.5v3.7h-6.5zM1325.5 226.4h6.5v3.7h-6.5zM1325.5 229.5h6.5v3.7h-6.5zM1325.5 232.6h6.5v3.7h-6.5zM1325.5 235.6h6.5v3.7h-6.5zM1325.5 238.7h6.5v3.7h-6.5zM1325.5 241.8h6.5v3.7h-6.5zM1325.5 244.8h6.5v3.7h-6.5zM1325.5 247.9h6.5v3.7h-6.5zM1325.5 251h6.5v3.7h-6.5zM1325.5 254h6.5v3.7h-6.5zM1325.5 257.1h6.5v3.7h-6.5zM1325.5 260.2h3.6v3.7h-3.6zM1325.5 263.2h3.6v3.7h-3.6zM1325.5 266.3h3.6v3.7h-3.6zM1325.5 269.4h3.6v3.7h-3.6zM1325.5 272.4h3.6v3.7h-3.6zM1325.5 275.5h3.6v3.7h-3.6zM1322.6 312.3h3.6v3.7h-3.6zM1319.6 327.7h3.6v3.7h-3.6zM1411.8 349.2h9.5v3.7h-9.5zM1414.7 352.2h6.5v3.7h-6.5zM1414.7 355.3h6.5v3.7h-6.5zM1414.7 358.4h3.6v3.7h-3.6zM1411.8 361.4h3.6v3.7h-3.6zM1411.8 364.5h3.6v3.7h-3.6zM1411.8 367.6h3.6v3.7h-3.6zM1411.8 392.1h3.6v3.7h-3.6zM1411.8 395.2h3.6v3.7h-3.6zM1414.7 410.5h3.6v3.7h-3.6zM1417.7 419.7h3.6v3.7h-3.6zM1417.7 422.8h3.6v3.7h-3.6zM1420.7 438.1h3.6v3.7h-3.6zM1423.6 450.4h3.6v3.7h-3.6zM1426.6 459.6h3.6v3.7h-3.6zM1429.6 465.8h3.6v3.7h-3.6zM1432.6 471.9h3.6v3.7h-3.6zM1435.5 481.1h3.6v3.7h-3.6zM1438.5 490.3h3.6v3.7h-3.6zM1441.5 499.5h3.6v3.7h-3.6zM1444.4 517.9h3.6v3.7h-3.6zM1453.4 567h3.6v3.7h-3.6zM1456.3 573.2h3.6v3.7h-3.6zM1459.3 585.4h3.6v3.7h-3.6zM1462.3 591.6h3.6v3.7h-3.6zM1465.3 597.7h3.6v3.7h-3.6zM1468.2 600.8h3.6v3.7h-3.6zM1471.2 606.9h3.6v3.7h-3.6zM1474.2 610h3.6v3.7h-3.6zM1477.1 616.1h3.6v3.7h-3.6zM1486.1 628.4h3.6v3.7h-3.6zM1500.9 646.8h3.6v3.7h-3.6zM1503.9 649.9h3.6v3.7h-3.6zM1506.9 652.9h3.6v3.7h-3.6zM1509.8 656h3.6v3.7h-3.6z"/>
<path fill="#19ad29" d="M1322.6 309.3h3.6v3.7h-3.6zM1319.6 321.5h3.6v3.7h-3.6zM1319.6 324.6h3.6v3.7h-3.6zM1316.6 327.7h3.6v3.7h-3.6zM1417.7 358.4h3.6v3.7h-3.6zM1414.7 361.4h9.5v3.7h-9.5zM1414.7 364.5h9.5v3.7h-9.5zM1411.8 370.6h3.6v3.7h-3.6zM1411.8 373.7h3.6v3.7h-3.6zM1411.8 376.8h3.6v3.7h-3.6zM1411.8 379.8h3.6v3.7h-3.6zM1411.8 382.9h3.6v3.7h-3.6zM1411.8 386h3.6v3.7h-3.6zM1411.8 389h3.6v3.7h-3.6zM1414.7 404.4h3.6v3.7h-3.6zM1414.7 407.5h3.6v3.7h-3.6zM1417.7 416.7h3.6v3.7h-3.6zM1420.7 432h3.6v3.7h-3.6zM1420.7 435.1h3.6v3.7h-3.6zM1423.6 447.3h3.6v3.7h-3.6zM1426.6 456.6h3.6v3.7h-3.6zM1432.6 468.8h3.6v3.7h-3.6zM1435.5 478h3.6v3.7h-3.6zM1438.5 487.2h3.6v3.7h-3.6zM1447.4 542.5h3.6v3.7h-3.6zM1450.4 557.8h3.6v3.7h-3.6zM1459.3 582.4h3.6v3.7h-3.6zM1462.3 588.5h3.6v3.7h-3.6zM1465.3 594.6h3.6v3.7h-3.6zM1471.2 603.8h3.6v3.7h-3.6zM1477.1 613h3.6v3.7h-3.6zM1480.1 619.2h3.6v3.7h-3.6zM1483.1 622.3h3.6v3.7h-3.6zM1489 631.5h3.6v3.7h-3.6zM1492 634.5h3.6v3.7h-3.6zM1495 637.6h3.6v3.7h-3.6zM1498 640.7h3.6v3.7h-3.6zM1512.8 656h15.5v3.7h-15.5z"/>
<path fill="#23aa22" d="M1322.6 306.2h3.6v3.7h-3.6zM1319.6 318.5h3.6v3.7h-3.6zM1414.7 367.6h9.5v3.7h-9.5zM1414.7 370.6h9.5v3.7h-9.5zM1414.7 373.7h12.5v3.7h-12.5zM1414.7 376.8h3.6v3.7h-3.6zM1414.7 398.3h3.6v3.7h-3.6zM1414.7 401.3h3.6v3.7h-3.6zM1417.7 413.6h3.6v3.7h-3.6zM1420.7 428.9h3.6v3.7h-3.6zM1423.6 444.3h3.6v3.7h-3.6zM1426.6 453.5h3.6v3.7h-3.6zM1429.6 462.7h3.6v3.7h-3.6zM1435.5 475h3.6v3.7h-3.6zM1438.5 484.2h3.6v3.7h-3.6zM1441.5 496.4h3.6v3.7h-3.6zM1444.4 511.8h3.6v3.7h-3.6zM1444.4 514.9h3.6v3.7h-3.6zM1450.4 551.7h3.6v3.7h-3.6zM1450.4 554.7h3.6v3.7h-3.6zM1453.4 564h3.6v3.7h-3.6zM1456.3 570.1h3.6v3.7h-3.6zM1465.3 591.6h3.6v3.7h-3.6zM1468.2 597.7h3.6v3.7h-3.6zM1474.2 606.9h3.6v3.7h-3.6zM1480.1 616.1h3.6v3.7h-3.6zM1486.1 625.3h3.6v3.7h-3.6zM1500.9 643.7h3.6v3.7h-3.6zM1509.8 652.9h3.6v3.7h-3.6z"/>
<path fill="#2ca81c" d="M1322.6 300.1h3.6v3.7h-3.6zM1322.6 303.1h3.6v3.7h-3.6zM1319.6 312.3h3.6v3.7h-3.6zM1319.6 315.4h3.6v3.7h-3.6zM1316.6 324.6h3.6v3.7h-3.6zM1417.7 376.8h9.5v3.7h-9.5zM1414.7 379.8h12.5v3.7h-12.5zM1414.7 382.9h3.6v3.7h-3.6zM1414.7 386h3.6v3.7h-3.6zM1414.7 389h3.6v3.7h-3.6zM1414.7 392.1h3.6v3.7h-3.6zM1414.7 395.2h3.6v3.7h-3.6zM1417.7 410.5h3.6v3.7h-3.6zM1420.7 419.7h3.6v3.7h-3.6zM1420.7 422.8h3.6v3.7h-3.6zM1420.7 425.9h3.6v3.7h-3.6zM1423.6 438.1h3.6v3.7h-3.6zM1423.6 441.2h3.6v3.7h-3.6zM1426.6 450.4h3.6v3.7h-3.6zM1429.6 456.6h3.6v3.7h-3.6zM1429.6 459.6h3.6v3.7h-3.6zM1432.6 465.8h3.6v3.7h-3.6zM1435.5 471.9h3.6v3.7h-3.6zM1438.5 481.1h3.6v3.7h-3.6zM1441.5 493.4h3.6v3.7h-3.6zM1444.4 508.7h3.6v3.7h-3.6zM1447.4 539.4h3.6v3.7h-3.6zM1459.3 576.2h3.6v3.7h-3.6zM1459.3 579.3h3.6v3.7h-3.6zM1462.3 585.4h3.6v3.7h-3.6zM1468.2 594.6h3.6v3.7h-3.6zM1471.2 600.8h3.6v3.7h-3.6zM1477.1 610h3.6v3.7h-3.6zM1480.1 613h3.6v3.7h-3.6zM1483.1 619.2h3.6v3.7h-3.6zM1489 628.4h3.6v3.7h-3.6zM1492 631.5h3.6v3.7h-3.6zM1495 634.5h3.6v3.7h-3.6zM1498 637.6h3.6v3.7h-3.6zM1503.9 646.8h3.6v3.7h-3.6zM1506.9 649.9h3.6v3.7h-3.6zM1512.8 652.9h15.5v3.7h-15.5z"/>
<path fill="#3baa16" d="M1322.6 297h3.6v3.7h-3.6zM1316.6 321.5h3.6v3.7h-3.6zM1417.7 382.9h9.5v3.7h-9.5zM1417.7 386h12.5v3.7h-12.5zM1417.7 389h12.5v3.7h-12.5zM1417.7 404.4h3.6v3.7h-3.6zM1417.7 407.5h3.6v3.7h-3.6zM1420.7 416.7h3.6v3.7h-3.6zM1423.6 432h3.6v3.7h-3.6zM1423.6 435.1h3.6v3.7h-3.6zM1426.6 444.3h3.6v3.7h-3.6zM1426.6 447.3h18.4v3.7h-18.4zM1429.6 450.4h15.5v3.7h-15.5zM1429.6 453.5h15.5v3.7h-15.5zM1432.6 456.6h12.5v3.7h-12.5zM1432.6 459.6h15.5v3.7h-15.5zM1432.6 462.7h15.5v3.7h-15.5zM1435.5 465.8h12.5v3.7h-12.5zM1435.5 468.8h12.5v3.7h-12.5zM1438.5 475h3.6v3.7h-3.6zM1438.5 478h3.6v3.7h-3.6zM1441.5 487.2h3.6v3.7h-3.6zM1441.5 490.3h3.6v3.7h-3.6zM1444.4 502.6h3.6v3.7h-3.6zM1444.4 505.6h3.6v3.7h-3.6zM1447.4 530.2h3.6v3.7h-3.6zM1447.4 533.3h3.6v3.7h-3.6zM1447.4 536.3h3.6v3.7h-3.6zM1450.4 548.6h3.6v3.7h-3.6zM1453.4 560.9h3.6v3.7h-3.6zM1456.3 567h3.6v3.7h-3.6zM1459.3 573.2h3.6v3.7h-3.6zM1465.3 588.5h3.6v3.7h-3.6zM1471.2 597.7h3.6v3.7h-3.6zM1474.2 603.8h3.6v3.7h-3.6zM1477.1 606.9h3.6v3.7h-3.6zM1486.1 622.3h3.6v3.7h-3.6zM1500.9 640.7h3.6v3.7h-3.6z"/>
<path fill="#4bad0f" d="M1322.6 293.9h3.6v3.7h-3.6zM1319.6 309.3h3.6v3.7h-3.6zM1417.7 392.1h12.5v3.7h-12.5zM1417.7 395.2h12.5v3.7h-12.5zM1417.7 398.3h3.6v3.7h-3.6zM1417.7 401.3h3.6v3.7h-3.6zM1420.7 413.6h3.6v3.7h-3.6zM1423.6 425.9h3.6v3.7h-3.6zM1423.6 428.9h3.6v3.7h-3.6zM1426.6 435.1h3.6v3.7h-3.6zM1426.6 438.1h15.5v3.7h-15.5zM1426.6 441.2h15.5v3.7h-15.5zM1429.6 444.3h12.5v3.7h-12.5zM1438.5 471.9h9.5v3.7h-9.5zM1441.5 475h9.5v3.7h-9.5zM1441.5 478h9.5v3.7h-9.5zM1441.5 481.1h3.6v3.7h-3.6zM1441.5 484.2h3.6v3.7h-3.6zM1447.4 527.1h3.6v3.7h-3.6zM1462.3 582.4h3.6v3.7h-3.6zM1468.2 591.6h3.6v3.7h-3.6zM1474.2 600.8h3.6v3.7h-3.6zM1480.1 610h3.6v3.7h-3.6zM1483.1 616.1h3.6v3.7h-3.6zM1489 625.3h3.6v3.7h-3.6zM1492 628.4h3.6v3.7h-3.6zM1495 631.5h3.6v3.7h-3.6zM1498 634.5h3.6v3.7h-3.6zM1503.9 643.7h3.6v3.7h-3.6zM1506.9 646.8h3.6v3.7h-3.6zM1509.8 649.9h3.6v3.7h-3.6z"/>
<path fill="#62b20a" d="M1319.6 306.2h3.6v3.7h-3.6zM1316.6 318.5h3.6v3.7h-3.6zM1420.7 398.3h12.5v3.7h-12.5zM1420.7 401.3h12.5v3.7h-12.5zM1420.7 410.5h3.6v3.7h-3.6zM1423.6 419.7h3.6v3.7h-3.6zM1423.6 422.8h3.6v3.7h-3.6zM1426.6 425.9h12.5v3.7h-12.5zM1426.6 428.9h12.5v3.7h-12.5zM1426.6 432h15.5v3.7h-15.5zM1429.6 435.1h12.5v3.7h-12.5zM1444.4 481.1h6.5v3.7h-6.5zM1444.4 484.2h6.5v3.7h-6.5zM1444.4 487.2h6.5v3.7h-6.5zM1444.4 493.4h3.6v3.7h-3.6zM1444.4 496.4h3.6v3.7h-3.6zM1444.4 499.5h3.6v3.7h-3.6zM1447.4 521h3.6v3.7h-3.6zM1447.4 524.1h3.6v3.7h-3.6zM1453.4 557.8h3.6v3.7h-3.6zM1456.3 564h3.6v3.7h-3.6zM1459.3 570.1h3.6v3.7h-3.6zM1462.3 579.3h3.6v3.7h-3.6zM1465.3 585.4h3.6v3.7h-3.6zM1471.2 594.6h3.6v3.7h-3.6zM1477.1 603.8h3.6v3.7h-3.6zM1483.1 613h3.6v3.7h-3.6zM1486.1 619.2h3.6v3.7h-3.6zM1500.9 637.6h3.6v3.7h-3.6zM1512.8 649.9h15.5v3.7h-15.5z"/>
<path fill="#78b904" d="M1322.6 290.9h3.6v3.7h-3.6zM1319.6 303.1h3.6v3.7h-3.6zM1420.7 404.4h12.5v3.7h-12.5zM1420.7 407.5h15.5v3.7h-15.5zM1423.6 410.5h12.5v3.7h-12.5zM1423.6 413.6h12.5v3.7h-12.5zM1423.6 416.7h12.5v3.7h-12.5zM1426.6 419.7h12.5v3.7h-12.5zM1426.6 422.8h12.5v3.7h-12.5zM1444.4 490.3h6.5v3.7h-6.5zM1447.4 493.4h3.6v3.7h-3.6zM1447.4 517.9h3.6v3.7h-3.6zM1450.4 545.5h3.6v3.7h-3.6zM1453.4 554.7h3.6v3.7h-3.6zM1462.3 576.2h3.6v3.7h-3.6zM1468.2 588.5h3.6v3.7h-3.6zM1474.2 597.7h3.6v3.7h-3.6zM1480.1 606.9h3.6v3.7h-3.6zM1489 622.3h3.6v3.7h-3.6zM1503.9 640.7h3.6v3.7h-3.6zM1509.8 646.8h3.6v3.7h-3.6z"/>
<path fill="#8ebf00" d="M1322.6 287.8h3.6v3.7h-3.6zM1319.6 300.1h3.6v3.7h-3.6zM1316.6 315.4h3.6v3.7h-3.6zM1447.4 496.4h6.5v3.7h-6.5zM1447.4 499.5h3.6v3.7h-3.6zM1453.4 551.7h3.6v3.7h-3.6zM1459.3 567h3.6v3.7h-3.6zM1462.3 573.2h3.6v3.7h-3.6zM1465.3 582.4h3.6v3.7h-3.6zM1471.2 591.6h3.6v3.7h-3.6zM1477.1 600.8h3.6v3.7h-3.6zM1483.1 610h3.6v3.7h-3.6zM1486.1 616.1h3.6v3.7h-3.6zM1492 625.3h3.6v3.7h-3.6zM1495 628.4h3.6v3.7h-3.6zM1498 631.5h3.6v3.7h-3.6zM1506.9 643.7h3.6v3.7h-3.6zM1512.8 646.8h12.5v3.7h-12.5z"/>
<path fill="#a5c300" d="M1322.6 284.7h3.6v3.7h-3.6zM1319.6 297h3.6v3.7h-3.6zM1316.6 312.3h3.6v3.7h-3.6zM1450.4 499.5h3.6v3.7h-3.6zM1447.4 502.6h6.5v3.7h-6.5zM1447.4 505.6h3.6v3.7h-3.6zM1447.4 514.9h3.6v3.7h-3.6zM1450.4 536.3h3.6v3.7h-3.6zM1456.3 560.9h3.6v3.7h-3.6zM1468.2 585.4h3.6v3.7h-3.6zM1474.2 594.6h3.6v3.7h-3.6zM1480.1 603.8h3.6v3.7h-3.6zM1486.1 613h3.6v3.7h-3.6zM1500.9 634.5h3.6v3.7h-3.6z"/>
<path fill="#bbc700" d="M1319.6 293.9h3.6v3.7h-3.6zM1316.6 309.3h3.6v3.7h-3.6zM1447.4 508.7h3.6v3.7h-3.6zM1450.4 533.3h3.6v3.7h-3.6zM1450.4 539.4h3.6v3.7h-3.6zM1450.4 542.5h3.6v3.7h-3.6zM1462.3 570.1h3.6v3.7h-3.6zM1465.3 579.3h3.6v3.7h-3.6zM1471.2 588.5h3.6v3.7h-3.6zM1477.1 597.7h3.6v3.7h-3.6zM1483.1 606.9h3.6v3.7h-3.6zM1489 619.2h3.6v3.7h-3.6zM1492 622.3h3.6v3.7h-3.6zM1503.9 637.6h3.6v3.7h-3.6zM1506.9 640.7h3.6v3.7h-3.6zM1509.8 643.7h15.5v3.7h-15.5z"/>
<path fill="#d0cb00" d="M1322.6 269.4h3.6v3.7h-3.6zM1322.6 272.4h3.6v3.7h-3.6zM1322.6 275.5h3.6v3.7h-3.6zM1322.6 278.6h3.6v3.7h-3.6zM1322.6 281.6h3.6v3.7h-3.6zM1319.6 290.9h3.6v3.7h-3.6zM1316.6 303.1h3.6v3.7h-3.6zM1316.6 306.2h3.6v3.7h-3.6zM1447.4 511.8h3.6v3.7h-3.6zM1450.4 530.2h3.6v3.7h-3.6zM1453.4 548.6h3.6v3.7h-3.6zM1456.3 557.8h3.6v3.7h-3.6zM1459.3 564h3.6v3.7h-3.6zM1465.3 576.2h3.6v3.7h-3.6zM1468.2 582.4h3.6v3.7h-3.6zM1474.2 591.6h3.6v3.7h-3.6zM1480.1 600.8h3.6v3.7h-3.6zM1486.1 610h3.6v3.7h-3.6zM1489 616.1h3.6v3.7h-3.6zM1495 625.3h3.6v3.7h-3.6zM1498 628.4h3.6v3.7h-3.6z"/>
<path fill="#e4ce00" d="M1322.6 211.1h3.6v3.7h-3.6zM1322.6 214.1h3.6v3.7h-3.6zM1322.6 217.2h3.6v3.7h-3.6zM1322.6 220.3h3.6v3.7h-3.6zM1322.6 223.3h3.6v3.7h-3.6zM1322.6 226.4h3.6v3.7h-3.6zM1322.6 229.5h3.6v3.7h-3.6zM1322.6 232.6h3.6v3.7h-3.6zM1322.6 235.6h3.6v3.7h-3.6zM1322.6 238.7h3.6v3.7h-3.6zM1322.6 241.8h3.6v3.7h-3.6zM1322.6 244.8h3.6v3.7h-3.6zM1322.6 247.9h3.6v3.7h-3.6zM1322.6 251h3.6v3.7h-3.6zM1322.6 254h3.6v3.7h-3.6zM1322.6 257.1h3.6v3.7h-3.6zM1322.6 260.2h3.6v3.7h-3.6zM1322.6 263.2h3.6v3.7h-3.6zM1322.6 266.3h3.6v3.7h-3.6zM1319.6 287.8h3.6v3.7h-3.6zM1316.6 300.1h3.6v3.7h-3.6zM1313.7 315.4h3.6v3.7h-3.6zM1450.4 505.6h9.5v3.7h-9.5zM1450.4 527.1h3.6v3.7h-3.6zM1456.3 554.7h3.6v3.7h-3.6zM1462.3 567h3.6v3.7h-3.6zM1465.3 573.2h3.6v3.7h-3.6zM1471.2 585.4h3.6v3.7h-3.6zM1477.1 594.6h3.6v3.7h-3.6zM1480.1 597.7h3.6v3.7h-3.6zM1483.1 603.8h3.6v3.7h-3.6zM1500.9 631.5h3.6v3.7h-3.6zM1509.8 640.7h3.6v3.7h-3.6z"/>
<path fill="#f1cd00" d="M1319.6 284.7h3.6v3.7h-3.6zM1316.6 297h3.6v3.7h-3.6zM1450.4 524.1h3.6v3.7h-3.6zM1459.3 560.9h3.6v3.7h-3.6zM1468.2 579.3h3.6v3.7h-3.6zM1474.2 588.5h3.6v3.7h-3.6zM1477.1 591.6h3.6v3.7h-3.6zM1483.1 600.8h3.6v3.7h-3.6zM1486.1 606.9h3.6v3.7h-3.6zM1489 613h3.6v3.7h-3.6zM1492 619.2h3.6v3.7h-3.6zM1495 622.3h3.6v3.7h-3.6zM1503.9 634.5h3.6v3.7h-3.6zM1506.9 637.6h3.6v3.7h-3.6zM1512.8 640.7h12.5v3.7h-12.5z"/>
<path fill="#fbcc00" d="M1319.6 272.4h3.6v3.7h-3.6zM1319.6 275.5h3.6v3.7h-3.6zM1319.6 278.6h3.6v3.7h-3.6zM1319.6 281.6h3.6v3.7h-3.6zM1316.6 293.9h3.6v3.7h-3.6zM1313.7 312.3h3.6v3.7h-3.6zM1310.7 315.4h3.6v3.7h-3.6zM1450.4 508.7h9.5v3.7h-9.5zM1450.4 521h3.6v3.7h-3.6zM1453.4 539.4h3.6v3.7h-3.6zM1453.4 545.5h3.6v3.7h-3.6zM1456.3 551.7h3.6v3.7h-3.6zM1462.3 564h3.6v3.7h-3.6zM1465.3 570.1h3.6v3.7h-3.6zM1468.2 576.2h3.6v3.7h-3.6zM1480.1 594.6h3.6v3.7h-3.6zM1483.1 597.7h3.6v3.7h-3.6zM1486.1 603.8h3.6v3.7h-3.6zM1489 610h3.6v3.7h-3.6zM1498 625.3h3.6v3.7h-3.6z"/>
<path fill="#ffcb00" d="M1319.6 211.1h3.6v3.7h-3.6zM1319.6 214.1h3.6v3.7h-3.6zM1319.6 217.2h3.6v3.7h-3.6zM1319.6 220.3h3.6v3.7h-3.6zM1319.6 223.3h3.6v3.7h-3.6zM1319.6 226.4h3.6v3.7h-3.6zM1319.6 229.5h3.6v3.7h-3.6zM1319.6 232.6h3.6v3.7h-3.6zM1319.6 235.6h3.6v3.7h-3.6zM1319.6 238.7h3.6v3.7h-3.6zM1319.6 241.8h3.6v3.7h-3.6zM1319.6 244.8h3.6v3.7h-3.6zM1319.6 247.9h3.6v3.7h-3.6zM1319.6 251h3.6v3.7h-3.6zM1319.6 254h3.6v3.7h-3.6zM1319.6 257.1h3.6v3.7h-3.6zM1319.6 260.2h3.6v3.7h-3.6zM1319.6 263.2h3.6v3.7h-3.6zM1319.6 266.3h3.6v3.7h-3.6zM1319.6 269.4h3.6v3.7h-3.6zM1316.6 290.9h3.6v3.7h-3.6zM1313.7 309.3h3.6v3.7h-3.6zM1450.4 511.8h3.6v3.7h-3.6zM1453.4 542.5h3.6v3.7h-3.6zM1459.3 557.8h3.6v3.7h-3.6zM1468.2 573.2h3.6v3.7h-3.6zM1471.2 582.4h3.6v3.7h-3.6zM1474.2 585.4h3.6v3.7h-3.6zM1477.1 588.5h3.6v3.7h-3.6zM1480.1 591.6h3.6v3.7h-3.6zM1486.1 600.8h3.6v3.7h-3.6zM1492 616.1h3.6v3.7h-3.6zM1500.9 628.4h3.6v3.7h-3.6zM1503.9 631.5h3.6v3.7h-3.6zM1506.9 634.5h3.6v3.7h-3.6zM1509.8 637.6h15.5v3.7h-15.5z"/>
<path fill="#ffc600" d="M1316.6 284.7h3.6v3.7h-3.6zM1316.6 287.8h3.6v3.7h-3.6zM1313.7 306.2h3.6v3.7h-3.6zM1310.7 312.3h3.6v3.7h-3.6zM1450.4 514.9h3.6v3.7h-3.6zM1453.4 536.3h3.6v3.7h-3.6zM1456.3 548.6h3.6v3.7h-3.6zM1459.3 554.7h3.6v3.7h-3.6zM1462.3 560.9h3.6v3.7h-3.6zM1465.3 567h3.6v3.7h-3.6zM1471.2 579.3h3.6v3.7h-3.6zM1474.2 582.4h3.6v3.7h-3.6zM1483.1 594.6h3.6v3.7h-3.6zM1489 606.9h3.6v3.7h-3.6zM1492 613h3.6v3.7h-3.6zM1495 619.2h3.6v3.7h-3.6z"/>
<path fill="#ffbb00" d="M1316.6 281.6h3.6v3.7h-3.6zM1313.7 303.1h3.6v3.7h-3.6zM1310.7 309.3h3.6v3.7h-3.6zM1453.4 511.8h6.5v3.7h-6.5zM1450.4 517.9h3.6v3.7h-3.6zM1453.4 533.3h3.6v3.7h-3.6zM1456.3 545.5h3.6v3.7h-3.6zM1465.3 564h3.6v3.7h-3.6zM1468.2 570.1h3.6v3.7h-3.6zM1471.2 573.2h3.6v3.7h-3.6zM1471.2 576.2h3.6v3.7h-3.6zM1477.1 585.4h3.6v3.7h-3.6zM1480.1 588.5h3.6v3.7h-3.6zM1486.1 597.7h3.6v3.7h-3.6zM1489 603.8h3.6v3.7h-3.6zM1492 610h3.6v3.7h-3.6zM1498 622.3h3.6v3.7h-3.6zM1509.8 634.5h12.5v3.7h-12.5z"/>
<path fill="#ffac00" d="M1316.6 257.1h3.6v3.7h-3.6zM1316.6 260.2h3.6v3.7h-3.6zM1316.6 263.2h3.6v3.7h-3.6zM1316.6 266.3h3.6v3.7h-3.6zM1316.6 269.4h3.6v3.7h-3.6zM1316.6 272.4h3.6v3.7h-3.6zM1316.6 275.5h3.6v3.7h-3.6zM1316.6 278.6h3.6v3.7h-3.6zM1313.7 300.1h3.6v3.7h-3.6zM1310.7 303.1h3.6v3.7h-3.6zM1310.7 306.2h3.6v3.7h-3.6zM1453.4 530.2h3.6v3.7h-3.6zM1459.3 551.7h3.6v3.7h-3.6zM1462.3 557.8h3.6v3.7h-3.6zM1468.2 567h3.6v3.7h-3.6zM1474.2 576.2h3.6v3.7h-3.6zM1474.2 579.3h3.6v3.7h-3.6zM1477.1 582.4h3.6v3.7h-3.6zM1483.1 591.6h3.6v3.7h-3.6zM1495 616.1h3.6v3.7h-3.6zM1500.9 625.3h3.6v3.7h-3.6zM1503.9 628.4h3.6v3.7h-3.6zM1506.9 631.5h3.6v3.7h-3.6z"/>
<path fill="#ff9a00" d="M1316.6 211.1h3.6v3.7h-3.6zM1316.6 214.1h3.6v3.7h-3.6zM1316.6 217.2h3.6v3.7h-3.6zM1316.6 220.3h3.6v3.7h-3.6zM1316.6 223.3h3.6v3.7h-3.6zM1316.6 226.4h3.6v3.7h-3.6zM1316.6 229.5h3.6v3.7h-3.6zM1316.6 232.6h3.6v3.7h-3.6zM1316.6 235.6h3.6v3.7h-3.6zM1316.6 238.7h3.6v3.7h-3.6zM1316.6 241.8h3.6v3.7h-3.6zM1316.6 244.8h3.6v3.7h-3.6zM1316.6 247.9h3.6v3.7h-3.6zM1316.6 251h3.6v3.7h-3.6zM1316.6 254h3.6v3.7h-3.6zM1313.7 297h3.6v3.7h-3.6zM1310.7 300.1h3.6v3.7h-3.6zM1453.4 514.9h12.5v3.7h-12.5zM1465.3 560.9h3.6v3.7h-3.6zM1471.2 570.1h3.6v3.7h-3.6zM1477.1 579.3h3.6v3.7h-3.6zM1480.1 585.4h3.6v3.7h-3.6zM1486.1 594.6h3.6v3.7h-3.6zM1489 600.8h3.6v3.7h-3.6zM1492 606.9h3.6v3.7h-3.6zM1495 613h3.6v3.7h-3.6z"/>
<path fill="#fb8b00" d="M1313.7 293.9h3.6v3.7h-3.6zM1310.7 297h3.6v3.7h-3.6zM1453.4 517.9h3.6v3.7h-3.6zM1453.4 527.1h3.6v3.7h-3.6zM1456.3 542.5h3.6v3.7h-3.6zM1459.3 548.6h3.6v3.7h-3.6zM1462.3 554.7h3.6v3.7h-3.6zM1468.2 564h3.6v3.7h-3.6zM1474.2 573.2h3.6v3.7h-3.6zM1483.1 588.5h3.6v3.7h-3.6zM1489 597.7h3.6v3.7h-3.6zM1492 603.8h3.6v3.7h-3.6zM1498 619.2h3.6v3.7h-3.6zM1509.8 631.5h12.5v3.7h-12.5z"/>
<path fill="#f77b00" d="M1313.7 290.9h3.6v3.7h-3.6zM1310.7 293.9h3.6v3.7h-3.6zM1453.4 524.1h3.6v3.7h-3.6zM1456.3 539.4h3.6v3.7h-3.6zM1465.3 557.8h3.6v3.7h-3.6zM1471.2 567h3.6v3.7h-3.6zM1474.2 570.1h3.6v3.7h-3.6zM1477.1 576.2h3.6v3.7h-3.6zM1480.1 582.4h3.6v3.7h-3.6zM1486.1 591.6h3.6v3.7h-3.6zM1495 610h3.6v3.7h-3.6zM1498 616.1h3.6v3.7h-3.6zM1500.9 622.3h3.6v3.7h-3.6zM1503.9 625.3h3.6v3.7h-3.6zM1506.9 628.4h3.6v3.7h-3.6z"/>
<path fill="#f06600" d="M1310.7 290.9h3.6v3.7h-3.6zM1456.3 517.9h9.5v3.7h-9.5zM1453.4 521h3.6v3.7h-3.6zM1456.3 536.3h3.6v3.7h-3.6zM1462.3 551.7h3.6v3.7h-3.6zM1468.2 560.9h3.6v3.7h-3.6zM1477.1 573.2h3.6v3.7h-3.6zM1483.1 585.4h3.6v3.7h-3.6zM1489 594.6h3.6v3.7h-3.6zM1492 600.8h3.6v3.7h-3.6zM1495 606.9h3.6v3.7h-3.6zM1509.8 628.4h12.5v3.7h-12.5z"/>
<path fill="#e64904" d="M1313.7 287.8h3.6v3.7h-3.6zM1456.3 533.3h3.6v3.7h-3.6zM1459.3 545.5h3.6v3.7h-3.6zM1471.2 564h3.6v3.7h-3.6zM1480.1 579.3h3.6v3.7h-3.6zM1498 613h3.6v3.7h-3.6zM1500.9 619.2h3.6v3.7h-3.6z"/>
<path fill="#dc2f0b" d="M1313.7 284.7h3.6v3.7h-3.6zM1310.7 287.8h3.6v3.7h-3.6zM1465.3 554.7h3.6v3.7h-3.6zM1468.2 557.8h3.6v3.7h-3.6zM1474.2 567h3.6v3.7h-3.6zM1486.1 588.5h3.6v3.7h-3.6zM1489 591.6h3.6v3.7h-3.6zM1492 597.7h3.6v3.7h-3.6zM1495 603.8h3.6v3.7h-3.6zM1498 610h3.6v3.7h-3.6zM1503.9 622.3h3.6v3.7h-3.6zM1506.9 625.3h3.6v3.7h-3.6z"/>
<path fill="#d52218" d="M1313.7 275.5h3.6v3.7h-3.6zM1313.7 278.6h3.6v3.7h-3.6zM1313.7 281.6h3.6v3.7h-3.6zM1310.7 284.7h3.6v3.7h-3.6zM1456.3 521h3.6v3.7h-3.6zM1456.3 530.2h3.6v3.7h-3.6zM1471.2 560.9h3.6v3.7h-3.6zM1477.1 570.1h3.6v3.7h-3.6zM1480.1 576.2h3.6v3.7h-3.6zM1483.1 582.4h3.6v3.7h-3.6zM1500.9 616.1h3.6v3.7h-3.6zM1509.8 625.3h12.5v3.7h-12.5z"/>
<path fill="#d42022" d="M1313.7 260.2h3.6v3.7h-3.6zM1313.7 263.2h3.6v3.7h-3.6zM1313.7 266.3h3.6v3.7h-3.6zM1313.7 269.4h3.6v3.7h-3.6zM1313.7 272.4h3.6v3.7h-3.6zM1459.3 521h6.5v3.7h-6.5zM1459.3 539.4h3.6v3.7h-3.6zM1462.3 548.6h3.6v3.7h-3.6zM1465.3 551.7h3.6v3.7h-3.6zM1474.2 564h3.6v3.7h-3.6zM1480.1 573.2h3.6v3.7h-3.6zM1486.1 585.4h3.6v3.7h-3.6zM1489 588.5h3.6v3.7h-3.6zM1492 594.6h3.6v3.7h-3.6zM1495 600.8h3.6v3.7h-3.6zM1498 606.9h3.6v3.7h-3.6z"/>
<path fill="#d5242f" d="M1310.7 211.1h6.5v3.7h-6.5zM1310.7 214.1h6.5v3.7h-6.5zM1310.7 217.2h6.5v3.7h-6.5zM1310.7 220.3h6.5v3.7h-6.5zM1310.7 223.3h6.5v3.7h-6.5zM1310.7 226.4h6.5v3.7h-6.5zM1304.7 229.5h12.5v3.7h-12.5zM1313.7 232.6h3.6v3.7h-3.6zM1313.7 235.6h3.6v3.7h-3.6zM1313.7 238.7h3.6v3.7h-3.6zM1313.7 241.8h3.6v3.7h-3.6zM1313.7 244.8h3.6v3.7h-3.6zM1313.7 247.9h3.6v3.7h-3.6zM1313.7 251h3.6v3.7h-3.6zM1313.7 254h3.6v3.7h-3.6zM1313.7 257.1h3.6v3.7h-3.6zM1310.7 275.5h3.6v3.7h-3.6zM1310.7 278.6h3.6v3.7h-3.6zM1310.7 281.6h3.6v3.7h-3.6zM1456.3 524.1h3.6v3.7h-3.6zM1459.3 536.3h3.6v3.7h-3.6zM1459.3 542.5h3.6v3.7h-3.6zM1468.2 554.7h3.6v3.7h-3.6zM1471.2 557.8h3.6v3.7h-3.6zM1477.1 567h3.6v3.7h-3.6zM1483.1 579.3h3.6v3.7h-3.6zM1486.1 582.4h3.6v3.7h-3.6zM1492 591.6h3.6v3.7h-3.6zM1495 597.7h3.6v3.7h-3.6zM1500.9 613h3.6v3.7h-3.6zM1503.9 619.2h3.6v3.7h-3.6zM1506.9 622.3h15.5v3.7h-15.5z"/>
<path fill="#d83040" d="M1310.7 232.6h3.6v3.7h-3.6zM1310.7 266.3h3.6v3.7h-3.6zM1310.7 269.4h3.6v3.7h-3.6zM1310.7 272.4h3.6v3.7h-3.6zM1304.7 284.7h6.5v3.7h-6.5zM1456.3 527.1h3.6v3.7h-3.6zM1462.3 545.5h3.6v3.7h-3.6zM1474.2 560.9h3.6v3.7h-3.6zM1477.1 564h3.6v3.7h-3.6zM1480.1 570.1h3.6v3.7h-3.6zM1483.1 573.2h3.6v3.7h-3.6zM1483.1 576.2h3.6v3.7h-3.6zM1489 585.4h3.6v3.7h-3.6zM1498 600.8h3.6v3.7h-3.6zM1498 603.8h3.6v3.7h-3.6zM1500.9 606.9h3.6v3.7h-3.6zM1500.9 610h3.6v3.7h-3.6z"/>
<path fill="#dc4550" d="M1310.7 235.6h3.6v3.7h-3.6zM1310.7 238.7h3.6v3.7h-3.6zM1310.7 241.8h3.6v3.7h-3.6zM1310.7 244.8h3.6v3.7h-3.6zM1310.7 247.9h3.6v3.7h-3.6zM1310.7 251h3.6v3.7h-3.6zM1310.7 254h3.6v3.7h-3.6zM1310.7 257.1h3.6v3.7h-3.6zM1310.7 260.2h3.6v3.7h-3.6zM1310.7 263.2h3.6v3.7h-3.6zM1459.3 524.1h3.6v3.7h-3.6zM1459.3 533.3h3.6v3.7h-3.6zM1465.3 548.6h3.6v3.7h-3.6zM1468.2 551.7h3.6v3.7h-3.6zM1471.2 554.7h3.6v3.7h-3.6zM1474.2 557.8h3.6v3.7h-3.6zM1480.1 567h3.6v3.7h-3.6zM1486.1 576.2h3.6v3.7h-3.6zM1486.1 579.3h3.6v3.7h-3.6zM1489 582.4h3.6v3.7h-3.6zM1492 585.4h3.6v3.7h-3.6zM1492 588.5h9.5v3.7h-9.5zM1495 591.6h6.5v3.7h-6.5zM1495 594.6h6.5v3.7h-6.5zM1498 597.7h3.6v3.7h-3.6zM1500.9 600.8h3.6v3.7h-3.6zM1500.9 603.8h9.5v3.7h-9.5zM1503.9 606.9h9.5v3.7h-9.5zM1503.9 613h3.6v3.7h-3.6zM1503.9 616.1h3.6v3.7h-3.6z"/>
<path fill="#e25b5e" d="M1304.7 281.6h6.5v3.7h-6.5zM1462.3 524.1h3.6v3.7h-3.6zM1462.3 539.4h3.6v3.7h-3.6zM1462.3 542.5h3.6v3.7h-3.6zM1477.1 560.9h12.5v3.7h-12.5zM1480.1 564h9.5v3.7h-9.5zM1483.1 567h6.5v3.7h-6.5zM1483.1 570.1h6.5v3.7h-6.5zM1486.1 573.2h9.5v3.7h-9.5zM1489 576.2h6.5v3.7h-6.5zM1489 579.3h6.5v3.7h-6.5zM1492 582.4h3.6v3.7h-3.6zM1495 585.4h6.5v3.7h-6.5zM1503.9 610h12.5v3.7h-12.5zM1506.9 613h9.5v3.7h-9.5zM1506.9 616.1h12.5v3.7h-12.5zM1506.9 619.2h12.5v3.7h-12.5z"/>
<path fill="#e9726b" d="M1304.7 278.6h6.5v3.7h-6.5zM1465.3 545.5h3.6v3.7h-3.6zM1468.2 548.6h3.6v3.7h-3.6zM1471.2 551.7h3.6v3.7h-3.6zM1474.2 554.7h3.6v3.7h-3.6zM1477.1 557.8h6.5v3.7h-6.5z"/>
<path fill="#ef8c78" d="M1304.7 232.6h6.5v3.7h-6.5zM1307.7 272.4h3.6v3.7h-3.6zM1304.7 275.5h6.5v3.7h-6.5zM1459.3 527.1h3.6v3.7h-3.6zM1459.3 530.2h3.6v3.7h-3.6zM1462.3 536.3h3.6v3.7h-3.6zM1474.2 551.7h9.5v3.7h-9.5zM1477.1 554.7h6.5v3.7h-6.5z"/>
<path fill="#f7a381" d="M1307.7 266.3h3.6v3.7h-3.6zM1304.7 269.4h6.5v3.7h-6.5zM1304.7 272.4h3.6v3.7h-3.6zM1462.3 527.1h3.6v3.7h-3.6zM1462.3 533.3h3.6v3.7h-3.6zM1465.3 542.5h3.6v3.7h-3.6zM1468.2 545.5h3.6v3.7h-3.6zM1471.2 548.6h6.5v3.7h-6.5z"/>
<path fill="#fdb785" d="M1307.7 260.2h3.6v3.7h-3.6zM1307.7 263.2h3.6v3.7h-3.6zM1304.7 266.3h3.6v3.7h-3.6zM1465.3 527.1h6.5v3.7h-6.5zM1462.3 530.2h3.6v3.7h-3.6zM1465.3 536.3h3.6v3.7h-3.6zM1465.3 539.4h3.6v3.7h-3.6zM1471.2 545.5h6.5v3.7h-6.5z"/>
<path fill="#ffbe85" d="M1304.7 235.6h6.5v3.7h-6.5zM1304.7 238.7h6.5v3.7h-6.5zM1304.7 241.8h6.5v3.7h-6.5zM1304.7 244.8h6.5v3.7h-6.5zM1304.7 247.9h6.5v3.7h-6.5zM1304.7 251h6.5v3.7h-6.5zM1304.7 254h6.5v3.7h-6.5zM1304.7 257.1h6.5v3.7h-6.5zM1304.7 260.2h3.6v3.7h-3.6zM1304.7 263.2h3.6v3.7h-3.6zM1465.3 530.2h6.5v3.7h-6.5zM1465.3 533.3h6.5v3.7h-6.5zM1468.2 536.3h3.6v3.7h-3.6zM1468.2 539.4h9.5v3.7h-9.5zM1468.2 542.5h9.5v3.7h-9.5z"/>
</g></g>
<g fill="none" stroke="#000" stroke-width="1.8" stroke-linecap="round" stroke-linejoin="round">
<path d="M1324.5 213C1324.5 219.2 1324.5 237.2 1324.5 250C1324.5 262.8 1324.5 278.3 1324.8 290C1325 301.7 1325.8 315 1326 320"/>
<path d="M1318.5 236 L1318.5 290"/>
<path d="M1330.5 203 L1330.5 240"/>
<path d="M1332.2 242.6C1332.4 245.9 1332.9 257.8 1333.4 262.7C1333.9 267.6 1334.6 269 1335.3 272.2C1336 275.4 1337.3 277.3 1337.8 281.6C1338.3 285.9 1338.3 292.2 1338.4 298C1338.5 303.8 1338.9 310.2 1338.4 316.4C1337.9 322.6 1336.3 328.4 1335.3 335.3C1334.2 342.2 1332.6 354.2 1332.1 358"/>
<path d="M1332.7 285C1332.6 289.2 1332.7 301.8 1332.1 310.2C1331.5 318.6 1330 327.3 1329 335.3C1328 343.3 1326.8 354.2 1326.4 358"/>
<path d="M1339.1 243.9C1339.2 246 1339.3 252.7 1339.7 256.4C1340.1 260.1 1340.4 263.1 1341.6 265.9C1342.8 268.7 1344.5 274.3 1346.6 273.4C1348.7 272.4 1351.9 264.3 1354.2 260.2C1356.5 256.1 1358.5 252.7 1360.5 248.9C1362.5 245.1 1364.8 241.1 1366.1 237.6C1367.3 234.1 1367.5 230.6 1368 228C1368.5 225.4 1368.8 223 1369 222"/>
<path d="M1374.3 256.4C1373.9 257.1 1373.3 259.5 1371.8 260.8C1370.3 262.1 1367.4 262.4 1365.5 264C1363.6 265.6 1361.9 268.4 1360.5 270.3C1359.1 272.2 1358.1 273.4 1357.3 275.3C1356.5 277.2 1355.9 278.8 1355.4 281.6C1354.9 284.4 1354.2 287.2 1354.1 292C1354 296.8 1354.1 305.1 1354.7 310.2C1355.3 315.3 1356.3 319.7 1357.9 322.7C1359.5 325.7 1362.3 328.2 1364.2 328.4C1366.1 328.6 1367.6 326.5 1369.2 324C1370.8 321.5 1372.4 317.7 1373.6 313.3C1374.8 308.9 1375.6 302.3 1376.1 297.6C1376.6 292.9 1376.5 289.4 1376.8 285C1377.1 280.6 1377.8 273.8 1378 271.5"/>
<path d="M1365.5 281C1365 282.8 1363 288.2 1362.4 292C1361.8 295.8 1361.2 300.7 1361.7 303.9C1362.2 307.1 1364.2 311.4 1365.4 311.4C1366.7 311.4 1368.7 307.1 1369.2 303.9C1369.7 300.7 1369.2 295.8 1368.6 292C1368 288.2 1366 282.8 1365.5 281"/>
<path d="M1336.2 377.5C1336.5 375.4 1336.9 369.4 1337.5 365C1338.1 360.6 1338.7 355.4 1340 351.2C1341.3 347.1 1342.8 342.1 1345.3 340.3C1347.8 338.5 1352.4 339.7 1354.7 340.3C1357 340.9 1357.1 343.7 1359.2 344.1C1361.3 344.5 1364.9 344.4 1367.3 342.9C1369.7 341.4 1371.8 338.7 1373.6 335.3C1375.4 331.9 1377 327.9 1378 322.7C1379 317.5 1379.3 309.1 1379.9 303.9C1380.5 298.7 1381.1 293.7 1381.8 291.3C1382.5 288.9 1383 289.3 1384.3 289.4C1385.5 289.5 1388.1 289.5 1389.3 291.9C1390.5 294.3 1390.9 297.7 1391.2 303.9C1391.5 310.1 1391.4 321.7 1391.2 329C1391 336.3 1390 340.2 1390 347.5C1390 354.8 1390.4 364.2 1391.2 372.5C1392.1 380.8 1392.7 390.2 1395 397.5C1397.3 404.8 1402.7 412.1 1405 416.2C1407.3 420.4 1408.1 421.5 1408.8 422.5"/>
<path d="M1390.7 271.5C1391.4 273.2 1393.8 278.2 1395 281.6C1396.2 285 1397.5 287.2 1398.1 292C1398.7 296.8 1398.7 298.9 1398.8 310.2C1398.9 321.5 1398.3 348.6 1398.8 360C1399.2 371.4 1400.2 372.5 1401.2 378.8C1402.3 385 1403.3 392.5 1405 397.5C1406.7 402.5 1410.2 406.9 1411.2 408.8"/>
<path d="M1402 291C1402.2 295.8 1402.7 312.7 1403.2 320C1403.7 327.3 1404.5 328.3 1405 335C1405.5 341.7 1405.6 352.5 1406.2 360C1406.9 367.5 1407.7 375 1408.8 380C1409.8 385 1411.9 388.3 1412.5 390"/>
<path d="M1407.5 422.5C1407.7 425.4 1408.3 431.9 1408.8 440C1409.2 448.1 1409.2 461.9 1410 471.2C1410.8 480.6 1412.3 489 1413.8 496.2C1415.2 503.5 1416.9 509.2 1418.8 515C1420.6 520.8 1423.1 527.7 1425 531.2C1426.9 534.8 1428.3 536.9 1430 536.2C1431.7 535.6 1433.8 529.2 1435 527.5C1436.2 525.8 1436.7 525.2 1437.5 526.2C1438.3 527.3 1440 529.4 1440 533.8C1440 538.1 1438.1 544 1437.5 552.5C1436.9 561 1436.5 575.8 1436.2 585C1436 594.2 1435.8 600.4 1436.2 607.5C1436.7 614.6 1437.5 623.5 1438.8 627.5C1440 631.5 1441.9 630.4 1443.8 631.2C1445.6 632.1 1448.1 630.8 1450 632.5C1451.9 634.2 1454 637.1 1455 641.2C1456 645.4 1455.8 652.1 1456.2 657.5C1456.7 662.9 1457.3 671 1457.5 673.8"/>
<path d="M1416.2 440C1416.5 444.2 1416.5 456.7 1417.5 465C1418.5 473.3 1420.6 483.3 1422.5 490C1424.4 496.7 1426.2 500.8 1428.8 505C1431.2 509.2 1435.2 512.3 1437.5 515C1439.8 517.7 1441.5 515 1442.5 521.2C1443.5 527.5 1443.8 544.4 1443.8 552.5C1443.8 560.6 1441.9 563.5 1442.5 570C1443.1 576.5 1445.2 585 1447.5 591.2C1449.8 597.5 1453.3 602.1 1456.2 607.5C1459.2 612.9 1462.3 618.3 1465 623.8C1467.7 629.2 1470.4 634.4 1472.5 640C1474.6 645.6 1475.2 652.5 1477.5 657.5C1479.8 662.5 1482.9 666.7 1486.2 670C1489.6 673.3 1494.2 676.7 1497.5 677.5C1500.8 678.3 1503.5 675.6 1506.2 675C1509 674.4 1511.5 673.1 1513.8 673.8C1516 674.4 1518.3 676.9 1520 678.8C1521.7 680.6 1523.1 684 1523.8 685"/>
<path d="M1420 440C1420.6 444.2 1422.1 457.7 1423.8 465C1425.4 472.3 1427.5 477.5 1430 483.8C1432.5 490 1436.5 497.5 1438.8 502.5C1441 507.5 1442.9 511.9 1443.8 513.8"/>
<path d="M1447.5 570C1448.5 573.1 1451.2 582.9 1453.8 588.8C1456.2 594.6 1459.4 599.8 1462.5 605C1465.6 610.2 1469.6 615 1472.5 620C1475.4 625 1477.9 630.4 1480 635C1482.1 639.6 1482.9 643.5 1485 647.5C1487.1 651.5 1489.6 655.8 1492.5 658.8C1495.4 661.7 1498.1 663.5 1502.5 665C1506.9 666.5 1516 667.1 1518.8 667.5"/>
<path d="M1452.5 547.5C1452.9 549.6 1454 556.2 1455 560C1456 563.8 1456.5 565.6 1458.8 570C1461 574.4 1465.4 581.5 1468.8 586.2C1472.1 591 1475.6 594.6 1478.8 598.8C1481.9 602.9 1485.2 606.5 1487.5 611.2C1489.8 616 1490.4 622.7 1492.5 627.5C1494.6 632.3 1497.1 637.1 1500 640C1502.9 642.9 1507.5 644.2 1510 645C1512.5 645.8 1514.2 645 1515 645"/>
<path d="M1460 547.5C1461.3 549.6 1465.1 556.2 1468 560C1470.9 563.8 1474.2 566.2 1477.5 570C1480.8 573.8 1484.8 578.3 1487.5 582.5C1490.2 586.7 1491.9 590.4 1493.8 595C1495.6 599.6 1497.9 607.5 1498.8 610"/>
<path d="M1470 706.2C1472.9 705 1482.5 700.6 1487.5 698.8C1492.5 696.9 1496.7 696.9 1500 695C1503.3 693.1 1505.2 689 1507.5 687.5C1509.8 686 1511.9 685 1513.8 686.2C1515.6 687.5 1517.1 690.6 1518.8 695C1520.4 699.4 1522.5 708 1523.8 712.5C1525 717 1525.6 720.4 1526 722"/>
<path d="M1528.8 741.2C1529 743.8 1528.3 751.5 1530 756.2C1531.7 761 1537.3 767.7 1538.8 770"/>
<path d="M1548.8 780C1550.4 783.3 1556.2 793.5 1558.8 800C1561.2 806.5 1562.3 812.5 1563.8 818.8C1565.2 825 1566.5 832.5 1567.5 837.5C1568.5 842.5 1569.8 843.8 1570 848.8C1570.2 853.8 1569.8 861.9 1568.8 867.5C1567.7 873.1 1564.6 880 1563.8 882.5"/>
<path d="M1572.5 765C1571.7 768.8 1569.6 783.5 1567.5 787.5C1565.4 791.5 1561.7 790.4 1560 788.8C1558.3 787.1 1557.9 779.4 1557.5 777.5"/>
<path d="M1591.2 827.5C1590 828.3 1585.8 829.6 1583.8 832.5C1581.7 835.4 1580.2 840 1578.8 845C1577.3 850 1575.6 856.7 1575 862.5C1574.4 868.3 1575 877.1 1575 880"/>
<path d="M1583.8 911.2 L1583.8 928.8"/>
<path d="M1598.8 903.8C1599.4 907.1 1601.7 917.3 1602.5 923.8C1603.3 930.2 1603.5 939.4 1603.8 942.5"/>
<path d="M1608.8 900C1609.2 902.9 1610.2 911.9 1611.2 917.5C1612.3 923.1 1614.4 931 1615 933.8"/>
<path d="M1623.8 917.5C1624.8 920 1628.1 928.1 1630 932.5C1631.9 936.9 1632.9 942.1 1635 943.8C1637.1 945.4 1641.2 942.7 1642.5 942.5"/>
<path d="M1660 960C1659 962.5 1655.1 971.7 1653.8 975C1652.4 978.3 1652.3 979.2 1652 980"/>
<path d="M1677.5 968 L1677.5 988"/>
<path d="M1608.8 955C1609.8 954.3 1612.8 951.7 1615 951C1617.2 950.3 1619.8 950.3 1622 951C1624.2 951.7 1626.8 953.5 1628 955C1629.2 956.5 1629.5 958.3 1629 960C1628.5 961.7 1626.5 963.7 1625 965C1623.5 966.3 1620.8 967.5 1620 968"/>
</g>
<text class="cl" stroke="#000" stroke-width="0.9" font-size="31" transform="translate(1345.9 232.5) rotate(-60)">0.</text>
<text class="cl" stroke="#000" stroke-width="0.9" font-size="31" transform="translate(1365.4 217.5) rotate(78)">0.3</text>
<text class="cl" stroke="#000" stroke-width="0.9" font-size="31" transform="translate(1323.6 272.6) rotate(-90)">0.7</text>
<text class="cl" stroke="#000" stroke-width="0.9" font-size="31" transform="translate(1330.3 325) rotate(-88)">0.6</text>
<text class="cl" stroke="#000" stroke-width="0.9" font-size="31" transform="translate(1405.6 389.4) rotate(80)">0.6</text>
<text class="cl" stroke="#000" stroke-width="0.9" font-size="31" transform="translate(1440.1 492.9) rotate(80)">0.9</text>
<text class="cl" stroke="#000" stroke-width="0.9" font-size="31" transform="translate(1405.1 603.3) rotate(75)">0.1</text>
<text class="cl" stroke="#000" stroke-width="0.9" font-size="31" transform="translate(1523.1 730.1) rotate(62)">0.2</text>
<text class="cl" stroke="#000" stroke-width="0.9" font-size="31" transform="translate(1574.4 911.2) rotate(-25)">0.3</text>
<text class="cl" stroke="#000" stroke-width="0.9" font-size="31" transform="translate(1709.9 938.9) rotate(90)">0.3</text>
<path d="M1343.5 364.1h1.9v1.9h-1.9zM1358.5 362.9h1.9v1.9h-1.9zM1371 361.4h1.9v1.9h-1.9zM1384.7 361h1.9v1.9h-1.9zM1371.6 427.5h1.9v1.9h-1.9zM1396.1 425.7h1.9v1.9h-1.9zM1402.8 539.1h1.9v1.9h-1.9zM1421.1 535.1h1.9v1.9h-1.9zM1431 621.1h1.9v1.9h-1.9zM1437.1 620.6h1.9v1.9h-1.9zM1452.8 619.1h1.9v1.9h-1.9zM1475.1 685.1h1.9v1.9h-1.9zM1485.1 684.1h1.9v1.9h-1.9zM1496.1 683.1h1.9v1.9h-1.9zM1502.1 682.6h1.9v1.9h-1.9zM1508.1 682.1h1.9v1.9h-1.9zM1494.1 735.6h1.9v1.9h-1.9zM1507.1 735.1h1.9v1.9h-1.9zM1516.1 734.6h1.9v1.9h-1.9zM1536.1 791.1h1.9v1.9h-1.9zM1542.1 790.1h1.9v1.9h-1.9zM1547.1 789.6h1.9v1.9h-1.9zM1563.1 861.1h1.9v1.9h-1.9zM1569.1 860.1h1.9v1.9h-1.9zM1582.1 859.1h1.9v1.9h-1.9zM1589.1 858.6h1.9v1.9h-1.9zM1589.1 919.1h1.9v1.9h-1.9zM1595.1 919.1h1.9v1.9h-1.9zM1615.1 912.1h1.9v1.9h-1.9zM1635.1 954.1h1.9v1.9h-1.9zM1645.1 953.1h1.9v1.9h-1.9z" fill="#222" fill-opacity="0.8"/>
</g>
<g clip-path="url(#fB)"><path d="M1768.8 56.6 L1174.4 56.6 L1181.2 61.9 L1200 65.6 L1216.2 68.5 L1221.2 63.8 L1237.5 60 L1256.2 57.8 L1253.8 65 L1251.2 72.5 L1246.2 76.2 L1242.5 80 L1227.5 81.2 L1226.2 83.8 L1230 86.9 L1211.2 92.5 L1187.5 98.8 L1183.8 95 L1178.8 89.4 L1175 88.8 L1172.5 92.5 L1172.5 100 L1176.2 106.2 L1183.8 112.5 L1186.2 117.5 L1196.1 126 L1204.6 135.1 L1214.3 143.6 L1225.2 152.1 L1231.3 160.6 L1234.9 166.7 L1241 174 L1248.3 178.3 L1256.7 183.7 L1266.5 189.8 L1272.5 193.5 L1279.8 195.9 L1287.1 196.5 L1291.9 195.3 L1299.2 191.6 L1311.3 186.2 L1323.5 179.5 L1335.6 174 L1345.3 169.7 L1353.8 167.9 L1357.4 164.3 L1358.7 159.4 L1362.3 153.4 L1367.2 144.8 L1369.6 138.8 L1369.6 135.7 L1366.6 131.5 L1365.9 125.4 L1365.3 118.1 L1367.2 114.4 L1370.8 109.6 L1373.2 105.4 L1372.6 99.9 L1375 97.7 L1378.1 99.2 L1384.1 97.7 L1390.2 98.3 L1393.8 100.5 L1393.3 102.9 L1389 103.5 L1386 105.9 L1384.1 112 L1384.1 116.9 L1386.6 119.3 L1389.6 121.7 L1388.4 126.6 L1386 130.3 L1386.6 133.9 L1390.2 137.5 L1389 141.8 L1392.6 143.6 L1395.1 148.5 L1392.6 154.6 L1392 160.6 L1395.1 166.7 L1398.7 172.8 L1399.9 180.1 L1403.6 183.7 L1405.4 191 L1406.6 198.3 L1405.4 203.2 L1403.6 211.7 L1401.1 217.8 L1397.5 221.4 L1396.9 228.7 L1394.4 237.2 L1393.3 247 L1393.8 254.3 L1395.1 261.6 L1397.5 268.8 L1398.7 278.6 L1400.5 285.9 L1401.7 293.2 L1406 296.8 L1409.6 295.6 L1413.8 299.2 L1410.8 302.9 L1407.2 305.3 L1408.4 310.2 L1412 312.6 L1409.6 317.5 L1406 321.1 L1406.6 329.6 L1406.6 338.1 L1410.8 342.4 L1416.9 345.4 L1413.3 347.9 L1411.4 353.9 L1413.3 361.2 L1416.9 364.9 L1418.1 371 L1420.5 377 L1421.8 385.6 L1424.2 388 L1424.8 397.7 L1427.2 407.4 L1428.4 414.7 L1430.2 419.6 L1429.7 429.3 L1431.5 437.8 L1433.9 445.1 L1436.3 450 L1435.6 456.6 L1436.1 463.4 L1440 473.1 L1442.4 482.8 L1444.8 490.1 L1450.9 496.2 L1454.5 503.5 L1458.1 509.6 L1464.2 519.3 L1469.1 531.4 L1470.3 543.6 L1475.1 552.1 L1482.4 558.2 L1488.5 565.5 L1493.3 571.6 L1495.8 577.6 L1498.2 584.9 L1500.6 594.7 L1503 604.4 L1507.9 612.9 L1510.3 623.8 L1514 632.4 L1515.2 643.3 L1516.4 654.2 L1518.8 665.2 L1521.2 674.9 L1524.9 684.6 L1529.7 694.4 L1532.2 701.7 L1535.8 708.9 L1540.7 719.9 L1544.3 728.4 L1550.4 736.9 L1557.6 744.2 L1563.7 751.5 L1568.6 760 L1574.6 769.7 L1579.5 778.2 L1581.9 786.8 L1585.5 798.9 L1588 808.6 L1592.8 818.4 L1595.2 828.1 L1598.9 837.8 L1602.5 850 L1607.4 862.1 L1609.8 874.3 L1612.2 886.4 L1617.1 898.6 L1621.9 908.3 L1626.8 918.1 L1631.6 927.8 L1636.5 936.3 L1642.6 943.6 L1649.8 950.9 L1658.3 959.4 L1666.8 965.5 L1675.3 969.7 L1681.4 969.1 L1688.7 965.5 L1698.4 959.4 L1708.1 953.3 L1715.4 948.5 L1716.6 939.9 L1718.4 927.8 L1719.6 919.3 L1725.1 913.2 L1728.7 909.5 L1740.8 905.9 L1753 902.3 L1768.8 897.4 L1768.8 892.3 L1765.6 889.4 L1763.9 882.6 L1765.6 875.7 L1768.8 872.8Z" fill="#616161"/>
<ellipse cx="1768.8" cy="884" rx="5" ry="9.5" fill="#fff"/>
</g>
<path fill="#fff" fill-rule="evenodd" d="M1110.4 50.6H1774.8V1104.1H1110.4Z M1116.6 56.6H1768.8V1097.9H1116.6Z"/>
<rect x="1110.4" y="50.6" width="664.4" height="1053.5" fill="none" stroke="#8a8a8a" stroke-width="1"/>
<rect x="1109.9" y="49.3" width="665.4" height="3.3" fill="#cacaca"/>
<rect x="1116.6" y="56.6" width="652.2" height="1041.3" fill="none" stroke="#8a8a8a" stroke-width="1"/>
<path fill="#000" d="M1174.2 51.2H1233.7V57H1174.2ZM1174.2 1097.7H1233.7V1103.5H1174.2ZM1293.2 51.2H1352.6V57H1293.2ZM1293.2 1097.7H1352.6V1103.5H1293.2ZM1412 51.2H1471.5V57H1412ZM1412 1097.7H1471.5V1103.5H1412ZM1531 51.2H1590.4V57H1531ZM1531 1097.7H1590.4V1103.5H1531ZM1649.8 51.2H1709.3V57H1649.8ZM1649.8 1097.7H1709.3V1103.5H1649.8ZM1110.8 116.2H1116.1V177.6H1110.8ZM1769.1 116.2H1774.5V177.6H1769.1ZM1110.8 239H1116.1V300.4H1110.8ZM1769.1 239H1774.5V300.4H1769.1ZM1110.8 361.7H1116.1V423.1H1110.8ZM1769.1 361.7H1774.5V423.1H1769.1ZM1110.8 484.5H1116.1V545.8H1110.8ZM1769.1 484.5H1774.5V545.8H1769.1ZM1110.8 607.2H1116.1V668.6H1110.8ZM1769.1 607.2H1774.5V668.6H1769.1ZM1110.8 729.9H1116.1V791.3H1110.8ZM1769.1 729.9H1774.5V791.3H1769.1ZM1110.8 852.7H1116.1V914.1H1110.8ZM1769.1 852.7H1774.5V914.1H1769.1ZM1110.8 975.4H1116.1V1036.8H1110.8ZM1769.1 975.4H1774.5V1036.8H1769.1Z"/>
<text x="1114.3" y="1152.6" text-anchor="middle" class="bi">68°E</text>
<text x="1352.1" y="1152.6" text-anchor="middle" class="bi">72°E</text>
<text x="1589.9" y="1152.6" text-anchor="middle" class="bi">76°E</text>
<path d="M1830.4 55.5L1856.3 39.4L1882.3 55.5Z" fill="#FFBE85" stroke="#7a5a3a" stroke-width="0.6"/>
<path d="M1830.4 1097.6L1856.3 1114.4L1882.3 1097.6Z" fill="#D078FC" stroke="#6a3a8a" stroke-width="0.6"/>
<rect x="1830.4" y="55" width="51.9" height="1043.1" fill="url(#cbB)"/>
<path d="M1830.4 55V1098.1M1882.3 55V1098.1" stroke="#000" stroke-opacity="0.45" stroke-width="0.9" fill="none"/>
<path d="M1828.6 1098.1h12.5M1883.1 1098.1h-12M1828.6 908.5h12.5M1883.1 908.5h-12M1828.6 718.9h12.5M1883.1 718.9h-12M1828.6 529.2h12.5M1883.1 529.2h-12M1828.6 339.6h12.5M1883.1 339.6h-12M1828.6 150h12.5M1883.1 150h-12" stroke="#000" stroke-opacity="0.85" stroke-width="2.3" fill="none"/>
<text x="1894.5" y="1112.1" class="ci">0</text>
<text x="1894.5" y="922.5" class="ci">0.2</text>
<text x="1894.5" y="732.9" class="ci">0.4</text>
<text x="1894.5" y="543.2" class="ci">0.6</text>
<text x="1894.5" y="353.6" class="ci">0.8</text>
<text x="1896" y="163" class="bi">1</text>
<text x="1015" y="42.6" class="b" clip-path="url(#tB)">(b)</text>
</g>
</svg>
</body></html>
